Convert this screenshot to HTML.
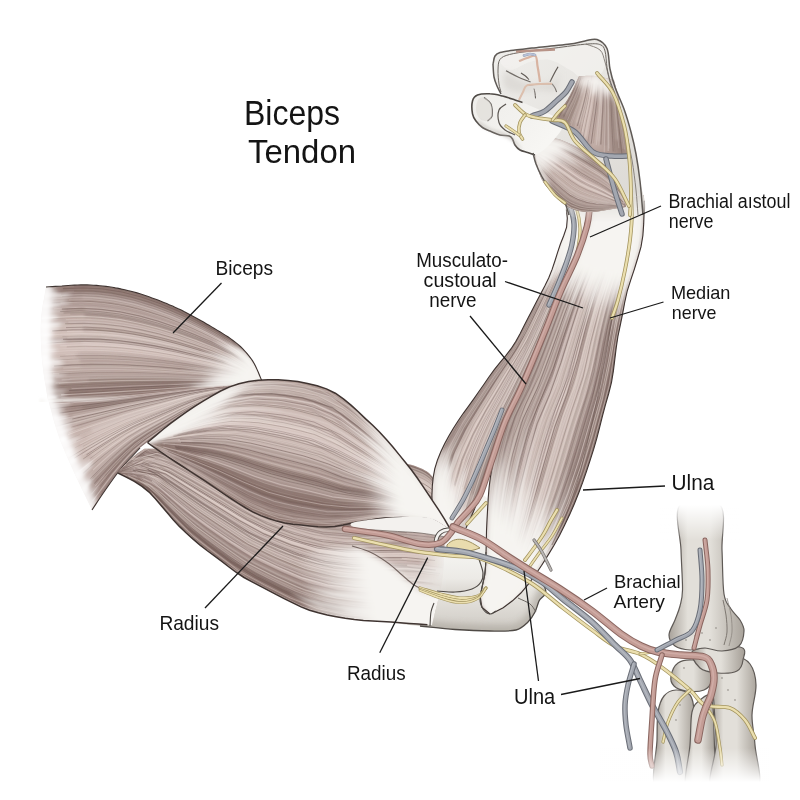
<!DOCTYPE html>
<html><head><meta charset="utf-8"><style>
html,body{margin:0;padding:0;background:#fff;width:800px;height:800px;overflow:hidden}
svg{display:block}
text{font-family:"Liberation Sans",sans-serif;fill:#141414}
</style></head><body>
<svg width="800" height="800" viewBox="0 0 800 800">
<defs><filter id="bl3" x="-20%" y="-20%" width="140%" height="140%"><feGaussianBlur stdDeviation="3"/></filter><filter id="bl06" x="-5%" y="-5%" width="110%" height="110%"><feGaussianBlur stdDeviation="0.6"/></filter><filter id="bl15" x="-10%" y="-10%" width="120%" height="120%"><feGaussianBlur stdDeviation="1.5"/></filter><linearGradient id="g1" gradientUnits="userSpaceOnUse" x1="470.0" y1="545.0" x2="470.0" y2="636.0"><stop offset="0" stop-color="#f2f1ee" stop-opacity="1"/><stop offset="0.5" stop-color="#e8e6e1" stop-opacity="1"/><stop offset="0.85" stop-color="#d4d0ca" stop-opacity="1"/><stop offset="1" stop-color="#c8c4bd" stop-opacity="1"/></linearGradient><clipPath id="c1"><path id="p1" d="M360.0,535.0 C363.3,520.8 384.2,526.7 400.0,525.0 C415.8,523.3 443.3,527.8 455.0,525.0 C466.7,522.2 464.7,512.5 470.0,508.0 C475.3,503.5 478.7,490.2 487.0,498.0 C495.3,505.8 510.3,540.0 520.0,555.0 C529.7,570.0 541.8,580.3 545.0,588.0 C548.2,595.7 540.7,597.0 539.0,601.0 C537.3,605.0 536.8,608.5 535.0,612.0 C533.2,615.5 531.2,619.0 528.0,622.0 C524.8,625.0 522.3,628.5 516.0,630.0 C509.7,631.5 500.2,631.1 490.0,631.0 C479.8,630.9 466.7,630.3 455.0,629.5 C443.3,628.7 430.0,627.2 420.0,626.0 C410.0,624.8 401.7,624.7 395.0,622.0 C388.3,619.3 385.8,624.5 380.0,610.0 C374.2,595.5 356.7,549.2 360.0,535.0 Z"/></clipPath><clipPath id="c2"><path id="p2" d="M398.0,462.0 L399.3,462.3 L400.6,462.6 L402.0,462.8 L403.3,463.1 L404.6,463.4 L406.0,463.6 L407.3,463.9 L408.6,464.2 L409.9,464.5 L411.3,464.8 L412.6,465.2 L413.9,465.6 L415.1,466.0 L416.4,466.5 L417.7,467.0 L418.9,467.5 L420.2,468.0 L421.4,468.5 L422.7,469.1 L423.9,469.7 L425.1,470.4 L426.2,471.1 L427.4,471.8 L428.4,472.6 L429.5,473.5 L430.4,474.4 L431.4,475.5 L432.2,476.5 L433.0,477.6 L433.7,478.8 L434.4,479.9 L435.1,481.1 L435.7,482.3 L436.4,483.5 L437.0,484.7 L437.7,485.9 L438.3,487.1 L439.0,488.3 L439.6,489.4 L440.0,490.0 L440.3,491.5 L440.5,493.0 L440.8,494.6 L441.0,496.1 L441.3,497.6 L441.5,499.1 L441.8,500.6 L442.0,502.2 L442.3,503.7 L442.5,505.2 L442.8,506.7 L443.0,508.2 L443.3,509.7 L443.5,511.3 L443.8,512.8 L444.1,514.3 L444.3,515.8 L444.6,517.3 L444.8,518.9 L445.0,520.0 L444.5,519.7 L443.5,519.1 L442.6,518.5 L441.6,517.9 L440.6,517.3 L439.7,516.7 L438.7,516.1 L437.7,515.5 L436.8,514.9 L435.8,514.3 L434.8,513.7 L433.9,513.1 L432.9,512.5 L431.9,511.9 L430.9,511.3 L430.0,510.7 L429.0,510.1 L428.0,509.5 L427.1,508.9 L426.1,508.3 L425.1,507.7 L424.2,507.1 L423.2,506.6 L422.2,506.0 L421.1,505.5 L420.1,505.1 L419.1,504.6 L418.0,504.2 L416.9,503.8 L415.9,503.4 L414.8,503.0 L413.7,502.7 L412.6,502.4 L411.5,502.0 L410.4,501.7 L409.3,501.4 L408.3,501.0 L407.2,500.7 L406.1,500.4 L405.0,500.0 L404.7,498.6 L404.4,496.6 L404.0,494.7 L403.7,492.8 L403.3,490.9 L403.0,488.9 L402.6,487.0 L402.3,485.1 L401.9,483.2 L401.5,481.2 L401.2,479.3 L400.8,477.4 L400.5,475.5 L400.1,473.5 L399.8,471.6 L399.4,469.7 L399.1,467.8 L398.7,465.8 L398.4,463.9 L398.0,462.0 Z"/></clipPath><linearGradient id="g2" gradientUnits="userSpaceOnUse" x1="531.3" y1="484.2" x2="493.2" y2="519.1"><stop offset="0" stop-color="#f6f4f1" stop-opacity="0"/><stop offset="1" stop-color="#f6f4f1" stop-opacity="1"/></linearGradient><linearGradient id="g3" x1="1" y1="0" x2="0" y2="1"><stop offset="0" stop-color="#f6f4f1" stop-opacity="0"/><stop offset="0.3" stop-color="#f6f4f1"/><stop offset="1" stop-color="#f6f4f1"/></linearGradient><linearGradient id="g4" gradientUnits="userSpaceOnUse" x1="589.0" y1="308.9" x2="596.9" y2="270.1"><stop offset="0" stop-color="#f6f4f1" stop-opacity="0"/><stop offset="1" stop-color="#f6f4f1" stop-opacity="1"/></linearGradient><linearGradient id="g5" x1="0" y1="1" x2="1" y2="0"><stop offset="0" stop-color="#f6f4f1" stop-opacity="0"/><stop offset="0.3" stop-color="#f6f4f1"/><stop offset="1" stop-color="#f6f4f1"/></linearGradient><clipPath id="c3"><path id="p3" d="M490.0,614.0 L481.8,607.1 L480.2,596.4 L482.4,585.6 L484.7,574.9 L485.7,564.0 L486.0,553.0 L486.3,542.0 L486.5,531.1 L487.0,520.1 L487.6,509.1 L488.2,498.2 L489.1,487.2 L490.5,476.3 L492.4,465.5 L494.5,454.7 L497.0,444.0 L499.8,433.4 L503.0,422.9 L506.9,412.6 L511.8,402.8 L517.6,393.5 L522.6,383.7 L527.0,373.7 L531.3,363.6 L535.5,353.4 L539.6,343.2 L543.7,333.1 L547.9,322.9 L551.8,312.6 L555.8,302.4 L559.9,292.2 L564.4,282.2 L569.1,272.3 L573.8,262.3 L578.1,252.3 L582.2,242.0 L585.9,231.7 L589.0,221.2 L591.1,210.4 L592.0,205.0 L594.6,204.5 L597.3,204.0 L599.9,203.5 L602.5,203.0 L605.2,202.5 L607.8,202.0 L610.4,201.5 L613.1,200.9 L615.7,200.4 L618.3,199.9 L621.0,199.4 L623.6,198.9 L626.2,198.4 L628.9,197.9 L631.5,197.4 L634.1,196.9 L636.8,196.4 L639.4,195.9 L642.0,195.4 L644.0,195.0 L644.1,200.8 L644.1,212.4 L643.7,223.9 L642.9,235.5 L641.0,246.9 L637.8,258.0 L634.4,269.1 L630.7,280.1 L627.2,291.1 L624.7,302.4 L622.6,313.8 L620.3,325.1 L617.9,336.5 L616.2,347.9 L614.8,359.4 L613.4,370.9 L611.5,382.3 L608.7,393.5 L605.5,404.6 L602.5,415.8 L599.7,427.1 L596.8,438.3 L593.6,449.4 L590.1,460.4 L586.5,471.4 L582.7,482.4 L578.6,493.2 L574.3,504.0 L569.7,514.6 L564.7,525.0 L559.5,535.4 L553.9,545.5 L547.9,555.4 L541.7,565.2 L535.3,574.8 L528.4,584.1 L520.9,593.0 L512.5,600.8 L503.2,607.8 L493.0,613.0 L492.9,613.0 L492.7,613.1 L492.6,613.1 L492.4,613.2 L492.3,613.2 L492.1,613.3 L492.0,613.3 L491.8,613.4 L491.7,613.4 L491.5,613.5 L491.4,613.5 L491.2,613.6 L491.1,613.6 L490.9,613.7 L490.8,613.7 L490.6,613.8 L490.5,613.8 L490.3,613.9 L490.2,613.9 L490.0,614.0 Z"/></clipPath><linearGradient id="g6" gradientUnits="userSpaceOnUse" x1="457.8" y1="480.8" x2="442.9" y2="484.9"><stop offset="0" stop-color="#f6f4f1" stop-opacity="0"/><stop offset="1" stop-color="#f6f4f1" stop-opacity="1"/></linearGradient><linearGradient id="g7" x1="0" y1="0" x2="0" y2="1"><stop offset="0" stop-color="#f6f4f1" stop-opacity="0"/><stop offset="0.3" stop-color="#f6f4f1"/><stop offset="1" stop-color="#f6f4f1"/></linearGradient><linearGradient id="g8" gradientUnits="userSpaceOnUse" x1="560.4" y1="272.2" x2="548.8" y2="256.7"><stop offset="0" stop-color="#f6f4f1" stop-opacity="0"/><stop offset="1" stop-color="#f6f4f1" stop-opacity="1"/></linearGradient><clipPath id="c4"><path id="p4" d="M433.0,522.0 L432.6,513.1 L432.1,504.2 L431.9,495.2 L432.3,486.3 L433.2,477.4 L434.8,468.6 L437.4,460.1 L440.8,451.8 L444.6,443.7 L448.8,435.9 L453.4,428.2 L458.2,420.7 L463.3,413.3 L468.6,406.1 L473.8,398.9 L478.9,391.5 L484.0,384.2 L489.1,376.8 L494.3,369.6 L499.9,362.6 L505.6,355.8 L511.1,348.7 L515.9,341.2 L520.2,333.4 L524.2,325.4 L528.3,317.4 L532.5,309.5 L536.6,301.6 L540.7,293.7 L544.9,285.8 L548.8,277.8 L552.1,269.4 L554.9,261.0 L557.6,252.4 L560.4,244.0 L563.7,235.7 L566.6,227.2 L567.3,218.3 L566.4,209.5 L566.0,205.0 L567.1,205.0 L568.2,205.0 L569.3,205.0 L570.5,205.0 L571.6,205.0 L572.7,205.0 L573.8,205.0 L574.9,205.0 L576.0,205.0 L577.1,205.0 L578.3,205.0 L579.4,205.0 L580.5,205.0 L581.6,205.0 L582.7,205.0 L583.8,205.0 L584.9,205.0 L586.1,205.0 L587.2,205.0 L588.0,205.0 L587.4,209.3 L586.3,218.0 L584.6,226.6 L582.8,235.2 L580.6,243.7 L578.0,252.1 L574.9,260.3 L571.2,268.2 L567.4,276.1 L563.6,284.0 L560.0,292.0 L556.7,300.1 L553.5,308.3 L550.4,316.5 L547.2,324.6 L543.9,332.8 L540.5,340.9 L537.2,349.0 L533.8,357.1 L530.4,365.2 L527.0,373.2 L523.6,381.3 L520.1,389.3 L516.4,397.3 L512.6,405.2 L508.8,413.1 L505.3,421.1 L502.2,429.3 L499.4,437.6 L496.6,445.9 L493.9,454.3 L491.1,462.6 L488.3,470.9 L485.5,479.2 L482.7,487.5 L479.7,495.7 L476.6,503.9 L473.3,512.0 L469.7,520.1 L466.0,528.0 L464.7,527.8 L463.1,527.5 L461.4,527.2 L459.7,526.9 L458.1,526.6 L456.4,526.3 L454.7,525.9 L453.1,525.6 L451.4,525.3 L449.7,525.0 L448.0,524.7 L446.4,524.4 L444.7,524.1 L443.0,523.8 L441.4,523.5 L439.7,523.2 L438.0,522.9 L436.3,522.6 L434.7,522.3 L433.0,522.0 Z"/></clipPath><linearGradient id="g9" gradientUnits="userSpaceOnUse" x1="212.8" y1="369.4" x2="225.2" y2="386.5"><stop offset="0" stop-color="#f6f4f1" stop-opacity="0"/><stop offset="1" stop-color="#f6f4f1" stop-opacity="1"/></linearGradient><linearGradient id="g10" x1="0" y1="0" x2="1" y2="1"><stop offset="0" stop-color="#f6f4f1" stop-opacity="0"/><stop offset="0.3" stop-color="#f6f4f1"/><stop offset="1" stop-color="#f6f4f1"/></linearGradient><linearGradient id="g11" x1="0" y1="0" x2="1" y2="0"><stop offset="0" stop-color="#f6f4f1" stop-opacity="0"/><stop offset="0.3" stop-color="#f6f4f1"/><stop offset="1" stop-color="#f6f4f1"/></linearGradient><linearGradient id="g12" gradientUnits="userSpaceOnUse" x1="58.5" y1="343.3" x2="46.7" y2="343.3"><stop offset="0" stop-color="#ffffff" stop-opacity="0"/><stop offset="1" stop-color="#ffffff" stop-opacity="1"/></linearGradient><linearGradient id="g13" x1="1" y1="0" x2="0" y2="0"><stop offset="0" stop-color="#ffffff" stop-opacity="0"/><stop offset="0.3" stop-color="#ffffff"/><stop offset="1" stop-color="#ffffff"/></linearGradient><clipPath id="c5"><path id="p5" d="M46.0,287.0 L52.3,286.6 L58.6,286.2 L65.0,285.7 L71.3,285.3 L77.6,285.0 L83.9,284.9 L90.3,285.0 L96.6,285.4 L102.9,286.0 L109.1,286.8 L115.4,287.9 L121.6,289.1 L127.8,290.5 L133.9,292.0 L140.0,293.8 L146.0,295.8 L152.0,297.9 L157.9,300.1 L163.8,302.4 L169.7,304.9 L175.4,307.4 L181.2,310.1 L186.8,313.0 L192.4,316.0 L197.9,319.0 L203.5,322.1 L209.0,325.3 L214.4,328.5 L219.9,331.7 L225.2,335.1 L230.5,338.6 L235.5,342.4 L240.4,346.5 L244.8,351.0 L248.9,355.8 L252.6,360.9 L255.7,366.5 L258.3,372.3 L260.7,378.1 L262.0,381.0 L261.8,381.1 L261.6,381.2 L261.4,381.3 L261.2,381.4 L261.0,381.5 L260.8,381.6 L260.6,381.7 L260.4,381.8 L260.2,381.9 L260.0,382.0 L259.8,382.1 L259.6,382.2 L259.4,382.3 L259.2,382.4 L259.0,382.5 L258.8,382.6 L258.6,382.7 L258.4,382.8 L258.2,382.9 L258.0,383.0 L255.3,383.2 L250.0,383.7 L244.7,384.1 L239.4,384.6 L234.1,385.1 L228.8,385.7 L223.5,386.3 L218.2,386.9 L212.9,387.6 L207.6,388.2 L202.3,388.8 L197.0,389.3 L191.6,389.9 L186.3,390.4 L181.0,391.0 L175.7,391.5 L170.4,392.1 L165.1,392.6 L159.8,393.1 L154.5,393.6 L149.2,394.1 L143.8,394.5 L138.5,395.0 L133.2,395.5 L127.9,395.9 L122.6,396.3 L117.2,396.7 L111.9,397.1 L106.6,397.5 L101.3,397.9 L96.0,398.3 L90.6,398.6 L85.3,398.9 L80.0,399.2 L74.6,399.5 L69.3,399.8 L64.0,400.1 L58.7,400.4 L53.3,400.7 L48.0,401.0 L47.3,396.7 L46.4,390.9 L45.5,385.2 L44.5,379.5 L43.6,373.7 L42.9,368.0 L42.2,362.2 L41.7,356.4 L41.3,350.6 L41.0,344.8 L40.8,338.9 L40.7,333.1 L40.7,327.3 L40.9,321.5 L41.3,315.7 L42.0,309.9 L42.9,304.2 L44.0,298.5 L45.0,292.7 L46.0,287.0 Z"/></clipPath><linearGradient id="g14" gradientUnits="userSpaceOnUse" x1="80.5" y1="448.6" x2="69.1" y2="452.9"><stop offset="0" stop-color="#ffffff" stop-opacity="0"/><stop offset="1" stop-color="#ffffff" stop-opacity="1"/></linearGradient><linearGradient id="g15" x1="1" y1="0" x2="0" y2="1"><stop offset="0" stop-color="#ffffff" stop-opacity="0"/><stop offset="0.3" stop-color="#ffffff"/><stop offset="1" stop-color="#ffffff"/></linearGradient><clipPath id="c6"><path id="p6" d="M48.0,399.0 L52.9,398.8 L57.7,398.7 L62.6,398.5 L67.5,398.3 L72.4,398.2 L77.2,398.0 L82.1,397.8 L87.0,397.6 L91.8,397.4 L96.7,397.2 L101.6,396.9 L106.4,396.6 L111.3,396.3 L116.2,395.9 L121.0,395.5 L125.9,395.1 L130.8,394.7 L135.6,394.3 L140.5,393.9 L145.3,393.4 L150.2,393.0 L155.0,392.5 L159.9,392.1 L164.7,391.6 L169.6,391.1 L174.4,390.6 L179.3,390.1 L184.1,389.6 L189.0,389.1 L193.8,388.6 L198.7,388.1 L203.5,387.7 L208.4,387.3 L213.3,386.9 L218.1,386.6 L223.0,386.2 L227.8,385.9 L232.7,385.5 L237.6,385.2 L240.0,385.0 L240.0,385.2 L240.0,385.4 L240.0,385.6 L240.0,385.8 L240.0,386.0 L240.0,386.2 L240.0,386.4 L240.0,386.6 L240.0,386.8 L240.0,387.0 L240.0,387.2 L240.0,387.4 L240.0,387.6 L240.0,387.8 L240.0,388.0 L240.0,388.2 L240.0,388.4 L240.0,388.6 L240.0,388.8 L240.0,389.0 L237.7,390.0 L233.1,391.8 L228.5,393.7 L223.9,395.5 L219.4,397.3 L214.8,399.2 L210.2,401.1 L205.7,403.2 L201.3,405.3 L196.9,407.7 L192.7,410.2 L188.5,412.9 L184.4,415.7 L180.4,418.5 L176.4,421.4 L172.4,424.3 L168.3,427.2 L164.2,430.0 L160.2,432.8 L156.1,435.6 L152.1,438.5 L148.1,441.5 L144.2,444.5 L140.4,447.6 L136.8,451.0 L133.3,454.5 L129.9,458.1 L126.7,461.9 L123.5,465.7 L120.4,469.5 L117.3,473.4 L114.3,477.3 L111.4,481.3 L108.6,485.4 L105.8,489.5 L102.9,493.5 L100.2,497.6 L97.4,501.7 L94.7,505.9 L92.0,510.0 L90.0,505.9 L87.3,500.5 L84.7,495.0 L82.0,489.6 L79.4,484.1 L76.8,478.6 L74.2,473.1 L71.7,467.6 L69.3,462.1 L66.8,456.5 L64.5,450.9 L62.1,445.3 L59.9,439.7 L57.9,434.0 L56.0,428.2 L54.2,422.4 L52.6,416.6 L51.1,410.7 L49.5,404.9 L48.0,399.0 Z"/></clipPath><linearGradient id="g16" gradientUnits="userSpaceOnUse" x1="45.0" y1="400.0" x2="140.0" y2="396.0"><stop offset="0" stop-color="#f4f2ef" stop-opacity="0.95"/><stop offset="0.5" stop-color="#f4f2ef" stop-opacity="0.6"/><stop offset="1" stop-color="#f4f2ef" stop-opacity="0"/></linearGradient><linearGradient id="g17" gradientUnits="userSpaceOnUse" x1="305.0" y1="612.0" x2="372.0" y2="600.0"><stop offset="0" stop-color="#f6f4f1" stop-opacity="0"/><stop offset="1" stop-color="#f6f4f1" stop-opacity="1"/></linearGradient><clipPath id="c7"><path id="p7" d="M118.0,472.0 L124.1,465.5 L130.3,459.1 L137.1,453.4 L144.5,448.5 L153.3,448.4 L161.9,450.8 L170.2,453.9 L178.5,457.3 L186.6,461.0 L194.6,464.8 L202.6,468.9 L210.5,473.0 L218.3,477.1 L226.2,481.4 L233.9,485.8 L241.6,490.3 L249.3,494.7 L257.3,498.7 L265.4,502.4 L273.7,505.7 L282.0,508.7 L290.5,511.4 L299.1,513.8 L307.8,515.8 L316.5,517.5 L325.4,518.7 L334.2,519.6 L343.1,520.1 L352.0,520.0 L360.9,519.4 L369.8,518.7 L378.7,518.1 L387.6,517.6 L396.5,517.1 L405.4,516.8 L414.3,517.0 L423.1,517.9 L431.9,519.4 L440.6,521.2 L445.0,522.0 L444.8,527.3 L444.7,532.6 L444.7,537.8 L444.6,543.1 L444.6,548.4 L444.5,553.7 L444.3,559.0 L444.0,564.2 L443.6,569.5 L443.0,574.7 L442.3,580.0 L441.4,585.2 L440.3,590.3 L439.2,595.5 L438.0,600.6 L436.7,605.8 L435.4,610.9 L434.1,616.0 L432.9,621.1 L432.0,625.0 L427.4,624.7 L418.3,624.0 L409.2,623.4 L400.0,622.7 L390.9,622.1 L381.7,621.5 L372.6,621.0 L363.4,620.4 L354.3,619.5 L345.2,618.3 L336.2,616.7 L327.2,614.9 L318.3,612.8 L309.5,610.2 L301.0,606.9 L292.8,602.9 L284.6,598.8 L276.4,594.7 L268.3,590.4 L260.2,586.1 L252.1,581.8 L244.0,577.5 L236.3,572.5 L229.0,567.0 L221.8,561.4 L214.4,555.9 L207.0,550.5 L199.8,544.8 L192.8,538.9 L186.0,532.8 L179.4,526.4 L173.2,519.7 L167.3,512.7 L161.3,505.7 L155.4,498.8 L149.1,492.1 L142.0,486.3 L134.3,481.4 L126.2,477.1 L118.0,473.0 L118.0,473.0 L118.0,472.9 L118.0,472.9 L118.0,472.8 L118.0,472.8 L118.0,472.7 L118.0,472.7 L118.0,472.6 L118.0,472.6 L118.0,472.5 L118.0,472.5 L118.0,472.4 L118.0,472.4 L118.0,472.3 L118.0,472.3 L118.0,472.2 L118.0,472.2 L118.0,472.1 L118.0,472.1 L118.0,472.0 Z"/></clipPath><linearGradient id="g18" gradientUnits="userSpaceOnUse" x1="364.2" y1="467.1" x2="397.9" y2="464.6"><stop offset="0" stop-color="#f6f4f1" stop-opacity="0"/><stop offset="1" stop-color="#f6f4f1" stop-opacity="1"/></linearGradient><linearGradient id="g19" gradientUnits="userSpaceOnUse" x1="148.0" y1="442.1" x2="260.5" y2="392.5"><stop offset="0" stop-color="#f7f5f2" stop-opacity="1"/><stop offset="0.75" stop-color="#f7f5f2" stop-opacity="0.95"/><stop offset="1" stop-color="#f7f5f2" stop-opacity="0"/></linearGradient><clipPath id="c8"><path id="p8" d="M148.0,442.0 L155.6,435.7 L163.2,429.3 L170.9,423.1 L178.8,417.3 L186.9,411.6 L195.1,406.1 L203.5,400.9 L212.0,395.8 L220.6,391.0 L229.6,386.9 L238.9,383.8 L248.6,381.6 L258.3,380.3 L268.2,379.8 L278.1,379.8 L287.9,380.4 L297.7,381.6 L307.5,383.4 L317.1,385.7 L326.4,388.9 L335.3,393.2 L343.4,398.8 L351.0,405.1 L358.3,411.8 L365.4,418.6 L372.7,425.3 L379.7,432.3 L386.4,439.5 L392.9,447.0 L399.1,454.6 L405.3,462.3 L411.5,470.0 L417.3,478.0 L422.8,486.2 L428.3,494.4 L433.8,502.6 L439.3,510.8 L444.5,519.2 L449.5,527.8 L452.0,532.0 L452.0,532.0 L452.0,532.0 L452.0,532.0 L452.0,532.0 L452.0,532.0 L452.0,532.0 L452.0,532.0 L452.0,532.0 L452.0,532.0 L452.0,532.0 L452.0,532.0 L452.0,532.0 L452.0,532.0 L452.0,532.0 L452.0,532.0 L452.0,532.0 L452.0,532.0 L452.0,532.0 L452.0,532.0 L452.0,532.0 L448.5,529.7 L441.7,524.8 L434.4,520.6 L426.4,518.4 L418.0,518.1 L409.6,517.8 L401.2,517.6 L392.8,517.7 L384.4,518.1 L376.1,519.1 L367.8,520.4 L359.5,521.7 L351.3,523.3 L343.1,525.1 L334.8,526.6 L326.5,527.1 L318.1,526.8 L309.7,526.0 L301.4,525.1 L293.0,524.3 L284.7,523.1 L276.6,521.1 L268.6,518.5 L260.8,515.6 L253.1,512.1 L245.8,508.0 L238.7,503.6 L231.6,499.0 L224.6,494.4 L217.7,489.7 L210.8,484.9 L203.8,480.2 L196.8,475.6 L189.8,471.1 L182.7,466.5 L175.7,462.0 L168.6,457.4 L161.7,452.7 L154.8,447.9 L148.0,443.0 L148.0,443.0 L148.0,442.9 L148.0,442.9 L148.0,442.8 L148.0,442.8 L148.0,442.7 L148.0,442.7 L148.0,442.6 L148.0,442.6 L148.0,442.5 L148.0,442.5 L148.0,442.4 L148.0,442.4 L148.0,442.3 L148.0,442.3 L148.0,442.2 L148.0,442.2 L148.0,442.1 L148.0,442.1 L148.0,442.0 Z"/></clipPath><linearGradient id="g20" gradientUnits="userSpaceOnUse" x1="450.0" y1="555.0" x2="450.0" y2="594.0"><stop offset="0" stop-color="#f4f3f0" stop-opacity="1"/><stop offset="0.6" stop-color="#eceae6" stop-opacity="1"/><stop offset="1" stop-color="#d9d5cf" stop-opacity="1"/></linearGradient><linearGradient id="g21" gradientUnits="userSpaceOnUse" x1="418.0" y1="0.0" x2="446.0" y2="0.0"><stop offset="0" stop-color="#ffffff" stop-opacity="0"/><stop offset="1" stop-color="#ffffff" stop-opacity="1"/></linearGradient><mask id="bulmask" maskUnits="userSpaceOnUse" x="0" y="0" width="800" height="800"><rect x="400" y="540" width="100" height="70" fill="url(#g21)"/></mask><linearGradient id="g22" gradientUnits="userSpaceOnUse" x1="656.0" y1="790.0" x2="694.0" y2="790.0"><stop offset="0" stop-color="#a9a39b" stop-opacity="1"/><stop offset="0.25" stop-color="#e2dfd9" stop-opacity="1"/><stop offset="0.55" stop-color="#e2dfd9" stop-opacity="1"/><stop offset="1" stop-color="#a9a39b" stop-opacity="1"/></linearGradient><linearGradient id="g23" gradientUnits="userSpaceOnUse" x1="686.0" y1="790.0" x2="714.0" y2="790.0"><stop offset="0" stop-color="#a9a39b" stop-opacity="1"/><stop offset="0.25" stop-color="#e2dfd9" stop-opacity="1"/><stop offset="0.55" stop-color="#e2dfd9" stop-opacity="1"/><stop offset="1" stop-color="#a9a39b" stop-opacity="1"/></linearGradient><linearGradient id="g24" gradientUnits="userSpaceOnUse" x1="712.0" y1="790.0" x2="757.0" y2="790.0"><stop offset="0" stop-color="#a9a39b" stop-opacity="1"/><stop offset="0.25" stop-color="#e2dfd9" stop-opacity="1"/><stop offset="0.55" stop-color="#e2dfd9" stop-opacity="1"/><stop offset="1" stop-color="#a9a39b" stop-opacity="1"/></linearGradient><linearGradient id="g25" gradientUnits="userSpaceOnUse" x1="671.0" y1="676.0" x2="712.0" y2="676.0"><stop offset="0" stop-color="#a9a39b" stop-opacity="1"/><stop offset="0.25" stop-color="#e2dfd9" stop-opacity="1"/><stop offset="0.55" stop-color="#e2dfd9" stop-opacity="1"/><stop offset="1" stop-color="#a9a39b" stop-opacity="1"/></linearGradient><linearGradient id="g26" gradientUnits="userSpaceOnUse" x1="694.0" y1="650.0" x2="743.0" y2="650.0"><stop offset="0" stop-color="#a9a39b" stop-opacity="1"/><stop offset="0.25" stop-color="#e2dfd9" stop-opacity="1"/><stop offset="0.55" stop-color="#e2dfd9" stop-opacity="1"/><stop offset="1" stop-color="#a9a39b" stop-opacity="1"/></linearGradient><linearGradient id="g27" gradientUnits="userSpaceOnUse" x1="669.0" y1="505.0" x2="744.0" y2="505.0"><stop offset="0" stop-color="#a9a39b" stop-opacity="1"/><stop offset="0.25" stop-color="#e2dfd9" stop-opacity="1"/><stop offset="0.55" stop-color="#e2dfd9" stop-opacity="1"/><stop offset="1" stop-color="#a9a39b" stop-opacity="1"/></linearGradient><linearGradient id="g28" gradientUnits="userSpaceOnUse" x1="0.0" y1="505.0" x2="0.0" y2="540.0"><stop offset="0" stop-color="#ffffff" stop-opacity="1"/><stop offset="1" stop-color="#ffffff" stop-opacity="0"/></linearGradient><linearGradient id="g29" gradientUnits="userSpaceOnUse" x1="0.0" y1="748.0" x2="0.0" y2="782.0"><stop offset="0" stop-color="#ffffff" stop-opacity="0"/><stop offset="1" stop-color="#ffffff" stop-opacity="1"/></linearGradient><linearGradient id="g30" gradientUnits="userSpaceOnUse" x1="500.0" y1="50.0" x2="640.0" y2="200.0"><stop offset="0" stop-color="#eeedea" stop-opacity="1"/><stop offset="0.5" stop-color="#e6e4e0" stop-opacity="1"/><stop offset="1" stop-color="#dcd9d4" stop-opacity="1"/></linearGradient><linearGradient id="g31" gradientUnits="userSpaceOnUse" x1="0.0" y1="192.0" x2="0.0" y2="222.0"><stop offset="0" stop-color="#ffffff" stop-opacity="1"/><stop offset="1" stop-color="#ffffff" stop-opacity="0"/></linearGradient><mask id="fistmask" maskUnits="userSpaceOnUse" x="0" y="0" width="800" height="800"><rect x="0" y="0" width="800" height="192" fill="#fff"/><rect x="0" y="192" width="800" height="40" fill="url(#g31)"/></mask><linearGradient id="g32" gradientUnits="userSpaceOnUse" x1="597.1" y1="95.4" x2="601.3" y2="85.4"><stop offset="0" stop-color="#f6f4f1" stop-opacity="0"/><stop offset="1" stop-color="#f6f4f1" stop-opacity="0.95"/></linearGradient><linearGradient id="g33" x1="0" y1="1" x2="0" y2="0"><stop offset="0" stop-color="#f6f4f1" stop-opacity="0"/><stop offset="0.3" stop-color="#f6f4f1"/><stop offset="1" stop-color="#f6f4f1"/></linearGradient><linearGradient id="g34" x1="1" y1="1" x2="0" y2="0"><stop offset="0" stop-color="#f6f4f1" stop-opacity="0"/><stop offset="0.3" stop-color="#f6f4f1"/><stop offset="1" stop-color="#f6f4f1"/></linearGradient><clipPath id="c9"><path id="p9" d="M579.0,76.0 L578.5,77.1 L578.0,78.2 L577.5,79.3 L577.0,80.4 L576.4,81.5 L575.9,82.6 L575.4,83.7 L574.9,84.8 L574.4,85.9 L573.9,87.0 L573.4,88.1 L572.9,89.2 L572.4,90.3 L571.8,91.4 L571.3,92.5 L570.7,93.6 L570.2,94.7 L569.6,95.7 L569.0,96.8 L568.4,97.8 L567.8,98.9 L567.2,99.9 L566.5,101.0 L565.9,102.0 L565.2,103.0 L564.5,104.0 L563.9,105.0 L563.2,106.1 L562.6,107.1 L561.9,108.1 L561.3,109.1 L560.7,110.2 L560.0,111.2 L559.4,112.3 L558.8,113.3 L558.2,114.4 L557.6,115.4 L556.9,116.4 L556.3,117.5 L556.0,118.0 L559.5,120.5 L563.0,123.0 L566.5,125.4 L570.0,128.0 L573.4,130.6 L576.6,133.5 L579.4,136.8 L582.0,140.2 L584.7,143.5 L587.7,146.6 L591.2,149.1 L595.1,150.9 L599.3,152.1 L603.5,152.9 L607.7,153.5 L612.0,154.0 L616.3,154.5 L620.5,155.0 L624.8,155.5 L628.0,156.0 L627.8,155.0 L627.5,153.1 L627.2,151.2 L626.9,149.2 L626.6,147.3 L626.3,145.4 L626.0,143.4 L625.7,141.5 L625.3,139.6 L625.0,137.6 L624.7,135.7 L624.4,133.8 L624.1,131.8 L623.8,129.9 L623.5,128.0 L623.2,126.0 L622.9,124.1 L622.6,122.2 L622.3,120.2 L622.0,118.3 L621.7,116.4 L621.4,114.4 L621.1,112.5 L620.8,110.6 L620.5,108.6 L620.2,106.7 L619.9,104.8 L619.5,102.8 L619.2,100.9 L618.8,99.0 L618.4,97.1 L617.9,95.2 L617.5,93.3 L617.0,91.4 L616.5,89.5 L616.0,87.6 L615.5,85.7 L615.0,83.8 L614.5,81.9 L614.0,80.0 L612.7,79.7 L610.9,79.3 L609.2,78.8 L607.5,78.4 L605.7,77.9 L604.0,77.5 L602.2,77.1 L600.5,76.7 L598.7,76.4 L596.9,76.1 L595.2,75.9 L593.4,75.8 L591.6,75.7 L589.8,75.7 L588.0,75.7 L586.2,75.8 L584.4,75.9 L582.6,75.9 L580.8,76.0 L579.0,76.0 Z"/></clipPath><linearGradient id="g35" gradientUnits="userSpaceOnUse" x1="562.3" y1="164.9" x2="552.4" y2="151.1"><stop offset="0" stop-color="#f6f4f1" stop-opacity="0"/><stop offset="1" stop-color="#f6f4f1" stop-opacity="0.95"/></linearGradient><linearGradient id="g36" x1="1" y1="0" x2="0" y2="0"><stop offset="0" stop-color="#f6f4f1" stop-opacity="0"/><stop offset="0.3" stop-color="#f6f4f1"/><stop offset="1" stop-color="#f6f4f1"/></linearGradient><clipPath id="c10"><path id="p10" d="M533.0,145.0 L535.9,143.7 L538.8,142.3 L541.7,140.8 L544.6,139.5 L547.6,138.5 L550.8,138.0 L554.0,138.2 L557.1,138.7 L560.2,139.6 L563.2,140.7 L566.2,141.9 L569.1,143.2 L572.0,144.6 L574.9,146.0 L577.8,147.4 L580.6,148.9 L583.4,150.5 L586.1,152.1 L588.8,153.9 L591.5,155.6 L594.1,157.4 L596.8,159.2 L599.5,161.0 L602.1,162.8 L604.6,164.8 L607.0,166.9 L609.3,169.2 L611.3,171.6 L613.2,174.2 L614.9,176.9 L616.6,179.7 L618.2,182.5 L619.7,185.3 L621.1,188.1 L622.5,191.1 L623.6,194.1 L624.4,197.2 L625.0,200.3 L625.6,203.4 L626.0,205.0 L626.0,205.1 L626.0,205.2 L626.0,205.3 L626.0,205.4 L626.0,205.5 L626.0,205.6 L626.0,205.7 L626.0,205.8 L626.0,205.9 L626.0,206.0 L626.0,206.1 L626.0,206.2 L626.0,206.3 L626.0,206.4 L626.0,206.5 L626.0,206.6 L626.0,206.7 L626.0,206.8 L626.0,206.9 L626.0,207.0 L624.5,207.2 L621.6,207.7 L618.6,208.1 L615.7,208.6 L612.7,209.1 L609.8,209.6 L606.8,210.1 L603.9,210.6 L600.9,211.0 L598.0,211.4 L595.0,211.7 L592.0,211.9 L589.1,212.0 L586.1,212.0 L583.1,211.7 L580.1,211.3 L577.2,210.7 L574.4,209.8 L571.6,208.7 L568.9,207.5 L566.3,206.0 L563.8,204.3 L561.5,202.4 L559.4,200.3 L557.2,198.2 L555.1,196.1 L553.0,194.0 L551.0,191.8 L549.0,189.6 L547.0,187.3 L545.2,185.0 L543.5,182.5 L542.0,180.0 L540.7,177.3 L539.7,174.5 L538.9,171.6 L538.1,168.7 L537.5,165.8 L536.8,162.9 L536.0,160.0 L535.9,159.4 L535.7,158.7 L535.6,157.9 L535.4,157.2 L535.3,156.4 L535.1,155.6 L535.0,154.9 L534.8,154.1 L534.7,153.4 L534.5,152.6 L534.4,151.8 L534.2,151.1 L534.1,150.3 L533.9,149.6 L533.8,148.8 L533.6,148.0 L533.5,147.3 L533.3,146.5 L533.2,145.8 L533.0,145.0 Z"/></clipPath><linearGradient id="g37" gradientUnits="userSpaceOnUse" x1="480.0" y1="95.0" x2="540.0" y2="150.0"><stop offset="0" stop-color="#efeeeb" stop-opacity="1"/><stop offset="0.6" stop-color="#f3f2ef" stop-opacity="1"/><stop offset="1" stop-color="#f7f6f3" stop-opacity="1"/></linearGradient></defs>
<rect width="800" height="800" fill="#ffffff"/>
<path d="M360.0,535.0 C363.3,520.8 384.2,526.7 400.0,525.0 C415.8,523.3 443.3,527.8 455.0,525.0 C466.7,522.2 464.7,512.5 470.0,508.0 C475.3,503.5 478.7,490.2 487.0,498.0 C495.3,505.8 510.3,540.0 520.0,555.0 C529.7,570.0 541.8,580.3 545.0,588.0 C548.2,595.7 540.7,597.0 539.0,601.0 C537.3,605.0 536.8,608.5 535.0,612.0 C533.2,615.5 531.2,619.0 528.0,622.0 C524.8,625.0 522.3,628.5 516.0,630.0 C509.7,631.5 500.2,631.1 490.0,631.0 C479.8,630.9 466.7,630.3 455.0,629.5 C443.3,628.7 430.0,627.2 420.0,626.0 C410.0,624.8 401.7,624.7 395.0,622.0 C388.3,619.3 385.8,624.5 380.0,610.0 C374.2,595.5 356.7,549.2 360.0,535.0 Z" fill="url(#g1)"/><g clip-path="url(#c1)"><path d="M545.0,588.0 C543.0,592.3 540.7,597.0 539.0,601.0 C537.3,605.0 536.8,608.5 535.0,612.0 C533.2,615.5 531.2,619.0 528.0,622.0 C524.8,625.0 522.3,628.5 516.0,630.0 C509.7,631.5 500.2,631.1 490.0,631.0 C479.8,630.9 466.7,630.3 455.0,629.5 C443.3,628.7 431.7,627.2 420.0,626.0" fill="none" stroke="#b3aea6" stroke-width="12" filter="url(#bl3)" opacity="0.8"/></g><path d="M520.0,555.0 C528.3,566.0 541.8,580.3 545.0,588.0 C548.2,595.7 540.7,597.0 539.0,601.0 C537.3,605.0 536.8,608.5 535.0,612.0 C533.2,615.5 531.2,619.0 528.0,622.0 C524.8,625.0 522.3,628.5 516.0,630.0 C509.7,631.5 500.2,631.1 490.0,631.0 C479.8,630.9 466.7,630.3 455.0,629.5 C443.3,628.7 431.7,627.2 420.0,626.0" fill="none" stroke="#4f4a46" stroke-width="1.3"/><g clip-path="url(#c2)"><use href="#p2" fill="#b8a29c"/><g filter="url(#bl3)"><path d="M398.6,465.2 L402.6,466.0 L406.5,466.8 L410.5,467.7 L414.4,468.9 L418.2,470.3 L421.9,471.9 L425.5,473.8 L428.9,476.1 L431.8,478.9 L434.2,482.2 L436.3,485.6 L438.3,489.1 L440.4,492.5" stroke="#9a847e" stroke-width="11.0" fill="none"/><path d="M399.8,471.5 L403.6,472.4 L407.5,473.2 L411.3,474.2 L415.1,475.3 L418.8,476.7 L422.4,478.3 L425.9,480.2 L429.1,482.4 L432.0,485.0 L434.5,488.0 L436.8,491.2 L439.0,494.4 L441.2,497.5" stroke="#bba8a2" stroke-width="11.0" fill="none"/><path d="M400.9,477.8 L404.6,478.8 L408.4,479.6 L412.1,480.6 L415.8,481.7 L419.3,483.2 L422.8,484.8 L426.2,486.6 L429.4,488.7 L432.3,491.2 L434.9,493.9 L437.3,496.8 L439.7,499.7 L442.1,502.5" stroke="#d1bfb9" stroke-width="11.0" fill="none"/><path d="M402.1,484.2 L405.7,485.1 L409.3,486.0 L412.9,487.0 L416.5,488.2 L419.9,489.6 L423.3,491.2 L426.5,493.0 L429.6,495.1 L432.6,497.4 L435.3,499.8 L437.8,502.4 L440.3,505.0 L442.9,507.5" stroke="#d1bfb9" stroke-width="11.0" fill="none"/><path d="M403.2,490.5 L406.7,491.5 L410.2,492.4 L413.7,493.4 L417.1,494.6 L420.5,496.0 L423.7,497.6 L426.9,499.4 L429.9,501.4 L432.8,503.5 L435.6,505.7 L438.3,508.0 L441.0,510.2 L443.8,512.5" stroke="#bba8a2" stroke-width="11.0" fill="none"/><path d="M404.4,496.8 L407.8,497.9 L411.2,498.8 L414.5,499.9 L417.8,501.0 L421.1,502.4 L424.2,504.1 L427.2,505.9 L430.1,507.8 L433.1,509.7 L436.0,511.6 L438.9,513.6 L441.7,515.5 L444.6,517.5" stroke="#9a847e" stroke-width="11.0" fill="none"/></g><g filter="url(#bl15)"><path d="M403.9,464.3 L407.8,465.1 L411.6,466.0 L415.4,467.2 L419.1,468.7 L422.7,470.2 L426.2,472.1 L429.4,474.5 L432.1,477.4 L434.3,480.6 L436.2,484.1 L438.1,487.5" stroke="#75605a" stroke-width="3.88" stroke-opacity="0.14" fill="none"/><path d="M407.5,468.7 L411.1,469.5 L414.7,470.6 L418.1,471.9 L421.6,473.3 L424.9,475.0 L428.0,477.0 L430.9,479.4 L433.2,482.2 L435.3,485.3 L437.2,488.4 L439.2,491.6" stroke="#eadfda" stroke-width="4.99" stroke-opacity="0.23" fill="none"/><path d="M405.2,476.6 L408.6,477.4 L412.1,478.3 L415.5,479.3 L418.8,480.6 L422.1,482.1 L425.2,483.7 L428.2,485.6 L431.0,487.8 L433.5,490.3 L435.8,493.0 L437.9,495.7" stroke="#eadfda" stroke-width="3.90" stroke-opacity="0.32" fill="none"/><path d="M408.2,480.5 L411.4,481.3 L414.5,482.2 L417.6,483.3 L420.5,484.6 L423.5,486.0 L426.3,487.5 L429.0,489.3 L431.5,491.3 L433.8,493.6 L436.0,495.9 L438.0,498.3" stroke="#eadfda" stroke-width="4.27" stroke-opacity="0.26" fill="none"/><path d="M402.1,482.5 L405.6,483.4 L409.1,484.3 L412.7,485.2 L416.1,486.4 L419.5,487.7 L422.8,489.3 L426.0,491.0 L429.1,493.0 L432.0,495.2 L434.6,497.6 L437.1,500.2" stroke="#eadfda" stroke-width="4.16" stroke-opacity="0.32" fill="none"/><path d="M411.4,491.5 L414.5,492.3 L417.5,493.4 L420.4,494.6 L423.2,496.0 L426.0,497.6 L428.7,499.3 L431.3,501.1 L433.8,503.0 L436.2,505.0 L438.5,507.0 L440.8,509.0" stroke="#75605a" stroke-width="3.33" stroke-opacity="0.34" fill="none"/><path d="M404.9,494.9 L408.7,496.1 L412.6,497.2 L416.4,498.4 L420.1,499.9 L423.7,501.7 L427.1,503.7 L430.5,505.9 L433.8,508.1 L437.0,510.4 L440.1,512.7 L443.3,515.1" stroke="#eadfda" stroke-width="4.90" stroke-opacity="0.22" fill="none"/><path d="M407.3,499.0 L410.6,500.0 L413.9,501.0 L417.2,502.1 L420.4,503.5 L423.5,505.0 L426.4,506.8 L429.4,508.6 L432.3,510.5 L435.2,512.3 L438.1,514.2 L440.9,516.1" stroke="#eadfda" stroke-width="3.05" stroke-opacity="0.26" fill="none"/></g><g filter="url(#bl06)"><path d="M403.9,464.7 L407.8,465.4 L411.6,466.4 L415.3,467.6 L418.9,469.0 L422.5,470.5 L426.0,472.4 L429.2,474.7 L431.9,477.5 L434.1,480.7 L436.1,484.0 L438.0,487.4" stroke="#6a5450" stroke-width="1.17" stroke-opacity="0.55" fill="none"/><path d="M399.8,466.5 L403.9,467.3 L408.0,468.2 L412.1,469.2 L416.0,470.5 L419.9,472.1 L423.7,473.8 L427.3,476.0 L430.6,478.6 L433.3,481.8 L435.6,485.2 L437.7,488.8" stroke="#6a5450" stroke-width="1.21" stroke-opacity="0.40" fill="none"/><path d="M400.5,469.2 L404.6,470.1 L408.6,470.9 L412.6,472.0 L416.5,473.3 L420.4,474.8 L424.1,476.6 L427.6,478.7 L430.8,481.4 L433.5,484.4 L435.9,487.8 L438.1,491.2" stroke="#6a5450" stroke-width="0.66" stroke-opacity="0.22" fill="none"/><path d="M405.7,473.1 L409.7,474.0 L413.6,475.1 L417.4,476.5 L421.2,478.0 L424.8,479.8 L428.3,482.0 L431.4,484.6 L434.0,487.6 L436.4,490.8 L438.6,494.1 L441.0,497.3" stroke="#6a5450" stroke-width="0.77" stroke-opacity="0.25" fill="none"/><path d="M404.6,474.0 L408.2,474.8 L411.8,475.7 L415.4,476.8 L418.9,478.1 L422.3,479.6 L425.6,481.4 L428.7,483.4 L431.5,485.8 L434.0,488.5 L436.2,491.4 L438.3,494.4" stroke="#e8dbd6" stroke-width="0.95" stroke-opacity="0.21" fill="none"/><path d="M402.6,477.0 L406.4,477.9 L410.2,478.8 L414.0,479.8 L417.6,481.1 L421.2,482.7 L424.7,484.4 L428.0,486.5 L431.1,488.8 L433.8,491.6 L436.3,494.5 L438.6,497.4" stroke="#6a5450" stroke-width="0.85" stroke-opacity="0.55" fill="none"/><path d="M401.4,478.1 L405.4,479.1 L409.5,480.1 L413.5,481.1 L417.4,482.5 L421.3,484.2 L425.0,486.1 L428.5,488.3 L431.8,490.8 L434.6,493.8 L437.3,496.8 L439.8,500.0" stroke="#e8dbd6" stroke-width="0.58" stroke-opacity="0.34" fill="none"/><path d="M402.4,481.5 L406.7,482.6 L410.9,483.6 L415.1,484.9 L419.2,486.4 L423.1,488.3 L426.9,490.4 L430.5,492.9 L433.7,495.8 L436.7,498.8 L439.5,501.9 L442.4,505.0" stroke="#6a5450" stroke-width="0.68" stroke-opacity="0.54" fill="none"/><path d="M404.3,485.1 L408.1,486.1 L411.9,487.1 L415.7,488.3 L419.4,489.7 L423.0,491.4 L426.4,493.3 L429.7,495.5 L432.8,497.9 L435.7,500.6 L438.4,503.3 L441.1,506.0" stroke="#6a5450" stroke-width="0.98" stroke-opacity="0.41" fill="none"/><path d="M405.9,487.2 L409.3,488.0 L412.8,489.0 L416.2,490.1 L419.5,491.4 L422.7,492.9 L425.8,494.6 L428.8,496.5 L431.7,498.6 L434.3,500.8 L436.9,503.1 L439.4,505.5" stroke="#6a5450" stroke-width="0.79" stroke-opacity="0.45" fill="none"/><path d="M404.4,488.4 L408.0,489.4 L411.5,490.3 L415.0,491.4 L418.5,492.6 L421.8,494.1 L425.1,495.9 L428.2,497.8 L431.2,499.9 L434.0,502.1 L436.7,504.4 L439.4,506.8" stroke="#6a5450" stroke-width="0.89" stroke-opacity="0.20" fill="none"/><path d="M406.5,491.8 L410.3,492.9 L414.1,494.0 L417.8,495.3 L421.5,496.9 L425.0,498.7 L428.4,500.8 L431.6,503.0 L434.8,505.4 L437.8,507.8 L440.7,510.3 L443.7,512.8" stroke="#6a5450" stroke-width="0.97" stroke-opacity="0.21" fill="none"/><path d="M406.4,494.7 L409.9,495.7 L413.4,496.7 L416.8,497.9 L420.2,499.2 L423.4,500.9 L426.6,502.7 L429.6,504.6 L432.6,506.7 L435.5,508.7 L438.4,510.9 L441.2,513.0" stroke="#e8dbd6" stroke-width="1.04" stroke-opacity="0.46" fill="none"/><path d="M404.4,495.1 L408.1,496.2 L411.7,497.2 L415.4,498.4 L419.0,499.7 L422.4,501.3 L425.7,503.2 L429.0,505.2 L432.2,507.3 L435.3,509.5 L438.3,511.7 L441.4,513.9" stroke="#6a5450" stroke-width="0.63" stroke-opacity="0.36" fill="none"/><path d="M406.5,499.5 L410.1,500.6 L413.7,501.7 L417.3,502.9 L420.7,504.3 L424.1,506.1 L427.3,508.0 L430.5,510.1 L433.7,512.1 L436.9,514.1 L440.0,516.1 L443.2,518.1" stroke="#e8dbd6" stroke-width="0.73" stroke-opacity="0.41" fill="none"/></g></g><g clip-path="url(#c3)"><use href="#p3" fill="#b5a19b"/><g filter="url(#bl3)"><path d="M490.1,614.0 L483.5,585.4 L487.6,552.5 L489.1,519.2 L491.7,486.0 L497.6,453.1 L506.5,420.9 L521.4,391.2 L534.8,360.6 L547.2,329.6 L559.2,298.5 L572.9,268.0 L585.6,237.1 L593.4,204.7" stroke="#88736d" stroke-width="8.7" fill="none"/><path d="M490.3,613.9 L485.7,585.9 L490.7,553.2 L493.1,520.1 L496.5,486.9 L502.7,454.1 L511.7,421.8 L526.3,391.8 L539.3,361.0 L551.3,329.8 L563.0,298.4 L576.5,267.8 L588.9,236.7 L596.3,204.2" stroke="#97837d" stroke-width="8.7" fill="none"/><path d="M490.4,613.9 L487.8,586.3 L493.8,553.9 L497.2,521.0 L501.2,487.9 L507.8,455.0 L516.9,422.6 L531.1,392.4 L543.9,361.4 L555.4,330.0 L566.8,298.4 L580.1,267.6 L592.2,236.3 L599.2,203.6" stroke="#a5918b" stroke-width="8.7" fill="none"/><path d="M490.6,613.8 L490.0,586.7 L496.9,554.6 L501.3,521.8 L506.0,488.8 L512.9,455.9 L522.1,423.5 L536.0,393.0 L548.4,361.8 L559.5,330.1 L570.6,298.4 L583.7,267.4 L595.5,235.9 L602.1,203.1" stroke="#b19e98" stroke-width="8.7" fill="none"/><path d="M490.8,613.8 L492.2,587.1 L500.0,555.2 L505.3,522.7 L510.7,489.7 L518.0,456.8 L527.3,424.3 L540.9,393.6 L552.9,362.2 L563.6,330.3 L574.4,298.4 L587.3,267.2 L598.8,235.5 L605.0,202.5" stroke="#bcaaa4" stroke-width="8.7" fill="none"/><path d="M490.9,613.7 L494.3,587.5 L503.2,555.9 L509.4,523.5 L515.5,490.7 L523.2,457.8 L532.5,425.2 L545.7,394.2 L557.4,362.6 L567.7,330.5 L578.2,298.3 L590.9,267.0 L602.1,235.1 L607.9,201.9" stroke="#c6b4ae" stroke-width="8.7" fill="none"/><path d="M491.1,613.6 L496.5,587.9 L506.3,556.6 L513.4,524.4 L520.3,491.6 L528.3,458.7 L537.7,426.0 L550.6,394.8 L561.9,362.9 L571.7,330.6 L582.0,298.3 L594.5,266.7 L605.4,234.7 L610.8,201.4" stroke="#cebdb7" stroke-width="8.7" fill="none"/><path d="M491.2,613.6 L498.6,588.3 L509.4,557.3 L517.5,525.2 L525.0,492.5 L533.4,459.6 L542.9,426.8 L555.4,395.4 L566.4,363.3 L575.8,330.8 L585.8,298.3 L598.1,266.5 L608.7,234.3 L613.7,200.8" stroke="#d5c4be" stroke-width="8.7" fill="none"/><path d="M491.4,613.5 L500.8,588.7 L512.5,558.0 L521.6,526.1 L529.8,493.5 L538.5,460.5 L548.0,427.7 L560.3,396.0 L571.0,363.7 L579.9,331.0 L589.6,298.3 L601.6,266.3 L612.0,233.9 L616.6,200.3" stroke="#d9c8c2" stroke-width="8.7" fill="none"/><path d="M491.6,613.5 L502.9,589.1 L515.7,558.6 L525.6,526.9 L534.5,494.4 L543.7,461.5 L553.2,428.5 L565.1,396.6 L575.5,364.1 L584.0,331.1 L593.4,298.2 L605.2,266.1 L615.3,233.5 L619.4,199.7" stroke="#d9c8c2" stroke-width="8.7" fill="none"/><path d="M491.8,613.4 L505.1,589.6 L518.8,559.3 L529.7,527.8 L539.3,495.3 L548.8,462.4 L558.4,429.4 L570.0,397.2 L580.0,364.5 L588.1,331.3 L597.2,298.2 L608.8,265.9 L618.6,233.1 L622.3,199.2" stroke="#d5c4be" stroke-width="8.7" fill="none"/><path d="M491.9,613.4 L507.2,590.0 L521.9,560.0 L533.7,528.6 L544.1,496.3 L553.9,463.3 L563.6,430.2 L574.8,397.8 L584.5,364.9 L592.2,331.5 L600.9,298.2 L612.4,265.7 L621.9,232.7 L625.2,198.6" stroke="#cebdb7" stroke-width="8.7" fill="none"/><path d="M492.1,613.3 L509.4,590.4 L525.0,560.7 L537.8,529.5 L548.8,497.2 L559.0,464.2 L568.8,431.1 L579.7,398.4 L589.0,365.2 L596.2,331.6 L604.7,298.2 L616.0,265.5 L625.2,232.3 L628.1,198.1" stroke="#c6b4ae" stroke-width="8.7" fill="none"/><path d="M492.2,613.2 L511.5,590.8 L528.1,561.4 L541.8,530.3 L553.6,498.1 L564.1,465.2 L574.0,431.9 L584.5,399.0 L593.6,365.6 L600.3,331.8 L608.5,298.1 L619.6,265.3 L628.5,231.9 L631.0,197.5" stroke="#bcaaa4" stroke-width="8.7" fill="none"/><path d="M492.4,613.2 L513.7,591.2 L531.3,562.1 L545.9,531.2 L558.3,499.0 L569.3,466.1 L579.2,432.7 L589.4,399.6 L598.1,366.0 L604.4,331.9 L612.3,298.1 L623.2,265.1 L631.8,231.5 L633.9,196.9" stroke="#b19e98" stroke-width="8.7" fill="none"/><path d="M492.6,613.1 L515.9,591.6 L534.4,562.7 L550.0,532.0 L563.1,500.0 L574.4,467.0 L584.4,433.6 L594.2,400.2 L602.6,366.4 L608.5,332.1 L616.1,298.1 L626.8,264.9 L635.1,231.1 L636.8,196.4" stroke="#a5918b" stroke-width="8.7" fill="none"/><path d="M492.8,613.1 L518.0,592.0 L537.5,563.4 L554.0,532.9 L567.8,500.9 L579.5,467.9 L589.6,434.4 L599.1,400.8 L607.1,366.8 L612.6,332.3 L619.9,298.1 L630.4,264.7 L638.4,230.8 L639.7,195.8" stroke="#97837d" stroke-width="8.7" fill="none"/><path d="M492.9,613.0 L520.2,592.4 L540.6,564.1 L558.1,533.7 L572.6,501.8 L584.6,468.9 L594.8,435.3 L603.9,401.4 L611.6,367.2 L616.7,332.4 L623.7,298.0 L634.0,264.5 L641.7,230.4 L642.6,195.3" stroke="#88736d" stroke-width="8.7" fill="none"/></g><g filter="url(#bl15)"><path d="M487.6,556.2 L489.0,524.1 L491.4,491.9 L496.4,460.1 L504.2,428.7 L517.1,399.3 L531.2,370.3 L543.2,340.4 L554.9,310.3 L567.2,280.5 L580.5,251.0 L590.8,220.5" stroke="#eadfda" stroke-width="3.25" stroke-opacity="0.29" fill="none"/><path d="M490.0,554.8 L491.9,526.2 L494.3,497.5 L498.5,468.9 L504.9,440.7 L513.9,413.1 L527.4,387.6 L538.5,360.9 L548.9,333.9 L559.1,306.9 L570.1,280.1 L582.0,253.7" stroke="#eadfda" stroke-width="3.20" stroke-opacity="0.17" fill="none"/><path d="M490.1,570.6 L492.9,537.7 L496.0,504.6 L500.7,471.5 L508.2,438.8 L519.3,407.3 L534.4,377.5 L546.4,346.3 L558.2,314.9 L570.3,283.7 L583.9,253.1 L594.3,221.3" stroke="#eadfda" stroke-width="4.34" stroke-opacity="0.13" fill="none"/><path d="M495.7,543.6 L498.4,519.0 L501.4,494.4 L505.8,469.7 L511.5,445.3 L518.7,421.2 L529.1,398.5 L539.5,375.8 L548.2,352.3 L556.8,328.8 L565.3,305.2 L574.5,281.9" stroke="#eadfda" stroke-width="3.66" stroke-opacity="0.26" fill="none"/><path d="M498.6,536.8 L502.0,510.8 L505.9,484.8 L511.3,458.8 L518.1,433.1 L527.1,408.2 L538.9,384.6 L548.3,359.8 L557.1,334.9 L566.0,309.9 L575.3,285.1 L586.0,260.8" stroke="#eadfda" stroke-width="4.58" stroke-opacity="0.23" fill="none"/><path d="M498.0,558.5 L502.9,525.6 L508.0,492.3 L515.0,459.1 L524.1,426.2 L537.7,395.2 L550.2,363.7 L561.2,331.6 L572.2,299.5 L585.2,268.0 L597.1,236.2 L603.6,203.0" stroke="#75605a" stroke-width="3.99" stroke-opacity="0.23" fill="none"/><path d="M494.8,581.0 L501.9,548.1 L507.5,514.6 L513.5,480.7 L521.7,447.0 L532.1,413.9 L546.6,382.5 L557.8,349.9 L568.9,317.1 L580.5,284.4 L593.9,252.4 L603.4,219.2" stroke="#75605a" stroke-width="2.11" stroke-opacity="0.24" fill="none"/><path d="M496.2,582.7 L503.8,552.8 L509.7,522.2 L515.4,491.2 L522.6,460.2 L531.1,429.4 L543.0,399.9 L554.9,370.4 L564.5,340.1 L574.5,309.8 L585.4,279.9 L597.4,250.3" stroke="#75605a" stroke-width="4.68" stroke-opacity="0.15" fill="none"/><path d="M502.9,568.6 L510.3,535.8 L517.2,502.4 L524.8,468.8 L533.9,435.3 L545.9,402.8 L558.7,370.7 L568.7,337.7 L579.3,304.7 L591.6,272.3 L603.5,239.8 L609.8,205.9" stroke="#eadfda" stroke-width="2.70" stroke-opacity="0.14" fill="none"/><path d="M510.6,543.5 L517.1,514.8 L523.5,485.7 L530.8,456.6 L539.2,427.6 L550.2,399.8 L561.0,371.8 L569.4,343.1 L578.4,314.4 L587.9,285.9 L599.2,258.0 L607.8,229.3" stroke="#75605a" stroke-width="4.08" stroke-opacity="0.15" fill="none"/><path d="M506.4,571.3 L513.7,545.3 L520.4,518.9 L526.7,492.0 L533.7,465.0 L541.2,438.0 L549.9,411.5 L560.8,385.9 L569.0,359.3 L576.6,332.5 L584.7,305.8 L593.9,279.4" stroke="#75605a" stroke-width="4.22" stroke-opacity="0.20" fill="none"/><path d="M516.5,544.6 L523.1,520.2 L529.3,495.5 L535.8,470.5 L542.7,445.6 L550.3,420.8 L559.9,396.9 L568.5,372.6 L575.2,347.8 L582.3,323.0 L589.6,298.2 L598.6,274.0" stroke="#eadfda" stroke-width="4.27" stroke-opacity="0.23" fill="none"/><path d="M491.6,611.9 L505.1,580.9 L517.2,544.9 L527.3,507.7 L537.2,469.8 L548.0,431.9 L561.7,395.1 L573.5,357.7 L584.1,320.0 L596.0,282.5 L609.8,245.6 L616.6,207.0" stroke="#eadfda" stroke-width="2.48" stroke-opacity="0.24" fill="none"/><path d="M509.7,577.5 L520.5,547.8 L530.0,517.3 L538.7,486.1 L547.6,454.6 L556.9,423.2 L568.4,392.7 L577.8,361.5 L585.8,329.9 L594.7,298.5 L605.9,267.7 L615.8,236.6" stroke="#75605a" stroke-width="2.91" stroke-opacity="0.23" fill="none"/><path d="M506.1,588.3 L520.2,556.7 L531.5,523.6 L541.6,489.6 L551.5,455.2 L561.8,420.8 L574.2,387.3 L583.3,352.8 L592.3,318.2 L602.4,283.8 L614.9,250.2 L621.6,215.2" stroke="#75605a" stroke-width="4.16" stroke-opacity="0.21" fill="none"/><path d="M512.4,578.8 L524.0,550.6 L534.2,521.6 L543.2,491.8 L552.1,461.6 L560.9,431.3 L571.1,401.7 L580.9,371.8 L587.8,341.3 L596.0,310.9 L605.2,280.8 L616.0,251.2" stroke="#eadfda" stroke-width="2.01" stroke-opacity="0.17" fill="none"/><path d="M496.9,606.5 L515.5,578.2 L529.5,546.4 L541.5,513.4 L552.2,479.4 L562.5,445.0 L573.0,410.7 L584.4,376.9 L592.0,342.0 L600.8,307.3 L611.8,273.2 L622.6,239.1" stroke="#eadfda" stroke-width="2.63" stroke-opacity="0.16" fill="none"/><path d="M498.5,605.0 L519.1,573.7 L534.4,538.7 L547.3,502.3 L559.0,464.9 L570.1,427.2 L582.7,390.2 L591.8,352.2 L600.9,314.2 L612.1,276.6 L624.1,239.3 L628.1,200.5" stroke="#eadfda" stroke-width="2.50" stroke-opacity="0.23" fill="none"/><path d="M493.1,612.5 L512.9,587.0 L529.4,554.9 L543.1,521.3 L554.8,486.5 L565.7,451.1 L576.2,415.5 L587.9,380.5 L595.4,344.4 L604.1,308.4 L615.1,273.1 L626.0,237.7" stroke="#eadfda" stroke-width="4.11" stroke-opacity="0.13" fill="none"/><path d="M513.2,590.1 L531.3,558.2 L546.3,524.6 L558.9,489.5 L570.2,453.7 L580.7,417.6 L592.2,382.0 L599.3,345.3 L607.8,308.8 L618.7,272.9 L629.3,236.9 L632.3,199.6" stroke="#75605a" stroke-width="2.66" stroke-opacity="0.14" fill="none"/><path d="M501.5,605.4 L522.4,579.3 L538.5,549.4 L552.4,518.2 L564.2,485.8 L574.7,452.8 L584.3,419.4 L594.7,386.5 L601.4,352.6 L608.6,318.8 L617.0,285.2 L628.2,252.4" stroke="#eadfda" stroke-width="2.37" stroke-opacity="0.13" fill="none"/><path d="M509.6,598.9 L528.8,573.4 L544.2,545.3 L557.5,516.1 L568.9,485.8 L579.0,454.9 L587.9,423.6 L597.3,392.6 L604.1,361.0 L609.8,329.1 L616.8,297.4 L626.8,266.5" stroke="#eadfda" stroke-width="4.80" stroke-opacity="0.19" fill="none"/><path d="M509.7,599.6 L529.3,574.4 L545.1,546.6 L558.7,517.6 L570.3,487.5 L580.5,456.7 L589.4,425.6 L598.6,394.6 L605.5,363.1 L610.8,331.2 L617.8,299.6 L627.4,268.7" stroke="#75605a" stroke-width="3.03" stroke-opacity="0.14" fill="none"/><path d="M548.4,548.2 L561.3,522.9 L572.3,496.7 L581.9,469.8 L590.4,442.6 L597.7,415.1 L605.7,387.8 L610.6,359.7 L615.0,331.6 L620.8,303.7 L628.5,276.3 L637.1,249.2" stroke="#eadfda" stroke-width="2.09" stroke-opacity="0.14" fill="none"/><path d="M495.8,611.9 L525.6,585.5 L547.9,551.6 L566.3,515.4 L581.2,477.5 L593.4,438.7 L604.0,399.4 L612.2,359.5 L619.1,319.4 L628.6,279.9 L640.2,240.9 L642.3,200.3" stroke="#75605a" stroke-width="4.70" stroke-opacity="0.17" fill="none"/></g><g filter="url(#bl06)"><path d="M481.1,593.7 L486.5,560.9 L487.6,527.5 L489.6,494.2 L494.4,461.2 L502.4,428.8 L515.9,398.4 L530.4,368.4 L543.0,337.5 L555.1,306.4 L568.3,275.7 L581.7,245.1" stroke="#6a5450" stroke-width="1.25" stroke-opacity="0.20" fill="none"/><path d="M482.7,587.1 L486.9,555.4 L488.1,523.4 L490.2,491.4 L495.1,459.7 L502.9,428.6 L515.7,399.3 L529.9,370.5 L542.0,340.8 L553.7,310.9 L566.0,281.3 L579.3,252.0" stroke="#e8dbd6" stroke-width="0.66" stroke-opacity="0.50" fill="none"/><path d="M481.0,598.2 L487.2,562.9 L488.7,527.0 L491.2,491.1 L497.0,455.6 L506.5,420.8 L522.8,388.8 L536.9,355.6 L550.2,322.1 L563.4,288.6 L578.4,255.8 L590.4,221.8" stroke="#6a5450" stroke-width="1.24" stroke-opacity="0.25" fill="none"/><path d="M485.6,580.9 L489.0,549.3 L490.9,517.5 L493.7,485.6 L499.5,454.1 L507.9,423.1 L521.8,394.4 L534.9,365.1 L546.6,335.3 L558.1,305.4 L570.6,275.9 L583.4,246.5" stroke="#6a5450" stroke-width="1.23" stroke-opacity="0.32" fill="none"/><path d="M482.8,606.2 L487.7,572.8 L490.1,538.5 L492.6,504.0 L497.1,469.6 L504.9,435.7 L517.3,403.4 L532.7,372.3 L545.5,340.1 L557.9,307.6 L571.3,275.6 L585.0,243.7" stroke="#e8dbd6" stroke-width="0.64" stroke-opacity="0.25" fill="none"/><path d="M484.9,587.6 L490.1,555.1 L492.5,522.1 L495.6,489.1 L501.5,456.4 L510.1,424.2 L524.4,394.2 L537.7,363.7 L549.6,332.7 L561.4,301.5 L574.6,271.0 L587.3,240.2" stroke="#e8dbd6" stroke-width="0.84" stroke-opacity="0.25" fill="none"/><path d="M489.4,613.3 L487.3,581.2 L491.7,544.7 L494.7,507.8 L499.7,471.0 L508.2,434.8 L522.1,400.3 L537.7,366.6 L551.0,331.9 L564.0,297.0 L579.1,262.9 L591.9,228.0" stroke="#6a5450" stroke-width="1.01" stroke-opacity="0.23" fill="none"/><path d="M488.9,575.8 L492.2,543.9 L494.9,511.7 L498.8,479.6 L505.5,447.7 L514.9,416.6 L529.5,387.7 L541.8,357.6 L553.3,327.2 L564.6,296.7 L577.7,266.9 L589.6,236.7" stroke="#6a5450" stroke-width="1.19" stroke-opacity="0.35" fill="none"/><path d="M488.4,581.6 L493.2,547.9 L496.4,513.9 L500.7,479.8 L508.0,446.0 L518.4,413.0 L533.9,382.2 L546.4,350.1 L558.4,317.7 L570.7,285.4 L584.7,253.8 L595.4,221.0" stroke="#e8dbd6" stroke-width="0.46" stroke-opacity="0.34" fill="none"/><path d="M487.0,611.2 L489.9,578.3 L494.5,542.7 L498.3,506.9 L503.7,471.0 L512.2,435.5 L525.5,401.7 L540.6,368.6 L553.2,334.5 L565.7,300.3 L580.0,266.8 L592.9,232.7" stroke="#e8dbd6" stroke-width="0.47" stroke-opacity="0.42" fill="none"/><path d="M488.9,612.6 L489.9,579.0 L494.9,541.3 L499.0,503.2 L505.3,465.1 L515.0,427.6 L530.9,392.5 L545.4,356.7 L558.7,320.4 L572.4,284.3 L587.8,248.7 L598.0,211.5" stroke="#6a5450" stroke-width="0.93" stroke-opacity="0.20" fill="none"/><path d="M492.5,570.1 L496.2,536.9 L500.1,503.4 L505.5,469.9 L513.5,436.8 L525.3,405.0 L539.9,374.3 L551.6,342.5 L563.2,310.5 L575.7,278.9 L589.0,247.5 L598.2,214.9" stroke="#6a5450" stroke-width="0.78" stroke-opacity="0.47" fill="none"/><path d="M491.3,579.2 L496.3,546.9 L500.2,514.2 L504.9,481.3 L512.2,448.7 L521.9,416.7 L536.4,386.8 L548.4,355.6 L559.7,324.3 L570.9,292.8 L584.3,262.2 L595.5,230.8" stroke="#e8dbd6" stroke-width="0.56" stroke-opacity="0.22" fill="none"/><path d="M487.5,610.9 L492.9,575.9 L498.4,538.1 L503.4,499.8 L510.6,461.5 L521.0,423.7 L537.2,388.3 L551.0,351.8 L564.1,315.0 L578.1,278.5 L592.8,242.4 L601.4,204.4" stroke="#6a5450" stroke-width="0.58" stroke-opacity="0.51" fill="none"/><path d="M486.9,595.1 L495.7,560.7 L500.3,525.2 L505.3,489.4 L512.8,453.7 L523.1,418.7 L538.6,385.9 L551.3,351.8 L563.5,317.5 L576.2,283.3 L590.5,249.7 L600.2,214.7" stroke="#6a5450" stroke-width="0.95" stroke-opacity="0.42" fill="none"/><path d="M494.2,575.5 L499.5,542.7 L504.2,509.6 L509.8,476.3 L517.7,443.2 L528.3,410.9 L542.9,380.4 L554.3,348.5 L565.5,316.4 L577.1,284.5 L590.5,253.3 L600.3,220.9" stroke="#6a5450" stroke-width="0.80" stroke-opacity="0.23" fill="none"/><path d="M490.3,589.1 L498.2,557.9 L502.9,525.8 L507.8,493.5 L514.5,461.2 L523.2,429.2 L535.9,398.8 L548.6,368.3 L559.3,337.1 L570.1,305.9 L582.2,275.1 L594.6,244.4" stroke="#e8dbd6" stroke-width="0.89" stroke-opacity="0.36" fill="none"/><path d="M489.0,611.9 L494.3,579.4 L501.1,543.2 L506.8,506.5 L513.7,469.5 L523.2,432.8 L537.4,397.9 L551.5,362.9 L563.6,327.2 L576.0,291.5 L590.8,256.7 L601.7,220.6" stroke="#e8dbd6" stroke-width="0.46" stroke-opacity="0.39" fill="none"/><path d="M488.2,597.5 L498.3,565.3 L503.8,531.8 L509.3,498.0 L516.3,464.1 L525.3,430.5 L538.4,398.5 L551.5,366.3 L562.4,333.5 L573.6,300.6 L586.7,268.4 L598.7,235.9" stroke="#6a5450" stroke-width="0.59" stroke-opacity="0.32" fill="none"/><path d="M487.7,601.7 L498.6,568.5 L504.7,533.7 L510.6,498.5 L518.1,463.2 L527.7,428.1 L541.8,394.9 L554.6,361.2 L566.0,326.9 L577.6,292.6 L591.7,259.2 L602.5,224.7" stroke="#e8dbd6" stroke-width="0.60" stroke-opacity="0.25" fill="none"/><path d="M494.9,583.2 L502.2,552.8 L507.7,521.7 L513.2,490.3 L520.3,458.9 L529.0,427.8 L541.4,398.1 L553.3,368.2 L563.2,337.7 L573.5,307.1 L584.9,277.0 L596.9,247.0" stroke="#6a5450" stroke-width="0.95" stroke-opacity="0.53" fill="none"/><path d="M489.4,597.8 L499.9,567.2 L505.9,535.3 L511.6,503.0 L518.3,470.4 L526.7,438.1 L537.8,406.6 L551.3,376.2 L561.6,344.6 L572.2,312.9 L583.4,281.5 L596.2,250.7" stroke="#6a5450" stroke-width="1.25" stroke-opacity="0.37" fill="none"/><path d="M489.8,598.4 L500.6,568.2 L506.8,536.5 L512.7,504.4 L519.5,472.0 L527.8,439.8 L538.6,408.3 L552.0,378.1 L562.2,346.6 L572.6,315.1 L583.6,283.7 L596.3,253.0" stroke="#6a5450" stroke-width="0.66" stroke-opacity="0.53" fill="none"/><path d="M489.5,611.4 L497.1,580.9 L505.2,546.9 L511.8,512.2 L518.8,477.1 L527.7,442.2 L539.3,408.0 L553.6,375.1 L564.5,340.9 L575.7,306.6 L588.6,273.0 L601.2,239.2" stroke="#e8dbd6" stroke-width="0.87" stroke-opacity="0.42" fill="none"/><path d="M496.9,582.6 L505.3,549.7 L512.0,516.0 L518.7,481.9 L527.2,447.8 L537.7,414.3 L551.9,382.3 L562.8,349.1 L573.6,315.8 L585.2,282.6 L598.4,250.1 L607.0,216.3" stroke="#e8dbd6" stroke-width="0.71" stroke-opacity="0.46" fill="none"/><path d="M489.5,604.0 L502.1,570.0 L510.1,533.8 L517.5,497.0 L526.2,459.9 L536.8,423.1 L551.7,388.2 L563.7,352.1 L575.3,315.8 L587.9,279.8 L601.7,244.2 L609.3,207.0" stroke="#e8dbd6" stroke-width="0.77" stroke-opacity="0.22" fill="none"/><path d="M498.4,582.0 L506.8,551.2 L513.5,519.7 L520.0,487.7 L527.9,455.6 L537.1,423.8 L550.0,393.6 L561.0,362.5 L570.7,331.1 L580.7,299.6 L592.8,268.9 L603.9,237.8" stroke="#6a5450" stroke-width="1.28" stroke-opacity="0.51" fill="none"/><path d="M489.8,609.1 L501.2,576.7 L510.0,541.2 L517.8,504.9 L526.2,468.3 L536.2,431.7 L550.1,396.7 L562.8,361.2 L573.8,325.2 L585.5,289.2 L599.7,254.1 L609.2,217.7" stroke="#e8dbd6" stroke-width="0.87" stroke-opacity="0.39" fill="none"/><path d="M501.4,578.0 L509.9,545.6 L517.3,512.5 L524.8,479.0 L533.5,445.4 L544.1,412.4 L557.7,380.7 L567.8,347.7 L578.1,314.7 L589.2,281.9 L602.1,249.7 L610.1,216.2" stroke="#e8dbd6" stroke-width="1.20" stroke-opacity="0.48" fill="none"/><path d="M490.4,606.0 L502.8,575.5 L511.4,542.8 L519.0,509.2 L526.8,475.3 L535.9,441.3 L547.1,408.1 L560.4,375.8 L570.3,342.3 L580.8,308.8 L592.6,275.8 L604.9,243.0" stroke="#e8dbd6" stroke-width="0.52" stroke-opacity="0.38" fill="none"/><path d="M490.6,609.0 L503.5,575.8 L513.4,539.2 L522.0,501.8 L531.3,464.0 L542.1,426.2 L556.7,390.1 L568.6,353.0 L579.9,315.6 L592.5,278.6 L606.2,241.9 L612.9,203.6" stroke="#e8dbd6" stroke-width="1.09" stroke-opacity="0.36" fill="none"/><path d="M502.1,581.6 L511.3,552.4 L518.9,522.5 L526.0,492.0 L533.9,461.4 L542.6,430.8 L553.7,401.2 L564.8,371.6 L573.4,341.3 L582.6,311.0 L592.8,281.0 L604.4,251.5" stroke="#e8dbd6" stroke-width="0.57" stroke-opacity="0.20" fill="none"/><path d="M492.5,602.0 L507.2,568.4 L516.9,532.5 L525.6,495.8 L535.2,458.8 L546.0,421.9 L560.4,386.5 L571.4,349.9 L582.4,313.3 L594.8,277.0 L607.9,241.0 L614.2,203.4" stroke="#6a5450" stroke-width="0.48" stroke-opacity="0.30" fill="none"/><path d="M503.2,581.0 L513.2,549.3 L521.6,516.9 L529.6,483.8 L538.5,450.6 L548.5,417.7 L561.5,386.1 L571.4,353.3 L581.0,320.4 L591.3,287.6 L604.0,255.7 L612.6,222.6" stroke="#e8dbd6" stroke-width="0.44" stroke-opacity="0.35" fill="none"/><path d="M501.2,587.1 L512.0,557.5 L520.5,527.0 L528.2,495.8 L536.5,464.3 L545.4,432.9 L556.6,402.3 L567.8,371.8 L576.3,340.5 L585.6,309.3 L596.1,278.4 L607.7,247.9" stroke="#6a5450" stroke-width="0.62" stroke-opacity="0.24" fill="none"/><path d="M504.3,581.9 L515.0,550.8 L523.8,518.8 L532.1,486.2 L541.0,453.3 L550.8,420.6 L563.4,389.1 L573.2,356.7 L582.4,324.0 L592.1,291.4 L604.5,259.7 L613.6,227.0" stroke="#6a5450" stroke-width="0.90" stroke-opacity="0.29" fill="none"/><path d="M491.5,613.1 L502.9,585.4 L515.0,551.7 L524.8,516.8 L533.9,481.2 L543.8,445.3 L555.2,409.9 L568.5,375.4 L578.1,339.7 L588.5,304.1 L601.2,269.2 L612.6,234.0" stroke="#6a5450" stroke-width="1.22" stroke-opacity="0.36" fill="none"/><path d="M508.3,575.5 L518.0,546.2 L526.6,516.2 L534.6,485.7 L543.0,454.9 L552.1,424.1 L563.6,394.5 L573.3,364.2 L581.4,333.5 L590.3,302.8 L601.0,272.7 L611.7,242.6" stroke="#6a5450" stroke-width="0.77" stroke-opacity="0.38" fill="none"/><path d="M492.5,608.4 L507.3,578.7 L518.6,545.7 L528.3,511.7 L537.6,476.9 L547.4,442.0 L558.7,407.7 L571.3,373.9 L580.3,339.0 L590.3,304.3 L602.5,270.2 L613.7,235.9" stroke="#6a5450" stroke-width="0.89" stroke-opacity="0.34" fill="none"/><path d="M498.0,597.3 L512.5,567.6 L522.7,536.0 L531.8,503.5 L540.8,470.5 L550.3,437.5 L561.3,405.0 L572.9,372.8 L581.3,339.7 L590.7,306.8 L601.9,274.3 L613.2,241.9" stroke="#e8dbd6" stroke-width="1.26" stroke-opacity="0.25" fill="none"/><path d="M500.2,594.5 L514.8,563.0 L525.5,529.9 L535.0,495.8 L544.7,461.2 L554.8,426.7 L567.3,393.2 L577.6,358.9 L586.7,324.3 L596.7,289.8 L609.6,256.2 L617.9,221.5" stroke="#6a5450" stroke-width="1.14" stroke-opacity="0.53" fill="none"/><path d="M491.9,612.8 L506.3,585.2 L519.8,551.5 L530.8,516.5 L540.8,480.7 L551.2,444.5 L562.6,408.7 L575.3,373.5 L584.3,337.3 L594.4,301.1 L607.1,265.8 L617.5,229.9" stroke="#6a5450" stroke-width="0.84" stroke-opacity="0.29" fill="none"/><path d="M511.0,577.0 L523.1,544.7 L533.5,511.5 L543.1,477.5 L553.0,443.2 L563.8,409.3 L575.9,375.9 L584.3,341.5 L593.7,307.3 L605.1,273.5 L616.4,239.8 L621.2,204.8" stroke="#6a5450" stroke-width="0.73" stroke-opacity="0.38" fill="none"/><path d="M512.8,574.8 L524.0,545.2 L533.9,514.7 L542.9,483.5 L552.0,452.0 L561.4,420.5 L572.8,390.0 L581.5,358.6 L589.5,326.9 L598.1,295.3 L609.5,264.6 L618.7,233.2" stroke="#e8dbd6" stroke-width="1.23" stroke-opacity="0.26" fill="none"/><path d="M510.2,581.1 L522.8,549.7 L533.6,517.3 L543.4,484.0 L553.1,450.3 L563.2,416.7 L575.4,384.0 L583.9,350.3 L592.9,316.5 L602.8,283.0 L615.0,250.1 L621.6,216.0" stroke="#e8dbd6" stroke-width="1.25" stroke-opacity="0.53" fill="none"/><path d="M498.9,600.3 L516.3,568.9 L528.9,535.0 L539.8,499.9 L550.3,464.2 L560.8,428.3 L573.3,393.3 L583.3,357.4 L592.4,321.4 L602.7,285.5 L615.6,250.5 L622.5,214.0" stroke="#e8dbd6" stroke-width="0.63" stroke-opacity="0.54" fill="none"/><path d="M495.4,606.8 L513.9,575.7 L527.6,541.0 L539.2,505.0 L550.1,468.1 L561.0,431.1 L573.7,394.8 L584.1,357.9 L593.4,320.6 L604.1,283.6 L617.2,247.4 L623.4,209.6" stroke="#e8dbd6" stroke-width="0.87" stroke-opacity="0.46" fill="none"/><path d="M506.9,590.4 L521.4,561.2 L533.0,530.6 L543.1,499.1 L552.7,466.9 L562.2,434.6 L572.8,402.8 L583.0,370.9 L590.3,338.3 L598.9,305.8 L609.3,273.9 L620.0,242.0" stroke="#e8dbd6" stroke-width="0.65" stroke-opacity="0.54" fill="none"/><path d="M496.8,605.4 L515.4,575.5 L528.9,542.3 L540.6,507.9 L551.3,472.6 L561.8,437.0 L573.4,402.0 L584.3,366.7 L592.5,330.8 L602.0,295.0 L614.6,260.2 L623.3,224.4" stroke="#e8dbd6" stroke-width="0.89" stroke-opacity="0.21" fill="none"/><path d="M516.1,575.7 L529.4,544.1 L540.9,511.4 L551.3,477.8 L561.4,443.9 L571.8,410.1 L583.2,376.8 L590.7,342.4 L599.6,308.2 L610.3,274.6 L621.3,241.0 L625.8,206.2" stroke="#6a5450" stroke-width="0.56" stroke-opacity="0.55" fill="none"/><path d="M508.8,590.0 L525.0,558.0 L538.1,524.4 L549.5,489.7 L560.1,454.4 L570.6,418.9 L582.8,384.2 L590.9,348.4 L599.9,312.6 L610.5,277.3 L622.2,242.3 L626.8,205.9" stroke="#e8dbd6" stroke-width="1.08" stroke-opacity="0.26" fill="none"/><path d="M513.9,582.1 L527.3,553.6 L538.8,524.0 L548.9,493.5 L558.4,462.5 L567.6,431.2 L577.8,400.5 L587.1,369.5 L593.8,337.9 L601.8,306.4 L611.6,275.5 L622.0,244.7" stroke="#e8dbd6" stroke-width="1.26" stroke-opacity="0.38" fill="none"/><path d="M494.5,611.0 L514.5,582.4 L530.4,548.7 L543.8,513.5 L555.5,477.1 L566.5,440.3 L578.1,403.8 L589.0,367.1 L597.0,329.7 L606.6,292.5 L619.5,256.4 L627.1,219.0" stroke="#6a5450" stroke-width="0.65" stroke-opacity="0.24" fill="none"/><path d="M495.1,610.4 L515.6,581.6 L531.6,547.7 L545.0,512.4 L556.8,475.9 L567.9,439.0 L579.5,402.4 L590.2,365.5 L598.2,328.0 L607.8,290.8 L620.8,254.5 L627.9,216.9" stroke="#6a5450" stroke-width="0.47" stroke-opacity="0.26" fill="none"/><path d="M520.6,574.6 L533.5,547.1 L544.9,518.6 L554.9,489.3 L564.2,459.5 L573.0,429.5 L582.6,400.0 L591.2,370.1 L597.2,339.6 L604.7,309.3 L613.4,279.4 L623.7,249.9" stroke="#e8dbd6" stroke-width="0.72" stroke-opacity="0.53" fill="none"/><path d="M513.0,588.0 L529.5,557.1 L543.2,524.7 L555.0,491.1 L565.7,456.8 L575.8,422.2 L587.2,388.3 L595.0,353.3 L603.0,318.4 L612.3,283.7 L624.2,249.8 L629.8,214.5" stroke="#e8dbd6" stroke-width="0.71" stroke-opacity="0.46" fill="none"/><path d="M509.5,593.9 L527.4,563.8 L541.8,531.8 L554.1,498.4 L565.1,464.3 L575.3,429.9 L586.3,395.8 L595.0,361.1 L602.3,326.1 L610.9,291.3 L622.8,257.4 L630.0,222.4" stroke="#6a5450" stroke-width="0.80" stroke-opacity="0.38" fill="none"/><path d="M498.0,608.0 L519.5,580.1 L535.9,547.8 L549.8,514.0 L561.8,479.1 L572.7,443.6 L583.3,408.1 L593.9,372.7 L600.8,336.4 L609.4,300.3 L621.0,265.1 L630.1,229.3" stroke="#6a5450" stroke-width="1.16" stroke-opacity="0.26" fill="none"/><path d="M518.9,582.3 L535.4,551.1 L549.4,518.5 L561.4,484.7 L572.2,450.3 L582.3,415.6 L593.2,381.3 L600.0,346.0 L608.1,310.9 L618.1,276.3 L629.0,242.0 L632.6,206.2" stroke="#e8dbd6" stroke-width="0.58" stroke-opacity="0.21" fill="none"/><path d="M505.6,600.4 L525.3,572.9 L540.5,542.4 L553.6,510.7 L564.9,478.0 L575.2,444.7 L584.9,411.4 L595.1,378.2 L601.4,344.2 L609.1,310.4 L618.7,277.0 L629.4,243.9" stroke="#e8dbd6" stroke-width="0.41" stroke-opacity="0.50" fill="none"/><path d="M524.2,575.7 L539.0,547.1 L551.9,517.4 L563.1,486.7 L573.1,455.4 L582.2,423.9 L592.1,392.7 L599.4,360.8 L605.6,328.6 L613.0,296.7 L623.4,265.5 L631.8,233.9" stroke="#6a5450" stroke-width="1.09" stroke-opacity="0.23" fill="none"/><path d="M507.4,599.3 L528.7,568.7 L545.4,535.0 L559.4,499.8 L571.5,463.6 L582.3,426.9 L593.7,390.5 L601.4,353.2 L609.4,315.9 L619.3,279.0 L630.9,242.6 L634.5,204.7" stroke="#6a5450" stroke-width="0.69" stroke-opacity="0.37" fill="none"/><path d="M503.3,603.9 L525.8,574.9 L543.1,542.0 L557.6,507.5 L570.0,471.8 L581.0,435.6 L591.8,399.5 L600.8,362.9 L607.8,325.8 L616.6,289.1 L628.8,253.3 L634.7,216.1" stroke="#6a5450" stroke-width="1.28" stroke-opacity="0.53" fill="none"/><path d="M521.6,583.1 L539.1,552.7 L554.0,520.8 L566.6,487.7 L577.6,453.7 L587.4,419.4 L597.8,385.4 L604.3,350.5 L611.7,315.6 L620.6,281.2 L631.7,247.3 L636.0,212.1" stroke="#6a5450" stroke-width="0.64" stroke-opacity="0.24" fill="none"/><path d="M518.8,587.7 L537.1,557.5 L552.7,525.7 L565.8,492.4 L577.0,458.3 L587.0,423.8 L597.4,389.5 L604.4,354.4 L611.5,319.2 L620.0,284.4 L631.4,250.3 L636.3,214.9" stroke="#6a5450" stroke-width="0.65" stroke-opacity="0.54" fill="none"/><path d="M510.5,598.2 L531.4,569.3 L548.2,537.8 L562.4,504.7 L574.4,470.5 L585.0,435.8 L595.0,401.0 L603.6,365.9 L609.8,330.3 L617.7,294.9 L629.0,260.5 L636.3,225.1" stroke="#6a5450" stroke-width="1.29" stroke-opacity="0.38" fill="none"/><path d="M516.0,592.7 L536.6,561.6 L553.7,528.3 L567.9,493.3 L579.9,457.4 L590.3,420.9 L601.0,384.7 L607.4,347.5 L615.2,310.4 L625.3,274.0 L635.8,237.6 L638.0,199.9" stroke="#e8dbd6" stroke-width="1.16" stroke-opacity="0.47" fill="none"/><path d="M524.1,582.7 L542.0,552.9 L557.3,521.6 L570.2,489.0 L581.2,455.6 L590.8,421.8 L600.9,388.1 L607.2,353.6 L613.9,319.2 L622.0,285.0 L633.1,251.6 L638.1,217.0" stroke="#6a5450" stroke-width="0.73" stroke-opacity="0.27" fill="none"/><path d="M525.9,581.5 L543.8,552.1 L559.2,521.2 L572.1,488.9 L583.1,455.9 L592.6,422.4 L602.4,389.0 L608.6,354.8 L615.0,320.6 L622.8,286.7 L633.8,253.6 L639.1,219.4" stroke="#6a5450" stroke-width="1.04" stroke-opacity="0.32" fill="none"/><path d="M513.3,597.4 L535.1,568.2 L552.9,536.3 L567.8,502.7 L580.2,468.0 L590.8,432.6 L600.8,397.2 L608.5,361.2 L614.8,324.9 L622.8,288.9 L634.3,253.9 L639.7,217.5" stroke="#e8dbd6" stroke-width="0.99" stroke-opacity="0.51" fill="none"/><path d="M499.3,609.8 L526.6,582.4 L547.5,549.1 L564.8,513.7 L579.0,476.7 L590.8,438.9 L601.3,400.8 L609.7,362.2 L616.4,323.2 L625.3,284.6 L637.3,246.9 L641.0,207.6" stroke="#e8dbd6" stroke-width="0.95" stroke-opacity="0.24" fill="none"/><path d="M506.6,604.1 L531.7,575.7 L551.4,542.9 L567.7,508.3 L581.1,472.3 L592.4,435.5 L602.6,398.5 L610.4,361.0 L616.9,323.1 L625.4,285.7 L637.2,249.1 L641.3,211.0" stroke="#e8dbd6" stroke-width="0.88" stroke-opacity="0.52" fill="none"/><path d="M523.4,588.4 L542.4,560.7 L558.8,531.5 L572.6,500.8 L584.0,469.1 L593.9,436.9 L602.6,404.4 L610.6,371.7 L615.2,338.3 L621.9,305.3 L631.0,272.9 L640.2,240.6" stroke="#6a5450" stroke-width="1.22" stroke-opacity="0.35" fill="none"/><path d="M498.8,610.5 L525.7,586.4 L546.2,556.2 L563.6,524.2 L578.0,490.6 L589.8,456.1 L599.5,420.9 L609.2,385.6 L614.6,349.5 L621.4,313.7 L630.2,278.2 L640.6,243.3" stroke="#e8dbd6" stroke-width="0.83" stroke-opacity="0.51" fill="none"/><path d="M502.1,608.4 L528.3,583.5 L548.6,553.2 L565.8,521.1 L579.9,487.5 L591.6,452.9 L601.1,417.7 L610.7,382.5 L615.7,346.3 L622.6,310.5 L631.7,275.2 L641.7,240.2" stroke="#6a5450" stroke-width="0.48" stroke-opacity="0.20" fill="none"/></g><g filter="url(#bl15)"><g fill="none" stroke-linecap="round"><path d="M490.0,614.0 L484.0,609.7 L480.5,603.2 L480.3,595.7 L481.7,588.3 L483.5,581.0 L484.9,573.6 L485.6,566.1 L485.8,558.6 L486.0,551.0 L486.2,543.5 L486.4,535.9 L486.6,528.4 L487.0,520.9 L487.4,513.3 L487.8,505.8 L488.2,498.3 L488.8,490.7 L489.6,483.2 L490.6,475.8 L491.9,468.3 L493.3,460.9 L494.8,453.5 L496.5,446.2 L496.5,446.2 L499.9,449.5 L503.3,452.8 L506.7,456.1 L510.1,459.4 L513.5,462.7 L516.8,466.0 L520.2,469.4 L523.5,472.7 L526.7,476.0 L529.9,479.4 L533.1,482.7 L536.3,486.1 L539.3,489.4 L542.4,492.7 L545.3,496.0 L548.2,499.4 L551.0,502.7 L553.8,506.0 L556.4,509.2 L559.0,512.5 L561.5,515.8 L563.8,519.0 L566.1,522.2 L566.1,522.2 L563.8,526.9 L561.5,531.5 L559.1,536.1 L556.7,540.6 L554.1,545.1 L551.5,549.6 L548.8,554.0 L546.0,558.4 L543.3,562.7 L540.5,567.1 L537.7,571.4 L534.7,575.6 L531.6,579.8 L528.5,583.9 L525.3,588.0 L521.9,591.9 L518.3,595.6 L514.5,599.1 L510.5,602.4 L506.4,605.5 L502.2,608.5 L497.8,611.2 L493.0,613.0 L493.0,613.0 L492.9,613.0 L492.7,613.1 L492.6,613.1 L492.5,613.2 L492.3,613.2 L492.2,613.3 L492.1,613.3 L492.0,613.3 L491.8,613.4 L491.7,613.4 L491.6,613.5 L491.4,613.5 L491.3,613.6 L491.2,613.6 L491.0,613.7 L490.9,613.7 L490.8,613.7 L490.7,613.8 L490.5,613.8 L490.4,613.9 L490.3,613.9 L490.1,614.0 L490.0,614.0 Z" fill="url(#g2)" filter="url(#bl3)"/><path d="M496.5,448.6 L492.6,467.3 L489.8,486.1 L488.3,505.0 L487.2,524.0 L486.6,543.0 L486.1,561.9 L483.8,580.8 L480.3,599.4 L490.0,614.0" stroke="url(#g3)" stroke-width="3.4" stroke-opacity="0.26"/><path d="M507.4,419.2 L500.9,440.7 L495.9,462.6 L492.2,484.8 L490.2,507.1 L488.8,529.5 L487.8,551.9 L486.2,574.2 L481.3,596.1 L490.1,614.0" stroke="url(#g3)" stroke-width="2.3" stroke-opacity="0.36"/><path d="M497.8,464.8 L494.8,481.8 L492.8,499.0 L491.4,516.2 L490.2,533.4 L489.3,550.5 L488.2,567.7 L484.9,584.5 L481.7,601.2 L490.2,613.9" stroke="url(#g3)" stroke-width="2.0" stroke-opacity="0.47"/><path d="M496.9,478.5 L494.8,494.1 L493.3,509.8 L492.0,525.5 L490.9,541.1 L489.9,556.7 L488.5,572.3 L484.8,587.6 L482.3,602.7 L490.2,613.9" stroke="url(#g3)" stroke-width="2.3" stroke-opacity="0.42"/><path d="M504.9,450.1 L500.8,468.7 L497.6,487.5 L495.4,506.4 L493.7,525.3 L492.2,544.1 L490.7,562.9 L487.5,581.5 L483.0,599.7 L490.3,613.9" stroke="url(#g3)" stroke-width="3.6" stroke-opacity="0.33"/><path d="M510.7,432.1 L505.3,452.6 L500.8,473.3 L497.6,494.2 L495.4,515.1 L493.4,536.1 L491.7,556.9 L488.9,577.6 L483.5,597.7 L490.3,613.9" stroke="url(#g3)" stroke-width="3.7" stroke-opacity="0.48"/><path d="M501.1,480.6 L498.8,496.1 L497.1,511.6 L495.5,527.1 L494.0,542.5 L492.6,557.9 L490.7,573.2 L486.7,588.2 L483.7,603.0 L490.4,613.9" stroke="url(#g3)" stroke-width="2.8" stroke-opacity="0.35"/><path d="M519.7,419.3 L513.0,441.1 L507.5,463.3 L503.1,485.7 L500.0,508.1 L497.4,530.6 L494.9,552.9 L491.8,575.0 L485.4,596.4 L490.5,613.8" stroke="url(#g3)" stroke-width="2.0" stroke-opacity="0.39"/><path d="M515.8,438.0 L510.6,458.1 L506.3,478.3 L502.9,498.6 L500.3,519.0 L497.7,539.2 L495.3,559.3 L491.6,579.3 L485.6,598.5 L490.5,613.8" stroke="url(#g3)" stroke-width="3.5" stroke-opacity="0.42"/><path d="M508.6,469.7 L505.3,486.5 L502.8,503.3 L500.6,520.0 L498.5,536.7 L496.4,553.4 L494.1,569.9 L489.7,586.1 L485.2,601.9 L490.5,613.8" stroke="url(#g3)" stroke-width="3.5" stroke-opacity="0.39"/><path d="M513.0,460.4 L509.1,478.2 L505.9,496.0 L503.3,513.9 L500.8,531.7 L498.4,549.4 L495.8,567.0 L491.4,584.2 L486.1,600.9 L490.6,613.8" stroke="url(#g3)" stroke-width="2.5" stroke-opacity="0.45"/><path d="M510.4,486.2 L507.8,501.3 L505.5,516.3 L503.1,531.2 L500.8,546.1 L498.5,560.9 L495.5,575.5 L490.7,589.7 L486.8,603.6 L490.7,613.8" stroke="url(#g3)" stroke-width="1.5" stroke-opacity="0.72"/><path d="M531.8,413.8 L524.3,436.4 L518.1,459.4 L512.9,482.5 L508.7,505.7 L504.9,528.8 L501.1,551.7 L496.7,574.4 L489.0,596.2 L490.8,613.7" stroke="url(#g3)" stroke-width="2.6" stroke-opacity="0.73"/><path d="M514.6,483.4 L511.6,498.8 L509.0,514.2 L506.3,529.5 L503.6,544.7 L500.9,559.8 L497.6,574.8 L492.5,589.3 L487.8,603.3 L490.8,613.7" stroke="url(#g3)" stroke-width="3.4" stroke-opacity="0.67"/><path d="M522.0,457.8 L517.5,476.1 L513.7,494.3 L510.4,512.6 L507.1,530.7 L503.8,548.7 L500.4,566.6 L495.2,584.1 L488.8,600.8 L490.9,613.7" stroke="url(#g3)" stroke-width="2.2" stroke-opacity="0.42"/><path d="M513.7,499.2 L511.3,512.9 L508.7,526.5 L506.2,540.0 L503.6,553.4 L500.9,566.8 L497.2,579.9 L492.1,592.6 L488.5,604.8 L490.9,613.7" stroke="url(#g3)" stroke-width="3.0" stroke-opacity="0.39"/><path d="M515.6,503.7 L513.0,516.9 L510.4,530.0 L507.7,543.0 L505.0,556.0 L502.1,568.8 L498.1,581.4 L492.9,593.6 L489.2,605.3 L491.0,613.7" stroke="url(#g3)" stroke-width="3.8" stroke-opacity="0.60"/><path d="M536.4,429.1 L530.2,450.5 L524.6,472.1 L519.6,493.7 L515.2,515.2 L510.6,536.5 L505.9,557.6 L500.3,578.4 L491.7,598.1 L491.1,613.6" stroke="url(#g3)" stroke-width="3.7" stroke-opacity="0.54"/><path d="M532.6,442.7 L527.2,462.7 L522.2,482.8 L517.8,502.8 L513.7,522.8 L509.4,542.5 L505.0,562.1 L499.3,581.2 L491.3,599.4 L491.1,613.6" stroke="url(#g3)" stroke-width="1.9" stroke-opacity="0.40"/><path d="M529.7,465.0 L525.3,482.6 L521.2,500.2 L517.4,517.8 L513.4,535.2 L509.3,552.4 L504.9,569.4 L498.7,586.0 L491.5,601.6 L491.2,613.6" stroke="url(#g3)" stroke-width="2.5" stroke-opacity="0.72"/><path d="M527.0,482.9 L523.2,498.6 L519.7,514.2 L516.1,529.7 L512.3,545.0 L508.4,560.2 L504.0,575.2 L497.8,589.7 L491.5,603.4 L491.2,613.6" stroke="url(#g3)" stroke-width="2.1" stroke-opacity="0.68"/><path d="M538.8,444.6 L533.3,464.6 L528.1,484.6 L523.4,504.5 L518.7,524.3 L513.8,543.8 L508.6,563.1 L502.1,582.0 L493.4,599.8 L491.3,613.6" stroke="url(#g3)" stroke-width="2.4" stroke-opacity="0.35"/><path d="M541.3,443.2 L535.7,463.3 L530.4,483.5 L525.4,503.6 L520.5,523.6 L515.3,543.3 L509.9,562.8 L503.2,581.8 L494.1,599.7 L491.4,613.5" stroke="url(#g3)" stroke-width="1.9" stroke-opacity="0.65"/><path d="M543.2,446.2 L537.6,466.1 L532.3,486.0 L527.2,505.8 L522.2,525.5 L516.8,544.8 L511.1,564.0 L504.1,582.6 L494.9,600.0 L491.4,613.5" stroke="url(#g3)" stroke-width="3.6" stroke-opacity="0.25"/><path d="M545.7,442.2 L539.9,462.6 L534.4,483.0 L529.1,503.3 L523.9,523.4 L518.2,543.2 L512.3,562.8 L505.1,581.8 L495.5,599.7 L491.5,613.5" stroke="url(#g3)" stroke-width="1.6" stroke-opacity="0.39"/><path d="M538.2,473.4 L533.6,490.3 L529.2,507.1 L524.7,523.8 L520.0,540.3 L515.0,556.6 L509.6,572.6 L502.5,588.1 L494.4,602.6 L491.5,613.5" stroke="url(#g3)" stroke-width="2.6" stroke-opacity="0.49"/><path d="M527.5,522.6 L524.2,533.8 L520.7,544.9 L517.1,555.8 L513.4,566.8 L509.1,577.5 L504.0,587.9 L498.1,597.7 L493.5,606.9 L491.6,613.5" stroke="url(#g3)" stroke-width="1.6" stroke-opacity="0.31"/><path d="M529.6,517.2 L526.1,529.1 L522.5,540.8 L518.7,552.4 L514.7,563.9 L510.5,575.2 L505.1,586.3 L499.0,596.7 L493.8,606.5 L491.6,613.5" stroke="url(#g3)" stroke-width="3.9" stroke-opacity="0.68"/><path d="M541.7,480.0 L537.1,496.2 L532.6,512.4 L527.8,528.4 L522.7,544.1 L517.4,559.7 L511.6,575.0 L504.1,589.7 L495.7,603.2 L491.7,613.4" stroke="url(#g3)" stroke-width="2.3" stroke-opacity="0.41"/><path d="M547.3,468.9 L542.2,486.5 L537.1,504.0 L532.0,521.3 L526.5,538.4 L520.5,555.1 L514.3,571.7 L506.4,587.6 L497.1,602.3 L491.8,613.4" stroke="url(#g3)" stroke-width="3.0" stroke-opacity="0.43"/><path d="M540.1,498.7 L536.0,512.9 L531.6,526.9 L526.9,540.7 L521.9,554.3 L516.8,567.7 L510.8,580.9 L503.5,593.4 L496.1,604.9 L491.8,613.4" stroke="url(#g3)" stroke-width="1.8" stroke-opacity="0.53"/><path d="M543.6,496.5 L539.1,510.9 L534.5,525.2 L529.6,539.3 L524.3,553.2 L518.8,566.9 L512.6,580.3 L505.0,593.1 L497.0,604.7 L491.9,613.4" stroke="url(#g3)" stroke-width="1.7" stroke-opacity="0.34"/><path d="M550.6,477.3 L545.5,494.1 L540.3,510.7 L534.9,527.1 L529.1,543.2 L522.8,559.0 L516.1,574.6 L507.9,589.5 L498.4,603.1 L491.9,613.4" stroke="url(#g3)" stroke-width="3.5" stroke-opacity="0.44"/><path d="M553.1,477.9 L548.0,494.6 L542.6,511.2 L537.0,527.5 L531.0,543.6 L524.4,559.4 L517.5,574.9 L509.0,589.7 L499.2,603.2 L492.0,613.3" stroke="url(#g3)" stroke-width="2.6" stroke-opacity="0.44"/><path d="M556.3,471.7 L550.9,489.2 L545.4,506.5 L539.6,523.6 L533.2,540.5 L526.4,556.9 L519.1,573.1 L510.3,588.6 L500.0,602.7 L492.1,613.3" stroke="url(#g3)" stroke-width="2.6" stroke-opacity="0.60"/><path d="M544.5,514.1 L540.1,526.6 L535.3,538.8 L530.2,550.9 L525.0,562.8 L519.4,574.5 L513.0,585.9 L505.5,596.5 L498.0,606.2 L492.1,613.3" stroke="url(#g3)" stroke-width="2.8" stroke-opacity="0.60"/><path d="M550.6,499.1 L545.8,513.4 L540.7,527.5 L535.2,541.4 L529.3,555.0 L523.1,568.4 L516.2,581.5 L508.0,593.9 L499.2,605.0 L492.2,613.3" stroke="url(#g3)" stroke-width="2.6" stroke-opacity="0.69"/><path d="M551.5,506.4 L546.6,519.9 L541.4,533.1 L535.8,546.2 L529.8,558.9 L523.7,571.6 L516.6,583.8 L508.5,595.3 L499.7,605.6 L492.3,613.2" stroke="url(#g3)" stroke-width="3.7" stroke-opacity="0.65"/><path d="M554.7,498.9 L549.6,513.3 L544.2,527.5 L538.4,541.4 L532.1,555.1 L525.6,568.5 L518.3,581.6 L509.8,594.0 L500.4,605.0 L492.3,613.2" stroke="url(#g3)" stroke-width="1.8" stroke-opacity="0.66"/><path d="M569.0,463.0 L563.1,481.7 L556.8,500.3 L550.0,518.5 L542.7,536.5 L534.5,553.9 L525.9,571.1 L515.8,587.5 L503.7,602.2 L492.4,613.2" stroke="url(#g3)" stroke-width="3.5" stroke-opacity="0.58"/><path d="M561.0,493.8 L555.5,508.9 L549.8,523.7 L543.5,538.4 L536.6,552.6 L529.4,566.7 L521.6,580.3 L512.5,593.2 L502.1,604.6 L492.4,613.2" stroke="url(#g3)" stroke-width="1.8" stroke-opacity="0.54"/><path d="M547.1,531.2 L542.4,541.6 L537.3,551.9 L532.2,562.1 L526.8,572.1 L520.9,581.9 L514.3,591.2 L506.9,599.8 L499.5,607.5 L492.5,613.2" stroke="url(#g3)" stroke-width="3.4" stroke-opacity="0.27"/><path d="M546.4,536.6 L541.7,546.4 L536.7,556.0 L531.7,565.6 L526.3,575.0 L520.5,584.1 L514.0,592.8 L506.8,600.7 L499.6,607.9 L492.5,613.2" stroke="url(#g3)" stroke-width="3.7" stroke-opacity="0.34"/><path d="M572.6,472.3 L566.6,490.1 L560.1,507.6 L553.1,524.9 L545.3,541.8 L536.8,558.2 L527.8,574.3 L517.4,589.5 L505.1,603.0 L492.6,613.1" stroke="url(#g3)" stroke-width="1.8" stroke-opacity="0.67"/><path d="M574.8,475.4 L568.7,492.8 L562.1,510.0 L554.9,527.0 L546.9,543.5 L538.2,559.6 L528.9,575.3 L518.4,590.3 L505.8,603.3 L492.7,613.1" stroke="url(#g3)" stroke-width="3.9" stroke-opacity="0.54"/><path d="M546.7,547.1 L541.9,555.7 L537.1,564.1 L532.0,572.5 L526.6,580.6 L520.8,588.5 L514.4,596.0 L507.4,602.6 L500.2,608.7 L492.7,613.1" stroke="url(#g3)" stroke-width="3.4" stroke-opacity="0.51"/><path d="M550.5,542.5 L545.5,551.6 L540.3,560.7 L534.9,569.6 L529.2,578.3 L523.1,586.7 L516.3,594.7 L508.8,601.9 L501.0,608.3 L492.8,613.1" stroke="url(#g3)" stroke-width="3.4" stroke-opacity="0.72"/><path d="M560.0,524.5 L554.5,535.9 L548.6,547.1 L542.2,558.1 L535.7,569.0 L528.7,579.6 L521.0,589.7 L512.4,598.9 L502.9,607.0 L492.8,613.1" stroke="url(#g3)" stroke-width="2.9" stroke-opacity="0.66"/><path d="M555.0,538.5 L549.7,548.2 L544.1,557.7 L538.3,567.1 L532.2,576.3 L525.7,585.2 L518.6,593.7 L510.6,601.3 L502.1,608.0 L492.9,613.0" stroke="url(#g3)" stroke-width="2.1" stroke-opacity="0.56"/><path d="M565.6,522.4 L559.7,534.2 L553.4,545.7 L546.6,557.0 L539.5,568.1 L532.0,578.9 L523.9,589.3 L514.7,598.7 L504.4,606.8 L493.0,613.0" stroke="url(#g3)" stroke-width="2.4" stroke-opacity="0.45"/></g><g fill="none" stroke-linecap="round"><path d="M555.8,302.2 L557.5,298.0 L559.2,293.8 L561.0,289.6 L562.9,285.5 L564.8,281.4 L566.7,277.3 L568.6,273.2 L570.6,269.1 L572.5,265.0 L574.4,260.9 L576.2,256.8 L578.0,252.6 L579.7,248.4 L581.3,244.2 L582.9,240.0 L584.5,235.7 L585.9,231.4 L587.3,227.1 L588.6,222.8 L589.6,218.4 L590.5,213.9 L591.2,209.5 L592.0,205.0 L592.0,205.0 L594.3,204.6 L596.5,204.1 L598.8,203.7 L601.0,203.3 L603.3,202.8 L605.6,202.4 L607.8,202.0 L610.1,201.5 L612.3,201.1 L614.6,200.7 L616.9,200.2 L619.1,199.8 L621.4,199.3 L623.7,198.9 L625.9,198.5 L628.2,198.0 L630.4,197.6 L632.7,197.2 L635.0,196.7 L637.2,196.3 L639.5,195.9 L641.7,195.4 L644.0,195.0 L644.0,195.0 L644.0,200.4 L644.1,205.7 L644.1,211.1 L644.0,216.5 L643.8,221.8 L643.5,227.2 L643.2,232.6 L642.6,237.9 L641.7,243.2 L640.6,248.4 L639.1,253.6 L637.6,258.7 L636.0,263.9 L634.4,269.0 L632.7,274.1 L631.0,279.2 L629.3,284.3 L627.7,289.4 L626.4,294.6 L625.2,299.8 L624.2,305.1 L623.2,310.4 L622.2,315.7 L622.2,315.7 L619.3,315.0 L616.3,314.4 L613.4,313.8 L610.4,313.1 L607.5,312.5 L604.5,311.9 L601.6,311.3 L598.7,310.7 L595.8,310.1 L592.8,309.5 L589.9,308.9 L587.1,308.3 L584.2,307.7 L581.3,307.1 L578.4,306.6 L575.6,306.0 L572.7,305.4 L569.9,304.9 L567.1,304.3 L564.3,303.8 L561.4,303.3 L558.6,302.7 L555.8,302.2 Z" fill="url(#g4)" filter="url(#bl3)"/><path d="M552.6,312.2 L557.2,300.3 L562.1,288.5 L567.4,276.9 L572.9,265.4 L578.1,253.7 L582.7,241.8 L587.0,229.8 L590.3,217.5 L592.5,204.9" stroke="url(#g5)" stroke-width="1.7" stroke-opacity="0.50"/><path d="M555.2,313.1 L559.7,301.0 L564.6,289.1 L569.9,277.3 L575.3,265.7 L580.5,253.9 L585.1,241.8 L589.2,229.7 L592.5,217.2 L594.6,204.5" stroke="url(#g5)" stroke-width="3.4" stroke-opacity="0.33"/><path d="M563.5,294.5 L567.7,284.6 L572.1,274.9 L576.6,265.2 L580.9,255.5 L584.8,245.5 L588.4,235.5 L591.5,225.3 L593.9,214.9 L595.5,204.3" stroke="url(#g5)" stroke-width="3.2" stroke-opacity="0.51"/><path d="M562.3,300.9 L566.6,290.2 L571.2,279.8 L576.0,269.4 L580.7,258.9 L585.0,248.3 L588.8,237.5 L592.2,226.6 L594.8,215.4 L596.5,204.1" stroke="url(#g5)" stroke-width="3.7" stroke-opacity="0.32"/><path d="M565.5,295.3 L569.7,285.3 L574.1,275.5 L578.6,265.7 L582.9,255.8 L586.8,245.7 L590.3,235.5 L593.4,225.2 L595.7,214.7 L597.3,204.0" stroke="url(#g5)" stroke-width="3.8" stroke-opacity="0.51"/><path d="M567.0,297.3 L571.2,287.0 L575.7,276.9 L580.2,266.9 L584.6,256.7 L588.6,246.4 L592.1,235.9 L595.2,225.4 L597.5,214.6 L599.1,203.6" stroke="url(#g5)" stroke-width="2.0" stroke-opacity="0.38"/><path d="M565.6,304.9 L569.7,293.7 L574.3,282.6 L579.2,271.7 L584.1,260.8 L588.5,249.7 L592.4,238.4 L595.8,226.9 L598.4,215.3 L600.1,203.5" stroke="url(#g5)" stroke-width="2.3" stroke-opacity="0.37"/><path d="M575.7,285.1 L579.6,276.3 L583.5,267.4 L587.3,258.6 L590.8,249.6 L593.9,240.5 L596.7,231.4 L599.0,222.1 L600.7,212.6 L602.0,203.1" stroke="url(#g5)" stroke-width="2.2" stroke-opacity="0.60"/><path d="M574.6,290.7 L578.6,281.2 L582.8,271.8 L586.9,262.3 L590.7,252.7 L594.2,243.0 L597.2,233.2 L599.7,223.2 L601.6,213.1 L602.9,202.9" stroke="url(#g5)" stroke-width="3.0" stroke-opacity="0.38"/><path d="M559.6,337.3 L564.9,322.4 L570.0,307.4 L575.2,292.5 L581.3,277.9 L587.6,263.4 L593.4,248.7 L598.2,233.7 L601.9,218.3 L604.0,202.7" stroke="url(#g5)" stroke-width="2.7" stroke-opacity="0.44"/><path d="M567.9,318.8 L572.1,305.9 L576.6,293.0 L581.8,280.4 L587.3,267.8 L592.5,255.2 L597.0,242.3 L600.7,229.3 L603.5,216.0 L605.2,202.5" stroke="url(#g5)" stroke-width="2.3" stroke-opacity="0.64"/><path d="M581.9,283.9 L585.7,275.1 L589.4,266.3 L593.1,257.5 L596.4,248.6 L599.3,239.5 L601.8,230.3 L603.9,221.1 L605.4,211.7 L606.5,202.2" stroke="url(#g5)" stroke-width="2.7" stroke-opacity="0.55"/><path d="M580.5,292.9 L584.4,283.0 L588.6,273.2 L592.7,263.4 L596.6,253.5 L600.1,243.4 L602.9,233.2 L605.3,222.9 L607.1,212.5 L608.2,201.9" stroke="url(#g5)" stroke-width="3.6" stroke-opacity="0.53"/><path d="M579.9,299.6 L583.8,288.8 L588.1,278.2 L592.6,267.7 L596.9,257.1 L600.7,246.3 L603.8,235.3 L606.4,224.2 L608.3,213.0 L609.5,201.6" stroke="url(#g5)" stroke-width="3.6" stroke-opacity="0.45"/><path d="M586.7,286.5 L590.5,277.4 L594.3,268.2 L598.0,259.0 L601.5,249.7 L604.4,240.2 L606.8,230.6 L608.8,221.0 L610.2,211.2 L611.2,201.3" stroke="url(#g5)" stroke-width="2.7" stroke-opacity="0.36"/><path d="M582.7,300.3 L586.5,289.4 L590.8,278.7 L595.2,268.0 L599.5,257.2 L603.3,246.3 L606.4,235.2 L608.9,224.0 L610.7,212.7 L611.8,201.2" stroke="url(#g5)" stroke-width="3.2" stroke-opacity="0.73"/><path d="M577.1,328.0 L581.4,313.8 L585.7,299.7 L590.6,285.7 L596.2,272.0 L601.6,258.3 L606.4,244.3 L609.9,230.0 L612.5,215.5 L613.9,200.8" stroke="url(#g5)" stroke-width="2.0" stroke-opacity="0.38"/><path d="M585.6,301.7 L589.3,290.5 L593.6,279.6 L598.0,268.7 L602.3,257.7 L606.2,246.7 L609.2,235.4 L611.6,223.9 L613.3,212.4 L614.3,200.7" stroke="url(#g5)" stroke-width="3.6" stroke-opacity="0.70"/><path d="M590.3,292.9 L594.0,282.8 L598.1,272.8 L602.0,262.9 L605.8,252.8 L609.0,242.6 L611.4,232.2 L613.4,221.7 L614.8,211.1 L615.7,200.4" stroke="url(#g5)" stroke-width="2.3" stroke-opacity="0.46"/><path d="M579.4,338.0 L584.0,322.7 L588.4,307.4 L593.0,292.1 L598.7,277.1 L604.6,262.2 L609.9,247.1 L613.7,231.7 L616.3,216.0 L617.6,200.1" stroke="url(#g5)" stroke-width="1.7" stroke-opacity="0.67"/><path d="M585.0,322.7 L588.9,309.0 L592.8,295.4 L597.7,282.0 L602.9,268.8 L608.0,255.5 L612.2,241.9 L615.2,228.1 L617.3,214.1 L618.4,199.9" stroke="url(#g5)" stroke-width="3.0" stroke-opacity="0.59"/><path d="M585.8,324.2 L589.8,310.4 L593.7,296.5 L598.5,282.9 L603.8,269.5 L608.9,256.0 L613.2,242.3 L616.1,228.3 L618.2,214.1 L619.3,199.7" stroke="url(#g5)" stroke-width="2.6" stroke-opacity="0.49"/><path d="M592.0,310.2 L595.3,297.9 L599.4,285.7 L604.1,273.8 L608.6,261.8 L612.9,249.7 L616.1,237.4 L618.4,224.9 L620.0,212.2 L620.9,199.4" stroke="url(#g5)" stroke-width="3.9" stroke-opacity="0.45"/><path d="M586.7,337.7 L591.0,322.3 L595.2,306.9 L599.6,291.5 L605.2,276.5 L610.8,261.5 L615.9,246.4 L619.3,230.8 L621.5,215.1 L622.6,199.1" stroke="url(#g5)" stroke-width="2.2" stroke-opacity="0.58"/><path d="M600.0,293.3 L603.6,283.0 L607.5,272.9 L611.3,262.7 L614.9,252.4 L617.9,241.9 L620.0,231.3 L621.7,220.6 L622.7,209.8 L623.3,199.0" stroke="url(#g5)" stroke-width="3.8" stroke-opacity="0.30"/><path d="M595.0,323.8 L598.6,309.9 L602.2,295.9 L606.9,282.2 L612.0,268.7 L616.8,255.1 L620.8,241.3 L623.3,227.2 L625.0,212.9 L625.7,198.5" stroke="url(#g5)" stroke-width="3.4" stroke-opacity="0.63"/><path d="M600.1,306.3 L603.3,294.3 L607.3,282.5 L611.7,270.9 L616.0,259.2 L619.8,247.4 L622.5,235.3 L624.3,223.1 L625.6,210.8 L626.2,198.4" stroke="url(#g5)" stroke-width="3.1" stroke-opacity="0.65"/><path d="M602.9,302.0 L606.1,290.5 L610.1,279.3 L614.3,268.1 L618.3,256.8 L621.8,245.4 L624.2,233.7 L625.9,222.0 L626.9,210.1 L627.4,198.2" stroke="url(#g5)" stroke-width="3.9" stroke-opacity="0.59"/><path d="M595.6,340.1 L599.6,324.3 L603.5,308.5 L607.6,292.7 L613.0,277.2 L618.5,261.9 L623.5,246.3 L626.6,230.3 L628.4,214.2 L629.1,197.9" stroke="url(#g5)" stroke-width="2.7" stroke-opacity="0.43"/><path d="M605.8,307.3 L608.9,295.1 L612.7,283.1 L617.1,271.3 L621.3,259.4 L625.0,247.4 L627.6,235.1 L629.2,222.7 L630.2,210.1 L630.6,197.6" stroke="url(#g5)" stroke-width="2.9" stroke-opacity="0.34"/><path d="M606.8,310.4 L609.7,297.8 L613.4,285.4 L617.9,273.2 L622.2,261.0 L626.1,248.6 L628.9,236.0 L630.4,223.2 L631.4,210.3 L631.8,197.3" stroke="url(#g5)" stroke-width="1.9" stroke-opacity="0.69"/><path d="M601.4,340.9 L605.1,324.9 L608.9,308.9 L612.8,292.9 L618.0,277.3 L623.5,261.7 L628.3,246.0 L631.2,229.9 L632.7,213.5 L633.2,197.1" stroke="url(#g5)" stroke-width="3.8" stroke-opacity="0.32"/><path d="M610.8,305.7 L613.7,293.6 L617.5,281.7 L621.7,270.0 L625.7,258.2 L629.3,246.3 L631.6,234.1 L633.0,221.8 L633.8,209.4 L634.0,196.9" stroke="url(#g5)" stroke-width="3.0" stroke-opacity="0.53"/><path d="M609.5,321.8 L612.6,307.9 L615.8,293.9 L620.2,280.3 L624.9,266.8 L629.4,253.2 L632.8,239.3 L634.5,225.1 L635.5,210.9 L635.7,196.6" stroke="url(#g5)" stroke-width="2.3" stroke-opacity="0.34"/><path d="M613.6,306.6 L616.4,294.3 L620.2,282.3 L624.4,270.4 L628.4,258.5 L631.9,246.4 L634.2,234.1 L635.4,221.6 L636.1,209.1 L636.3,196.5" stroke="url(#g5)" stroke-width="3.4" stroke-opacity="0.52"/><path d="M611.7,328.5 L615.1,313.8 L618.1,299.0 L622.2,284.4 L627.2,270.2 L631.8,255.8 L635.6,241.2 L637.4,226.2 L638.3,211.2 L638.5,196.1" stroke="url(#g5)" stroke-width="2.2" stroke-opacity="0.44"/><path d="M610.1,348.1 L613.2,331.0 L617.0,314.1 L620.5,297.1 L625.4,280.5 L630.9,264.1 L636.0,247.5 L638.8,230.4 L639.8,213.1 L639.9,195.8" stroke="url(#g5)" stroke-width="2.8" stroke-opacity="0.37"/><path d="M615.2,329.6 L618.5,314.7 L621.4,299.7 L625.4,285.0 L630.3,270.5 L634.9,256.0 L638.7,241.2 L640.4,226.1 L641.1,210.8 L641.1,195.6" stroke="url(#g5)" stroke-width="2.3" stroke-opacity="0.45"/><path d="M621.7,304.7 L624.4,292.6 L628.1,280.7 L632.1,268.9 L635.8,257.0 L639.1,245.0 L641.0,232.7 L641.8,220.3 L642.2,207.8 L642.1,195.4" stroke="url(#g5)" stroke-width="2.4" stroke-opacity="0.67"/><path d="M616.5,335.2 L619.9,319.6 L622.9,304.0 L626.5,288.5 L631.5,273.4 L636.3,258.2 L640.4,242.8 L642.3,227.0 L642.9,211.1 L642.8,195.2" stroke="url(#g5)" stroke-width="1.7" stroke-opacity="0.31"/></g></g></g><path d="M490.0,614.0 L481.8,607.1 L480.2,596.4 L482.4,585.6 L484.7,574.9 L485.7,564.0 L486.0,553.0 L486.3,542.0 L486.5,531.1 L487.0,520.1 L487.6,509.1 L488.2,498.2 L489.1,487.2 L490.5,476.3 L492.4,465.5 L494.5,454.7 L497.0,444.0 L499.8,433.4 L503.0,422.9 L506.9,412.6 L511.8,402.8 L517.6,393.5 L522.6,383.7 L527.0,373.7 L531.3,363.6 L535.5,353.4 L539.6,343.2 L543.7,333.1 L547.9,322.9 L551.8,312.6 L555.8,302.4 L559.9,292.2 L564.4,282.2 L569.1,272.3 L573.8,262.3 L578.1,252.3 L582.2,242.0 L585.9,231.7 L589.0,221.2 L591.1,210.4" fill="none" stroke="#3f3431" stroke-width="1.1"/><path d="M493.0,613.0 L503.2,607.8 L512.5,600.8 L520.9,593.0 L528.4,584.1 L535.3,574.8 L541.7,565.2 L547.9,555.4 L553.9,545.5 L559.5,535.4 L564.7,525.0 L569.7,514.6 L574.3,504.0 L578.6,493.2 L582.7,482.4 L586.5,471.4 L590.1,460.4 L593.6,449.4 L596.8,438.3 L599.7,427.1 L602.5,415.8 L605.5,404.6 L608.7,393.5 L611.5,382.3 L613.4,370.9 L614.8,359.4 L616.2,347.9 L617.9,336.5 L620.3,325.1 L622.6,313.8 L624.7,302.4 L627.2,291.1 L630.7,280.1 L634.4,269.1 L637.8,258.0 L641.0,246.9 L642.9,235.5 L643.7,223.9 L644.1,212.4 L644.1,200.8" fill="none" stroke="#3f3431" stroke-width="1.1"/><g clip-path="url(#c4)"><use href="#p4" fill="#b5a19b"/><g filter="url(#bl3)"><path d="M434.4,522.2 L433.8,495.2 L437.1,468.4 L447.1,443.3 L460.8,419.9 L476.4,397.7 L491.7,375.3 L508.3,353.9 L522.4,330.9 L534.8,306.7 L547.3,282.7 L556.9,257.3 L565.9,231.8 L566.9,205.0" stroke="#8c7771" stroke-width="4.4" fill="none"/><path d="M437.1,522.8 L437.5,496.0 L441.4,469.3 L451.2,444.1 L464.4,420.6 L479.6,398.2 L494.5,375.7 L510.6,354.0 L524.4,330.8 L536.5,306.6 L548.8,282.5 L558.6,257.3 L567.5,231.7 L568.8,205.0" stroke="#a18e88" stroke-width="4.4" fill="none"/><path d="M439.9,523.2 L441.3,496.7 L445.6,470.2 L455.3,445.0 L468.1,421.3 L482.8,398.7 L497.4,376.0 L512.9,354.1 L526.3,330.8 L538.2,306.5 L550.4,282.4 L560.2,257.2 L569.0,231.7 L570.6,205.0" stroke="#b4a19b" stroke-width="4.4" fill="none"/><path d="M442.6,523.8 L445.0,497.4 L449.8,471.1 L459.4,445.9 L471.7,422.0 L486.0,399.3 L500.2,376.4 L515.2,354.2 L528.3,330.7 L539.9,306.4 L551.9,282.2 L561.9,257.2 L570.6,231.7 L572.4,205.0" stroke="#c4b2ac" stroke-width="4.4" fill="none"/><path d="M445.4,524.2 L448.7,498.2 L454.0,471.9 L463.5,446.8 L475.4,422.7 L489.2,399.8 L503.1,376.8 L517.5,354.3 L530.2,330.7 L541.7,306.3 L553.5,282.1 L563.6,257.2 L572.1,231.6 L574.2,205.0" stroke="#d0bfb9" stroke-width="4.4" fill="none"/><path d="M448.1,524.8 L452.5,498.9 L458.3,472.8 L467.6,447.6 L479.0,423.4 L492.4,400.3 L505.9,377.1 L519.8,354.4 L532.2,330.6 L543.4,306.2 L555.0,281.9 L565.3,257.1 L573.6,231.6 L576.1,205.0" stroke="#d8c7c1" stroke-width="4.4" fill="none"/><path d="M450.9,525.2 L456.2,499.6 L462.5,473.7 L471.7,448.5 L482.7,424.1 L495.7,400.8 L508.8,377.5 L522.1,354.4 L534.1,330.6 L545.1,306.1 L556.6,281.8 L567.0,257.1 L575.2,231.5 L577.9,205.0" stroke="#d8c7c1" stroke-width="4.4" fill="none"/><path d="M453.6,525.8 L459.9,500.3 L466.7,474.6 L475.8,449.4 L486.3,424.9 L498.9,401.3 L511.6,377.8 L524.4,354.5 L536.1,330.5 L546.8,306.0 L558.1,281.6 L568.7,257.0 L576.7,231.5 L579.8,205.0" stroke="#d0bfb9" stroke-width="4.4" fill="none"/><path d="M456.4,526.2 L463.7,501.1 L470.9,475.5 L479.9,450.3 L489.9,425.6 L502.1,401.8 L514.4,378.2 L526.7,354.6 L538.1,330.5 L548.5,305.8 L559.6,281.5 L570.4,257.0 L578.3,231.4 L581.6,205.0" stroke="#c4b2ac" stroke-width="4.4" fill="none"/><path d="M459.1,526.8 L467.4,501.8 L475.2,476.3 L484.0,451.1 L493.6,426.3 L505.3,402.4 L517.3,378.5 L529.0,354.7 L540.0,330.4 L550.3,305.7 L561.2,281.3 L572.1,256.9 L579.8,231.4 L583.4,205.0" stroke="#b4a19b" stroke-width="4.4" fill="none"/><path d="M461.9,527.2 L471.1,502.5 L479.4,477.2 L488.1,452.0 L497.2,427.0 L508.5,402.9 L520.1,378.9 L531.3,354.8 L542.0,330.3 L552.0,305.6 L562.7,281.2 L573.8,256.9 L581.3,231.3 L585.2,205.0" stroke="#a18e88" stroke-width="4.4" fill="none"/><path d="M464.6,527.8 L474.9,503.3 L483.6,478.1 L492.2,452.9 L500.9,427.7 L511.7,403.4 L523.0,379.3 L533.6,354.8 L543.9,330.3 L553.7,305.5 L564.3,281.0 L575.4,256.8 L582.9,231.3 L587.1,205.0" stroke="#8c7771" stroke-width="4.4" fill="none"/></g><g filter="url(#bl15)"><path d="M434.1,475.1 L442.0,450.4 L454.4,427.5 L469.2,406.0 L484.1,384.6 L499.4,363.6 L515.2,342.9 L527.3,319.8 L539.3,296.7 L550.8,273.3 L559.0,248.6 L567.3,223.9" stroke="#75605a" stroke-width="3.12" stroke-opacity="0.32" fill="none"/><path d="M437.8,487.5 L442.5,463.7 L452.1,441.4 L464.2,420.3 L477.9,400.2 L491.4,379.9 L505.6,360.2 L519.4,340.2 L530.3,318.4 L541.3,296.7 L552.2,274.8 L560.2,251.8" stroke="#eadfda" stroke-width="4.41" stroke-opacity="0.18" fill="none"/><path d="M441.1,482.4 L447.7,457.6 L458.7,434.4 L472.0,412.4 L486.2,391.1 L500.3,369.6 L515.4,348.9 L527.6,326.3 L539.0,303.3 L550.7,280.3 L559.8,256.3 L568.2,231.9" stroke="#eadfda" stroke-width="2.51" stroke-opacity="0.27" fill="none"/><path d="M445.7,471.0 L454.0,448.6 L464.8,427.4 L477.4,407.3 L490.4,387.3 L503.4,367.4 L517.1,348.1 L528.3,327.0 L538.8,305.6 L549.5,284.3 L558.7,262.3 L566.2,239.6" stroke="#75605a" stroke-width="4.54" stroke-opacity="0.29" fill="none"/><path d="M442.9,520.8 L445.5,493.4 L451.3,466.1 L462.1,440.2 L475.5,415.7 L490.5,392.1 L505.3,368.4 L520.8,345.3 L533.3,320.2 L545.5,294.9 L557.5,269.6 L566.6,243.0" stroke="#75605a" stroke-width="4.76" stroke-opacity="0.17" fill="none"/><path d="M457.2,457.6 L465.7,438.5 L475.3,420.1 L486.3,402.4 L497.2,384.7 L508.1,367.0 L519.5,349.7 L529.2,331.3 L538.1,312.4 L547.1,293.5 L556.3,274.7 L563.7,255.2" stroke="#eadfda" stroke-width="4.22" stroke-opacity="0.16" fill="none"/><path d="M455.4,479.4 L462.6,456.8 L472.1,435.2 L483.1,414.4 L495.2,394.1 L507.1,373.7 L519.5,353.8 L530.6,332.9 L540.5,311.4 L550.6,290.0 L560.6,268.5 L568.5,246.1" stroke="#eadfda" stroke-width="2.41" stroke-opacity="0.26" fill="none"/><path d="M452.3,516.0 L458.3,486.3 L467.4,456.9 L479.6,428.8 L494.4,401.9 L509.5,375.1 L524.9,348.8 L538.1,321.0 L550.8,292.9 L563.7,264.9 L573.6,235.8 L577.5,205.5" stroke="#eadfda" stroke-width="4.36" stroke-opacity="0.21" fill="none"/><path d="M468.7,459.1 L476.8,439.2 L485.9,419.8 L496.4,401.1 L506.9,382.4 L517.3,363.7 L527.8,345.1 L536.9,325.6 L545.6,305.9 L554.7,286.4 L563.7,266.8 L570.9,246.6" stroke="#eadfda" stroke-width="4.10" stroke-opacity="0.12" fill="none"/><path d="M465.0,479.2 L473.5,454.5 L483.4,430.4 L495.3,407.2 L507.9,384.4 L520.3,361.5 L532.3,338.5 L543.0,314.5 L553.6,290.6 L564.7,266.9 L573.4,242.3 L579.1,216.8" stroke="#eadfda" stroke-width="3.55" stroke-opacity="0.20" fill="none"/><path d="M459.3,519.8 L466.4,495.4 L473.8,470.6 L482.6,446.3 L492.5,422.4 L504.3,399.5 L516.1,376.5 L527.8,353.6 L538.7,330.2 L548.8,306.4 L559.4,282.7 L570.0,259.1" stroke="#eadfda" stroke-width="4.42" stroke-opacity="0.22" fill="none"/><path d="M465.6,505.5 L473.7,478.7 L482.9,452.2 L493.0,426.1 L505.4,401.0 L518.1,375.9 L530.5,350.9 L541.9,325.2 L552.7,299.3 L564.5,273.8 L574.9,247.7 L581.7,220.5" stroke="#eadfda" stroke-width="4.40" stroke-opacity="0.20" fill="none"/><path d="M469.1,500.0 L477.5,473.0 L487.0,446.3 L497.4,420.1 L510.2,394.8 L522.5,369.4 L534.7,343.9 L545.8,317.9 L556.7,291.7 L568.7,266.1 L578.1,239.4 L583.4,211.6" stroke="#eadfda" stroke-width="3.72" stroke-opacity="0.25" fill="none"/><path d="M470.3,508.9 L479.8,481.1 L489.4,453.1 L499.4,425.4 L511.9,398.7 L524.4,372.0 L536.4,345.1 L547.8,317.8 L558.9,290.5 L571.5,263.7 L580.8,235.8 L585.8,206.7" stroke="#eadfda" stroke-width="3.02" stroke-opacity="0.17" fill="none"/><path d="M472.4,511.0 L481.1,487.6 L489.1,463.9 L497.1,440.2 L505.9,416.8 L516.7,394.2 L526.8,371.4 L536.7,348.4 L546.2,325.3 L555.4,302.0 L565.5,279.1 L575.9,256.4" stroke="#75605a" stroke-width="3.99" stroke-opacity="0.29" fill="none"/></g><g filter="url(#bl06)"><path d="M432.6,504.0 L434.2,474.9 L443.5,447.3 L458.0,421.9 L474.9,398.1 L491.5,374.0 L509.7,351.1 L524.3,325.8 L537.7,299.9 L550.7,273.7 L559.9,246.0 L567.5,218.0" stroke="#e8dbd6" stroke-width="1.11" stroke-opacity="0.37" fill="none"/><path d="M433.8,483.0 L439.7,457.6 L451.2,434.0 L465.5,412.0 L480.6,390.5 L495.6,369.0 L511.9,348.5 L524.7,325.5 L536.8,302.2 L548.8,278.9 L557.5,254.1 L566.4,229.4" stroke="#6a5450" stroke-width="0.79" stroke-opacity="0.24" fill="none"/><path d="M435.1,515.3 L435.6,485.5 L442.4,456.5 L455.9,429.7 L472.5,404.8 L489.4,380.1 L507.3,356.1 L523.1,330.8 L536.6,304.0 L550.2,277.3 L560.0,249.0 L568.5,220.4" stroke="#6a5450" stroke-width="0.51" stroke-opacity="0.37" fill="none"/><path d="M435.4,512.1 L436.2,484.7 L442.4,458.0 L454.4,433.3 L469.2,410.2 L484.8,387.5 L500.5,365.0 L516.8,342.9 L529.4,318.5 L542.0,294.0 L553.6,269.1 L562.3,243.0" stroke="#e8dbd6" stroke-width="0.41" stroke-opacity="0.36" fill="none"/><path d="M436.1,492.8 L440.0,467.3 L449.7,443.2 L462.6,420.7 L477.3,399.4 L491.7,377.9 L507.2,357.1 L521.2,335.4 L532.9,312.2 L544.7,289.1 L555.2,265.4 L563.3,240.7" stroke="#6a5450" stroke-width="0.44" stroke-opacity="0.43" fill="none"/><path d="M437.0,503.0 L439.8,474.2 L449.5,446.9 L463.5,421.6 L479.7,397.6 L495.8,373.5 L513.1,350.3 L527.1,324.9 L540.2,299.0 L552.9,273.0 L562.2,245.5 L569.5,217.6" stroke="#e8dbd6" stroke-width="0.52" stroke-opacity="0.42" fill="none"/><path d="M439.3,482.5 L446.6,455.5 L459.1,430.4 L474.2,406.8 L489.8,383.4 L505.9,360.5 L521.4,337.2 L534.0,312.0 L546.7,287.0 L557.5,261.0 L566.7,234.5 L569.1,206.8" stroke="#6a5450" stroke-width="0.57" stroke-opacity="0.22" fill="none"/><path d="M439.4,501.0 L442.7,474.4 L451.5,449.0 L464.0,425.1 L478.7,402.6 L493.4,380.1 L508.9,358.1 L523.2,335.4 L535.1,311.2 L547.3,287.1 L557.8,262.3 L566.5,236.8" stroke="#6a5450" stroke-width="0.97" stroke-opacity="0.22" fill="none"/><path d="M440.2,501.9 L443.4,476.0 L451.7,451.1 L463.5,427.7 L477.6,405.6 L491.9,383.6 L506.6,362.0 L521.2,340.2 L532.8,316.7 L544.5,293.1 L555.7,269.3 L564.1,244.4" stroke="#e8dbd6" stroke-width="0.46" stroke-opacity="0.43" fill="none"/><path d="M441.2,505.9 L444.3,478.7 L452.6,452.5 L464.8,427.9 L479.5,404.6 L494.4,381.5 L509.8,358.8 L524.3,335.5 L536.4,310.7 L548.7,286.0 L559.4,260.6 L568.3,234.5" stroke="#6a5450" stroke-width="0.75" stroke-opacity="0.36" fill="none"/><path d="M440.9,522.2 L443.0,492.2 L449.5,462.4 L462.0,434.5 L477.7,408.3 L494.2,382.6 L511.3,357.4 L526.8,331.1 L540.2,303.6 L553.8,276.1 L564.1,247.2 L571.7,217.8" stroke="#6a5450" stroke-width="0.63" stroke-opacity="0.36" fill="none"/><path d="M442.3,508.8 L445.3,481.2 L453.4,454.4 L465.6,429.3 L480.2,405.5 L495.2,381.9 L510.8,358.7 L525.3,334.9 L537.5,309.6 L550.0,284.5 L560.6,258.6 L569.7,232.1" stroke="#6a5450" stroke-width="1.26" stroke-opacity="0.36" fill="none"/><path d="M443.0,509.8 L446.6,480.0 L456.0,451.2 L469.5,424.1 L485.6,398.5 L501.7,372.8 L518.7,347.9 L532.5,320.8 L545.8,293.5 L558.4,265.9 L568.2,237.2 L572.0,207.5" stroke="#e8dbd6" stroke-width="0.93" stroke-opacity="0.41" fill="none"/><path d="M443.4,516.3 L446.7,486.2 L454.9,456.6 L468.0,428.8 L484.0,402.6 L500.2,376.5 L517.3,351.2 L531.6,323.9 L544.9,296.2 L558.0,268.3 L568.0,239.1 L572.6,209.1" stroke="#e8dbd6" stroke-width="0.85" stroke-opacity="0.28" fill="none"/><path d="M446.4,500.9 L451.3,473.2 L461.2,446.6 L474.0,421.4 L488.9,397.3 L503.6,373.2 L519.2,349.7 L532.1,324.5 L544.3,298.8 L556.7,273.3 L566.2,246.5 L573.5,219.2" stroke="#e8dbd6" stroke-width="0.44" stroke-opacity="0.45" fill="none"/><path d="M446.3,509.3 L450.2,482.3 L458.3,455.8 L469.8,430.8 L483.7,407.0 L498.1,383.5 L512.8,360.2 L526.8,336.5 L538.7,311.5 L550.7,286.6 L561.7,261.2 L570.5,235.0" stroke="#e8dbd6" stroke-width="0.60" stroke-opacity="0.27" fill="none"/><path d="M447.9,499.5 L452.9,473.1 L462.3,447.7 L474.2,423.5 L488.2,400.5 L502.1,377.4 L516.7,354.8 L529.6,331.2 L541.2,306.7 L553.0,282.4 L563.3,257.3 L571.8,231.7" stroke="#6a5450" stroke-width="0.49" stroke-opacity="0.47" fill="none"/><path d="M447.9,509.0 L452.4,481.3 L461.1,454.2 L472.9,428.5 L487.2,404.0 L501.8,379.7 L516.9,355.8 L530.4,331.0 L542.4,305.2 L554.9,279.6 L565.3,253.1 L573.8,226.0" stroke="#e8dbd6" stroke-width="0.58" stroke-opacity="0.33" fill="none"/><path d="M451.0,495.5 L456.5,470.6 L465.6,446.8 L476.7,423.8 L489.6,401.9 L502.6,380.0 L516.0,358.4 L528.5,336.2 L539.3,313.0 L550.2,289.9 L560.9,266.7 L569.2,242.5" stroke="#e8dbd6" stroke-width="1.20" stroke-opacity="0.48" fill="none"/><path d="M454.2,484.9 L462.0,458.6 L473.0,433.4 L486.1,409.4 L500.1,385.8 L514.2,362.3 L527.9,338.7 L539.5,313.7 L551.2,288.8 L562.5,263.7 L571.3,237.7 L575.6,210.8" stroke="#6a5450" stroke-width="1.21" stroke-opacity="0.24" fill="none"/><path d="M454.9,486.4 L462.3,460.5 L472.9,435.7 L485.5,411.9 L499.2,388.7 L512.8,365.5 L526.5,342.4 L538.0,317.9 L549.3,293.4 L560.8,268.9 L569.8,243.4 L576.0,217.2" stroke="#6a5450" stroke-width="1.22" stroke-opacity="0.35" fill="none"/><path d="M450.1,516.2 L454.9,489.3 L462.2,462.6 L472.9,437.0 L485.6,412.6 L499.7,388.7 L513.6,364.8 L527.5,341.0 L539.2,315.8 L550.9,290.6 L562.5,265.4 L571.4,239.1" stroke="#e8dbd6" stroke-width="0.68" stroke-opacity="0.35" fill="none"/><path d="M451.8,514.9 L457.8,485.3 L466.9,456.1 L479.2,428.0 L494.0,401.3 L509.1,374.7 L524.6,348.5 L537.8,320.8 L550.5,292.9 L563.4,265.0 L573.2,235.9 L577.2,205.8" stroke="#6a5450" stroke-width="0.69" stroke-opacity="0.33" fill="none"/><path d="M453.0,514.0 L459.1,484.8 L468.2,455.9 L480.2,428.2 L494.8,401.7 L509.6,375.4 L524.7,349.4 L537.8,322.0 L550.2,294.4 L563.0,266.9 L572.9,238.3 L577.6,208.6" stroke="#6a5450" stroke-width="0.62" stroke-opacity="0.27" fill="none"/><path d="M453.3,516.2 L459.0,489.9 L466.5,463.6 L476.7,438.2 L488.7,413.8 L502.3,390.1 L515.5,366.2 L528.8,342.5 L540.2,317.6 L551.5,292.6 L563.1,267.7 L572.2,241.9" stroke="#e8dbd6" stroke-width="0.67" stroke-opacity="0.27" fill="none"/><path d="M456.7,503.1 L463.2,476.0 L472.6,449.6 L483.9,424.1 L497.4,399.6 L511.0,375.2 L524.8,351.0 L536.9,325.8 L548.3,300.1 L560.3,274.8 L570.4,248.6 L577.7,221.6" stroke="#6a5450" stroke-width="0.67" stroke-opacity="0.49" fill="none"/><path d="M459.8,495.6 L466.4,470.9 L475.4,446.8 L485.7,423.4 L498.0,400.9 L510.3,378.5 L522.7,356.2 L534.2,333.3 L544.6,309.8 L555.3,286.4 L565.9,263.0 L574.1,238.6" stroke="#e8dbd6" stroke-width="0.63" stroke-opacity="0.27" fill="none"/><path d="M462.2,487.0 L469.2,463.5 L478.2,440.7 L488.5,418.5 L500.3,397.1 L512.0,375.6 L523.9,354.3 L534.8,332.4 L544.6,309.9 L554.8,287.6 L565.1,265.2 L573.1,242.0" stroke="#6a5450" stroke-width="0.90" stroke-opacity="0.23" fill="none"/><path d="M454.4,523.6 L461.1,497.0 L468.5,470.1 L478.4,443.9 L489.8,418.5 L503.2,394.0 L516.4,369.4 L529.6,344.9 L541.1,319.4 L552.4,293.8 L564.3,268.4 L573.7,242.0" stroke="#e8dbd6" stroke-width="0.66" stroke-opacity="0.53" fill="none"/><path d="M463.9,489.3 L471.7,463.5 L481.5,438.4 L492.8,414.1 L505.8,390.5 L518.3,366.8 L530.9,343.1 L541.9,318.5 L552.7,293.8 L564.2,269.4 L573.4,244.1 L579.6,217.9" stroke="#6a5450" stroke-width="0.50" stroke-opacity="0.51" fill="none"/><path d="M459.1,512.5 L466.1,485.9 L474.6,459.4 L484.8,433.6 L496.9,408.7 L510.1,384.2 L523.0,359.7 L535.3,334.9 L546.4,309.4 L557.9,284.0 L569.1,258.5 L577.5,232.0" stroke="#6a5450" stroke-width="0.63" stroke-opacity="0.24" fill="none"/><path d="M456.4,525.2 L464.0,498.6 L471.8,471.6 L481.5,445.1 L492.6,419.3 L505.8,394.5 L518.7,369.5 L531.5,344.6 L542.9,318.7 L554.1,292.8 L566.1,267.3 L575.5,240.7" stroke="#e8dbd6" stroke-width="0.55" stroke-opacity="0.31" fill="none"/><path d="M460.3,513.9 L467.8,487.0 L476.5,460.0 L486.7,433.6 L498.9,408.1 L512.1,383.1 L525.0,358.1 L537.2,332.6 L548.4,306.5 L560.1,280.7 L571.3,254.6 L579.3,227.4" stroke="#e8dbd6" stroke-width="0.70" stroke-opacity="0.30" fill="none"/><path d="M466.8,495.9 L474.6,470.1 L483.8,444.8 L494.2,420.0 L506.6,396.1 L518.8,372.1 L530.9,348.2 L541.8,323.5 L552.3,298.7 L563.7,274.2 L573.8,249.2 L580.7,223.1" stroke="#6a5450" stroke-width="0.83" stroke-opacity="0.24" fill="none"/><path d="M468.4,493.3 L476.2,468.0 L485.3,443.1 L495.5,418.7 L507.7,395.2 L519.6,371.5 L531.4,347.9 L542.2,323.6 L552.4,299.1 L563.7,275.0 L573.7,250.4 L580.7,224.8" stroke="#e8dbd6" stroke-width="0.86" stroke-opacity="0.50" fill="none"/><path d="M463.7,512.7 L472.1,485.4 L481.2,458.1 L491.3,431.1 L503.6,405.2 L516.6,379.5 L529.3,353.8 L541.1,327.6 L552.1,301.0 L564.2,274.8 L575.0,248.1 L581.9,220.1" stroke="#e8dbd6" stroke-width="0.89" stroke-opacity="0.36" fill="none"/><path d="M465.9,509.4 L474.2,482.8 L483.2,456.2 L493.0,430.0 L504.9,404.7 L517.5,379.6 L529.6,354.5 L541.1,328.9 L551.8,303.0 L563.4,277.4 L574.4,251.6 L581.7,224.5" stroke="#6a5450" stroke-width="0.57" stroke-opacity="0.54" fill="none"/><path d="M471.7,493.2 L480.1,466.9 L489.4,441.0 L500.0,415.5 L512.5,391.0 L524.4,366.1 L536.1,341.3 L546.8,315.8 L557.5,290.3 L569.3,265.3 L578.3,239.3 L583.5,212.2" stroke="#6a5450" stroke-width="0.63" stroke-opacity="0.22" fill="none"/><path d="M472.9,494.6 L480.6,470.7 L488.9,446.9 L497.8,423.5 L508.8,400.9 L519.8,378.3 L530.4,355.6 L540.6,332.6 L550.1,309.3 L560.0,286.2 L570.7,263.4 L578.9,239.6" stroke="#6a5450" stroke-width="1.28" stroke-opacity="0.21" fill="none"/><path d="M463.5,523.2 L473.1,496.8 L481.8,470.0 L491.1,443.3 L501.5,417.1 L514.1,391.8 L526.0,366.2 L537.6,340.6 L548.5,314.5 L559.3,288.4 L571.3,262.8 L580.2,235.9" stroke="#e8dbd6" stroke-width="1.07" stroke-opacity="0.48" fill="none"/><path d="M473.2,501.4 L481.4,477.2 L489.7,452.9 L498.2,428.8 L508.7,405.4 L519.9,382.3 L530.4,359.0 L540.6,335.5 L550.3,311.8 L560.1,288.1 L571.1,264.9 L579.6,240.8" stroke="#6a5450" stroke-width="0.47" stroke-opacity="0.51" fill="none"/><path d="M464.5,524.2 L474.5,498.2 L483.3,471.6 L492.5,445.1 L502.4,418.9 L514.6,393.7 L526.3,368.3 L537.6,342.7 L548.4,316.7 L558.9,290.8 L570.9,265.4 L580.2,239.0" stroke="#e8dbd6" stroke-width="1.00" stroke-opacity="0.20" fill="none"/><path d="M475.0,500.2 L484.2,473.1 L493.4,445.9 L503.4,419.1 L515.8,393.3 L527.6,367.2 L539.0,341.0 L549.8,314.4 L560.7,287.9 L572.9,262.0 L581.7,234.8 L586.4,206.6" stroke="#6a5450" stroke-width="1.24" stroke-opacity="0.27" fill="none"/><path d="M476.9,499.4 L485.5,474.5 L494.0,449.5 L502.6,424.7 L513.5,400.7 L524.5,376.8 L534.9,352.6 L545.0,328.3 L554.6,303.8 L565.2,279.7 L576.1,255.7 L583.3,230.4" stroke="#6a5450" stroke-width="1.03" stroke-opacity="0.20" fill="none"/><path d="M474.3,507.5 L483.1,483.3 L491.4,458.9 L499.6,434.4 L509.3,410.5 L520.3,387.2 L530.6,363.5 L540.6,339.8 L550.2,315.9 L559.7,291.9 L570.7,268.6 L580.0,244.5" stroke="#e8dbd6" stroke-width="0.93" stroke-opacity="0.24" fill="none"/></g><g filter="url(#bl15)"><g fill="none" stroke-linecap="round"><path d="M433.0,522.0 L432.8,518.3 L432.7,514.6 L432.5,511.0 L432.3,507.3 L432.1,503.6 L432.0,499.9 L431.9,496.2 L432.0,492.6 L432.2,488.9 L432.4,485.2 L432.7,481.5 L433.1,477.9 L433.7,474.3 L434.4,470.6 L435.3,467.1 L436.3,463.5 L437.4,460.0 L438.7,456.6 L440.2,453.2 L441.7,449.8 L443.3,446.5 L444.9,443.2 L446.6,439.9 L446.6,439.9 L447.2,443.4 L447.8,446.9 L448.6,450.4 L449.4,453.9 L450.3,457.5 L451.3,461.1 L452.4,464.8 L453.6,468.4 L454.9,472.1 L456.2,475.8 L457.5,479.5 L458.9,483.1 L460.2,486.8 L461.6,490.4 L462.8,494.0 L464.0,497.6 L465.1,501.2 L466.1,504.7 L466.9,508.2 L467.7,511.6 L468.3,515.1 L468.7,518.4 L469.0,521.7 L469.0,521.7 L468.8,522.0 L468.7,522.3 L468.6,522.6 L468.4,522.8 L468.3,523.1 L468.2,523.4 L468.1,523.6 L467.9,523.9 L467.8,524.2 L467.7,524.5 L467.5,524.7 L467.4,525.0 L467.3,525.3 L467.2,525.5 L467.0,525.8 L466.9,526.1 L466.8,526.4 L466.6,526.6 L466.5,526.9 L466.4,527.2 L466.3,527.5 L466.1,527.7 L466.0,528.0 L466.0,528.0 L464.6,527.7 L463.1,527.5 L461.7,527.2 L460.3,527.0 L458.8,526.7 L457.4,526.4 L456.0,526.2 L454.5,525.9 L453.1,525.7 L451.7,525.4 L450.2,525.1 L448.8,524.9 L447.3,524.6 L445.9,524.3 L444.5,524.1 L443.0,523.8 L441.6,523.6 L440.2,523.3 L438.7,523.0 L437.3,522.8 L435.9,522.5 L434.4,522.3 L433.0,522.0 Z" fill="url(#g6)" filter="url(#bl3)"/><path d="M438.2,460.0 L436.1,466.6 L434.6,473.4 L433.6,480.3 L432.9,487.3 L432.6,494.2 L432.6,501.2 L432.9,508.2 L433.2,515.1 L433.5,522.1" stroke="url(#g7)" stroke-width="3.6" stroke-opacity="0.34"/><path d="M447.0,444.5 L443.2,452.6 L439.9,460.8 L437.4,469.3 L435.7,478.1 L434.7,486.9 L434.2,495.8 L434.2,504.6 L434.5,513.5 L434.7,522.3" stroke="url(#g3)" stroke-width="2.8" stroke-opacity="0.47"/><path d="M454.3,436.1 L449.7,445.0 L445.6,454.1 L442.0,463.4 L439.4,473.1 L437.8,482.9 L436.8,492.9 L436.5,502.8 L436.5,512.7 L436.5,522.6" stroke="url(#g3)" stroke-width="2.6" stroke-opacity="0.30"/><path d="M455.7,438.9 L451.4,447.6 L447.5,456.5 L444.2,465.6 L441.8,475.0 L440.2,484.6 L439.2,494.2 L438.7,503.8 L438.5,513.4 L438.3,523.0" stroke="url(#g3)" stroke-width="1.7" stroke-opacity="0.47"/><path d="M463.6,427.4 L458.2,437.2 L453.3,447.2 L448.8,457.5 L445.2,468.1 L442.7,479.0 L441.1,490.0 L440.2,501.1 L439.7,512.1 L439.3,523.1" stroke="url(#g3)" stroke-width="1.7" stroke-opacity="0.25"/><path d="M450.8,456.6 L448.1,463.7 L445.9,471.0 L444.3,478.4 L443.0,485.9 L442.1,493.4 L441.4,500.9 L441.0,508.4 L440.7,515.9 L440.2,523.3" stroke="url(#g3)" stroke-width="3.7" stroke-opacity="0.66"/><path d="M451.5,459.6 L449.1,466.4 L447.1,473.5 L445.6,480.6 L444.4,487.8 L443.5,494.9 L442.8,502.1 L442.4,509.3 L441.9,516.4 L441.4,523.5" stroke="url(#g3)" stroke-width="3.0" stroke-opacity="0.69"/><path d="M451.9,463.8 L449.8,470.3 L448.2,476.9 L446.8,483.6 L445.8,490.3 L444.9,497.0 L444.2,503.7 L443.7,510.4 L443.1,517.1 L442.5,523.7" stroke="url(#g3)" stroke-width="1.7" stroke-opacity="0.57"/><path d="M463.6,440.2 L459.6,449.0 L455.8,458.0 L452.5,467.1 L450.0,476.5 L448.1,486.0 L446.6,495.5 L445.5,505.0 L444.6,514.5 L443.6,523.9" stroke="url(#g3)" stroke-width="2.8" stroke-opacity="0.54"/><path d="M451.8,478.2 L450.7,483.4 L449.8,488.5 L448.9,493.6 L448.1,498.7 L447.5,503.8 L446.9,508.9 L446.3,514.0 L445.7,519.1 L445.0,524.2" stroke="url(#g3)" stroke-width="2.7" stroke-opacity="0.68"/><path d="M454.3,480.5 L453.2,485.4 L452.3,490.3 L451.4,495.3 L450.6,500.2 L449.8,505.1 L449.1,510.0 L448.4,514.8 L447.7,519.7 L446.9,524.5" stroke="url(#g3)" stroke-width="4.0" stroke-opacity="0.58"/><path d="M454.7,488.1 L453.9,492.2 L453.1,496.3 L452.3,500.4 L451.6,504.5 L451.0,508.5 L450.3,512.6 L449.7,516.7 L448.9,520.7 L448.2,524.8" stroke="url(#g3)" stroke-width="2.2" stroke-opacity="0.70"/><path d="M459.5,473.4 L458.0,479.1 L456.6,484.9 L455.4,490.6 L454.2,496.4 L453.1,502.1 L452.1,507.9 L451.1,513.6 L450.1,519.2 L449.0,524.9" stroke="url(#g3)" stroke-width="3.0" stroke-opacity="0.43"/><path d="M467.6,460.1 L465.0,467.2 L462.7,474.4 L460.8,481.7 L459.0,489.1 L457.3,496.4 L455.8,503.7 L454.3,510.9 L452.8,518.1 L451.2,525.3" stroke="url(#g3)" stroke-width="3.6" stroke-opacity="0.62"/><path d="M456.4,504.2 L455.9,506.6 L455.4,508.9 L454.9,511.3 L454.4,513.7 L453.9,516.0 L453.4,518.4 L452.9,520.7 L452.3,523.1 L451.7,525.4" stroke="url(#g7)" stroke-width="2.6" stroke-opacity="0.41"/><path d="M468.3,466.7 L466.2,473.2 L464.3,479.8 L462.5,486.4 L460.9,493.0 L459.3,499.6 L457.8,506.2 L456.3,512.7 L454.7,519.2 L453.1,525.6" stroke="url(#g3)" stroke-width="2.0" stroke-opacity="0.66"/><path d="M459.8,510.1 L459.4,511.9 L458.9,513.6 L458.4,515.4 L457.9,517.2 L457.4,519.0 L456.9,520.8 L456.4,522.5 L455.9,524.3 L455.4,526.1" stroke="url(#g3)" stroke-width="3.8" stroke-opacity="0.45"/><path d="M461.0,507.6 L460.4,509.7 L459.9,511.8 L459.3,513.9 L458.7,515.9 L458.2,518.0 L457.5,520.0 L456.9,522.0 L456.3,524.1 L455.7,526.1" stroke="url(#g3)" stroke-width="1.6" stroke-opacity="0.50"/><path d="M471.5,478.4 L469.9,483.8 L468.3,489.2 L466.8,494.6 L465.3,499.9 L463.7,505.3 L462.2,510.6 L460.6,515.9 L459.0,521.2 L457.3,526.4" stroke="url(#g3)" stroke-width="3.6" stroke-opacity="0.28"/><path d="M465.8,504.7 L465.0,507.2 L464.2,509.6 L463.5,512.1 L462.7,514.5 L461.9,517.0 L461.1,519.4 L460.3,521.8 L459.4,524.2 L458.6,526.7" stroke="url(#g3)" stroke-width="1.9" stroke-opacity="0.38"/><path d="M471.2,492.5 L470.0,496.3 L468.8,500.2 L467.6,504.1 L466.3,507.9 L465.1,511.7 L463.8,515.5 L462.5,519.3 L461.1,523.1 L459.7,526.9" stroke="url(#g3)" stroke-width="2.4" stroke-opacity="0.31"/><path d="M468.0,507.9 L467.3,510.1 L466.6,512.2 L465.8,514.4 L465.0,516.5 L464.3,518.6 L463.5,520.8 L462.6,522.9 L461.8,525.0 L461.0,527.1" stroke="url(#g3)" stroke-width="2.9" stroke-opacity="0.37"/><path d="M472.6,507.6 L471.8,509.9 L470.9,512.1 L470.0,514.4 L469.1,516.6 L468.1,518.8 L467.2,521.1 L466.2,523.3 L465.2,525.5 L464.2,527.7" stroke="url(#g3)" stroke-width="1.9" stroke-opacity="0.63"/><path d="M471.7,513.2 L471.0,514.9 L470.3,516.5 L469.6,518.2 L468.9,519.8 L468.2,521.4 L467.4,523.0 L466.7,524.6 L465.9,526.2 L465.2,527.9" stroke="url(#g3)" stroke-width="3.0" stroke-opacity="0.56"/></g><g fill="none" stroke-linecap="round"><path d="M546.6,282.5 L548.1,279.3 L549.5,276.1 L550.8,272.8 L552.0,269.5 L553.2,266.1 L554.3,262.8 L555.4,259.4 L556.4,256.1 L557.5,252.7 L558.6,249.3 L559.7,246.0 L560.9,242.7 L562.1,239.4 L563.5,236.1 L564.8,232.8 L565.9,229.5 L566.7,226.1 L567.2,222.6 L567.3,219.1 L567.0,215.5 L566.7,212.0 L566.3,208.5 L566.0,205.0 L566.0,205.0 L567.0,205.0 L567.9,205.0 L568.9,205.0 L569.8,205.0 L570.8,205.0 L571.7,205.0 L572.7,205.0 L573.7,205.0 L574.6,205.0 L575.6,205.0 L576.5,205.0 L577.5,205.0 L578.4,205.0 L579.4,205.0 L580.3,205.0 L581.3,205.0 L582.3,205.0 L583.2,205.0 L584.2,205.0 L585.1,205.0 L586.1,205.0 L587.0,205.0 L588.0,205.0 L588.0,205.0 L587.7,207.5 L587.3,210.1 L587.0,212.6 L586.7,215.2 L586.4,217.7 L585.9,220.2 L585.5,222.7 L584.9,225.2 L584.4,227.7 L583.9,230.2 L583.3,232.7 L582.8,235.2 L582.2,237.7 L581.5,240.2 L580.9,242.7 L580.2,245.2 L579.5,247.6 L578.7,250.0 L577.9,252.5 L577.0,254.9 L576.1,257.3 L575.1,259.6 L574.1,262.0 L574.1,262.0 L572.9,262.8 L571.7,263.7 L570.5,264.6 L569.2,265.4 L568.0,266.3 L566.8,267.2 L565.6,268.1 L564.4,269.0 L563.2,269.9 L562.0,270.7 L560.9,271.6 L559.7,272.5 L558.5,273.4 L557.3,274.3 L556.2,275.2 L555.0,276.2 L553.8,277.1 L552.6,278.0 L551.4,278.9 L550.2,279.8 L549.0,280.7 L547.8,281.6 L546.6,282.5 Z" fill="url(#g8)" filter="url(#bl3)"/><path d="M533.8,307.7 L539.4,296.8 L545.1,286.1 L550.3,275.1 L554.4,263.6 L558.1,252.0 L562.0,240.5 L566.3,229.1 L567.5,217.1 L566.4,205.0" stroke="url(#g5)" stroke-width="3.5" stroke-opacity="0.68"/><path d="M547.8,282.3 L551.4,274.0 L554.5,265.6 L557.3,257.1 L560.1,248.5 L563.0,240.0 L566.3,231.7 L568.3,222.9 L568.1,213.9 L567.3,205.0" stroke="url(#g5)" stroke-width="2.2" stroke-opacity="0.70"/><path d="M540.5,298.0 L545.5,288.3 L550.4,278.5 L554.5,268.3 L558.0,257.9 L561.4,247.5 L565.1,237.2 L568.6,226.8 L569.2,215.9 L568.4,205.0" stroke="url(#g5)" stroke-width="3.5" stroke-opacity="0.74"/><path d="M557.8,260.2 L559.7,254.2 L561.7,248.1 L563.7,242.1 L566.0,236.2 L568.1,230.2 L569.5,224.0 L569.8,217.7 L569.4,211.3 L568.9,205.0" stroke="url(#g5)" stroke-width="2.7" stroke-opacity="0.34"/><path d="M545.6,290.9 L550.3,281.9 L554.3,272.7 L557.8,263.3 L561.0,253.7 L564.1,244.1 L567.6,234.7 L570.3,225.0 L570.7,215.0 L570.2,205.0" stroke="url(#g5)" stroke-width="3.3" stroke-opacity="0.54"/><path d="M550.6,281.7 L554.3,273.5 L557.4,265.2 L560.3,256.8 L563.1,248.3 L566.0,239.8 L569.0,231.5 L571.0,222.8 L571.0,213.9 L570.5,205.0" stroke="url(#g5)" stroke-width="3.6" stroke-opacity="0.49"/><path d="M558.9,264.2 L561.1,257.7 L563.3,251.3 L565.4,244.8 L567.6,238.3 L569.9,231.9 L571.6,225.3 L572.2,218.6 L572.0,211.8 L571.8,205.0" stroke="url(#g5)" stroke-width="2.6" stroke-opacity="0.50"/><path d="M559.3,265.3 L561.6,258.7 L563.9,252.1 L566.0,245.5 L568.2,238.9 L570.5,232.4 L572.3,225.7 L573.0,218.8 L572.9,211.9 L572.7,205.0" stroke="url(#g5)" stroke-width="2.0" stroke-opacity="0.30"/><path d="M555.2,277.5 L558.5,269.7 L561.5,261.9 L564.2,253.9 L566.8,245.9 L569.5,237.9 L572.1,230.0 L573.7,221.7 L573.9,213.4 L573.7,205.0" stroke="url(#g5)" stroke-width="2.3" stroke-opacity="0.70"/><path d="M556.2,277.1 L559.5,269.4 L562.5,261.6 L565.2,253.7 L567.8,245.7 L570.4,237.8 L573.0,229.8 L574.5,221.6 L574.8,213.3 L574.7,205.0" stroke="url(#g5)" stroke-width="4.0" stroke-opacity="0.67"/><path d="M551.4,288.2 L555.7,279.4 L559.6,270.5 L563.2,261.5 L566.4,252.3 L569.4,243.0 L572.4,233.8 L574.8,224.3 L575.5,214.7 L575.5,205.0" stroke="url(#g5)" stroke-width="1.5" stroke-opacity="0.59"/><path d="M553.9,284.6 L557.9,276.2 L561.6,267.6 L564.9,259.0 L567.9,250.2 L570.7,241.3 L573.5,232.5 L575.7,223.5 L576.3,214.2 L576.3,205.0" stroke="url(#g5)" stroke-width="2.7" stroke-opacity="0.53"/><path d="M562.0,267.6 L564.6,260.9 L567.0,254.1 L569.2,247.2 L571.4,240.3 L573.6,233.4 L575.5,226.5 L576.5,219.4 L576.7,212.2 L576.8,205.0" stroke="url(#g5)" stroke-width="2.9" stroke-opacity="0.44"/><path d="M560.0,273.8 L563.1,266.5 L565.9,259.0 L568.6,251.5 L571.0,243.9 L573.4,236.3 L575.6,228.7 L577.0,220.8 L577.4,212.9 L577.5,205.0" stroke="url(#g5)" stroke-width="2.3" stroke-opacity="0.61"/><path d="M557.6,280.5 L561.3,272.5 L564.7,264.4 L567.8,256.2 L570.6,247.8 L573.2,239.5 L575.8,231.1 L577.6,222.5 L578.2,213.7 L578.5,205.0" stroke="url(#g5)" stroke-width="2.0" stroke-opacity="0.45"/><path d="M552.6,292.9 L557.1,283.6 L561.6,274.3 L565.6,264.8 L569.3,255.1 L572.5,245.3 L575.5,235.5 L578.1,225.5 L579.3,215.3 L579.7,205.0" stroke="url(#g5)" stroke-width="1.6" stroke-opacity="0.49"/><path d="M562.3,273.6 L565.5,266.3 L568.4,258.9 L571.1,251.4 L573.5,243.8 L575.8,236.2 L577.9,228.6 L579.3,220.8 L579.9,212.9 L580.3,205.0" stroke="url(#g5)" stroke-width="1.9" stroke-opacity="0.30"/><path d="M571.9,252.3 L573.6,247.1 L575.1,242.0 L576.6,236.8 L578.1,231.6 L579.3,226.4 L580.3,221.1 L580.8,215.7 L581.1,210.4 L581.4,205.0" stroke="url(#g5)" stroke-width="3.7" stroke-opacity="0.51"/><path d="M554.9,292.5 L559.3,283.2 L563.7,273.9 L567.9,264.5 L571.7,255.0 L574.8,245.2 L577.7,235.3 L580.1,225.4 L581.5,215.2 L582.2,205.0" stroke="url(#g5)" stroke-width="2.2" stroke-opacity="0.41"/><path d="M557.7,288.8 L562.0,279.9 L566.2,271.0 L570.1,262.0 L573.7,252.9 L576.6,243.5 L579.2,234.0 L581.4,224.5 L582.8,214.8 L583.5,205.0" stroke="url(#g5)" stroke-width="3.9" stroke-opacity="0.49"/><path d="M561.5,281.6 L565.4,273.5 L569.1,265.4 L572.5,257.1 L575.4,248.7 L578.0,240.1 L580.2,231.5 L582.1,222.7 L583.2,213.9 L584.0,205.0" stroke="url(#g5)" stroke-width="3.9" stroke-opacity="0.34"/><path d="M568.4,268.9 L571.3,262.2 L574.1,255.3 L576.5,248.3 L578.5,241.2 L580.4,234.1 L582.1,226.9 L583.5,219.7 L584.3,212.3 L585.0,205.0" stroke="url(#g5)" stroke-width="2.0" stroke-opacity="0.36"/><path d="M575.6,254.4 L577.4,249.1 L579.0,243.7 L580.5,238.2 L581.8,232.8 L583.1,227.3 L584.2,221.7 L585.0,216.2 L585.6,210.6 L586.2,205.0" stroke="url(#g5)" stroke-width="3.3" stroke-opacity="0.70"/><path d="M574.1,258.5 L576.2,252.8 L578.1,247.0 L579.8,241.1 L581.3,235.2 L582.7,229.2 L584.0,223.2 L585.0,217.2 L585.6,211.1 L586.3,205.0" stroke="url(#g5)" stroke-width="3.4" stroke-opacity="0.36"/><path d="M580.1,244.1 L581.2,239.8 L582.3,235.5 L583.3,231.2 L584.2,226.9 L585.1,222.5 L585.9,218.2 L586.5,213.8 L587.0,209.4 L587.5,205.0" stroke="url(#g5)" stroke-width="2.3" stroke-opacity="0.63"/></g></g></g><path d="M433.0,522.0 L432.6,513.1 L432.1,504.2 L431.9,495.2 L432.3,486.3 L433.2,477.4 L434.8,468.6 L437.4,460.1 L440.8,451.8 L444.6,443.7 L448.8,435.9 L453.4,428.2 L458.2,420.7 L463.3,413.3 L468.6,406.1 L473.8,398.9 L478.9,391.5 L484.0,384.2 L489.1,376.8 L494.3,369.6 L499.9,362.6 L505.6,355.8 L511.1,348.7 L515.9,341.2 L520.2,333.4 L524.2,325.4 L528.3,317.4 L532.5,309.5 L536.6,301.6 L540.7,293.7 L544.9,285.8 L548.8,277.8 L552.1,269.4 L554.9,261.0 L557.6,252.4 L560.4,244.0 L563.7,235.7 L566.6,227.2 L567.3,218.3 L566.4,209.5" fill="none" stroke="#3f3431" stroke-width="1.1"/><path d="M466.0,528.0 L469.7,520.1 L473.3,512.0 L476.6,503.9 L479.7,495.7 L482.7,487.5 L485.5,479.2 L488.3,470.9 L491.1,462.6 L493.9,454.3 L496.6,445.9 L499.4,437.6 L502.2,429.3 L505.3,421.1 L508.8,413.1 L512.6,405.2 L516.4,397.3 L520.1,389.3 L523.6,381.3 L527.0,373.2 L530.4,365.2 L533.8,357.1 L537.2,349.0 L540.5,340.9 L543.9,332.8 L547.2,324.6 L550.4,316.5 L553.5,308.3 L556.7,300.1 L560.0,292.0 L563.6,284.0 L567.4,276.1 L571.2,268.2 L574.9,260.3 L578.0,252.1 L580.6,243.7 L582.8,235.2 L584.6,226.6 L586.3,218.0 L587.4,209.3" fill="none" stroke="#3f3431" stroke-width="1.1"/><path d="M612.0,318.0 C609.7,332.0 607.5,346.3 605.0,360.0 C602.5,373.7 599.8,386.7 597.0,400.0 C594.2,413.3 591.2,426.7 588.0,440.0 C584.8,453.3 581.7,467.5 578.0,480.0 C574.3,492.5 570.3,504.2 566.0,515.0 C561.7,525.8 556.7,535.0 552.0,545.0" fill="none" stroke="#6a5853" stroke-width="0.9" stroke-opacity="0.7"/><g clip-path="url(#c5)"><use href="#p5" fill="#b8a29c"/><g filter="url(#bl3)"><path d="M45.5,290.2 L64.6,288.9 L83.8,288.0 L103.0,289.2 L121.9,292.3 L140.5,297.0 L158.6,303.2 L176.3,310.5 L193.4,319.0 L210.2,328.1 L226.6,337.9 L241.7,349.4 L253.7,364.0 L261.9,381.1" stroke="#8d7670" stroke-width="8.8" fill="none"/><path d="M44.4,296.4 L63.4,295.2 L82.5,294.3 L101.6,295.4 L120.5,298.2 L139.0,302.6 L157.1,308.4 L174.8,315.2 L192.0,323.1 L208.9,331.6 L225.4,340.7 L240.6,351.5 L253.0,365.2 L261.7,381.2" stroke="#9a847e" stroke-width="8.8" fill="none"/><path d="M43.2,302.7 L62.2,301.5 L81.2,300.6 L100.2,301.6 L119.1,304.2 L137.6,308.2 L155.6,313.6 L173.4,319.9 L190.6,327.2 L207.5,335.1 L224.1,343.6 L239.5,353.6 L252.2,366.3 L261.4,381.3" stroke="#a6918b" stroke-width="8.8" fill="none"/><path d="M42.1,309.0 L61.1,307.8 L80.0,307.0 L99.0,307.8 L117.7,310.1 L136.2,313.8 L154.2,318.8 L172.0,324.6 L189.2,331.3 L206.2,338.6 L222.8,346.4 L238.4,355.7 L251.4,367.5 L261.2,381.4" stroke="#b19d97" stroke-width="8.7" fill="none"/><path d="M41.4,315.3 L60.2,314.2 L79.1,313.3 L97.9,314.0 L116.6,316.1 L134.9,319.5 L153.0,324.0 L170.7,329.3 L187.9,335.5 L204.9,342.1 L221.6,349.3 L237.4,357.8 L250.7,368.7 L261.0,381.5" stroke="#bba8a2" stroke-width="8.7" fill="none"/><path d="M40.9,321.7 L59.6,320.5 L78.4,319.7 L97.1,320.3 L115.6,322.1 L133.9,325.2 L151.9,329.2 L169.5,334.0 L186.8,339.6 L203.8,345.7 L220.5,352.1 L236.4,359.9 L249.9,369.8 L260.8,381.6" stroke="#c4b1ab" stroke-width="8.7" fill="none"/><path d="M40.7,328.1 L59.3,326.9 L77.9,326.1 L96.4,326.5 L114.9,328.1 L133.0,330.8 L150.9,334.5 L168.5,338.7 L185.8,343.8 L202.7,349.2 L219.5,355.0 L235.4,362.0 L249.2,371.0 L260.6,381.7" stroke="#cbb9b3" stroke-width="8.6" fill="none"/><path d="M40.7,334.5 L59.1,333.3 L77.6,332.5 L96.0,332.8 L114.2,334.2 L132.3,336.5 L150.1,339.7 L167.6,343.5 L184.8,347.9 L201.7,352.7 L218.5,357.9 L234.4,364.1 L248.5,372.2 L260.3,381.8" stroke="#d1bfb9" stroke-width="8.6" fill="none"/><path d="M40.9,340.8 L59.1,339.7 L77.4,338.9 L95.6,339.1 L113.7,340.2 L131.6,342.2 L149.3,344.9 L166.7,348.2 L183.9,352.1 L200.8,356.3 L217.5,360.8 L233.5,366.2 L247.9,373.3 L260.1,381.9" stroke="#d4c3bd" stroke-width="8.6" fill="none"/><path d="M41.1,347.2 L59.2,346.1 L77.3,345.3 L95.3,345.3 L113.3,346.2 L131.0,347.9 L148.6,350.2 L165.9,352.9 L183.0,356.2 L199.9,359.8 L216.6,363.6 L232.6,368.3 L247.2,374.5 L259.9,382.1" stroke="#d4c3bd" stroke-width="8.6" fill="none"/><path d="M41.5,353.6 L59.4,352.5 L77.3,351.7 L95.1,351.6 L112.9,352.2 L130.5,353.5 L147.9,355.4 L165.2,357.7 L182.2,360.4 L199.0,363.3 L215.6,366.5 L231.8,370.4 L246.5,375.6 L259.7,382.2" stroke="#d1bfb9" stroke-width="8.6" fill="none"/><path d="M42.0,360.0 L59.7,358.9 L77.4,358.0 L95.0,357.8 L112.6,358.2 L130.1,359.2 L147.4,360.6 L164.5,362.4 L181.4,364.5 L198.1,366.9 L214.8,369.4 L230.9,372.5 L245.9,376.8 L259.4,382.3" stroke="#cbb9b3" stroke-width="8.5" fill="none"/><path d="M42.7,366.3 L60.1,365.3 L77.6,364.4 L95.1,364.1 L112.5,364.2 L129.7,364.8 L146.9,365.8 L163.9,367.1 L180.7,368.7 L197.3,370.4 L213.9,372.2 L230.1,374.5 L245.2,378.0 L259.2,382.4" stroke="#c4b1ab" stroke-width="8.5" fill="none"/><path d="M43.5,372.6 L60.7,371.6 L78.0,370.7 L95.2,370.3 L112.4,370.2 L129.5,370.5 L146.5,371.1 L163.3,371.8 L180.0,372.8 L196.6,373.9 L213.1,375.1 L229.2,376.6 L244.6,379.1 L259.0,382.5" stroke="#bba8a2" stroke-width="8.5" fill="none"/><path d="M44.4,378.9 L61.5,378.0 L78.5,377.1 L95.5,376.5 L112.5,376.2 L129.3,376.1 L146.1,376.3 L162.8,376.5 L179.4,376.9 L195.9,377.4 L212.3,377.9 L228.5,378.7 L244.0,380.3 L258.8,382.6" stroke="#b19d97" stroke-width="8.5" fill="none"/><path d="M45.5,385.2 L62.3,384.3 L79.0,383.4 L95.8,382.7 L112.6,382.2 L129.2,381.7 L145.8,381.4 L162.4,381.2 L178.8,381.0 L195.2,380.9 L211.5,380.8 L227.7,380.8 L243.4,381.4 L258.6,382.7" stroke="#a6918b" stroke-width="8.4" fill="none"/><path d="M46.5,391.5 L63.1,390.6 L79.6,389.7 L96.1,388.9 L112.7,388.1 L129.1,387.4 L145.5,386.6 L161.9,385.9 L178.2,385.2 L194.5,384.4 L210.8,383.7 L226.9,382.9 L242.8,382.6 L258.3,382.8" stroke="#9a847e" stroke-width="8.4" fill="none"/><path d="M47.5,397.8 L63.8,396.9 L80.1,396.0 L96.4,395.1 L112.7,394.1 L129.0,393.0 L145.2,391.8 L161.5,390.6 L177.7,389.3 L193.8,387.9 L210.0,386.5 L226.1,385.0 L242.1,383.8 L258.1,382.9" stroke="#8d7670" stroke-width="8.5" fill="none"/></g><g filter="url(#bl15)"><path d="M55.8,286.4 L76.6,285.0 L97.4,285.5 L118.0,288.3 L138.2,293.3 L157.9,300.1 L177.0,308.2 L195.5,317.7 L213.6,328.0 L231.2,339.2 L246.7,353.0 L257.6,370.6" stroke="#75605a" stroke-width="2.60" stroke-opacity="0.16" fill="none"/><path d="M52.6,296.5 L70.0,295.3 L87.4,295.0 L104.8,296.3 L121.9,299.0 L138.8,303.1 L155.3,308.3 L171.5,314.3 L187.2,321.2 L202.6,328.8 L217.9,336.8 L232.5,345.6" stroke="#eadfda" stroke-width="4.70" stroke-opacity="0.31" fill="none"/><path d="M82.7,297.4 L99.8,298.3 L116.8,300.6 L133.5,304.1 L149.8,308.8 L165.9,314.3 L181.6,320.6 L196.9,327.8 L212.0,335.2 L226.8,343.3 L240.4,352.8 L251.7,364.6" stroke="#eadfda" stroke-width="2.14" stroke-opacity="0.28" fill="none"/><path d="M57.4,306.2 L74.7,305.2 L92.0,305.4 L109.3,307.0 L126.3,309.9 L143.0,313.9 L159.4,318.7 L175.5,324.4 L191.2,330.8 L206.7,337.7 L221.9,344.9 L236.3,353.3" stroke="#eadfda" stroke-width="3.33" stroke-opacity="0.14" fill="none"/><path d="M85.3,309.7 L101.4,310.6 L117.4,312.6 L133.1,315.6 L148.6,319.5 L163.9,324.0 L178.8,329.2 L193.5,335.0 L207.9,341.1 L222.2,347.5 L235.7,355.0 L247.5,364.3" stroke="#eadfda" stroke-width="2.71" stroke-opacity="0.27" fill="none"/><path d="M84.6,314.9 L102.6,316.0 L120.4,318.2 L137.9,321.6 L155.1,326.0 L172.0,331.0 L188.6,336.8 L204.8,343.1 L220.9,349.8 L236.0,357.6 L249.1,367.6 L259.3,379.6" stroke="#75605a" stroke-width="3.87" stroke-opacity="0.31" fill="none"/><path d="M44.2,322.9 L65.2,321.6 L86.3,321.2 L107.2,322.5 L127.9,325.3 L148.2,329.5 L168.1,334.7 L187.5,340.8 L206.6,347.5 L225.3,354.9 L242.3,364.2 L255.9,376.4" stroke="#75605a" stroke-width="2.08" stroke-opacity="0.15" fill="none"/><path d="M82.9,329.3 L97.2,329.7 L111.4,330.8 L125.4,332.6 L139.3,334.9 L153.0,337.6 L166.6,340.7 L179.9,344.3 L193.0,348.2 L206.1,352.2 L219.0,356.5 L231.4,361.4" stroke="#75605a" stroke-width="3.67" stroke-opacity="0.32" fill="none"/><path d="M67.4,335.0 L84.8,334.6 L102.2,335.2 L119.4,336.7 L136.5,339.1 L153.3,342.1 L169.8,345.6 L186.1,349.7 L202.2,354.1 L218.1,358.8 L233.3,364.4 L246.9,371.6" stroke="#eadfda" stroke-width="2.27" stroke-opacity="0.18" fill="none"/><path d="M46.6,340.6 L63.4,339.6 L80.3,338.9 L97.2,339.2 L113.9,340.3 L130.4,342.1 L146.8,344.6 L162.9,347.5 L178.8,350.9 L194.5,354.7 L210.1,358.7 L225.3,363.2" stroke="#75605a" stroke-width="4.22" stroke-opacity="0.33" fill="none"/><path d="M82.8,343.3 L96.3,343.5 L109.7,344.2 L123.1,345.3 L136.3,346.8 L149.4,348.7 L162.3,350.8 L175.2,353.3 L187.8,356.0 L200.4,358.8 L212.9,361.8 L225.2,365.1" stroke="#eadfda" stroke-width="2.38" stroke-opacity="0.30" fill="none"/><path d="M78.6,352.9 L94.6,352.8 L110.5,353.3 L126.3,354.3 L142.0,355.8 L157.5,357.6 L172.8,359.7 L187.9,362.2 L203.0,364.8 L217.9,367.6 L232.2,371.0 L245.5,375.5" stroke="#75605a" stroke-width="2.34" stroke-opacity="0.18" fill="none"/><path d="M76.2,356.0 L93.7,355.8 L111.1,356.2 L128.3,357.2 L145.4,358.7 L162.3,360.6 L179.0,362.8 L195.6,365.3 L212.0,367.9 L228.0,371.0 L243.0,375.3 L256.4,380.9" stroke="#75605a" stroke-width="2.09" stroke-opacity="0.34" fill="none"/><path d="M79.7,360.6 L93.7,360.4 L107.6,360.6 L121.5,361.1 L135.3,361.9 L148.9,362.9 L162.5,364.2 L175.9,365.6 L189.2,367.2 L202.5,368.9 L215.7,370.7 L228.5,372.9" stroke="#75605a" stroke-width="3.41" stroke-opacity="0.28" fill="none"/><path d="M80.6,366.6 L97.3,366.3 L113.9,366.4 L130.4,366.9 L146.7,367.7 L163.0,368.8 L179.1,370.0 L195.1,371.5 L211.0,373.0 L226.6,374.8 L241.4,377.5 L255.2,381.3" stroke="#75605a" stroke-width="3.78" stroke-opacity="0.14" fill="none"/><path d="M58.3,377.2 L76.9,376.2 L95.5,375.6 L114.1,375.3 L132.5,375.3 L150.8,375.5 L169.0,376.0 L187.1,376.6 L205.0,377.2 L222.8,378.0 L240.0,379.6 L256.2,382.2" stroke="#eadfda" stroke-width="2.08" stroke-opacity="0.19" fill="none"/><path d="M88.4,380.1 L101.9,379.7 L115.3,379.4 L128.7,379.2 L142.1,379.1 L155.4,379.0 L168.6,379.1 L181.8,379.2 L194.9,379.3 L208.0,379.4 L221.0,379.6 L233.7,380.1" stroke="#75605a" stroke-width="4.47" stroke-opacity="0.29" fill="none"/><path d="M56.6,385.5 L74.8,384.5 L92.9,383.7 L111.1,383.1 L129.2,382.6 L147.1,382.2 L165.1,381.8 L182.9,381.6 L200.6,381.4 L218.3,381.1 L235.6,381.3 L252.4,382.3" stroke="#75605a" stroke-width="2.61" stroke-opacity="0.29" fill="none"/><path d="M71.4,390.1 L86.6,389.3 L101.7,388.6 L116.8,387.9 L131.9,387.2 L146.9,386.5 L161.9,385.9 L176.9,385.2 L191.8,384.5 L206.7,383.8 L221.5,383.1 L236.1,382.6" stroke="#75605a" stroke-width="2.47" stroke-opacity="0.18" fill="none"/><path d="M56.7,398.7 L72.6,397.9 L88.4,397.0 L104.2,396.0 L120.0,394.9 L135.7,393.7 L151.5,392.5 L167.2,391.1 L183.0,389.7 L198.7,388.2 L214.4,386.7 L230.0,385.0" stroke="#75605a" stroke-width="3.17" stroke-opacity="0.34" fill="none"/></g><g filter="url(#bl06)"><path d="M74.1,286.3 L92.8,286.3 L111.4,288.3 L129.7,292.1 L147.6,297.4 L165.1,304.0 L182.1,311.6 L198.7,320.3 L214.9,329.5 L230.7,339.5 L244.9,351.6 L255.6,366.7" stroke="#6a5450" stroke-width="1.01" stroke-opacity="0.26" fill="none"/><path d="M62.9,288.7 L82.7,287.8 L102.5,288.9 L122.1,292.0 L141.3,297.0 L160.0,303.5 L178.2,311.1 L195.9,320.1 L213.2,329.6 L230.0,339.9 L245.1,352.6 L256.2,368.6" stroke="#6a5450" stroke-width="1.22" stroke-opacity="0.48" fill="none"/><path d="M49.4,292.1 L69.7,290.7 L90.0,290.4 L110.3,292.3 L130.2,296.3 L149.7,302.0 L168.7,309.1 L187.1,317.4 L205.0,326.8 L222.6,336.7 L239.1,348.1 L252.5,362.9" stroke="#6a5450" stroke-width="1.24" stroke-opacity="0.19" fill="none"/><path d="M74.1,291.1 L93.1,291.2 L111.9,293.3 L130.5,297.0 L148.7,302.3 L166.4,308.8 L183.7,316.3 L200.5,324.8 L217.0,333.8 L233.0,343.7 L246.9,356.1 L257.1,371.4" stroke="#6a5450" stroke-width="0.93" stroke-opacity="0.33" fill="none"/><path d="M61.3,294.3 L79.7,293.3 L98.1,294.0 L116.3,296.4 L134.2,300.3 L151.8,305.6 L169.0,311.9 L185.7,319.2 L202.0,327.3 L218.0,335.9 L233.5,345.4 L247.0,357.2" stroke="#6a5450" stroke-width="1.11" stroke-opacity="0.30" fill="none"/><path d="M62.1,296.6 L81.0,295.7 L99.9,296.6 L118.6,299.2 L137.0,303.3 L155.0,308.9 L172.5,315.4 L189.6,323.0 L206.4,331.2 L222.8,340.0 L238.2,350.2 L251.1,363.1" stroke="#6a5450" stroke-width="0.47" stroke-opacity="0.54" fill="none"/><path d="M51.5,299.0 L72.1,297.7 L92.7,297.7 L113.1,299.9 L133.2,304.0 L152.8,309.7 L172.0,316.6 L190.6,324.7 L208.8,333.6 L226.6,343.2 L242.8,354.9 L255.2,369.9" stroke="#e8dbd6" stroke-width="0.61" stroke-opacity="0.49" fill="none"/><path d="M69.1,299.9 L88.9,299.6 L108.5,301.3 L127.9,304.7 L146.8,309.7 L165.4,315.9 L183.5,323.1 L201.1,331.2 L218.4,339.8 L234.9,349.6 L249.1,362.1 L259.2,377.4" stroke="#e8dbd6" stroke-width="0.74" stroke-opacity="0.37" fill="none"/><path d="M51.9,302.9 L71.6,301.6 L91.3,301.6 L110.9,303.6 L130.1,307.1 L149.0,312.1 L167.5,318.3 L185.5,325.5 L203.0,333.5 L220.3,342.0 L236.7,351.8 L250.4,364.4" stroke="#6a5450" stroke-width="0.66" stroke-opacity="0.47" fill="none"/><path d="M60.5,303.0 L80.9,302.0 L101.2,303.1 L121.3,305.9 L141.0,310.5 L160.3,316.4 L179.2,323.3 L197.4,331.4 L215.5,339.9 L232.8,349.5 L247.8,361.7 L258.7,377.0" stroke="#e8dbd6" stroke-width="0.83" stroke-opacity="0.38" fill="none"/><path d="M53.6,306.3 L72.5,305.2 L91.4,305.3 L110.2,307.0 L128.7,310.2 L146.9,314.8 L164.8,320.4 L182.2,326.9 L199.1,334.2 L215.9,341.9 L232.1,350.5 L246.3,361.4" stroke="#6a5450" stroke-width="0.54" stroke-opacity="0.19" fill="none"/><path d="M54.2,308.8 L75.2,307.6 L96.2,308.1 L117.0,310.5 L137.4,314.7 L157.4,320.2 L176.9,326.8 L195.9,334.6 L214.6,342.8 L232.6,352.1 L248.1,364.2 L259.6,379.1" stroke="#e8dbd6" stroke-width="1.03" stroke-opacity="0.26" fill="none"/><path d="M61.9,309.1 L81.5,308.3 L101.1,309.3 L120.5,311.9 L139.5,315.9 L158.2,321.1 L176.4,327.3 L194.2,334.4 L211.7,341.9 L228.7,350.2 L244.0,360.6 L255.9,373.8" stroke="#6a5450" stroke-width="1.25" stroke-opacity="0.48" fill="none"/><path d="M60.1,311.6 L79.9,310.7 L99.7,311.6 L119.3,314.0 L138.6,317.9 L157.4,323.0 L175.9,329.0 L193.9,335.9 L211.7,343.3 L228.9,351.5 L244.3,361.9 L256.3,375.0" stroke="#6a5450" stroke-width="0.98" stroke-opacity="0.40" fill="none"/><path d="M63.6,313.0 L83.3,312.4 L103.0,313.5 L122.5,316.1 L141.6,320.1 L160.3,325.3 L178.7,331.3 L196.6,338.2 L214.2,345.4 L231.3,353.6 L246.3,364.2 L257.8,377.3" stroke="#6a5450" stroke-width="1.28" stroke-opacity="0.21" fill="none"/><path d="M70.3,314.1 L89.7,314.0 L109.0,315.6 L128.1,318.5 L146.8,322.8 L165.1,327.9 L183.0,334.0 L200.6,340.7 L217.9,347.9 L234.4,356.2 L248.7,366.9 L259.6,379.9" stroke="#6a5450" stroke-width="0.92" stroke-opacity="0.22" fill="none"/><path d="M41.3,318.4 L61.2,317.2 L81.2,316.4 L101.1,317.4 L120.7,319.7 L140.1,323.5 L159.1,328.3 L177.6,334.0 L195.8,340.6 L213.7,347.6 L231.0,355.4 L246.3,365.6" stroke="#e8dbd6" stroke-width="1.23" stroke-opacity="0.51" fill="none"/><path d="M52.8,318.7 L73.5,317.5 L94.2,317.8 L114.8,319.8 L135.0,323.3 L154.8,328.0 L174.2,333.7 L193.2,340.3 L211.8,347.4 L229.9,355.3 L245.9,365.6 L258.3,378.7" stroke="#6a5450" stroke-width="0.49" stroke-opacity="0.22" fill="none"/><path d="M66.0,319.7 L85.2,319.3 L104.4,320.4 L123.3,322.8 L141.9,326.5 L160.2,331.0 L178.1,336.4 L195.6,342.4 L213.0,348.9 L229.7,356.1 L244.7,365.4 L256.7,377.0" stroke="#e8dbd6" stroke-width="0.80" stroke-opacity="0.39" fill="none"/><path d="M68.4,322.1 L87.1,321.9 L105.7,323.0 L124.1,325.3 L142.2,328.7 L159.9,333.0 L177.4,338.0 L194.5,343.7 L211.4,349.7 L227.8,356.4 L242.8,364.8 L255.0,375.5" stroke="#e8dbd6" stroke-width="1.18" stroke-opacity="0.28" fill="none"/><path d="M65.1,323.7 L84.1,323.2 L103.0,324.2 L121.8,326.3 L140.2,329.6 L158.4,333.8 L176.2,338.7 L193.6,344.3 L210.8,350.3 L227.6,356.9 L242.8,365.4 L255.3,376.1" stroke="#6a5450" stroke-width="1.14" stroke-opacity="0.33" fill="none"/><path d="M43.7,327.3 L63.1,326.1 L82.5,325.4 L101.8,326.3 L121.0,328.3 L139.9,331.5 L158.4,335.7 L176.6,340.5 L194.5,346.1 L212.1,352.0 L229.2,358.7 L244.6,367.3" stroke="#e8dbd6" stroke-width="0.71" stroke-opacity="0.26" fill="none"/><path d="M66.0,327.6 L85.3,327.2 L104.5,328.1 L123.5,330.3 L142.2,333.5 L160.7,337.6 L178.7,342.4 L196.4,347.8 L214.0,353.6 L230.9,360.2 L246.0,368.8 L258.2,379.6" stroke="#6a5450" stroke-width="0.96" stroke-opacity="0.38" fill="none"/><path d="M52.2,330.9 L72.5,329.8 L92.8,329.8 L113.0,331.3 L132.9,334.0 L152.4,337.8 L171.6,342.3 L190.4,347.6 L209.0,353.3 L227.1,359.7 L243.6,368.0 L257.0,378.7" stroke="#6a5450" stroke-width="1.21" stroke-opacity="0.39" fill="none"/><path d="M67.0,331.4 L85.9,331.1 L104.7,331.9 L123.4,333.9 L141.7,336.8 L159.8,340.5 L177.6,344.9 L195.0,349.9 L212.3,355.1 L229.0,361.1 L244.2,368.9 L256.7,378.7" stroke="#e8dbd6" stroke-width="0.96" stroke-opacity="0.49" fill="none"/><path d="M43.9,335.4 L62.8,334.2 L81.7,333.5 L100.5,334.1 L119.2,335.7 L137.7,338.4 L155.8,341.8 L173.7,345.8 L191.3,350.4 L208.6,355.4 L225.6,360.9 L241.2,367.9" stroke="#e8dbd6" stroke-width="0.71" stroke-opacity="0.55" fill="none"/><path d="M62.4,336.6 L81.9,335.9 L101.3,336.4 L120.6,338.1 L139.7,340.8 L158.4,344.2 L176.8,348.3 L194.9,352.9 L212.8,357.9 L230.1,363.6 L245.8,371.2 L258.8,380.8" stroke="#6a5450" stroke-width="0.76" stroke-opacity="0.20" fill="none"/><path d="M67.3,338.2 L86.4,337.8 L105.4,338.6 L124.2,340.3 L142.8,342.9 L161.1,346.2 L179.1,350.2 L196.8,354.6 L214.3,359.3 L231.2,364.8 L246.4,372.2 L259.2,381.3" stroke="#e8dbd6" stroke-width="1.21" stroke-opacity="0.31" fill="none"/><path d="M63.0,339.4 L81.4,338.8 L99.8,339.2 L118.1,340.5 L136.1,342.8 L153.8,345.7 L171.4,349.1 L188.6,353.2 L205.6,357.5 L222.3,362.2 L238.1,368.1 L251.8,375.9" stroke="#6a5450" stroke-width="1.17" stroke-opacity="0.50" fill="none"/><path d="M46.5,343.2 L65.7,342.0 L84.9,341.4 L104.0,342.0 L123.0,343.5 L141.8,346.0 L160.2,349.0 L178.4,352.6 L196.3,356.8 L214.0,361.1 L231.2,366.3 L246.6,373.3" stroke="#6a5450" stroke-width="0.83" stroke-opacity="0.40" fill="none"/><path d="M46.6,344.3 L65.2,343.2 L83.8,342.6 L102.3,343.0 L120.7,344.4 L138.9,346.5 L156.8,349.3 L174.5,352.6 L191.9,356.4 L209.1,360.5 L226.0,365.0 L241.6,371.0" stroke="#e8dbd6" stroke-width="0.50" stroke-opacity="0.54" fill="none"/><path d="M60.2,345.8 L78.9,344.9 L97.7,345.1 L116.3,346.2 L134.7,348.0 L152.9,350.6 L170.8,353.6 L188.4,357.2 L205.9,361.0 L223.1,365.2 L239.2,370.7 L253.3,378.0" stroke="#e8dbd6" stroke-width="0.70" stroke-opacity="0.49" fill="none"/><path d="M66.8,346.9 L85.1,346.3 L103.2,346.7 L121.2,347.9 L139.0,349.8 L156.6,352.3 L174.0,355.3 L191.1,358.7 L208.0,362.2 L224.7,366.3 L240.2,371.6 L253.8,378.5" stroke="#6a5450" stroke-width="0.56" stroke-opacity="0.35" fill="none"/><path d="M45.4,349.8 L65.0,348.6 L84.5,348.0 L104.0,348.4 L123.4,349.6 L142.5,351.7 L161.3,354.3 L179.9,357.5 L198.2,361.1 L216.4,364.9 L233.8,369.7 L249.4,376.3" stroke="#e8dbd6" stroke-width="0.88" stroke-opacity="0.27" fill="none"/><path d="M50.4,351.8 L68.5,350.7 L86.6,350.2 L104.6,350.6 L122.5,351.6 L140.2,353.4 L157.7,355.6 L174.9,358.2 L192.0,361.3 L208.9,364.5 L225.4,368.1 L240.9,373.0" stroke="#e8dbd6" stroke-width="0.77" stroke-opacity="0.50" fill="none"/><path d="M48.7,354.3 L66.6,353.2 L84.5,352.6 L102.4,352.8 L120.2,353.7 L137.8,355.2 L155.2,357.2 L172.3,359.5 L189.3,362.3 L206.1,365.2 L222.7,368.5 L238.4,372.8" stroke="#e8dbd6" stroke-width="0.52" stroke-opacity="0.20" fill="none"/><path d="M65.5,354.9 L83.7,354.3 L101.8,354.4 L119.8,355.2 L137.6,356.6 L155.3,358.5 L172.7,360.8 L189.9,363.4 L207.0,366.3 L223.7,369.4 L239.6,373.7 L253.7,379.5" stroke="#e8dbd6" stroke-width="1.12" stroke-opacity="0.22" fill="none"/><path d="M60.2,356.4 L79.3,355.5 L98.4,355.4 L117.3,356.1 L136.1,357.4 L154.7,359.3 L173.0,361.6 L191.1,364.3 L209.1,367.2 L226.7,370.5 L243.1,375.2 L257.7,381.4" stroke="#6a5450" stroke-width="0.53" stroke-opacity="0.41" fill="none"/><path d="M54.6,360.2 L73.6,359.2 L92.6,358.8 L111.6,359.1 L130.4,360.1 L149.0,361.6 L167.4,363.5 L185.6,365.7 L203.6,368.2 L221.4,370.9 L238.4,374.7 L253.6,380.0" stroke="#6a5450" stroke-width="1.03" stroke-opacity="0.21" fill="none"/><path d="M52.5,361.1 L71.1,360.0 L89.8,359.5 L108.3,359.7 L126.8,360.5 L145.0,361.9 L163.1,363.5 L180.9,365.6 L198.6,367.9 L216.1,370.4 L233.1,373.6 L248.6,378.2" stroke="#e8dbd6" stroke-width="0.99" stroke-opacity="0.28" fill="none"/><path d="M52.1,364.3 L71.4,363.2 L90.7,362.7 L109.9,362.8 L129.0,363.5 L147.8,364.7 L166.6,366.3 L185.0,368.2 L203.4,370.3 L221.5,372.6 L238.8,375.9 L254.5,380.7" stroke="#e8dbd6" stroke-width="0.51" stroke-opacity="0.27" fill="none"/><path d="M54.1,366.1 L72.6,365.0 L91.1,364.5 L109.5,364.6 L127.8,365.1 L146.0,366.1 L164.0,367.4 L181.8,369.0 L199.4,370.8 L217.0,372.8 L233.9,375.4 L249.6,379.3" stroke="#6a5450" stroke-width="1.27" stroke-opacity="0.47" fill="none"/><path d="M51.7,366.9 L70.2,365.8 L88.8,365.2 L107.3,365.2 L125.7,365.6 L143.9,366.6 L162.0,367.8 L179.8,369.3 L197.6,371.0 L215.1,372.9 L232.2,375.3 L248.2,379.0" stroke="#e8dbd6" stroke-width="0.71" stroke-opacity="0.27" fill="none"/><path d="M63.3,368.1 L80.5,367.3 L97.7,367.0 L114.8,367.1 L131.8,367.6 L148.7,368.4 L165.4,369.5 L182.0,370.8 L198.5,372.2 L214.8,373.7 L230.7,375.7 L245.8,378.7" stroke="#e8dbd6" stroke-width="0.82" stroke-opacity="0.41" fill="none"/><path d="M44.0,372.0 L62.3,370.9 L80.6,370.0 L98.9,369.7 L117.1,369.7 L135.1,370.1 L153.1,370.9 L170.9,371.8 L188.5,373.0 L206.0,374.3 L223.3,375.8 L239.9,378.1" stroke="#e8dbd6" stroke-width="0.71" stroke-opacity="0.54" fill="none"/><path d="M53.1,373.5 L72.5,372.4 L91.9,371.8 L111.3,371.6 L130.5,371.8 L149.6,372.3 L168.5,373.1 L187.3,374.2 L205.9,375.3 L224.3,376.6 L242.0,378.9 L258.4,382.4" stroke="#e8dbd6" stroke-width="0.80" stroke-opacity="0.33" fill="none"/><path d="M59.2,373.8 L77.5,372.9 L95.8,372.3 L114.0,372.2 L132.1,372.4 L150.0,372.9 L167.9,373.6 L185.6,374.5 L203.1,375.4 L220.6,376.6 L237.4,378.4 L253.2,381.3" stroke="#6a5450" stroke-width="0.88" stroke-opacity="0.30" fill="none"/><path d="M56.2,377.3 L75.1,376.3 L93.9,375.6 L112.8,375.3 L131.5,375.3 L150.0,375.5 L168.5,375.9 L186.8,376.5 L205.0,377.2 L223.1,378.0 L240.5,379.6 L256.9,382.3" stroke="#e8dbd6" stroke-width="0.45" stroke-opacity="0.35" fill="none"/><path d="M69.5,378.6 L85.8,377.9 L102.0,377.4 L118.1,377.2 L134.2,377.1 L150.2,377.2 L166.1,377.4 L181.9,377.7 L197.7,378.1 L213.3,378.5 L228.7,379.1 L243.6,380.5" stroke="#e8dbd6" stroke-width="0.62" stroke-opacity="0.27" fill="none"/><path d="M61.6,379.9 L80.1,379.0 L98.5,378.4 L116.9,378.0 L135.1,377.9 L153.3,377.9 L171.4,378.1 L189.3,378.4 L207.2,378.7 L224.8,379.2 L241.9,380.4 L258.2,382.6" stroke="#e8dbd6" stroke-width="0.78" stroke-opacity="0.43" fill="none"/><path d="M55.6,383.1 L73.2,382.1 L90.7,381.3 L108.2,380.8 L125.6,380.4 L142.9,380.2 L160.2,380.0 L177.3,380.0 L194.4,380.0 L211.4,380.1 L228.2,380.3 L244.4,381.2" stroke="#e8dbd6" stroke-width="0.81" stroke-opacity="0.42" fill="none"/><path d="M58.8,383.3 L76.2,382.4 L93.7,381.6 L111.1,381.1 L128.5,380.7 L145.7,380.5 L162.9,380.3 L180.0,380.3 L197.0,380.3 L214.0,380.3 L230.7,380.5 L246.8,381.5" stroke="#e8dbd6" stroke-width="0.62" stroke-opacity="0.49" fill="none"/><path d="M50.7,386.3 L69.4,385.2 L88.0,384.3 L106.6,383.6 L125.2,383.0 L143.6,382.6 L162.0,382.2 L180.3,381.9 L198.6,381.6 L216.7,381.3 L234.5,381.3 L251.7,382.3" stroke="#6a5450" stroke-width="0.76" stroke-opacity="0.32" fill="none"/><path d="M51.6,388.1 L69.6,387.0 L87.6,386.2 L105.6,385.4 L123.5,384.7 L141.3,384.2 L159.1,383.6 L176.8,383.1 L194.5,382.7 L212.0,382.2 L229.4,381.8 L246.4,382.2" stroke="#6a5450" stroke-width="0.48" stroke-opacity="0.40" fill="none"/><path d="M71.6,388.8 L86.7,388.1 L101.8,387.4 L116.9,386.7 L131.9,386.1 L146.9,385.5 L161.8,384.9 L176.7,384.4 L191.5,383.8 L206.3,383.2 L221.1,382.7 L235.6,382.3" stroke="#e8dbd6" stroke-width="1.03" stroke-opacity="0.32" fill="none"/><path d="M69.1,390.5 L84.5,389.7 L99.8,388.9 L115.2,388.2 L130.5,387.5 L145.7,386.8 L160.9,386.1 L176.1,385.4 L191.2,384.7 L206.3,384.0 L221.3,383.2 L236.2,382.7" stroke="#6a5450" stroke-width="0.97" stroke-opacity="0.54" fill="none"/><path d="M64.3,393.5 L80.6,392.6 L97.0,391.8 L113.3,390.9 L129.5,390.0 L145.8,389.0 L162.0,388.1 L178.1,387.1 L194.2,386.1 L210.3,385.0 L226.3,383.9 L242.2,383.1" stroke="#6a5450" stroke-width="1.17" stroke-opacity="0.30" fill="none"/><path d="M61.1,394.9 L77.9,394.0 L94.6,393.1 L111.3,392.2 L128.0,391.2 L144.6,390.1 L161.2,389.0 L177.8,387.9 L194.4,386.7 L210.9,385.5 L227.3,384.2 L243.6,383.3" stroke="#e8dbd6" stroke-width="1.17" stroke-opacity="0.50" fill="none"/><path d="M61.2,397.8 L77.6,396.9 L94.0,395.9 L110.4,394.9 L126.8,393.8 L143.1,392.5 L159.4,391.3 L175.8,389.9 L192.0,388.5 L208.3,387.0 L224.5,385.4 L240.7,384.0" stroke="#e8dbd6" stroke-width="1.13" stroke-opacity="0.24" fill="none"/><path d="M63.8,399.9 L80.8,399.0 L97.9,398.0 L115.0,396.7 L132.0,395.4 L149.0,393.9 L166.1,392.4 L183.1,390.7 L200.1,388.9 L217.0,387.0 L234.0,385.1 L251.0,383.6" stroke="#e8dbd6" stroke-width="0.94" stroke-opacity="0.36" fill="none"/></g><g filter="url(#bl15)"><g fill="none" stroke-linecap="round"><path d="M242.1,348.2 L243.3,349.4 L244.5,350.6 L245.6,351.8 L246.7,353.1 L247.8,354.4 L248.8,355.7 L249.8,357.0 L250.9,358.4 L251.8,359.8 L252.8,361.2 L253.6,362.6 L254.5,364.1 L255.2,365.6 L256.0,367.1 L256.7,368.6 L257.4,370.2 L258.0,371.7 L258.7,373.3 L259.3,374.8 L260.0,376.4 L260.6,377.9 L261.3,379.5 L262.0,381.0 L262.0,381.0 L261.8,381.1 L261.7,381.2 L261.5,381.3 L261.3,381.3 L261.1,381.4 L261.0,381.5 L260.8,381.6 L260.6,381.7 L260.4,381.8 L260.3,381.9 L260.1,382.0 L259.9,382.0 L259.7,382.1 L259.6,382.2 L259.4,382.3 L259.2,382.4 L259.0,382.5 L258.9,382.6 L258.7,382.7 L258.5,382.7 L258.3,382.8 L258.2,382.9 L258.0,383.0 L258.0,383.0 L254.8,383.3 L251.5,383.5 L248.3,383.8 L245.0,384.1 L241.8,384.3 L238.5,384.6 L235.3,385.0 L232.1,385.3 L228.8,385.7 L225.6,386.1 L222.4,386.4 L219.1,386.8 L215.9,387.2 L212.7,387.6 L209.5,388.0 L206.2,388.3 L203.0,388.7 L199.7,389.0 L196.5,389.4 L193.3,389.7 L190.0,390.0 L186.8,390.4 L183.6,390.7 L183.6,390.7 L185.9,387.5 L188.2,384.5 L190.6,381.5 L193.0,378.7 L195.4,375.9 L197.8,373.3 L200.3,370.8 L202.8,368.4 L205.3,366.1 L207.9,363.9 L210.5,361.8 L213.1,359.9 L215.8,358.1 L218.4,356.4 L221.1,354.8 L223.7,353.4 L226.4,352.2 L229.1,351.1 L231.8,350.1 L234.5,349.4 L237.1,348.8 L239.6,348.4 L242.1,348.2 Z" fill="url(#g9)" filter="url(#bl3)"/><path d="M235.4,343.8 L239.4,347.1 L243.2,350.6 L246.7,354.4 L250.0,358.4 L252.9,362.6 L255.5,367.1 L257.7,371.7 L259.7,376.4 L261.9,381.0" stroke="url(#g10)" stroke-width="2.8" stroke-opacity="0.58"/><path d="M244.4,352.3 L246.9,355.1 L249.3,358.0 L251.6,361.0 L253.7,364.1 L255.5,367.4 L257.1,370.8 L258.7,374.3 L260.2,377.7 L261.9,381.1" stroke="url(#g10)" stroke-width="3.5" stroke-opacity="0.68"/><path d="M225.1,339.4 L230.5,342.8 L235.7,346.5 L240.6,350.5 L245.2,354.9 L249.4,359.6 L253.1,364.6 L256.2,370.0 L258.9,375.6 L261.7,381.1" stroke="url(#g10)" stroke-width="1.9" stroke-opacity="0.70"/><path d="M228.8,343.8 L233.6,346.9 L238.2,350.3 L242.5,354.0 L246.6,358.0 L250.3,362.2 L253.5,366.7 L256.3,371.5 L258.9,376.4 L261.6,381.2" stroke="url(#g10)" stroke-width="2.8" stroke-opacity="0.60"/><path d="M225.2,343.2 L230.4,346.3 L235.5,349.7 L240.3,353.4 L244.7,357.4 L248.9,361.7 L252.6,366.2 L255.7,371.2 L258.6,376.2 L261.5,381.2" stroke="url(#g10)" stroke-width="3.4" stroke-opacity="0.64"/><path d="M213.2,338.8 L219.9,342.2 L226.5,345.7 L232.9,349.6 L238.9,353.8 L244.5,358.5 L249.6,363.7 L254.0,369.3 L257.7,375.3 L261.4,381.3" stroke="url(#g10)" stroke-width="3.8" stroke-opacity="0.61"/><path d="M223.6,346.4 L228.9,349.3 L234.0,352.4 L238.9,355.7 L243.5,359.4 L247.8,363.3 L251.6,367.5 L255.0,372.1 L258.1,376.7 L261.2,381.4" stroke="url(#g10)" stroke-width="3.9" stroke-opacity="0.47"/><path d="M210.6,341.4 L217.5,344.6 L224.3,347.9 L230.9,351.5 L237.2,355.4 L243.1,359.8 L248.4,364.7 L253.1,370.0 L257.2,375.7 L261.2,381.4" stroke="url(#g10)" stroke-width="2.4" stroke-opacity="0.55"/><path d="M240.1,359.1 L242.9,361.2 L245.6,363.5 L248.2,365.8 L250.7,368.3 L252.9,370.8 L255.0,373.5 L257.0,376.2 L259.0,378.8 L261.0,381.5" stroke="url(#g10)" stroke-width="3.1" stroke-opacity="0.48"/><path d="M225.5,352.6 L230.4,355.0 L235.1,357.6 L239.5,360.5 L243.7,363.5 L247.7,366.8 L251.3,370.3 L254.6,374.0 L257.7,377.8 L260.9,381.6" stroke="url(#g10)" stroke-width="3.0" stroke-opacity="0.50"/><path d="M219.8,351.5 L225.3,353.9 L230.7,356.5 L235.9,359.4 L240.9,362.5 L245.5,365.9 L249.8,369.5 L253.6,373.5 L257.2,377.6 L260.8,381.6" stroke="url(#g10)" stroke-width="3.6" stroke-opacity="0.35"/><path d="M210.0,350.0 L216.7,352.5 L223.3,355.1 L229.7,357.9 L235.8,361.1 L241.6,364.6 L247.0,368.4 L251.9,372.7 L256.3,377.2 L260.7,381.7" stroke="url(#g10)" stroke-width="3.6" stroke-opacity="0.29"/><path d="M214.4,352.9 L220.5,355.1 L226.5,357.6 L232.3,360.2 L237.9,363.1 L243.1,366.3 L248.0,369.9 L252.4,373.7 L256.5,377.7 L260.6,381.7" stroke="url(#g10)" stroke-width="3.3" stroke-opacity="0.35"/><path d="M200.8,349.8 L208.5,352.3 L216.1,354.9 L223.6,357.6 L230.9,360.6 L237.8,364.0 L244.2,367.9 L250.1,372.3 L255.3,377.0 L260.5,381.8" stroke="url(#g10)" stroke-width="2.9" stroke-opacity="0.54"/><path d="M201.3,351.5 L208.9,353.8 L216.4,356.2 L223.8,358.8 L230.9,361.7 L237.8,365.0 L244.1,368.7 L250.0,372.8 L255.2,377.3 L260.4,381.8" stroke="url(#g10)" stroke-width="2.0" stroke-opacity="0.73"/><path d="M214.0,357.9 L220.0,359.8 L225.8,361.8 L231.5,363.9 L237.0,366.4 L242.2,369.1 L247.2,372.0 L251.7,375.2 L255.9,378.5 L260.2,381.9" stroke="url(#g10)" stroke-width="2.2" stroke-opacity="0.58"/><path d="M215.8,360.7 L221.4,362.4 L227.0,364.1 L232.4,366.1 L237.6,368.2 L242.6,370.6 L247.3,373.2 L251.7,376.1 L255.9,379.0 L260.1,382.0" stroke="url(#g10)" stroke-width="1.5" stroke-opacity="0.47"/><path d="M190.0,355.6 L198.6,357.6 L207.2,359.7 L215.8,361.8 L224.2,364.2 L232.3,366.9 L240.0,370.1 L247.2,373.7 L253.7,377.8 L260.0,382.0" stroke="url(#g10)" stroke-width="3.5" stroke-opacity="0.41"/><path d="M211.4,362.1 L217.5,363.6 L223.6,365.2 L229.4,367.0 L235.1,368.9 L240.6,371.2 L245.8,373.6 L250.7,376.3 L255.3,379.2 L259.9,382.0" stroke="url(#g10)" stroke-width="3.0" stroke-opacity="0.50"/><path d="M204.6,363.4 L211.4,364.7 L218.2,366.2 L224.8,367.8 L231.3,369.5 L237.6,371.6 L243.5,373.9 L249.2,376.5 L254.5,379.3 L259.7,382.1" stroke="url(#g10)" stroke-width="2.4" stroke-opacity="0.28"/><path d="M197.3,363.3 L204.9,364.7 L212.5,366.1 L220.0,367.6 L227.4,369.3 L234.5,371.3 L241.3,373.6 L247.7,376.3 L253.7,379.2 L259.7,382.2" stroke="url(#g10)" stroke-width="2.8" stroke-opacity="0.42"/><path d="M183.8,361.9 L192.9,363.4 L202.0,365.0 L211.1,366.6 L220.0,368.3 L228.8,370.3 L237.2,372.7 L245.1,375.5 L252.5,378.8 L259.6,382.2" stroke="url(#g10)" stroke-width="1.9" stroke-opacity="0.30"/><path d="M202.0,368.3 L208.9,369.3 L215.8,370.3 L222.6,371.4 L229.3,372.7 L235.8,374.2 L242.0,375.9 L248.0,377.9 L253.7,380.1 L259.4,382.3" stroke="url(#g10)" stroke-width="2.1" stroke-opacity="0.61"/><path d="M180.4,367.2 L189.7,368.2 L199.1,369.3 L208.4,370.5 L217.6,371.7 L226.6,373.1 L235.4,374.9 L243.7,377.1 L251.6,379.6 L259.3,382.4" stroke="url(#g10)" stroke-width="3.4" stroke-opacity="0.36"/><path d="M181.4,370.2 L190.5,371.0 L199.6,371.9 L208.7,372.8 L217.8,373.7 L226.6,374.8 L235.3,376.2 L243.6,378.0 L251.4,380.2 L259.1,382.4" stroke="url(#g10)" stroke-width="2.2" stroke-opacity="0.37"/><path d="M206.3,373.9 L212.5,374.5 L218.7,375.0 L224.9,375.7 L230.9,376.4 L236.8,377.4 L242.6,378.4 L248.2,379.7 L253.6,381.1 L259.0,382.5" stroke="url(#g10)" stroke-width="2.9" stroke-opacity="0.32"/><path d="M200.8,374.5 L207.7,375.0 L214.5,375.5 L221.3,376.0 L227.9,376.7 L234.5,377.5 L240.8,378.5 L247.0,379.8 L253.0,381.1 L259.0,382.5" stroke="url(#g10)" stroke-width="1.6" stroke-opacity="0.71"/><path d="M207.4,377.2 L213.4,377.5 L219.4,377.8 L225.3,378.1 L231.2,378.6 L236.9,379.1 L242.6,379.9 L248.0,380.7 L253.4,381.7 L258.8,382.6" stroke="url(#g11)" stroke-width="3.2" stroke-opacity="0.56"/><path d="M180.0,378.6 L189.1,378.7 L198.1,378.9 L207.1,379.0 L216.1,379.2 L225.0,379.4 L233.7,379.9 L242.2,380.6 L250.5,381.6 L258.7,382.7" stroke="url(#g11)" stroke-width="2.3" stroke-opacity="0.31"/><path d="M200.2,379.2 L206.9,379.3 L213.7,379.4 L220.4,379.5 L227.0,379.7 L233.6,380.1 L240.0,380.5 L246.3,381.2 L252.5,381.9 L258.7,382.7" stroke="url(#g11)" stroke-width="1.7" stroke-opacity="0.62"/><path d="M201.3,381.3 L207.8,381.2 L214.4,381.1 L220.9,381.1 L227.4,381.1 L233.7,381.2 L240.1,381.4 L246.3,381.8 L252.4,382.3 L258.5,382.7" stroke="url(#g11)" stroke-width="3.4" stroke-opacity="0.59"/><path d="M167.1,385.1 L177.4,384.7 L187.7,384.3 L198.0,383.9 L208.3,383.4 L218.5,383.0 L228.7,382.6 L238.7,382.4 L248.6,382.6 L258.4,382.8" stroke="url(#g11)" stroke-width="2.2" stroke-opacity="0.43"/><path d="M190.2,385.3 L197.9,384.9 L205.6,384.5 L213.2,384.0 L220.9,383.6 L228.5,383.2 L236.0,382.9 L243.5,382.8 L250.9,382.8 L258.3,382.9" stroke="url(#g11)" stroke-width="3.7" stroke-opacity="0.62"/><path d="M188.8,388.2 L196.6,387.5 L204.3,386.9 L212.1,386.2 L219.8,385.5 L227.5,384.8 L235.2,384.2 L242.9,383.7 L250.5,383.3 L258.1,382.9" stroke="url(#g11)" stroke-width="2.4" stroke-opacity="0.50"/><path d="M192.1,389.4 L199.4,388.6 L206.7,387.9 L214.1,387.1 L221.4,386.3 L228.7,385.5 L236.0,384.7 L243.4,384.1 L250.7,383.5 L258.0,383.0" stroke="url(#g5)" stroke-width="2.4" stroke-opacity="0.43"/></g><g fill="none" stroke-linecap="round"><path d="M46.0,287.0 L46.5,287.0 L47.1,286.9 L47.6,286.9 L48.2,286.9 L48.7,286.9 L49.3,286.8 L49.8,286.8 L50.3,286.8 L50.9,286.7 L51.4,286.7 L52.0,286.7 L52.5,286.6 L53.1,286.6 L53.6,286.6 L54.1,286.5 L54.7,286.5 L55.2,286.4 L55.8,286.4 L56.3,286.4 L56.9,286.3 L57.4,286.3 L57.9,286.2 L58.5,286.2 L58.5,286.2 L57.6,291.1 L56.7,296.1 L55.7,301.0 L54.8,305.9 L54.1,310.9 L53.5,315.9 L53.1,320.8 L52.9,325.8 L52.7,330.8 L52.7,335.8 L52.7,340.8 L52.8,345.8 L53.0,350.8 L53.3,355.8 L53.6,360.8 L54.0,365.8 L54.6,370.7 L55.2,375.7 L55.8,380.6 L56.5,385.6 L57.2,390.5 L57.9,395.5 L58.5,400.4 L58.5,400.4 L58.1,400.4 L57.6,400.5 L57.2,400.5 L56.7,400.5 L56.2,400.5 L55.8,400.6 L55.3,400.6 L54.9,400.6 L54.4,400.6 L53.9,400.7 L53.5,400.7 L53.0,400.7 L52.6,400.7 L52.1,400.8 L51.7,400.8 L51.2,400.8 L50.7,400.8 L50.3,400.9 L49.8,400.9 L49.4,400.9 L48.9,400.9 L48.5,401.0 L48.0,401.0 L48.0,401.0 L47.2,396.1 L46.4,391.1 L45.6,386.2 L44.8,381.3 L44.0,376.3 L43.3,371.4 L42.7,366.4 L42.1,361.5 L41.7,356.5 L41.4,351.5 L41.1,346.5 L40.9,341.5 L40.7,336.5 L40.7,331.6 L40.8,326.6 L40.9,321.6 L41.2,316.6 L41.8,311.6 L42.5,306.7 L43.4,301.8 L44.3,296.8 L45.2,291.9 L46.0,287.0 Z" fill="url(#g12)" filter="url(#bl3)"/><path d="M53.0,288.9 L52.1,289.0 L51.3,289.0 L50.5,289.1 L49.7,289.1 L48.9,289.2 L48.1,289.2 L47.3,289.2 L46.4,289.3 L45.6,289.3" stroke="url(#g13)" stroke-width="3.7" stroke-opacity="0.25"/><path d="M59.9,292.3 L58.3,292.4 L56.6,292.5 L54.9,292.6 L53.3,292.7 L51.6,292.8 L49.9,293.0 L48.3,293.1 L46.6,293.1 L45.0,293.2" stroke="url(#g13)" stroke-width="2.0" stroke-opacity="0.54"/><path d="M73.5,294.5 L70.3,294.6 L67.0,294.8 L63.8,295.1 L60.6,295.3 L57.3,295.5 L54.1,295.8 L50.9,296.0 L47.6,296.2 L44.4,296.3" stroke="url(#g13)" stroke-width="3.7" stroke-opacity="0.54"/><path d="M70.1,299.9 L67.1,300.1 L64.2,300.2 L61.2,300.5 L58.2,300.7 L55.3,300.9 L52.3,301.1 L49.3,301.3 L46.4,301.4 L43.4,301.6" stroke="url(#g13)" stroke-width="1.9" stroke-opacity="0.66"/><path d="M72.6,303.4 L69.3,303.5 L66.0,303.7 L62.6,303.9 L59.3,304.2 L56.0,304.4 L52.7,304.6 L49.4,304.9 L46.1,305.1 L42.7,305.2" stroke="url(#g13)" stroke-width="3.4" stroke-opacity="0.45"/><path d="M62.3,305.4 L60.1,305.5 L57.9,305.7 L55.7,305.8 L53.5,306.0 L51.3,306.1 L49.1,306.3 L46.9,306.4 L44.7,306.5 L42.5,306.6" stroke="url(#g13)" stroke-width="2.0" stroke-opacity="0.63"/><path d="M66.6,310.3 L63.8,310.4 L61.1,310.6 L58.3,310.8 L55.6,311.0 L52.8,311.2 L50.0,311.3 L47.3,311.5 L44.5,311.7 L41.8,311.8" stroke="url(#g13)" stroke-width="2.4" stroke-opacity="0.40"/><path d="M61.1,315.6 L58.9,315.8 L56.7,315.9 L54.5,316.1 L52.3,316.2 L50.1,316.4 L47.9,316.5 L45.7,316.6 L43.4,316.8 L41.2,316.9" stroke="url(#g13)" stroke-width="2.4" stroke-opacity="0.53"/><path d="M60.4,317.7 L58.2,317.8 L56.1,318.0 L53.9,318.1 L51.8,318.3 L49.7,318.4 L47.5,318.6 L45.4,318.7 L43.2,318.8 L41.1,318.9" stroke="url(#g13)" stroke-width="2.8" stroke-opacity="0.39"/><path d="M67.0,323.2 L64.1,323.4 L61.2,323.6 L58.3,323.7 L55.4,323.9 L52.5,324.1 L49.5,324.3 L46.6,324.5 L43.7,324.7 L40.8,324.8" stroke="url(#g13)" stroke-width="3.4" stroke-opacity="0.39"/><path d="M62.5,324.3 L60.1,324.4 L57.7,324.6 L55.3,324.8 L52.9,324.9 L50.4,325.1 L48.0,325.2 L45.6,325.4 L43.2,325.5 L40.8,325.6" stroke="url(#g13)" stroke-width="3.6" stroke-opacity="0.58"/><path d="M62.0,328.2 L59.7,328.4 L57.3,328.5 L54.9,328.7 L52.6,328.8 L50.2,329.0 L47.8,329.1 L45.4,329.3 L43.1,329.4 L40.7,329.5" stroke="url(#g13)" stroke-width="2.8" stroke-opacity="0.44"/><path d="M54.1,334.0 L52.6,334.1 L51.1,334.2 L49.6,334.3 L48.1,334.4 L46.7,334.5 L45.2,334.6 L43.7,334.7 L42.2,334.7 L40.7,334.8" stroke="url(#g13)" stroke-width="3.1" stroke-opacity="0.63"/><path d="M68.2,340.8 L65.2,340.9 L62.2,341.1 L59.1,341.3 L56.1,341.5 L53.0,341.7 L50.0,341.9 L47.0,342.1 L43.9,342.2 L40.9,342.4" stroke="url(#g13)" stroke-width="3.1" stroke-opacity="0.54"/><path d="M59.3,349.8 L57.3,349.9 L55.3,350.1 L53.3,350.2 L51.3,350.3 L49.3,350.4 L47.3,350.6 L45.3,350.7 L43.3,350.8 L41.3,350.9" stroke="url(#g13)" stroke-width="3.0" stroke-opacity="0.41"/><path d="M49.4,357.1 L48.6,357.1 L47.7,357.2 L46.9,357.2 L46.0,357.3 L45.2,357.3 L44.3,357.4 L43.5,357.4 L42.6,357.5 L41.8,357.5" stroke="url(#g13)" stroke-width="3.8" stroke-opacity="0.65"/><path d="M63.3,359.9 L61.0,360.0 L58.6,360.2 L56.3,360.3 L53.9,360.4 L51.5,360.6 L49.2,360.7 L46.8,360.9 L44.5,361.0 L42.1,361.1" stroke="url(#g13)" stroke-width="2.5" stroke-opacity="0.51"/><path d="M66.3,362.3 L63.7,362.5 L61.0,362.7 L58.3,362.8 L55.7,363.0 L53.0,363.1 L50.4,363.3 L47.7,363.5 L45.0,363.6 L42.4,363.8" stroke="url(#g13)" stroke-width="3.4" stroke-opacity="0.63"/><path d="M65.5,365.9 L63.0,366.1 L60.5,366.2 L57.9,366.4 L55.4,366.5 L52.9,366.7 L50.4,366.8 L47.8,367.0 L45.3,367.1 L42.8,367.3" stroke="url(#g13)" stroke-width="1.5" stroke-opacity="0.53"/><path d="M68.2,374.7 L65.5,374.9 L62.8,375.0 L60.1,375.2 L57.4,375.4 L54.7,375.5 L52.1,375.7 L49.4,375.8 L46.7,376.0 L44.0,376.1" stroke="url(#g13)" stroke-width="3.1" stroke-opacity="0.41"/><path d="M54.7,380.8 L53.6,380.9 L52.5,381.0 L51.4,381.0 L50.3,381.1 L49.2,381.1 L48.1,381.2 L47.0,381.3 L45.9,381.3 L44.8,381.4" stroke="url(#g13)" stroke-width="3.7" stroke-opacity="0.45"/><path d="M71.0,380.9 L68.2,381.1 L65.3,381.2 L62.4,381.4 L59.5,381.6 L56.6,381.7 L53.7,381.9 L50.8,382.1 L47.9,382.2 L45.0,382.4" stroke="url(#g13)" stroke-width="1.7" stroke-opacity="0.38"/><path d="M69.1,390.4 L66.6,390.6 L64.1,390.7 L61.6,390.9 L59.1,391.0 L56.6,391.1 L54.1,391.3 L51.6,391.4 L49.1,391.6 L46.5,391.7" stroke="url(#g13)" stroke-width="3.0" stroke-opacity="0.42"/><path d="M68.8,395.1 L66.4,395.2 L64.0,395.4 L61.6,395.5 L59.2,395.6 L56.8,395.8 L54.5,395.9 L52.1,396.0 L49.7,396.2 L47.3,396.3" stroke="url(#g13)" stroke-width="2.9" stroke-opacity="0.56"/><path d="M58.4,397.8 L57.2,397.9 L56.0,398.0 L54.8,398.0 L53.6,398.1 L52.4,398.2 L51.2,398.2 L50.0,398.3 L48.8,398.4 L47.6,398.4" stroke="url(#g13)" stroke-width="4.0" stroke-opacity="0.74"/></g></g></g><g clip-path="url(#c6)"><use href="#p6" fill="#b8a29c"/><g filter="url(#bl3)"><path d="M48.9,402.2 L63.5,401.4 L78.2,400.5 L92.8,399.6 L107.5,398.4 L122.2,397.1 L136.9,395.6 L151.6,394.0 L166.3,392.4 L181.0,390.6 L195.7,388.9 L210.4,387.5 L225.2,386.3 L240.0,385.1" stroke="#8d7670" stroke-width="4.3" fill="none"/><path d="M50.5,408.7 L64.9,407.1 L79.2,405.6 L93.6,404.0 L108.1,402.2 L122.6,400.3 L137.1,398.3 L151.8,396.3 L166.4,394.2 L181.0,392.1 L195.7,390.0 L210.4,388.3 L225.2,386.8 L240.0,385.3" stroke="#9a847e" stroke-width="4.3" fill="none"/><path d="M52.2,415.1 L66.3,412.9 L80.3,410.7 L94.5,408.4 L108.7,406.0 L123.0,403.5 L137.4,401.0 L152.0,398.6 L166.5,396.1 L181.0,393.5 L195.7,391.1 L210.4,389.1 L225.2,387.3 L240.0,385.6" stroke="#a6918b" stroke-width="4.3" fill="none"/><path d="M54.0,421.5 L67.7,418.6 L81.5,415.7 L95.3,412.8 L109.3,409.8 L123.4,406.7 L137.7,403.7 L152.2,400.9 L166.7,398.0 L181.1,395.0 L195.7,392.2 L210.4,389.8 L225.2,387.8 L240.0,385.8" stroke="#b19d97" stroke-width="4.3" fill="none"/><path d="M55.9,427.9 L69.3,424.3 L82.8,420.7 L96.3,417.2 L110.0,413.5 L123.9,409.9 L138.1,406.4 L152.5,403.2 L166.9,399.9 L181.2,396.4 L195.7,393.2 L210.4,390.6 L225.2,388.3 L240.0,386.0" stroke="#bba8a2" stroke-width="4.3" fill="none"/><path d="M57.9,434.2 L71.0,429.9 L84.2,425.7 L97.4,421.5 L110.9,417.2 L124.5,413.0 L138.6,409.1 L152.8,405.4 L167.1,401.7 L181.4,397.9 L195.8,394.3 L210.4,391.4 L225.2,388.8 L240.0,386.2" stroke="#c4b1ab" stroke-width="4.2" fill="none"/><path d="M60.2,440.5 L72.9,435.5 L85.8,430.6 L98.7,425.7 L111.9,420.9 L125.3,416.1 L139.2,411.7 L153.3,407.6 L167.5,403.5 L181.6,399.3 L195.9,395.3 L210.5,392.1 L225.2,389.3 L240.0,386.4" stroke="#cbb9b3" stroke-width="4.2" fill="none"/><path d="M62.7,446.6 L75.0,441.0 L87.5,435.5 L100.1,429.9 L113.0,424.5 L126.2,419.2 L139.9,414.3 L153.9,409.8 L167.9,405.3 L181.9,400.6 L196.0,396.4 L210.6,392.8 L225.3,389.7 L240.0,386.7" stroke="#d1bfb9" stroke-width="4.2" fill="none"/><path d="M65.2,452.8 L77.2,446.5 L89.3,440.3 L101.6,434.1 L114.2,428.1 L127.1,422.2 L140.6,416.9 L154.5,412.0 L168.3,407.1 L182.2,402.0 L196.2,397.4 L210.7,393.6 L225.4,390.2 L240.0,386.9" stroke="#d4c3bd" stroke-width="4.2" fill="none"/><path d="M67.9,458.9 L79.5,451.9 L91.2,445.1 L103.2,438.3 L115.4,431.6 L128.1,425.2 L141.4,419.5 L155.1,414.1 L168.8,408.8 L182.5,403.4 L196.4,398.4 L210.8,394.3 L225.4,390.7 L240.0,387.1" stroke="#d4c3bd" stroke-width="4.2" fill="none"/><path d="M70.5,465.0 L81.8,457.3 L93.2,449.8 L104.7,442.4 L116.7,435.2 L129.1,428.2 L142.2,422.0 L155.8,416.3 L169.3,410.6 L182.8,404.7 L196.7,399.4 L211.0,395.0 L225.5,391.2 L240.0,387.3" stroke="#d1bfb9" stroke-width="4.2" fill="none"/><path d="M73.3,471.0 L84.1,462.7 L95.1,454.6 L106.4,446.5 L118.0,438.7 L130.1,431.2 L143.1,424.5 L156.4,418.4 L169.8,412.3 L183.2,406.1 L196.9,400.4 L211.1,395.7 L225.5,391.6 L240.0,387.6" stroke="#cbb9b3" stroke-width="4.2" fill="none"/><path d="M76.0,477.1 L86.5,468.1 L97.1,459.3 L108.0,450.6 L119.3,442.2 L131.2,434.2 L143.9,427.1 L157.1,420.5 L170.4,414.0 L183.6,407.4 L197.1,401.4 L211.2,396.4 L225.6,392.1 L240.0,387.8" stroke="#c4b1ab" stroke-width="4.2" fill="none"/><path d="M78.9,483.1 L88.9,473.5 L99.2,464.0 L109.7,454.7 L120.7,445.7 L132.3,437.1 L144.8,429.6 L157.8,422.6 L170.9,415.8 L183.9,408.8 L197.4,402.4 L211.4,397.1 L225.7,392.6 L240.0,388.0" stroke="#bba8a2" stroke-width="4.1" fill="none"/><path d="M81.8,489.1 L91.4,478.8 L101.3,468.7 L111.5,458.8 L122.1,449.2 L133.4,440.1 L145.7,432.1 L158.6,424.7 L171.5,417.5 L184.4,410.1 L197.6,403.4 L211.6,397.8 L225.8,393.0 L240.0,388.2" stroke="#b19d97" stroke-width="4.1" fill="none"/><path d="M84.7,495.1 L93.9,484.2 L103.5,473.4 L113.2,462.8 L123.6,452.6 L134.5,443.0 L146.7,434.6 L159.4,426.8 L172.1,419.2 L184.8,411.4 L197.9,404.3 L211.7,398.5 L225.9,393.5 L240.0,388.4" stroke="#a6918b" stroke-width="4.1" fill="none"/><path d="M87.6,501.0 L96.5,489.5 L105.6,478.1 L115.0,466.9 L125.0,456.1 L135.7,445.9 L147.6,437.0 L160.1,428.9 L172.7,420.9 L185.2,412.7 L198.2,405.3 L211.9,399.3 L225.9,394.0 L240.0,388.7" stroke="#9a847e" stroke-width="4.1" fill="none"/><path d="M90.5,507.0 L99.0,494.8 L107.7,482.7 L116.8,470.9 L126.4,459.6 L136.9,448.9 L148.6,439.5 L160.9,431.0 L173.3,422.6 L185.6,414.0 L198.4,406.3 L212.1,400.0 L226.0,394.4 L240.0,388.9" stroke="#8d7670" stroke-width="4.1" fill="none"/></g><g filter="url(#bl15)"><path d="M66.7,403.3 L81.8,402.2 L96.9,400.9 L112.1,399.4 L127.2,397.7 L142.4,395.9 L157.7,394.1 L172.9,392.2 L188.1,390.2 L203.4,388.5 L218.7,387.0 L234.0,385.7" stroke="#eadfda" stroke-width="3.70" stroke-opacity="0.21" fill="none"/><path d="M82.4,407.3 L94.3,405.8 L106.2,404.1 L118.2,402.3 L130.2,400.5 L142.3,398.7 L154.5,396.9 L166.6,395.0 L178.7,393.0 L190.9,391.2 L203.1,389.5 L215.4,388.1" stroke="#75605a" stroke-width="2.91" stroke-opacity="0.32" fill="none"/><path d="M72.9,417.7 L87.4,414.6 L102.0,411.5 L116.8,408.2 L131.7,405.0 L146.9,402.0 L162.1,399.0 L177.3,395.8 L192.5,392.8 L208.0,390.2 L223.5,388.0 L239.1,385.9" stroke="#eadfda" stroke-width="4.27" stroke-opacity="0.32" fill="none"/><path d="M73.6,423.0 L86.2,419.7 L98.9,416.3 L111.7,412.9 L124.7,409.6 L138.0,406.4 L151.4,403.4 L164.8,400.3 L178.2,397.1 L191.7,394.0 L205.4,391.4 L219.2,389.2" stroke="#eadfda" stroke-width="3.80" stroke-opacity="0.35" fill="none"/><path d="M78.0,425.1 L89.2,421.8 L100.4,418.5 L111.8,415.2 L123.3,411.8 L135.1,408.7 L147.0,405.8 L159.0,402.9 L171.0,399.8 L182.9,396.8 L195.0,394.0 L207.3,391.6" stroke="#75605a" stroke-width="3.05" stroke-opacity="0.18" fill="none"/><path d="M91.7,430.3 L101.4,426.5 L111.2,422.6 L121.2,418.8 L131.5,415.3 L142.1,411.9 L152.7,408.7 L163.4,405.5 L174.0,402.2 L184.6,398.9 L195.4,395.9 L206.4,393.3" stroke="#eadfda" stroke-width="4.23" stroke-opacity="0.31" fill="none"/><path d="M87.3,436.4 L98.8,431.3 L110.4,426.2 L122.3,421.2 L134.6,416.6 L147.3,412.3 L160.1,408.2 L172.8,403.9 L185.6,399.7 L198.6,395.9 L211.8,392.7 L225.3,389.8" stroke="#eadfda" stroke-width="2.00" stroke-opacity="0.29" fill="none"/><path d="M68.6,456.9 L82.2,449.0 L95.9,441.3 L110.0,433.6 L124.5,426.2 L139.8,419.5 L155.7,413.4 L171.6,407.3 L187.5,401.2 L203.9,396.0 L220.7,391.7 L237.7,387.7" stroke="#eadfda" stroke-width="2.62" stroke-opacity="0.29" fill="none"/><path d="M86.3,450.0 L96.9,443.6 L107.9,437.2 L119.0,431.0 L130.7,425.1 L142.9,419.8 L155.3,414.8 L167.8,409.9 L180.2,404.8 L192.9,400.0 L205.9,395.9 L219.1,392.4" stroke="#eadfda" stroke-width="4.56" stroke-opacity="0.22" fill="none"/><path d="M92.0,456.3 L102.4,448.9 L113.1,441.6 L124.1,434.4 L135.7,427.9 L148.0,422.0 L160.5,416.4 L172.9,410.7 L185.3,405.0 L198.1,399.8 L211.4,395.6 L224.8,391.8" stroke="#eadfda" stroke-width="4.86" stroke-opacity="0.29" fill="none"/><path d="M89.9,466.4 L99.7,458.2 L109.7,450.2 L120.1,442.4 L130.9,434.9 L142.5,428.3 L154.6,422.2 L166.8,416.2 L178.8,410.0 L191.1,404.1 L203.8,399.0 L216.9,394.8" stroke="#eadfda" stroke-width="2.22" stroke-opacity="0.25" fill="none"/><path d="M83.6,485.2 L92.7,475.8 L101.9,466.6 L111.5,457.5 L121.4,448.7 L131.8,440.4 L143.2,432.9 L155.1,426.1 L167.1,419.5 L179.0,412.7 L191.1,406.2 L203.8,400.6" stroke="#eadfda" stroke-width="5.00" stroke-opacity="0.30" fill="none"/><path d="M87.7,484.7 L96.6,475.2 L105.7,465.7 L115.2,456.6 L125.0,447.7 L135.6,439.4 L147.0,432.0 L158.8,425.2 L170.7,418.4 L182.5,411.5 L194.6,405.0 L207.2,399.6" stroke="#75605a" stroke-width="4.42" stroke-opacity="0.26" fill="none"/><path d="M105.4,476.5 L113.0,467.6 L121.0,459.0 L129.3,450.7 L138.2,442.9 L148.0,436.0 L158.0,429.6 L168.2,423.3 L178.2,416.8 L188.4,410.4 L198.9,404.7 L209.9,399.8" stroke="#75605a" stroke-width="2.87" stroke-opacity="0.31" fill="none"/><path d="M104.3,491.1 L113.4,478.2 L123.1,465.9 L133.4,454.1 L145.0,443.6 L157.7,434.4 L170.6,425.5 L183.3,416.3 L196.5,407.9 L210.6,400.9 L225.1,395.0 L239.7,389.1" stroke="#eadfda" stroke-width="3.95" stroke-opacity="0.22" fill="none"/></g><g filter="url(#bl06)"><path d="M63.3,400.6 L77.9,399.9 L92.5,399.0 L107.1,398.0 L121.6,396.7 L136.2,395.3 L150.8,393.8 L165.4,392.2 L180.0,390.5 L194.6,388.9 L209.2,387.5 L223.9,386.3" stroke="#e8dbd6" stroke-width="0.87" stroke-opacity="0.45" fill="none"/><path d="M69.8,402.5 L84.6,401.4 L99.5,400.2 L114.3,398.8 L129.2,397.1 L144.1,395.5 L159.1,393.8 L174.0,391.9 L188.9,390.0 L203.9,388.4 L218.9,387.0 L233.9,385.7" stroke="#6a5450" stroke-width="1.28" stroke-opacity="0.22" fill="none"/><path d="M53.5,404.0 L68.8,402.9 L84.2,401.8 L99.5,400.5 L114.9,398.9 L130.3,397.2 L145.7,395.4 L161.2,393.6 L176.6,391.7 L192.1,389.7 L207.6,388.0 L223.1,386.6" stroke="#e8dbd6" stroke-width="1.04" stroke-opacity="0.49" fill="none"/><path d="M51.5,408.7 L66.9,407.0 L82.4,405.4 L98.0,403.6 L113.5,401.6 L129.2,399.4 L144.9,397.3 L160.7,395.1 L176.5,392.8 L192.3,390.5 L208.2,388.6 L224.1,386.9" stroke="#6a5450" stroke-width="1.03" stroke-opacity="0.50" fill="none"/><path d="M64.9,409.6 L78.7,407.9 L92.6,406.1 L106.5,404.1 L120.5,402.0 L134.6,399.9 L148.8,397.8 L163.0,395.6 L177.1,393.3 L191.3,391.1 L205.6,389.2 L220.0,387.6" stroke="#6a5450" stroke-width="0.50" stroke-opacity="0.29" fill="none"/><path d="M59.4,413.1 L74.4,410.9 L89.5,408.6 L104.7,406.2 L119.9,403.6 L135.4,401.0 L150.9,398.5 L166.4,395.9 L182.0,393.2 L197.6,390.7 L213.3,388.6 L229.1,386.8" stroke="#6a5450" stroke-width="1.02" stroke-opacity="0.48" fill="none"/><path d="M63.5,413.8 L78.9,411.4 L94.4,408.8 L110.0,406.1 L125.7,403.3 L141.6,400.6 L157.6,397.9 L173.6,395.0 L189.6,392.2 L205.7,389.7 L221.9,387.7 L238.2,385.8" stroke="#e8dbd6" stroke-width="0.54" stroke-opacity="0.38" fill="none"/><path d="M54.7,418.1 L69.7,415.3 L84.8,412.5 L99.9,409.7 L115.2,406.7 L130.6,403.7 L146.3,400.8 L162.0,398.0 L177.7,394.9 L193.4,392.0 L209.3,389.6 L225.3,387.5" stroke="#e8dbd6" stroke-width="0.75" stroke-opacity="0.20" fill="none"/><path d="M56.9,420.1 L71.0,417.2 L85.3,414.4 L99.6,411.4 L114.0,408.3 L128.6,405.3 L143.4,402.3 L158.3,399.5 L173.1,396.5 L188.0,393.5 L203.1,390.8 L218.3,388.7" stroke="#e8dbd6" stroke-width="1.15" stroke-opacity="0.35" fill="none"/><path d="M72.3,419.0 L86.4,415.9 L100.5,412.7 L114.8,409.4 L129.3,406.2 L144.0,403.1 L158.8,400.1 L173.6,396.9 L188.4,393.8 L203.4,391.1 L218.5,388.8 L233.7,386.7" stroke="#6a5450" stroke-width="0.98" stroke-opacity="0.55" fill="none"/><path d="M56.5,426.2 L71.5,422.4 L86.5,418.6 L101.7,414.8 L117.1,410.8 L132.7,407.1 L148.7,403.5 L164.7,400.0 L180.6,396.2 L196.7,392.8 L213.0,390.0 L229.5,387.5" stroke="#6a5450" stroke-width="1.17" stroke-opacity="0.32" fill="none"/><path d="M61.4,426.1 L75.4,422.4 L89.4,418.7 L103.5,415.0 L117.8,411.3 L132.4,407.6 L147.3,404.2 L162.2,400.9 L177.0,397.3 L192.0,394.0 L207.2,391.1 L222.5,388.7" stroke="#e8dbd6" stroke-width="1.20" stroke-opacity="0.29" fill="none"/><path d="M71.3,427.2 L85.3,423.1 L99.4,418.9 L113.6,414.7 L128.2,410.6 L143.1,406.8 L158.1,403.2 L173.1,399.4 L188.1,395.6 L203.4,392.3 L218.9,389.6 L234.4,387.1" stroke="#6a5450" stroke-width="0.97" stroke-opacity="0.29" fill="none"/><path d="M70.6,429.5 L83.2,425.5 L95.9,421.5 L108.8,417.5 L121.8,413.5 L135.2,409.8 L148.8,406.2 L162.5,402.7 L176.1,399.1 L189.8,395.6 L203.8,392.5 L217.9,390.0" stroke="#e8dbd6" stroke-width="0.56" stroke-opacity="0.37" fill="none"/><path d="M68.5,432.9 L81.3,428.5 L94.2,424.1 L107.3,419.8 L120.6,415.4 L134.2,411.3 L148.1,407.5 L162.2,403.7 L176.1,399.8 L190.1,396.0 L204.5,392.8 L218.9,390.0" stroke="#e8dbd6" stroke-width="0.86" stroke-opacity="0.36" fill="none"/><path d="M68.3,434.5 L82.0,429.6 L95.7,424.8 L109.7,420.0 L123.9,415.2 L138.6,410.7 L153.5,406.6 L168.5,402.4 L183.4,398.1 L198.6,394.3 L214.0,391.1 L229.6,388.3" stroke="#e8dbd6" stroke-width="1.10" stroke-opacity="0.55" fill="none"/><path d="M65.2,440.5 L79.1,434.9 L93.1,429.3 L107.4,423.8 L121.9,418.3 L137.0,413.2 L152.5,408.6 L168.0,403.9 L183.4,399.1 L199.2,394.8 L215.3,391.3 L231.5,388.2" stroke="#6a5450" stroke-width="0.47" stroke-opacity="0.22" fill="none"/><path d="M79.9,434.8 L92.3,429.8 L105.0,424.9 L117.8,419.9 L131.0,415.3 L144.6,411.0 L158.3,406.9 L172.0,402.7 L185.8,398.5 L199.8,394.7 L214.0,391.6 L228.4,388.8" stroke="#e8dbd6" stroke-width="0.49" stroke-opacity="0.51" fill="none"/><path d="M76.1,441.1 L88.0,435.8 L100.0,430.4 L112.3,425.2 L124.8,420.0 L137.8,415.3 L151.2,410.9 L164.5,406.6 L177.9,402.1 L191.3,397.8 L205.1,394.2 L219.1,391.1" stroke="#6a5450" stroke-width="0.68" stroke-opacity="0.26" fill="none"/><path d="M66.1,446.6 L79.7,440.3 L93.5,434.0 L107.6,427.7 L121.9,421.6 L136.9,416.0 L152.4,410.8 L167.9,405.7 L183.3,400.5 L199.1,395.8 L215.3,392.0 L231.6,388.5" stroke="#e8dbd6" stroke-width="0.44" stroke-opacity="0.51" fill="none"/><path d="M80.2,443.9 L92.6,437.7 L105.2,431.6 L118.1,425.6 L131.4,419.9 L145.4,414.8 L159.5,409.9 L173.6,404.8 L187.7,399.9 L202.2,395.5 L217.0,392.0 L232.0,388.7" stroke="#e8dbd6" stroke-width="0.89" stroke-opacity="0.47" fill="none"/><path d="M74.9,447.8 L87.3,441.4 L99.9,435.0 L112.8,428.8 L126.1,422.7 L140.0,417.2 L154.3,412.1 L168.6,407.0 L182.9,401.8 L197.4,397.1 L212.3,393.2 L227.5,389.8" stroke="#6a5450" stroke-width="0.71" stroke-opacity="0.19" fill="none"/><path d="M82.8,446.5 L95.1,439.8 L107.8,433.2 L120.7,426.7 L134.3,420.7 L148.4,415.3 L162.6,410.1 L176.8,404.7 L191.1,399.5 L205.9,395.1 L220.9,391.5 L236.0,388.0" stroke="#6a5450" stroke-width="0.52" stroke-opacity="0.29" fill="none"/><path d="M69.6,457.5 L82.4,449.8 L95.5,442.3 L108.8,435.0 L122.5,427.7 L137.0,421.1 L152.0,415.2 L167.2,409.4 L182.2,403.4 L197.7,398.0 L213.6,393.5 L229.7,389.6" stroke="#6a5450" stroke-width="0.75" stroke-opacity="0.46" fill="none"/><path d="M74.0,458.4 L85.9,450.9 L98.0,443.6 L110.4,436.4 L123.1,429.3 L136.5,422.8 L150.5,417.0 L164.6,411.4 L178.7,405.6 L192.9,400.1 L207.7,395.5 L222.7,391.6" stroke="#6a5450" stroke-width="0.94" stroke-opacity="0.40" fill="none"/><path d="M82.9,454.7 L94.2,447.6 L105.6,440.5 L117.4,433.5 L129.7,426.9 L142.7,421.0 L155.9,415.5 L169.3,410.1 L182.5,404.4 L196.1,399.3 L210.1,395.0 L224.3,391.3" stroke="#e8dbd6" stroke-width="0.99" stroke-opacity="0.45" fill="none"/><path d="M86.5,454.8 L98.0,447.2 L109.8,439.7 L122.0,432.4 L134.8,425.6 L148.3,419.6 L162.0,413.8 L175.7,407.9 L189.4,402.2 L203.6,397.2 L218.2,393.1 L232.9,389.3" stroke="#6a5450" stroke-width="0.91" stroke-opacity="0.41" fill="none"/><path d="M83.1,459.0 L95.2,450.7 L107.5,442.6 L120.2,434.6 L133.6,427.2 L147.8,420.6 L162.3,414.4 L176.7,408.0 L191.3,401.8 L206.4,396.6 L221.8,392.3 L237.4,388.1" stroke="#6a5450" stroke-width="0.81" stroke-opacity="0.44" fill="none"/><path d="M90.1,458.6 L101.3,450.3 L112.9,442.3 L124.8,434.5 L137.5,427.4 L150.9,421.0 L164.4,414.9 L177.9,408.6 L191.5,402.5 L205.7,397.4 L220.2,393.1 L234.8,389.1" stroke="#6a5450" stroke-width="0.82" stroke-opacity="0.37" fill="none"/><path d="M88.1,460.6 L99.4,452.1 L111.1,443.9 L123.2,435.8 L136.0,428.4 L149.5,421.9 L163.3,415.6 L177.0,409.1 L190.8,402.9 L205.2,397.6 L220.0,393.2 L234.9,389.1" stroke="#e8dbd6" stroke-width="0.67" stroke-opacity="0.28" fill="none"/><path d="M79.7,470.8 L91.1,461.6 L102.7,452.6 L114.7,443.7 L127.2,435.2 L140.7,427.6 L154.7,420.7 L168.9,414.0 L183.0,407.1 L197.6,400.8 L212.7,395.7 L228.0,391.2" stroke="#e8dbd6" stroke-width="1.08" stroke-opacity="0.53" fill="none"/><path d="M82.9,473.4 L93.7,464.0 L104.6,454.8 L116.1,445.9 L128.0,437.2 L140.8,429.5 L154.3,422.6 L168.0,415.8 L181.5,408.8 L195.4,402.4 L209.9,397.1 L224.7,392.5" stroke="#6a5450" stroke-width="1.05" stroke-opacity="0.34" fill="none"/><path d="M89.3,468.5 L99.6,459.6 L110.2,450.9 L121.3,442.4 L132.9,434.5 L145.4,427.4 L158.3,420.9 L171.3,414.3 L184.1,407.7 L197.4,401.7 L211.2,396.7 L225.3,392.4" stroke="#e8dbd6" stroke-width="1.00" stroke-opacity="0.22" fill="none"/><path d="M93.1,469.8 L102.5,461.1 L112.3,452.6 L122.4,444.4 L133.1,436.6 L144.6,429.7 L156.6,423.3 L168.6,417.1 L180.5,410.6 L192.6,404.5 L205.3,399.3 L218.3,394.9" stroke="#e8dbd6" stroke-width="1.02" stroke-opacity="0.47" fill="none"/><path d="M88.8,474.8 L99.7,464.6 L110.9,454.5 L122.7,444.8 L135.2,435.8 L148.7,427.9 L162.7,420.5 L176.6,413.0 L190.6,405.6 L205.3,399.4 L220.5,394.3 L235.8,389.4" stroke="#e8dbd6" stroke-width="0.43" stroke-opacity="0.29" fill="none"/><path d="M90.2,478.8 L100.0,469.0 L110.0,459.2 L120.5,449.8 L131.5,440.8 L143.6,432.9 L156.2,425.6 L169.0,418.6 L181.7,411.3 L194.7,404.5 L208.3,398.9 L222.3,394.1" stroke="#6a5450" stroke-width="0.54" stroke-opacity="0.50" fill="none"/><path d="M92.2,480.1 L102.4,469.4 L112.9,458.9 L124.0,448.7 L135.9,439.3 L148.8,431.0 L162.2,423.3 L175.6,415.6 L189.0,407.9 L203.1,401.3 L217.8,395.9 L232.6,390.8" stroke="#e8dbd6" stroke-width="0.80" stroke-opacity="0.33" fill="none"/><path d="M92.9,480.4 L102.6,470.1 L112.6,460.0 L123.1,450.2 L134.3,440.9 L146.5,432.8 L159.3,425.4 L172.1,418.0 L184.8,410.5 L198.0,403.6 L211.8,398.1 L225.9,393.2" stroke="#e8dbd6" stroke-width="0.56" stroke-opacity="0.37" fill="none"/><path d="M94.3,483.7 L103.7,473.0 L113.5,462.4 L123.8,452.3 L134.8,442.7 L146.9,434.4 L159.6,426.7 L172.3,419.0 L184.9,411.3 L198.0,404.3 L211.8,398.5 L225.9,393.5" stroke="#6a5450" stroke-width="1.08" stroke-opacity="0.35" fill="none"/><path d="M95.3,485.9 L105.0,474.4 L115.1,463.2 L125.7,452.4 L137.3,442.4 L150.0,433.7 L163.1,425.6 L176.3,417.4 L189.4,409.3 L203.3,402.3 L217.8,396.6 L232.5,391.3" stroke="#e8dbd6" stroke-width="0.74" stroke-opacity="0.45" fill="none"/><path d="M91.3,494.4 L100.9,482.4 L110.8,470.5 L121.3,459.0 L132.4,448.0 L144.8,438.4 L158.0,429.7 L171.4,421.3 L184.7,412.7 L198.5,404.9 L213.2,398.6 L228.1,393.1" stroke="#e8dbd6" stroke-width="0.94" stroke-opacity="0.35" fill="none"/><path d="M100.1,486.6 L109.7,474.5 L119.8,462.8 L130.5,451.5 L142.4,441.4 L155.3,432.5 L168.5,424.1 L181.6,415.4 L195.1,407.2 L209.3,400.5 L224.1,394.7 L238.9,389.2" stroke="#6a5450" stroke-width="0.55" stroke-opacity="0.54" fill="none"/><path d="M92.6,501.0 L102.3,487.8 L112.2,474.7 L122.8,462.1 L134.1,450.2 L146.9,439.7 L160.7,430.4 L174.5,421.1 L188.2,411.9 L202.8,403.8 L218.1,397.3 L233.6,391.3" stroke="#e8dbd6" stroke-width="1.22" stroke-opacity="0.46" fill="none"/><path d="M101.5,492.1 L110.3,479.8 L119.7,467.9 L129.6,456.4 L140.6,445.9 L152.8,436.8 L165.4,428.2 L177.9,419.5 L190.5,411.0 L203.9,403.6 L218.0,397.6 L232.2,392.1" stroke="#6a5450" stroke-width="0.72" stroke-opacity="0.31" fill="none"/><path d="M100.5,495.1 L109.5,482.4 L118.8,470.1 L128.9,458.2 L139.9,447.2 L152.2,437.7 L165.0,428.9 L177.8,419.9 L190.7,411.1 L204.3,403.6 L218.6,397.5 L233.1,391.8" stroke="#6a5450" stroke-width="0.91" stroke-opacity="0.48" fill="none"/></g><g filter="url(#bl15)"><g fill="none" stroke-linecap="round"><path d="M48.0,399.0 L48.6,399.0 L49.2,399.0 L49.8,398.9 L50.3,398.9 L50.9,398.9 L51.5,398.9 L52.1,398.8 L52.7,398.8 L53.3,398.8 L53.9,398.8 L54.4,398.8 L55.0,398.7 L55.6,398.7 L56.2,398.7 L56.8,398.7 L57.4,398.7 L58.0,398.6 L58.5,398.6 L59.1,398.6 L59.7,398.6 L60.3,398.6 L60.9,398.6 L61.5,398.5 L61.5,398.5 L62.6,403.1 L63.7,407.6 L64.8,412.2 L65.9,416.7 L67.1,421.2 L68.4,425.7 L69.8,430.2 L71.3,434.6 L72.9,439.0 L74.6,443.3 L76.4,447.6 L78.2,451.9 L80.0,456.2 L81.8,460.5 L83.7,464.8 L85.6,469.1 L87.5,473.3 L89.5,477.5 L91.5,481.7 L93.5,486.0 L95.5,490.2 L97.5,494.4 L99.5,498.6 L99.5,498.6 L99.2,499.1 L98.9,499.6 L98.5,500.1 L98.2,500.6 L97.9,501.1 L97.6,501.6 L97.2,502.0 L96.9,502.5 L96.6,503.0 L96.2,503.5 L95.9,504.0 L95.6,504.5 L95.3,505.0 L94.9,505.5 L94.6,506.0 L94.3,506.5 L94.0,507.0 L93.6,507.5 L93.3,508.0 L93.0,508.5 L92.7,509.0 L92.3,509.5 L92.0,510.0 L92.0,510.0 L89.7,505.3 L87.4,500.6 L85.1,496.0 L82.8,491.3 L80.6,486.6 L78.3,481.9 L76.1,477.2 L73.9,472.5 L71.8,467.7 L69.7,463.0 L67.6,458.2 L65.5,453.4 L63.5,448.6 L61.5,443.8 L59.6,439.0 L57.9,434.1 L56.3,429.1 L54.7,424.1 L53.3,419.1 L52.0,414.1 L50.6,409.1 L49.3,404.0 L48.0,399.0 Z" fill="url(#g14)" filter="url(#bl3)"/><path d="M53.6,401.9 L53.0,402.0 L52.5,402.0 L52.0,402.0 L51.5,402.1 L50.9,402.1 L50.4,402.1 L49.9,402.2 L49.4,402.2 L48.9,402.2" stroke="url(#g13)" stroke-width="3.7" stroke-opacity="0.46"/><path d="M72.5,403.8 L70.0,404.0 L67.5,404.2 L64.9,404.4 L62.4,404.6 L59.9,404.8 L57.3,405.0 L54.8,405.2 L52.3,405.4 L49.8,405.7" stroke="url(#g13)" stroke-width="3.0" stroke-opacity="0.47"/><path d="M65.6,407.9 L64.0,408.1 L62.3,408.3 L60.7,408.5 L59.0,408.7 L57.4,408.9 L55.7,409.0 L54.1,409.2 L52.4,409.4 L50.8,409.6" stroke="url(#g13)" stroke-width="1.6" stroke-opacity="0.38"/><path d="M57.7,415.8 L57.2,415.9 L56.6,416.0 L56.0,416.1 L55.5,416.2 L54.9,416.3 L54.3,416.4 L53.8,416.5 L53.2,416.6 L52.7,416.7" stroke="url(#g13)" stroke-width="1.7" stroke-opacity="0.67"/><path d="M69.4,416.1 L67.7,416.5 L65.9,416.8 L64.1,417.2 L62.3,417.5 L60.5,417.9 L58.7,418.2 L56.9,418.6 L55.1,418.9 L53.3,419.3" stroke="url(#g13)" stroke-width="3.0" stroke-opacity="0.61"/><path d="M76.9,418.5 L74.4,419.1 L71.9,419.6 L69.4,420.2 L66.9,420.8 L64.5,421.3 L62.0,421.9 L59.5,422.5 L57.1,423.0 L54.6,423.6" stroke="url(#g13)" stroke-width="1.5" stroke-opacity="0.67"/><path d="M74.1,423.3 L72.0,423.8 L70.0,424.3 L68.0,424.9 L66.0,425.4 L64.0,426.0 L62.0,426.5 L60.0,427.1 L58.0,427.6 L56.0,428.1" stroke="url(#g15)" stroke-width="2.3" stroke-opacity="0.62"/><path d="M74.7,427.6 L72.8,428.2 L70.9,428.8 L68.9,429.4 L67.0,430.0 L65.1,430.6 L63.2,431.2 L61.3,431.8 L59.4,432.4 L57.5,433.0" stroke="url(#g15)" stroke-width="2.3" stroke-opacity="0.67"/><path d="M66.5,436.8 L65.7,437.1 L65.0,437.4 L64.2,437.6 L63.5,437.9 L62.7,438.2 L62.0,438.5 L61.3,438.8 L60.5,439.0 L59.8,439.3" stroke="url(#g15)" stroke-width="3.4" stroke-opacity="0.72"/><path d="M66.9,438.8 L66.2,439.1 L65.5,439.4 L64.8,439.7 L64.1,440.0 L63.4,440.3 L62.7,440.5 L62.0,440.8 L61.3,441.1 L60.6,441.4" stroke="url(#g15)" stroke-width="3.8" stroke-opacity="0.73"/><path d="M82.6,436.4 L80.3,437.4 L78.1,438.4 L75.8,439.3 L73.5,440.3 L71.2,441.3 L69.0,442.3 L66.7,443.3 L64.4,444.4 L62.1,445.4" stroke="url(#g15)" stroke-width="3.8" stroke-opacity="0.38"/><path d="M73.7,448.2 L72.8,448.7 L71.8,449.2 L70.9,449.7 L69.9,450.2 L69.0,450.7 L68.0,451.2 L67.1,451.7 L66.1,452.2 L65.2,452.7" stroke="url(#g15)" stroke-width="3.5" stroke-opacity="0.50"/><path d="M70.9,453.2 L70.4,453.5 L69.9,453.8 L69.4,454.1 L68.9,454.3 L68.5,454.6 L68.0,454.9 L67.5,455.2 L67.0,455.4 L66.5,455.7" stroke="url(#g15)" stroke-width="3.1" stroke-opacity="0.60"/><path d="M76.8,458.1 L76.0,458.6 L75.2,459.1 L74.4,459.7 L73.6,460.2 L72.8,460.7 L72.0,461.2 L71.2,461.8 L70.4,462.3 L69.6,462.8" stroke="url(#g15)" stroke-width="4.0" stroke-opacity="0.62"/><path d="M90.5,457.6 L88.6,459.1 L86.6,460.5 L84.7,461.9 L82.7,463.4 L80.8,464.9 L78.9,466.3 L77.0,467.8 L75.0,469.2 L73.1,470.7" stroke="url(#g15)" stroke-width="1.8" stroke-opacity="0.44"/><path d="M94.3,459.7 L92.1,461.4 L90.0,463.1 L87.9,464.9 L85.7,466.6 L83.6,468.3 L81.5,470.1 L79.4,471.8 L77.3,473.6 L75.2,475.3" stroke="url(#g15)" stroke-width="4.0" stroke-opacity="0.66"/><path d="M93.6,463.9 L91.7,465.5 L89.8,467.2 L87.9,468.8 L86.1,470.4 L84.2,472.0 L82.3,473.7 L80.5,475.3 L78.6,477.0 L76.7,478.6" stroke="url(#g15)" stroke-width="3.8" stroke-opacity="0.46"/><path d="M85.0,473.1 L84.1,473.9 L83.3,474.7 L82.5,475.4 L81.6,476.2 L80.8,477.0 L79.9,477.7 L79.1,478.5 L78.2,479.2 L77.4,480.0" stroke="url(#g15)" stroke-width="1.5" stroke-opacity="0.39"/><path d="M87.2,480.1 L86.4,480.8 L85.7,481.5 L85.0,482.3 L84.2,483.0 L83.5,483.8 L82.8,484.5 L82.1,485.2 L81.3,486.0 L80.6,486.7" stroke="url(#g15)" stroke-width="2.1" stroke-opacity="0.30"/><path d="M93.1,478.3 L91.9,479.6 L90.7,480.9 L89.5,482.2 L88.3,483.5 L87.1,484.8 L85.9,486.1 L84.6,487.4 L83.4,488.7 L82.2,490.0" stroke="url(#g15)" stroke-width="3.0" stroke-opacity="0.72"/><path d="M89.6,486.4 L89.0,487.1 L88.3,487.9 L87.6,488.6 L87.0,489.4 L86.3,490.1 L85.7,490.9 L85.0,491.6 L84.4,492.4 L83.7,493.1" stroke="url(#g15)" stroke-width="1.7" stroke-opacity="0.72"/><path d="M99.7,483.7 L98.3,485.5 L96.8,487.3 L95.4,489.1 L94.0,490.8 L92.6,492.6 L91.2,494.4 L89.8,496.2 L88.4,498.0 L87.0,499.8" stroke="url(#g15)" stroke-width="3.5" stroke-opacity="0.25"/><path d="M96.4,495.9 L95.6,496.9 L94.9,498.0 L94.1,499.0 L93.4,500.1 L92.7,501.1 L91.9,502.2 L91.2,503.2 L90.4,504.2 L89.7,505.3" stroke="url(#g15)" stroke-width="3.1" stroke-opacity="0.45"/><path d="M97.5,500.0 L96.8,501.0 L96.1,502.0 L95.5,502.9 L94.8,503.9 L94.1,504.9 L93.5,505.9 L92.8,506.9 L92.1,507.9 L91.5,508.9" stroke="url(#g15)" stroke-width="2.2" stroke-opacity="0.37"/></g></g></g><path d="M40.0,401.0 C50.0,400.7 60.0,400.3 70.0,400.0 C80.0,399.7 88.3,399.7 100.0,399.0 C111.7,398.3 126.7,397.0 140.0,396.0" stroke="url(#g16)" stroke-width="4" fill="none" filter="url(#bl15)"/><path d="M47.0,280.0 C45.0,293.3 41.8,306.7 41.0,320.0 C40.2,333.3 40.8,346.5 42.0,360.0 C43.2,373.5 45.8,390.2 48.0,401.0 C50.2,411.8 52.7,417.7 55.0,425.0 C57.3,432.3 58.5,436.3 62.0,445.0 C65.5,453.7 71.0,465.8 76.0,477.0 C81.0,488.2 86.7,500.3 92.0,512.0" stroke="#ffffff" stroke-width="9" fill="none" filter="url(#bl3)" opacity="0.95"/><path d="M46.0,287.0 L49.2,286.8 L52.3,286.6 L55.5,286.4 L58.6,286.2 L61.8,286.0 L65.0,285.7 L68.1,285.5 L71.3,285.3 L74.4,285.1 L77.6,285.0 L80.8,284.9 L83.9,284.9 L87.1,284.9 L90.3,285.0 L93.4,285.2 L96.6,285.4 L99.7,285.7 L102.9,286.0 L106.0,286.4 L109.1,286.8 L112.3,287.3 L115.4,287.9 L118.5,288.4 L121.6,289.1 L124.7,289.7 L127.8,290.5 L130.9,291.2 L133.9,292.0 L137.0,292.9 L140.0,293.8 L143.0,294.8 L146.0,295.8 L149.0,296.8 L152.0,297.9 L155.0,299.0 L157.9,300.1 L160.9,301.2 L163.8,302.4 L166.7,303.6 L169.7,304.9 L172.6,306.1 L175.4,307.4 L178.3,308.8 L181.2,310.1 L184.0,311.6 L186.8,313.0 L189.6,314.5 L192.4,316.0 L195.2,317.5 L197.9,319.0 L200.7,320.6 L203.5,322.1 L206.2,323.7 L209.0,325.3 L211.7,326.9 L214.4,328.5 L217.1,330.1 L219.9,331.7 L222.5,333.4 L225.2,335.1 L227.9,336.8 L230.5,338.6 L233.0,340.5 L235.5,342.4 L238.0,344.4 L240.4,346.5 L242.6,348.7 L244.8,351.0 L246.9,353.4 L248.9,355.8 L250.8,358.3 L252.6,360.9 L254.3,363.7 L255.7,366.5 L257.0,369.4 L258.3,372.3 L259.5,375.2 L260.7,378.1 L262.0,381.0" fill="none" stroke="#3f3431" stroke-width="1.1"/><path d="M92.0,510.0 C96.0,504.0 99.3,498.7 104.0,492.0 C108.7,485.3 114.0,477.3 120.0,470.0 C126.0,462.7 133.3,455.3 140.0,448.0" fill="none" stroke="#3f3431" stroke-width="1.1"/><g clip-path="url(#c7)"><use href="#p7" fill="#b8a29c"/><g filter="url(#bl3)"><path d="M118.0,472.0 L137.5,454.1 L162.6,452.6 L187.4,463.2 L211.4,475.6 L235.1,488.8 L258.9,501.8 L284.1,511.8 L310.2,518.8 L337.0,522.5 L364.1,521.9 L391.1,520.3 L418.2,520.3 L444.9,524.9" stroke="#a48e88" stroke-width="7.7" fill="none"/><path d="M118.0,472.1 L137.8,455.9 L162.6,455.6 L187.1,466.9 L211.0,479.7 L234.7,493.0 L258.4,506.2 L283.6,516.4 L309.7,523.7 L336.6,527.7 L363.7,527.5 L390.8,526.2 L418.0,526.2 L444.8,530.7" stroke="#af9b95" stroke-width="7.7" fill="none"/><path d="M118.0,472.1 L138.2,457.8 L162.7,458.7 L186.8,470.6 L210.6,483.7 L234.3,497.3 L258.0,510.6 L283.2,520.9 L309.3,528.6 L336.1,533.0 L363.3,533.1 L390.5,532.0 L417.8,532.1 L444.7,536.5" stroke="#b9a6a0" stroke-width="7.7" fill="none"/><path d="M118.0,472.2 L138.5,459.6 L162.7,461.8 L186.6,474.3 L210.2,487.7 L233.8,501.5 L257.6,515.0 L282.8,525.5 L308.9,533.6 L335.7,538.2 L363.0,538.7 L390.3,537.8 L417.6,538.1 L444.6,542.3" stroke="#c2afa9" stroke-width="7.7" fill="none"/><path d="M118.0,472.2 L138.8,461.5 L162.8,464.9 L186.3,477.9 L209.8,491.7 L233.4,505.7 L257.1,519.5 L282.4,530.1 L308.4,538.5 L335.3,543.5 L362.6,544.3 L390.0,543.6 L417.4,544.0 L444.6,548.1" stroke="#c9b7b1" stroke-width="7.7" fill="none"/><path d="M118.0,472.3 L139.1,463.4 L162.8,468.0 L186.1,481.6 L209.4,495.8 L233.0,510.0 L256.7,523.9 L281.9,534.7 L307.9,543.4 L334.8,548.7 L362.2,549.9 L389.7,549.5 L417.2,550.0 L444.5,553.9" stroke="#d0beb8" stroke-width="7.7" fill="none"/><path d="M118.0,472.4 L139.4,465.2 L162.9,471.0 L185.8,485.3 L209.0,499.8 L232.5,514.2 L256.2,528.3 L281.4,539.3 L307.4,548.3 L334.3,554.0 L361.7,555.5 L389.3,555.3 L416.9,555.9 L444.2,559.7" stroke="#d4c3bd" stroke-width="7.7" fill="none"/><path d="M118.0,472.4 L139.7,467.1 L162.9,474.1 L185.5,488.9 L208.5,503.8 L232.0,518.4 L255.6,532.7 L280.9,543.9 L306.8,553.2 L333.7,559.2 L361.2,561.1 L388.8,561.1 L416.5,561.8 L443.9,565.4" stroke="#d5c4be" stroke-width="7.7" fill="none"/><path d="M118.0,472.5 L140.0,468.9 L162.9,477.2 L185.1,492.6 L208.0,507.8 L231.4,522.7 L255.0,537.1 L280.2,548.5 L306.1,558.1 L333.0,564.5 L360.5,566.6 L388.2,566.9 L415.9,567.7 L443.4,571.2" stroke="#d1c0ba" stroke-width="7.7" fill="none"/><path d="M118.0,472.5 L140.3,470.8 L162.9,480.3 L184.7,496.3 L207.4,511.9 L230.7,526.9 L254.3,541.5 L279.5,553.1 L305.3,563.0 L332.1,569.7 L359.6,572.2 L387.4,572.7 L415.1,573.6 L442.7,577.0" stroke="#ccbab4" stroke-width="7.7" fill="none"/><path d="M118.0,472.6 L140.6,472.7 L162.8,483.3 L184.3,499.9 L206.8,515.9 L230.0,531.1 L253.4,545.9 L278.6,557.6 L304.3,567.9 L331.1,574.9 L358.6,577.7 L386.4,578.5 L414.2,579.5 L441.8,582.7" stroke="#c5b3ad" stroke-width="7.7" fill="none"/><path d="M118.0,472.6 L140.8,474.5 L162.7,486.4 L183.8,503.5 L206.0,519.9 L229.1,535.3 L252.5,550.3 L277.7,562.2 L303.3,572.8 L329.9,580.1 L357.5,583.2 L385.3,584.2 L413.1,585.4 L440.7,588.4" stroke="#bdaaa4" stroke-width="7.7" fill="none"/><path d="M118.0,472.7 L141.1,476.4 L162.6,489.5 L183.2,507.2 L205.3,523.9 L228.3,539.5 L251.6,554.6 L276.6,566.7 L302.1,577.6 L328.7,585.3 L356.2,588.7 L384.0,589.9 L411.8,591.2 L439.5,594.0" stroke="#b39f99" stroke-width="7.7" fill="none"/><path d="M118.0,472.8 L141.3,478.2 L162.4,492.5 L182.7,510.8 L204.5,527.8 L227.4,543.7 L250.5,559.0 L275.5,571.2 L300.9,582.4 L327.4,590.4 L354.9,594.2 L382.7,595.6 L410.5,597.0 L438.2,599.7" stroke="#a8938d" stroke-width="7.7" fill="none"/><path d="M118.0,472.8 L141.5,480.0 L162.3,495.6 L182.1,514.5 L203.7,531.8 L226.4,547.8 L249.5,563.3 L274.4,575.7 L299.6,587.3 L326.1,595.5 L353.5,599.7 L381.3,601.3 L409.1,602.8 L436.8,605.3" stroke="#9c8680" stroke-width="7.7" fill="none"/><path d="M118.0,472.9 L141.7,481.9 L162.1,498.6 L181.6,518.1 L202.9,535.8 L225.5,552.0 L248.4,567.6 L273.2,580.2 L298.4,592.1 L324.7,600.7 L352.1,605.1 L379.8,607.0 L407.6,608.5 L435.4,610.9" stroke="#907872" stroke-width="7.7" fill="none"/><path d="M118.0,472.9 L142.0,483.7 L162.0,501.7 L181.0,521.7 L202.1,539.8 L224.5,556.2 L247.4,572.0 L272.1,584.7 L297.1,596.9 L323.3,605.8 L350.7,610.6 L378.5,612.6 L406.2,614.3 L434.0,616.5" stroke="#866e68" stroke-width="7.7" fill="none"/><path d="M118.0,473.0 L142.2,485.6 L161.9,504.7 L180.4,525.3 L201.3,543.7 L223.6,560.3 L246.4,576.3 L271.0,589.3 L295.9,601.7 L322.0,611.0 L349.4,616.1 L377.1,618.3 L404.9,620.1 L432.6,622.2" stroke="#866e68" stroke-width="7.7" fill="none"/></g><g filter="url(#bl15)"><path d="M156.7,449.9 L179.7,458.8 L202.0,469.6 L223.9,481.2 L245.4,493.6 L267.6,504.4 L291.0,512.7 L315.1,518.5 L339.7,521.3 L364.4,520.5 L389.2,519.0 L413.9,518.4" stroke="#75605a" stroke-width="4.09" stroke-opacity="0.31" fill="none"/><path d="M138.3,454.8 L162.8,454.5 L187.0,465.4 L210.5,477.8 L233.8,490.7 L257.0,503.8 L281.6,513.9 L307.2,521.2 L333.5,525.4 L360.1,525.6 L386.7,524.1 L413.3,523.6" stroke="#75605a" stroke-width="4.83" stroke-opacity="0.25" fill="none"/><path d="M121.7,469.1 L141.2,454.8 L165.4,458.2 L188.8,469.5 L211.7,481.9 L234.4,494.9 L257.2,507.7 L281.4,517.7 L306.5,525.2 L332.2,529.7 L358.3,530.3 L384.4,529.0" stroke="#75605a" stroke-width="3.24" stroke-opacity="0.16" fill="none"/><path d="M158.8,457.8 L181.9,468.8 L204.5,481.1 L227.0,493.9 L249.3,507.2 L272.8,518.1 L297.3,526.5 L322.5,532.4 L348.2,534.7 L374.1,533.8 L400.0,532.9 L425.9,534.5" stroke="#eadfda" stroke-width="3.53" stroke-opacity="0.24" fill="none"/><path d="M121.3,469.9 L143.7,456.7 L170.5,464.4 L196.2,478.2 L221.7,492.6 L247.0,507.8 L273.6,520.3 L301.5,529.8 L330.2,535.7 L359.6,536.8 L389.0,535.7 L418.4,536.0" stroke="#75605a" stroke-width="3.15" stroke-opacity="0.13" fill="none"/><path d="M128.3,466.0 L149.5,458.8 L172.7,468.8 L195.2,481.5 L217.8,494.6 L240.2,508.1 L263.2,520.4 L287.5,530.1 L312.5,537.5 L338.3,541.7 L364.3,542.0 L390.5,541.3" stroke="#eadfda" stroke-width="4.94" stroke-opacity="0.19" fill="none"/><path d="M119.0,471.7 L141.3,461.3 L166.9,468.1 L191.7,482.4 L216.7,497.2 L241.5,512.3 L267.4,525.7 L294.6,536.0 L322.6,543.4 L351.5,546.2 L380.6,545.8 L409.7,545.5" stroke="#75605a" stroke-width="4.34" stroke-opacity="0.27" fill="none"/><path d="M120.9,471.1 L141.2,463.6 L163.7,469.7 L185.7,482.9 L207.8,496.5 L230.2,510.0 L252.5,523.6 L276.3,534.4 L300.9,543.3 L326.1,549.6 L352.1,552.1 L378.2,551.9" stroke="#eadfda" stroke-width="2.70" stroke-opacity="0.16" fill="none"/><path d="M155.9,468.0 L177.8,481.0 L199.8,495.0 L222.1,508.7 L244.3,522.7 L267.7,534.6 L292.1,544.4 L317.1,552.1 L343.0,556.1 L369.2,556.7 L395.5,556.5 L421.7,557.7" stroke="#eadfda" stroke-width="2.03" stroke-opacity="0.26" fill="none"/><path d="M124.7,470.6 L149.1,467.6 L174.3,481.8 L199.2,498.3 L224.9,514.3 L250.5,530.5 L278.0,543.2 L306.4,553.6 L335.9,560.1 L366.1,561.7 L396.4,561.7 L426.7,563.6" stroke="#75605a" stroke-width="4.13" stroke-opacity="0.15" fill="none"/><path d="M159.8,475.5 L178.5,488.4 L197.6,501.4 L217.1,514.0 L236.8,526.7 L256.9,538.5 L278.2,548.1 L300.0,556.5 L322.2,563.1 L345.3,566.4 L368.6,567.3 L392.0,567.5" stroke="#eadfda" stroke-width="4.90" stroke-opacity="0.22" fill="none"/><path d="M175.0,487.7 L191.8,499.6 L209.0,511.2 L226.6,522.3 L244.0,533.8 L262.5,543.6 L281.5,552.0 L301.0,559.5 L320.8,565.5 L341.4,568.8 L362.1,570.1 L383.0,570.4" stroke="#eadfda" stroke-width="2.39" stroke-opacity="0.17" fill="none"/><path d="M169.5,484.9 L188.0,498.5 L207.2,511.7 L226.9,524.3 L246.5,537.1 L267.4,547.7 L288.9,556.9 L310.8,564.8 L333.6,569.9 L356.9,572.0 L380.3,572.6 L403.7,572.9" stroke="#eadfda" stroke-width="3.11" stroke-opacity="0.24" fill="none"/><path d="M160.3,481.6 L179.8,496.6 L200.1,511.4 L221.2,525.3 L242.2,539.5 L264.6,551.4 L287.8,561.6 L311.4,570.4 L336.1,575.8 L361.2,577.9 L386.6,578.6 L411.9,579.4" stroke="#75605a" stroke-width="4.54" stroke-opacity="0.32" fill="none"/><path d="M128.3,473.1 L151.7,478.5 L173.8,495.6 L196.4,513.2 L220.2,529.5 L244.2,545.7 L270.0,558.9 L296.5,570.3 L323.9,579.1 L352.5,583.1 L381.4,584.4 L410.4,585.4" stroke="#75605a" stroke-width="3.07" stroke-opacity="0.25" fill="none"/><path d="M165.7,490.1 L184.7,505.9 L204.8,520.8 L225.8,534.9 L246.7,549.0 L269.3,560.3 L292.3,570.6 L315.9,579.2 L340.7,583.9 L365.8,586.0 L391.0,586.6 L416.3,588.0" stroke="#eadfda" stroke-width="4.45" stroke-opacity="0.14" fill="none"/><path d="M143.4,477.1 L164.2,491.0 L184.4,508.3 L206.0,524.5 L228.5,539.7 L251.2,554.5 L275.6,566.4 L300.5,577.1 L326.3,584.9 L353.2,588.6 L380.3,590.0 L407.4,591.0" stroke="#eadfda" stroke-width="3.18" stroke-opacity="0.30" fill="none"/><path d="M170.3,501.4 L186.1,515.7 L203.0,529.0 L220.7,541.3 L238.2,553.9 L256.9,564.6 L276.3,574.1 L295.9,583.0 L316.1,590.5 L337.2,594.8 L358.6,597.3 L380.1,598.4" stroke="#eadfda" stroke-width="3.10" stroke-opacity="0.22" fill="none"/><path d="M162.9,494.9 L181.5,512.3 L201.6,528.5 L222.8,543.4 L244.0,558.2 L267.0,570.2 L290.4,581.2 L314.4,590.6 L339.8,595.8 L365.5,598.4 L391.4,599.4 L417.3,601.2" stroke="#75605a" stroke-width="4.03" stroke-opacity="0.18" fill="none"/><path d="M145.4,483.2 L166.1,501.4 L186.5,520.9 L209.0,538.6 L232.2,555.3 L256.6,570.1 L282.3,582.8 L308.5,594.3 L336.2,600.9 L364.6,604.2 L393.3,605.5 L421.8,607.6" stroke="#eadfda" stroke-width="3.26" stroke-opacity="0.17" fill="none"/><path d="M163.0,500.6 L178.7,516.8 L195.8,531.8 L214.0,545.5 L232.4,558.9 L251.7,571.1 L272.0,581.4 L292.6,591.3 L313.7,599.8 L335.9,604.8 L358.5,607.8 L381.3,609.0" stroke="#eadfda" stroke-width="2.07" stroke-opacity="0.30" fill="none"/><path d="M124.4,475.6 L147.2,487.6 L166.1,506.6 L185.0,526.0 L206.0,543.4 L228.0,559.5 L250.7,574.5 L275.0,586.9 L299.5,598.8 L325.4,607.0 L352.3,611.6 L379.5,613.5" stroke="#75605a" stroke-width="2.77" stroke-opacity="0.25" fill="none"/><path d="M149.8,492.6 L167.8,512.9 L186.3,532.7 L207.1,550.2 L228.9,566.5 L251.7,581.2 L275.7,593.9 L300.1,606.0 L325.9,614.1 L352.7,618.8 L379.8,620.9 L406.9,622.7" stroke="#eadfda" stroke-width="2.08" stroke-opacity="0.33" fill="none"/></g><g filter="url(#bl06)"><path d="M123.3,466.6 L145.4,448.9 L172.9,455.7 L199.0,467.9 L224.5,481.4 L249.5,495.7 L275.8,507.5 L303.4,515.8 L331.8,520.5 L360.6,520.6 L389.3,518.7 L418.1,518.5" stroke="#e8dbd6" stroke-width="1.07" stroke-opacity="0.33" fill="none"/><path d="M134.0,456.6 L160.7,451.7 L187.9,463.3 L214.3,476.9 L240.1,491.4 L266.5,504.8 L294.5,514.7 L323.4,520.7 L353.0,522.3 L382.6,520.4 L412.2,519.5 L441.5,523.9" stroke="#6a5450" stroke-width="0.99" stroke-opacity="0.21" fill="none"/><path d="M125.9,464.2 L148.5,449.4 L175.2,457.8 L200.5,470.0 L225.4,483.3 L249.9,497.3 L275.6,508.9 L302.5,517.2 L330.3,522.0 L358.4,522.4 L386.6,520.7 L414.8,520.1" stroke="#6a5450" stroke-width="0.80" stroke-opacity="0.50" fill="none"/><path d="M126.1,464.4 L149.8,450.6 L177.1,460.1 L203.3,473.2 L229.0,487.2 L254.4,501.7 L281.4,513.0 L309.6,520.9 L338.6,525.0 L367.8,524.2 L397.1,522.7 L426.3,524.1" stroke="#6a5450" stroke-width="0.83" stroke-opacity="0.37" fill="none"/><path d="M122.4,468.1 L145.1,451.5 L173.1,459.2 L199.6,472.3 L225.8,486.5 L251.5,501.4 L278.8,513.3 L307.2,521.7 L336.6,526.2 L366.3,525.7 L396.0,524.3 L425.6,525.5" stroke="#6a5450" stroke-width="0.91" stroke-opacity="0.44" fill="none"/><path d="M132.3,459.5 L157.3,453.3 L183.2,464.4 L208.4,477.6 L233.3,491.5 L258.1,505.4 L284.6,516.0 L312.0,523.5 L340.2,527.2 L368.7,526.4 L397.2,525.0 L425.6,526.3" stroke="#e8dbd6" stroke-width="1.11" stroke-opacity="0.54" fill="none"/><path d="M130.4,461.5 L155.3,453.7 L181.8,465.0 L207.5,478.5 L232.9,492.8 L258.3,507.0 L285.3,517.8 L313.3,525.4 L342.2,529.1 L371.2,528.1 L400.3,526.9 L429.3,529.0" stroke="#e8dbd6" stroke-width="0.73" stroke-opacity="0.29" fill="none"/><path d="M129.1,463.0 L154.4,454.4 L181.4,466.1 L207.7,480.1 L233.8,494.9 L259.9,509.4 L287.8,520.3 L316.6,527.9 L346.3,531.1 L376.2,529.9 L406.1,528.9 L435.8,532.3" stroke="#6a5450" stroke-width="0.40" stroke-opacity="0.32" fill="none"/><path d="M144.3,454.2 L170.0,461.1 L194.7,473.6 L219.0,487.0 L243.0,501.2 L267.9,513.6 L294.0,523.1 L321.1,529.5 L348.7,531.9 L376.5,530.8 L404.4,529.8 L432.0,532.5" stroke="#e8dbd6" stroke-width="1.27" stroke-opacity="0.20" fill="none"/><path d="M133.8,460.2 L156.9,456.2 L180.5,467.0 L203.7,479.5 L226.7,492.4 L249.4,505.9 L273.4,516.9 L298.3,525.4 L324.0,531.1 L350.3,533.1 L376.7,532.0 L403.1,531.2" stroke="#e8dbd6" stroke-width="0.62" stroke-opacity="0.29" fill="none"/><path d="M122.5,468.8 L144.0,455.4 L169.9,462.5 L194.6,475.4 L219.2,489.2 L243.4,503.5 L268.6,516.1 L295.1,525.7 L322.4,532.1 L350.5,534.4 L378.6,533.4 L406.8,532.6" stroke="#6a5450" stroke-width="1.06" stroke-opacity="0.29" fill="none"/><path d="M148.2,455.9 L173.4,465.4 L197.7,478.5 L221.9,492.2 L245.8,506.5 L270.8,518.6 L297.0,527.9 L324.1,534.1 L351.7,536.2 L379.5,535.2 L407.4,534.6 L435.0,537.7" stroke="#6a5450" stroke-width="0.66" stroke-opacity="0.45" fill="none"/><path d="M132.5,462.5 L155.5,458.3 L179.3,469.7 L202.6,482.6 L225.9,496.0 L249.0,509.8 L273.4,521.1 L298.7,529.9 L324.8,536.0 L351.6,538.0 L378.4,537.2 L405.3,536.5" stroke="#e8dbd6" stroke-width="0.79" stroke-opacity="0.52" fill="none"/><path d="M119.7,471.1 L143.7,457.5 L172.1,466.4 L199.4,481.5 L226.7,497.2 L253.8,513.2 L282.8,525.5 L312.9,534.5 L344.1,538.8 L375.5,538.2 L407.0,537.5 L438.3,541.2" stroke="#6a5450" stroke-width="0.71" stroke-opacity="0.21" fill="none"/><path d="M128.2,465.7 L150.8,458.3 L175.2,469.2 L199.0,482.6 L222.9,496.3 L246.4,510.6 L271.3,522.5 L297.2,531.9 L323.9,538.3 L351.3,540.6 L378.8,539.9 L406.3,539.4" stroke="#e8dbd6" stroke-width="0.57" stroke-opacity="0.34" fill="none"/><path d="M148.2,458.6 L171.9,468.3 L194.9,481.2 L217.9,494.5 L240.7,508.3 L264.3,520.8 L289.1,530.5 L314.6,537.8 L340.9,541.7 L367.5,541.7 L394.2,541.0 L420.8,541.8" stroke="#e8dbd6" stroke-width="0.87" stroke-opacity="0.29" fill="none"/><path d="M118.2,472.1 L142.9,459.4 L171.5,468.5 L199.3,484.3 L227.1,500.5 L254.8,517.0 L284.6,529.6 L315.4,538.7 L347.3,542.7 L379.5,542.2 L411.8,541.9 L443.8,546.3" stroke="#6a5450" stroke-width="1.09" stroke-opacity="0.28" fill="none"/><path d="M119.3,471.5 L141.5,460.5 L167.1,467.2 L191.9,481.3 L216.9,496.0 L241.7,511.0 L267.5,524.3 L294.6,534.6 L322.6,541.8 L351.4,544.6 L380.4,544.0 L409.4,543.7" stroke="#6a5450" stroke-width="1.05" stroke-opacity="0.35" fill="none"/><path d="M145.0,460.2 L169.8,469.3 L193.7,483.2 L217.7,497.3 L241.6,511.9 L266.5,524.8 L292.6,534.9 L319.5,542.3 L347.2,545.6 L375.1,545.3 L403.2,544.8 L431.1,547.3" stroke="#e8dbd6" stroke-width="0.50" stroke-opacity="0.52" fill="none"/><path d="M120.1,471.2 L143.2,461.1 L169.5,469.9 L195.0,484.8 L220.8,500.1 L246.3,515.8 L273.4,528.8 L301.6,538.8 L330.7,545.3 L360.6,546.9 L390.6,546.3 L420.6,547.1" stroke="#e8dbd6" stroke-width="0.78" stroke-opacity="0.47" fill="none"/><path d="M131.6,465.6 L154.4,463.1 L177.7,475.5 L200.8,489.3 L224.2,503.2 L247.3,517.5 L271.8,529.3 L297.3,538.7 L323.5,545.5 L350.4,548.2 L377.6,547.9 L404.8,547.6" stroke="#6a5450" stroke-width="1.18" stroke-opacity="0.21" fill="none"/><path d="M136.4,464.5 L161.8,467.9 L186.9,482.7 L212.1,498.0 L237.5,513.5 L263.6,527.8 L291.2,538.9 L319.6,547.1 L349.0,550.6 L378.7,550.5 L408.5,550.3 L438.1,553.8" stroke="#6a5450" stroke-width="0.51" stroke-opacity="0.54" fill="none"/><path d="M120.6,471.2 L144.2,462.5 L170.5,472.8 L196.1,488.4 L222.0,504.0 L247.8,520.0 L275.3,532.9 L303.9,543.0 L333.4,549.4 L363.6,550.8 L394.0,550.3 L424.3,551.8" stroke="#6a5450" stroke-width="0.93" stroke-opacity="0.48" fill="none"/><path d="M142.1,463.4 L166.7,471.5 L190.6,486.1 L214.7,500.8 L238.9,515.8 L263.9,529.3 L290.3,540.0 L317.4,548.1 L345.5,552.0 L373.9,552.2 L402.4,551.9 L430.7,554.3" stroke="#6a5450" stroke-width="0.96" stroke-opacity="0.44" fill="none"/><path d="M149.2,464.1 L173.0,476.1 L196.3,490.7 L220.0,505.1 L243.6,519.9 L268.4,532.5 L294.3,542.7 L321.0,550.3 L348.6,553.6 L376.3,553.7 L404.2,553.5 L432.0,556.1" stroke="#e8dbd6" stroke-width="0.78" stroke-opacity="0.47" fill="none"/><path d="M133.6,466.7 L157.4,468.1 L181.0,482.3 L204.8,497.3 L229.0,512.1 L253.2,526.9 L279.1,538.5 L305.8,547.9 L333.4,553.9 L361.7,555.5 L390.1,555.3 L418.5,556.1" stroke="#e8dbd6" stroke-width="0.51" stroke-opacity="0.34" fill="none"/><path d="M140.8,465.7 L165.5,473.7 L189.6,489.1 L214.1,504.5 L238.8,520.0 L264.4,533.9 L291.3,544.9 L319.1,553.3 L347.8,557.2 L376.9,557.5 L406.1,557.5 L435.1,560.5" stroke="#6a5450" stroke-width="1.15" stroke-opacity="0.44" fill="none"/><path d="M119.4,471.9 L141.8,465.8 L166.1,474.5 L189.6,489.6 L213.7,504.8 L237.9,520.0 L263.0,533.8 L289.4,544.7 L316.5,553.3 L344.7,557.7 L373.2,558.2 L401.8,558.1" stroke="#6a5450" stroke-width="0.65" stroke-opacity="0.46" fill="none"/><path d="M139.3,466.9 L163.5,474.0 L187.0,489.4 L211.1,504.8 L235.5,520.1 L260.5,534.3 L286.9,545.6 L314.1,554.6 L342.4,559.4 L371.1,560.3 L399.9,560.2 L428.6,562.4" stroke="#6a5450" stroke-width="0.74" stroke-opacity="0.33" fill="none"/><path d="M143.0,466.8 L165.3,475.7 L186.8,490.0 L208.9,504.2 L231.3,518.2 L253.7,532.0 L277.8,542.9 L302.5,552.0 L328.0,558.6 L354.2,561.1 L380.5,561.4 L407.0,561.5" stroke="#e8dbd6" stroke-width="0.47" stroke-opacity="0.28" fill="none"/><path d="M130.0,469.4 L155.7,471.1 L181.1,487.6 L207.0,504.7 L233.4,521.3 L260.5,537.0 L289.2,549.2 L318.8,558.7 L349.7,562.9 L380.9,563.5 L412.2,563.9 L443.3,567.7" stroke="#6a5450" stroke-width="0.79" stroke-opacity="0.22" fill="none"/><path d="M135.3,468.8 L158.0,473.1 L180.1,487.8 L202.6,502.9 L225.8,517.5 L248.8,532.2 L273.6,544.1 L299.0,554.0 L325.3,561.4 L352.4,564.5 L379.8,565.0 L407.2,565.2" stroke="#6a5450" stroke-width="1.14" stroke-opacity="0.51" fill="none"/><path d="M145.8,468.6 L168.7,480.5 L191.0,495.9 L214.0,510.9 L237.2,525.8 L261.2,539.3 L286.6,550.3 L312.6,559.3 L339.6,564.4 L367.1,565.8 L394.7,565.9 L422.3,567.4" stroke="#6a5450" stroke-width="0.60" stroke-opacity="0.42" fill="none"/><path d="M147.7,469.4 L171.3,482.9 L194.5,498.9 L218.4,514.4 L242.5,530.0 L267.9,543.2 L294.4,554.1 L321.6,562.5 L349.9,566.2 L378.5,566.9 L407.2,567.2 L435.8,570.2" stroke="#6a5450" stroke-width="1.16" stroke-opacity="0.49" fill="none"/><path d="M132.6,470.2 L157.9,475.3 L182.4,492.5 L207.7,509.7 L233.6,526.3 L260.2,541.8 L288.4,554.1 L317.5,563.9 L347.8,568.6 L378.6,569.5 L409.4,570.1 L440.1,573.5" stroke="#6a5450" stroke-width="0.67" stroke-opacity="0.50" fill="none"/><path d="M133.2,470.4 L156.9,475.1 L179.8,491.2 L203.4,507.5 L227.7,523.0 L252.1,538.5 L278.3,550.7 L305.2,561.0 L333.2,567.8 L361.9,570.1 L390.8,570.4 L419.8,571.7" stroke="#6a5450" stroke-width="1.10" stroke-opacity="0.40" fill="none"/><path d="M136.4,470.4 L161.2,478.5 L185.2,495.8 L210.1,512.7 L235.5,529.2 L261.8,544.2 L289.6,556.3 L318.2,565.9 L348.1,570.4 L378.3,571.5 L408.7,572.0 L438.8,575.3" stroke="#6a5450" stroke-width="0.56" stroke-opacity="0.32" fill="none"/><path d="M129.9,471.3 L152.6,474.2 L174.7,489.5 L197.1,505.6 L220.4,520.9 L243.6,536.3 L268.5,549.0 L294.2,559.9 L320.6,568.4 L348.2,572.5 L376.0,573.5 L404.0,574.0" stroke="#6a5450" stroke-width="0.70" stroke-opacity="0.35" fill="none"/><path d="M135.9,471.5 L158.8,478.8 L180.9,495.3 L203.8,511.5 L227.5,526.9 L251.2,542.1 L276.9,554.2 L303.1,564.6 L330.3,571.9 L358.3,574.7 L386.6,575.4 L414.9,576.4" stroke="#e8dbd6" stroke-width="0.91" stroke-opacity="0.40" fill="none"/><path d="M130.3,471.9 L153.3,476.2 L175.4,492.2 L197.9,508.7 L221.4,524.3 L244.9,539.9 L270.2,552.7 L296.2,563.6 L323.0,572.1 L351.0,575.9 L379.2,577.0 L407.5,577.6" stroke="#e8dbd6" stroke-width="0.66" stroke-opacity="0.28" fill="none"/><path d="M121.4,472.5 L146.7,473.8 L171.4,490.1 L196.1,508.6 L222.1,525.9 L248.2,543.2 L276.4,556.8 L305.4,568.4 L335.7,575.8 L366.8,578.2 L398.2,578.8 L429.4,581.3" stroke="#e8dbd6" stroke-width="1.04" stroke-opacity="0.43" fill="none"/><path d="M131.8,472.2 L154.8,477.9 L176.8,494.5 L199.5,511.2 L223.1,526.9 L246.8,542.6 L272.3,555.2 L298.5,566.1 L325.6,574.3 L353.8,577.9 L382.2,578.8 L410.7,579.7" stroke="#e8dbd6" stroke-width="0.51" stroke-opacity="0.49" fill="none"/><path d="M120.8,472.6 L146.6,474.4 L171.5,491.1 L196.5,510.0 L222.8,527.7 L249.3,545.1 L278.0,558.9 L307.4,570.6 L338.3,577.6 L369.9,579.9 L401.7,580.5 L433.4,583.4" stroke="#6a5450" stroke-width="0.71" stroke-opacity="0.35" fill="none"/><path d="M149.4,476.5 L172.0,492.9 L194.7,510.5 L218.8,526.9 L242.9,543.2 L268.8,556.6 L295.6,568.2 L323.2,577.1 L352.0,581.2 L381.1,582.4 L410.3,583.4 L439.3,586.5" stroke="#e8dbd6" stroke-width="0.76" stroke-opacity="0.42" fill="none"/><path d="M133.5,473.2 L156.7,481.4 L178.6,498.9 L201.5,516.0 L225.5,532.1 L249.6,548.0 L275.7,560.5 L302.3,571.6 L330.0,579.3 L358.6,582.5 L387.5,583.4 L416.4,584.8" stroke="#e8dbd6" stroke-width="0.70" stroke-opacity="0.21" fill="none"/><path d="M118.4,472.7 L144.8,476.1 L169.6,493.1 L194.4,512.8 L220.8,531.1 L247.5,549.0 L276.4,563.2 L306.0,575.4 L337.2,582.9 L369.2,585.5 L401.4,586.4 L433.5,589.3" stroke="#6a5450" stroke-width="0.61" stroke-opacity="0.40" fill="none"/><path d="M153.0,480.3 L173.2,496.5 L193.8,512.9 L215.6,528.1 L237.6,543.2 L260.8,556.4 L285.1,567.6 L309.8,577.4 L335.8,583.3 L362.3,585.9 L389.0,586.7 L415.7,588.1" stroke="#e8dbd6" stroke-width="0.56" stroke-opacity="0.36" fill="none"/><path d="M143.6,476.7 L164.6,490.5 L185.0,507.7 L206.8,523.9 L229.3,539.2 L252.2,553.9 L276.8,565.7 L301.8,576.4 L327.9,583.9 L354.8,587.4 L382.0,588.6 L409.3,589.7" stroke="#6a5450" stroke-width="1.24" stroke-opacity="0.34" fill="none"/><path d="M151.9,481.0 L171.3,496.9 L191.0,513.2 L212.0,528.4 L233.4,543.1 L255.6,556.6 L279.1,567.8 L302.9,577.9 L327.8,585.0 L353.5,588.4 L379.4,589.7 L405.4,590.6" stroke="#e8dbd6" stroke-width="1.12" stroke-opacity="0.47" fill="none"/><path d="M132.5,474.7 L155.1,483.9 L176.0,501.8 L197.9,519.3 L221.1,535.4 L244.4,551.4 L269.6,564.3 L295.4,575.8 L322.1,584.8 L350.0,589.2 L378.2,590.8 L406.6,591.8" stroke="#e8dbd6" stroke-width="0.72" stroke-opacity="0.38" fill="none"/><path d="M127.5,474.1 L150.2,481.0 L171.0,498.1 L192.2,515.8 L214.8,532.1 L237.7,548.0 L262.1,561.7 L287.4,573.5 L313.3,583.6 L340.6,589.2 L368.4,591.6 L396.3,592.5" stroke="#e8dbd6" stroke-width="1.13" stroke-opacity="0.19" fill="none"/><path d="M136.7,476.3 L159.8,489.2 L181.4,508.5 L204.7,526.6 L229.0,543.4 L254.0,559.2 L280.6,572.1 L307.8,583.5 L336.5,590.3 L365.9,593.2 L395.5,594.3 L425.1,596.5" stroke="#6a5450" stroke-width="1.26" stroke-opacity="0.30" fill="none"/><path d="M150.8,482.7 L170.0,499.1 L189.4,515.9 L210.3,531.5 L231.7,546.4 L253.8,560.2 L277.3,571.6 L301.2,582.1 L326.0,589.6 L351.8,593.4 L377.8,594.9 L403.9,596.0" stroke="#6a5450" stroke-width="0.45" stroke-opacity="0.20" fill="none"/><path d="M142.9,479.4 L164.1,495.1 L184.8,513.8 L207.1,531.1 L230.3,547.3 L254.2,562.4 L279.7,574.8 L305.6,586.0 L332.9,593.1 L361.0,596.4 L389.3,597.6 L417.6,599.4" stroke="#e8dbd6" stroke-width="0.65" stroke-opacity="0.33" fill="none"/><path d="M140.4,478.7 L162.2,493.9 L183.0,513.1 L205.5,530.8 L229.1,547.4 L253.4,562.9 L279.3,575.5 L305.6,587.0 L333.4,594.2 L362.0,597.5 L390.8,598.7 L419.6,600.7" stroke="#e8dbd6" stroke-width="0.60" stroke-opacity="0.43" fill="none"/><path d="M124.8,474.6 L148.8,483.7 L169.8,502.4 L191.2,521.6 L214.5,538.9 L238.2,555.8 L263.7,569.9 L289.9,582.4 L316.9,592.8 L345.5,598.1 L374.5,600.4 L403.6,601.7" stroke="#6a5450" stroke-width="0.61" stroke-opacity="0.24" fill="none"/><path d="M123.5,474.3 L149.7,484.9 L172.5,505.8 L196.2,526.6 L222.0,545.2 L248.2,563.2 L276.6,577.4 L305.6,590.4 L336.4,598.1 L367.9,601.4 L399.8,602.8 L431.5,605.5" stroke="#e8dbd6" stroke-width="1.13" stroke-opacity="0.33" fill="none"/><path d="M128.4,475.7 L152.4,487.0 L173.5,507.0 L195.7,526.4 L219.7,543.8 L244.0,561.0 L270.4,574.6 L297.3,587.1 L325.4,596.3 L354.8,600.7 L384.4,602.3 L414.1,604.1" stroke="#e8dbd6" stroke-width="0.53" stroke-opacity="0.50" fill="none"/><path d="M128.2,476.0 L152.9,488.5 L174.3,509.4 L197.1,529.4 L221.8,547.3 L246.8,564.8 L274.0,578.6 L301.7,591.4 L331.0,599.7 L361.2,603.7 L391.7,605.1 L422.2,607.4" stroke="#e8dbd6" stroke-width="0.42" stroke-opacity="0.41" fill="none"/><path d="M142.4,481.8 L162.2,497.8 L181.1,516.6 L201.7,533.7 L223.7,549.4 L245.7,564.8 L269.7,577.2 L294.0,588.7 L319.2,598.0 L345.7,602.9 L372.5,605.2 L399.5,606.5" stroke="#e8dbd6" stroke-width="0.66" stroke-opacity="0.32" fill="none"/><path d="M119.8,473.5 L146.0,484.4 L168.2,504.9 L190.6,526.1 L215.3,545.0 L240.6,563.2 L268.0,577.9 L296.1,591.3 L325.5,601.1 L356.2,605.9 L387.3,607.6 L418.5,609.7" stroke="#e8dbd6" stroke-width="0.50" stroke-opacity="0.49" fill="none"/><path d="M136.3,479.8 L159.5,497.1 L180.7,518.8 L204.1,538.4 L228.9,556.4 L254.8,572.7 L282.2,586.5 L310.2,598.8 L340.0,605.5 L370.5,608.6 L401.1,610.2 L431.7,612.7" stroke="#6a5450" stroke-width="0.74" stroke-opacity="0.51" fill="none"/><path d="M127.1,476.3 L150.7,489.3 L170.7,509.6 L191.6,529.4 L214.5,547.0 L237.8,564.2 L263.2,578.2 L289.1,591.0 L315.9,601.8 L344.2,607.5 L373.0,610.2 L402.0,611.7" stroke="#6a5450" stroke-width="0.72" stroke-opacity="0.48" fill="none"/><path d="M123.4,475.1 L150.0,489.1 L172.1,511.8 L195.5,533.5 L221.3,552.7 L247.6,571.0 L276.2,585.7 L305.3,599.3 L336.3,607.2 L368.2,610.9 L400.3,612.6 L432.4,615.2" stroke="#6a5450" stroke-width="0.65" stroke-opacity="0.25" fill="none"/><path d="M146.5,486.7 L166.5,506.4 L186.6,526.7 L208.9,544.7 L232.0,561.7 L256.5,576.6 L282.1,589.6 L308.3,601.4 L336.1,608.2 L364.6,611.7 L393.3,613.2 L421.9,615.4" stroke="#6a5450" stroke-width="1.20" stroke-opacity="0.48" fill="none"/><path d="M152.0,492.0 L170.0,511.3 L188.9,530.0 L209.7,546.7 L231.1,562.6 L253.7,576.7 L277.5,588.9 L301.5,600.4 L327.0,608.1 L353.3,612.4 L380.0,614.3 L406.6,616.0" stroke="#6a5450" stroke-width="1.22" stroke-opacity="0.31" fill="none"/><path d="M150.6,491.4 L169.6,511.9 L189.4,531.8 L211.4,549.3 L234.0,566.2 L258.3,580.5 L283.4,593.3 L309.0,604.9 L336.4,611.6 L364.3,615.1 L392.5,616.7 L420.6,618.8" stroke="#e8dbd6" stroke-width="0.43" stroke-opacity="0.39" fill="none"/><path d="M152.1,493.5 L171.5,515.0 L192.2,535.3 L215.2,553.2 L238.5,570.6 L264.0,584.6 L289.9,597.8 L316.9,608.6 L345.4,614.4 L374.3,617.1 L403.4,618.9 L432.4,621.1" stroke="#e8dbd6" stroke-width="1.04" stroke-opacity="0.41" fill="none"/><path d="M142.5,486.2 L161.5,504.9 L179.3,525.0 L199.2,543.0 L220.7,559.1 L242.4,575.0 L266.1,587.7 L290.0,599.9 L314.8,610.2 L341.1,615.9 L367.8,619.0 L394.6,620.6" stroke="#6a5450" stroke-width="1.18" stroke-opacity="0.41" fill="none"/><path d="M138.3,483.6 L160.1,503.7 L179.8,526.2 L202.2,546.0 L226.1,564.0 L251.0,580.5 L277.5,594.4 L304.5,607.5 L333.3,615.3 L362.9,619.5 L392.8,621.3 L422.7,623.4" stroke="#e8dbd6" stroke-width="0.87" stroke-opacity="0.35" fill="none"/></g><g filter="url(#bl15)"><g fill="none" stroke-linecap="round"><path d="M355.9,565.1 L365.6,565.4 L375.4,565.4 L385.2,565.5 L394.9,565.5 L404.7,565.6 L414.5,566.2 L424.2,567.2 L433.9,568.5 L443.6,569.8" stroke="url(#g11)" stroke-width="2.9" stroke-opacity="0.48"/><path d="M333.8,565.5 L345.9,566.8 L358.0,567.5 L370.2,567.8 L382.4,567.9 L394.6,567.9 L406.9,568.2 L419.1,569.1 L431.2,570.6 L443.3,572.2" stroke="url(#g10)" stroke-width="1.9" stroke-opacity="0.27"/><path d="M380.6,569.2 L387.5,569.2 L394.5,569.2 L401.5,569.3 L408.5,569.6 L415.5,570.1 L422.4,570.8 L429.3,571.7 L436.3,572.6 L443.2,573.5" stroke="url(#g11)" stroke-width="3.0" stroke-opacity="0.57"/><path d="M376.4,572.0 L383.8,572.1 L391.2,572.1 L398.6,572.2 L406.0,572.5 L413.4,572.9 L420.8,573.6 L428.1,574.5 L435.5,575.5 L442.8,576.4" stroke="url(#g11)" stroke-width="2.2" stroke-opacity="0.36"/><path d="M337.1,571.0 L348.8,572.1 L360.5,572.8 L372.2,573.1 L384.0,573.2 L395.8,573.3 L407.5,573.7 L419.3,574.6 L431.0,576.0 L442.7,577.5" stroke="url(#g10)" stroke-width="3.0" stroke-opacity="0.29"/><path d="M367.5,574.6 L375.9,574.7 L384.2,574.9 L392.5,574.9 L400.9,575.1 L409.2,575.5 L417.6,576.1 L425.9,577.1 L434.1,578.1 L442.4,579.1" stroke="url(#g11)" stroke-width="2.1" stroke-opacity="0.32"/><path d="M331.2,574.0 L343.4,575.6 L355.7,576.6 L368.0,577.1 L380.3,577.4 L392.7,577.5 L405.1,577.9 L417.4,578.8 L429.7,580.2 L442.0,581.7" stroke="url(#g10)" stroke-width="3.8" stroke-opacity="0.56"/><path d="M351.1,578.4 L361.1,579.0 L371.2,579.3 L381.3,579.6 L391.4,579.7 L401.4,580.0 L411.5,580.5 L421.6,581.5 L431.6,582.6 L441.6,583.8" stroke="url(#g11)" stroke-width="2.7" stroke-opacity="0.38"/><path d="M378.1,579.8 L385.2,579.9 L392.3,580.0 L399.3,580.2 L406.4,580.5 L413.5,581.0 L420.5,581.7 L427.5,582.5 L434.5,583.3 L441.6,584.2" stroke="url(#g11)" stroke-width="2.0" stroke-opacity="0.29"/><path d="M347.9,581.8 L358.2,582.6 L368.5,583.1 L378.9,583.4 L389.3,583.6 L399.6,583.8 L410.0,584.4 L420.3,585.3 L430.6,586.5 L440.9,587.7" stroke="url(#g11)" stroke-width="3.0" stroke-opacity="0.71"/><path d="M328.7,580.6 L341.0,582.5 L353.4,583.7 L365.8,584.5 L378.3,584.9 L390.8,585.1 L403.3,585.6 L415.7,586.4 L428.2,587.8 L440.6,589.2" stroke="url(#g10)" stroke-width="2.2" stroke-opacity="0.58"/><path d="M324.9,581.6 L337.6,583.8 L350.3,585.2 L363.1,586.1 L376.0,586.6 L388.9,586.9 L401.7,587.3 L414.6,588.2 L427.4,589.5 L440.2,590.9" stroke="url(#g10)" stroke-width="2.1" stroke-opacity="0.50"/><path d="M361.6,586.7 L370.3,587.1 L379.0,587.4 L387.8,587.6 L396.5,587.8 L405.2,588.3 L414.0,588.9 L422.7,589.7 L431.4,590.7 L440.1,591.7" stroke="url(#g11)" stroke-width="3.1" stroke-opacity="0.33"/><path d="M345.2,588.1 L355.6,589.1 L366.1,589.8 L376.6,590.2 L387.1,590.4 L397.6,590.8 L408.1,591.4 L418.5,592.3 L429.0,593.4 L439.4,594.5" stroke="url(#g10)" stroke-width="1.7" stroke-opacity="0.46"/><path d="M334.3,588.8 L345.8,590.4 L357.4,591.5 L369.0,592.2 L380.7,592.6 L392.3,592.9 L404.0,593.5 L415.7,594.4 L427.3,595.5 L438.9,596.8" stroke="url(#g10)" stroke-width="3.3" stroke-opacity="0.37"/><path d="M345.9,592.6 L356.1,593.6 L366.4,594.3 L376.6,594.7 L387.0,595.0 L397.3,595.4 L407.6,596.1 L417.8,596.9 L428.1,598.0 L438.4,599.0" stroke="url(#g10)" stroke-width="2.9" stroke-opacity="0.26"/><path d="M303.2,583.4 L317.6,588.2 L332.4,591.3 L347.4,593.4 L362.4,594.8 L377.6,595.4 L392.8,595.9 L408.0,596.8 L423.1,598.1 L438.2,599.7" stroke="url(#g10)" stroke-width="2.6" stroke-opacity="0.34"/><path d="M320.5,590.5 L333.3,593.1 L346.3,594.9 L359.3,596.2 L372.4,596.9 L385.5,597.4 L398.6,597.9 L411.7,598.8 L424.7,600.0 L437.8,601.3" stroke="url(#g10)" stroke-width="1.9" stroke-opacity="0.39"/><path d="M307.7,588.9 L321.6,593.0 L335.8,595.8 L350.2,597.7 L364.7,598.9 L379.2,599.5 L393.7,600.1 L408.2,601.0 L422.7,602.2 L437.2,603.6" stroke="url(#g10)" stroke-width="2.9" stroke-opacity="0.72"/><path d="M357.7,600.7 L366.5,601.3 L375.3,601.7 L384.1,602.0 L392.8,602.4 L401.6,602.9 L410.4,603.5 L419.1,604.3 L427.9,605.1 L436.6,605.9" stroke="url(#g11)" stroke-width="1.8" stroke-opacity="0.58"/><path d="M355.6,601.4 L364.5,602.1 L373.5,602.6 L382.5,602.9 L391.5,603.3 L400.5,603.8 L409.5,604.4 L418.5,605.2 L427.4,606.0 L436.4,606.9" stroke="url(#g11)" stroke-width="2.7" stroke-opacity="0.61"/><path d="M302.1,592.6 L316.3,597.5 L330.9,600.8 L345.8,603.1 L360.7,604.7 L375.7,605.6 L390.7,606.2 L405.7,607.1 L420.7,608.4 L435.7,609.7" stroke="url(#g10)" stroke-width="1.8" stroke-opacity="0.66"/><path d="M318.9,600.0 L331.6,602.8 L344.4,604.9 L357.3,606.4 L370.3,607.3 L383.3,607.8 L396.3,608.5 L409.3,609.4 L422.2,610.5 L435.2,611.6" stroke="url(#g10)" stroke-width="1.6" stroke-opacity="0.26"/><path d="M333.8,605.0 L344.9,606.8 L356.1,608.1 L367.3,609.0 L378.6,609.5 L389.8,610.0 L401.1,610.7 L412.3,611.6 L423.5,612.5 L434.7,613.5" stroke="url(#g10)" stroke-width="2.4" stroke-opacity="0.59"/><path d="M289.8,592.3 L304.7,599.1 L320.3,603.9 L336.4,607.2 L352.5,609.6 L368.9,610.9 L385.2,611.7 L401.6,612.7 L417.9,614.0 L434.3,615.3" stroke="url(#g10)" stroke-width="3.4" stroke-opacity="0.74"/><path d="M342.3,610.2 L352.4,611.6 L362.6,612.5 L372.7,613.2 L382.9,613.6 L393.1,614.2 L403.3,614.9 L413.5,615.7 L423.6,616.5 L433.8,617.3" stroke="url(#g10)" stroke-width="2.6" stroke-opacity="0.55"/><path d="M336.0,609.6 L346.8,611.3 L357.6,612.6 L368.4,613.4 L379.3,613.9 L390.2,614.5 L401.1,615.2 L412.0,616.0 L422.8,616.9 L433.7,617.8" stroke="url(#g10)" stroke-width="3.1" stroke-opacity="0.45"/><path d="M296.3,599.4 L310.6,605.3 L325.6,609.2 L340.8,612.1 L356.1,614.2 L371.5,615.3 L387.0,616.1 L402.4,617.2 L417.8,618.3 L433.3,619.5" stroke="url(#g10)" stroke-width="2.5" stroke-opacity="0.71"/><path d="M336.6,614.0 L347.2,615.7 L357.8,617.0 L368.5,617.8 L379.2,618.4 L389.9,619.0 L400.6,619.8 L411.3,620.6 L422.0,621.4 L432.6,622.1" stroke="url(#g10)" stroke-width="2.0" stroke-opacity="0.38"/><path d="M299.2,604.7 L313.2,610.0 L327.8,613.6 L342.5,616.4 L357.4,618.4 L372.4,619.5 L387.4,620.3 L402.4,621.4 L417.3,622.5 L432.3,623.6" stroke="url(#g10)" stroke-width="3.5" stroke-opacity="0.43"/></g></g><path d="M300.0,560.0 C310.3,544.5 340.3,548.2 352.0,547.0 C363.7,545.8 364.0,550.2 370.0,553.0 C376.0,555.8 382.7,560.2 388.0,564.0 C393.3,567.8 397.7,572.3 402.0,576.0 C406.3,579.7 409.3,583.3 414.0,586.0 C418.7,588.7 423.2,591.0 430.0,592.0 C436.8,593.0 450.8,584.0 455.0,592.0 C459.2,600.0 482.5,632.0 455.0,640.0 C427.5,648.0 315.8,653.3 290.0,640.0 C264.2,626.7 289.7,575.5 300.0,560.0 Z" fill="url(#g17)" filter="url(#bl3)"/></g><path d="M118.0,473.0 L126.2,477.1 L134.3,481.4 L142.0,486.3 L149.1,492.1 L155.4,498.8 L161.3,505.7 L167.3,512.7 L173.2,519.7 L179.4,526.4 L186.0,532.8 L192.8,538.9 L199.8,544.8 L207.0,550.5 L214.4,555.9 L221.8,561.4 L229.0,567.0 L236.3,572.5 L244.0,577.5 L252.1,581.8 L260.2,586.1 L268.3,590.4 L276.4,594.7 L284.6,598.8 L292.8,602.9 L301.0,606.9 L309.5,610.2 L318.3,612.8 L327.2,614.9 L336.2,616.7 L345.2,618.3 L354.3,619.5 L363.4,620.4 L372.6,621.0 L381.7,621.5 L390.9,622.1 L400.0,622.7 L409.2,623.4 L418.3,624.0 L427.4,624.7" fill="none" stroke="#3f3431" stroke-width="1.5"/><g clip-path="url(#c8)"><use href="#p8" fill="#b8a29c"/><g filter="url(#bl3)"><path d="M148.0,442.0 L171.1,423.9 L195.6,407.6 L221.3,393.2 L249.6,384.6 L279.3,383.6 L308.8,387.7 L336.6,398.2 L359.6,417.0 L381.3,437.2 L400.9,459.3 L419.2,482.5 L436.2,506.7 L452.0,532.0" stroke="#ae9993" stroke-width="13.2" fill="none"/><path d="M148.0,442.1 L171.0,425.8 L195.3,411.2 L220.8,398.4 L248.6,391.2 L277.9,391.0 L307.1,395.4 L334.7,405.5 L357.8,423.3 L379.7,442.1 L399.6,462.7 L418.4,484.5 L435.8,507.5 L452.0,532.0" stroke="#b8a59f" stroke-width="13.2" fill="none"/><path d="M148.0,442.1 L170.8,427.7 L195.0,414.9 L220.2,403.7 L247.6,397.8 L276.5,398.4 L305.3,403.0 L332.8,412.8 L356.1,429.6 L378.2,447.0 L398.4,466.1 L417.6,486.5 L435.5,508.2 L452.0,532.0" stroke="#c1aea8" stroke-width="13.2" fill="none"/><path d="M148.0,442.2 L170.7,429.7 L194.7,418.5 L219.7,409.0 L246.7,404.4 L275.0,405.8 L303.6,410.7 L330.9,420.0 L354.4,435.9 L376.6,451.8 L397.2,469.5 L416.7,488.5 L435.2,508.9 L452.0,532.0" stroke="#c9b7b1" stroke-width="13.2" fill="none"/><path d="M148.0,442.2 L170.6,431.6 L194.4,422.2 L219.1,414.3 L245.7,410.9 L273.6,413.1 L301.9,418.3 L329.1,427.3 L352.6,442.2 L375.1,456.7 L395.9,472.9 L415.9,490.5 L434.8,509.6 L452.0,532.0" stroke="#cfbdb7" stroke-width="13.2" fill="none"/><path d="M148.0,442.3 L170.5,433.5 L194.1,425.8 L218.5,419.5 L244.8,417.5 L272.2,420.5 L300.1,426.0 L327.2,434.6 L350.9,448.5 L373.5,461.6 L394.7,476.3 L415.1,492.5 L434.5,510.3 L452.0,532.0" stroke="#d3c2bc" stroke-width="13.2" fill="none"/><path d="M148.0,442.4 L170.3,435.4 L193.8,429.5 L218.0,424.8 L243.8,424.1 L270.8,427.9 L298.4,433.6 L325.3,441.8 L349.1,454.7 L372.0,466.5 L393.5,479.6 L414.3,494.6 L434.1,511.0 L452.0,532.0" stroke="#d5c4be" stroke-width="13.2" fill="none"/><path d="M148.0,442.4 L170.2,437.4 L193.5,433.1 L217.4,430.1 L242.8,430.7 L269.4,435.3 L296.7,441.3 L323.4,449.1 L347.4,461.0 L370.4,471.4 L392.2,483.0 L413.4,496.6 L433.8,511.7 L452.0,532.0" stroke="#d2c1bb" stroke-width="13.2" fill="none"/><path d="M148.0,442.5 L170.1,439.3 L193.2,436.8 L216.9,435.4 L241.9,437.2 L268.0,442.7 L294.9,448.9 L321.5,456.4 L345.6,467.3 L368.9,476.3 L391.0,486.4 L412.6,498.6 L433.4,512.4 L452.0,532.0" stroke="#cdbbb5" stroke-width="13.2" fill="none"/><path d="M148.0,442.5 L170.0,441.2 L192.9,440.4 L216.3,440.6 L240.9,443.8 L266.6,450.0 L293.2,456.6 L319.6,463.6 L343.9,473.6 L367.3,481.2 L389.8,489.8 L411.8,500.6 L433.1,513.1 L452.0,532.0" stroke="#c6b4ae" stroke-width="13.2" fill="none"/><path d="M148.0,442.6 L169.8,443.1 L192.6,444.1 L215.8,445.9 L239.9,450.4 L265.2,457.4 L291.5,464.2 L317.8,470.9 L342.1,479.9 L365.8,486.1 L388.5,493.2 L411.0,502.6 L432.7,513.8 L452.0,532.0" stroke="#beaba5" stroke-width="13.2" fill="none"/><path d="M148.0,442.6 L169.7,445.1 L192.3,447.7 L215.2,451.2 L239.0,457.0 L263.8,464.8 L289.7,471.9 L315.9,478.2 L340.4,486.2 L364.2,490.9 L387.3,496.6 L410.1,504.6 L432.4,514.5 L452.0,532.0" stroke="#b4a09a" stroke-width="13.2" fill="none"/><path d="M148.0,442.7 L169.6,447.0 L192.0,451.4 L214.6,456.5 L238.0,463.6 L262.4,472.2 L288.0,479.5 L314.0,485.4 L338.7,492.4 L362.7,495.8 L386.1,500.0 L409.3,506.6 L432.1,515.2 L452.0,532.0" stroke="#a9958f" stroke-width="13.2" fill="none"/><path d="M148.0,442.8 L169.5,448.9 L191.7,455.0 L214.1,461.7 L237.0,470.1 L260.9,479.6 L286.3,487.2 L312.1,492.7 L336.9,498.7 L361.1,500.7 L384.9,503.4 L408.5,508.6 L431.7,516.0 L452.0,532.0" stroke="#9e8882" stroke-width="13.2" fill="none"/><path d="M148.0,442.8 L169.3,450.9 L191.4,458.7 L213.5,467.0 L236.1,476.7 L259.5,486.9 L284.5,494.8 L310.2,500.0 L335.2,505.0 L359.6,505.6 L383.6,506.8 L407.6,510.7 L431.4,516.7 L452.0,532.0" stroke="#917a74" stroke-width="13.2" fill="none"/><path d="M148.0,442.9 L169.2,452.8 L191.1,462.3 L213.0,472.3 L235.1,483.3 L258.1,494.3 L282.8,502.5 L308.3,507.2 L333.4,511.3 L358.0,510.5 L382.4,510.2 L406.8,512.7 L431.0,517.4 L452.0,532.0" stroke="#866e68" stroke-width="13.2" fill="none"/><path d="M148.0,442.9 L169.1,454.7 L190.8,466.0 L212.4,477.6 L234.2,489.9 L256.7,501.7 L281.1,510.1 L306.5,514.5 L331.7,517.6 L356.5,515.4 L381.2,513.6 L406.0,514.7 L430.7,518.1 L452.0,532.0" stroke="#866e68" stroke-width="13.2" fill="none"/><path d="M148.0,443.0 L169.0,456.6 L190.5,469.6 L211.9,482.8 L233.2,496.5 L255.3,509.1 L279.3,517.7 L304.6,521.8 L329.9,523.9 L354.9,520.3 L379.9,517.0 L405.2,516.7 L430.3,518.8 L452.0,532.0" stroke="#866e68" stroke-width="13.2" fill="none"/></g><g filter="url(#bl15)"><path d="M148.6,441.5 L172.1,423.2 L197.0,406.8 L223.2,392.4 L252.1,384.4 L282.3,383.9 L312.2,388.7 L339.8,400.5 L362.8,420.1 L384.5,440.7 L404.2,463.3 L422.4,487.1" stroke="#75605a" stroke-width="4.33" stroke-opacity="0.20" fill="none"/><path d="M178.9,420.2 L200.6,407.6 L223.1,396.4 L247.6,389.9 L273.3,389.1 L299.1,392.0 L324.2,398.6 L346.2,411.8 L365.8,428.4 L384.5,445.4 L401.7,463.9 L418.0,483.3" stroke="#eadfda" stroke-width="4.47" stroke-opacity="0.32" fill="none"/><path d="M178.1,422.3 L200.2,410.4 L223.1,400.0 L248.0,394.4 L274.0,394.3 L300.1,397.7 L325.5,404.9 L347.6,418.7 L367.6,434.8 L386.7,451.6 L404.3,469.8 L420.9,489.1" stroke="#75605a" stroke-width="4.91" stroke-opacity="0.34" fill="none"/><path d="M189.7,418.2 L214.5,407.1 L241.1,400.0 L269.5,399.6 L298.2,403.4 L326.1,411.4 L350.2,426.8 L372.4,443.7 L393.0,461.9 L412.5,481.4 L430.6,502.5 L447.6,525.4" stroke="#75605a" stroke-width="3.86" stroke-opacity="0.13" fill="none"/><path d="M199.7,415.1 L219.7,407.1 L241.2,402.5 L263.8,402.1 L286.7,404.5 L309.5,409.2 L331.2,417.2 L350.0,429.9 L368.0,443.0 L385.0,456.6 L401.1,471.4 L416.4,487.1" stroke="#75605a" stroke-width="3.21" stroke-opacity="0.18" fill="none"/><path d="M203.3,418.3 L223.8,412.0 L245.8,409.6 L268.7,411.0 L291.9,414.5 L314.8,420.0 L336.1,429.5 L355.0,442.2 L373.4,454.3 L390.6,467.5 L407.3,481.6 L422.9,497.0" stroke="#eadfda" stroke-width="2.62" stroke-opacity="0.14" fill="none"/><path d="M199.0,423.9 L217.7,419.0 L237.5,416.7 L258.3,417.7 L279.5,420.7 L300.8,425.1 L321.7,431.2 L340.5,441.0 L358.1,451.8 L375.2,461.9 L391.3,473.2 L407.2,485.3" stroke="#eadfda" stroke-width="2.95" stroke-opacity="0.14" fill="none"/><path d="M168.0,434.7 L191.7,427.1 L216.2,420.9 L242.4,418.6 L270.0,421.5 L298.1,426.9 L325.5,435.2 L349.5,448.9 L372.4,462.0 L393.9,476.4 L414.5,492.6 L434.2,510.2" stroke="#eadfda" stroke-width="4.18" stroke-opacity="0.32" fill="none"/><path d="M196.8,429.0 L219.1,425.0 L242.8,424.4 L267.6,427.8 L292.9,432.8 L318.0,439.4 L340.7,450.4 L362.0,461.7 L382.4,472.9 L401.9,485.5 L420.6,499.8 L438.7,515.7" stroke="#eadfda" stroke-width="4.39" stroke-opacity="0.14" fill="none"/><path d="M207.5,429.3 L228.1,427.4 L249.9,428.8 L272.4,432.8 L295.3,437.7 L318.0,443.8 L338.6,453.4 L358.1,463.4 L377.0,472.6 L395.0,483.0 L412.5,494.8 L429.4,507.7" stroke="#eadfda" stroke-width="4.32" stroke-opacity="0.33" fill="none"/><path d="M195.6,435.1 L218.5,433.3 L242.7,434.8 L267.9,439.7 L294.0,445.6 L319.7,452.6 L343.0,463.3 L365.4,472.7 L386.7,482.7 L407.6,494.3 L427.5,507.7 L446.0,525.0" stroke="#75605a" stroke-width="3.24" stroke-opacity="0.21" fill="none"/><path d="M151.9,442.0 L175.8,438.8 L200.8,436.7 L226.5,436.3 L253.9,440.4 L282.4,446.9 L311.4,454.0 L338.1,464.7 L363.3,474.8 L387.3,485.1 L410.6,497.6 L433.1,512.3" stroke="#eadfda" stroke-width="3.98" stroke-opacity="0.35" fill="none"/><path d="M191.9,440.8 L212.1,441.1 L233.0,443.2 L254.9,447.9 L277.5,453.6 L300.7,459.3 L323.2,465.9 L344.1,474.5 L364.5,480.9 L384.0,488.0 L403.3,496.4 L422.0,506.6" stroke="#75605a" stroke-width="4.33" stroke-opacity="0.23" fill="none"/><path d="M157.0,443.1 L178.7,444.3 L201.2,446.0 L224.1,449.1 L248.2,454.9 L273.2,462.1 L299.2,468.7 L324.5,475.8 L348.2,483.8 L371.3,489.2 L393.7,496.2 L415.7,505.6" stroke="#75605a" stroke-width="2.59" stroke-opacity="0.17" fill="none"/><path d="M184.4,447.3 L205.2,450.4 L226.4,454.9 L248.5,461.4 L271.4,468.6 L295.3,474.8 L319.0,480.7 L341.3,487.8 L363.1,491.8 L384.3,496.6 L405.3,503.2 L425.8,511.5" stroke="#75605a" stroke-width="4.55" stroke-opacity="0.27" fill="none"/><path d="M202.2,450.9 L219.6,454.4 L237.6,459.4 L256.1,465.6 L275.4,471.4 L295.2,476.5 L315.0,481.1 L333.7,487.1 L352.1,491.2 L370.0,494.2 L387.6,498.2 L405.1,503.7" stroke="#75605a" stroke-width="4.13" stroke-opacity="0.28" fill="none"/><path d="M204.1,455.2 L221.9,460.1 L240.3,466.3 L259.2,473.3 L279.0,479.3 L299.4,484.3 L319.4,489.1 L338.6,494.3 L357.5,496.7 L376.0,499.2 L394.3,502.8 L412.5,508.3" stroke="#eadfda" stroke-width="4.43" stroke-opacity="0.22" fill="none"/><path d="M198.3,456.3 L219.0,462.6 L240.3,470.4 L262.5,478.9 L285.9,485.9 L309.7,491.0 L332.6,496.8 L355.0,499.6 L376.9,501.7 L398.6,505.6 L420.1,511.8 L440.5,521.8" stroke="#eadfda" stroke-width="2.28" stroke-opacity="0.24" fill="none"/><path d="M194.4,459.8 L211.3,466.2 L228.3,473.4 L245.8,481.2 L264.1,488.7 L283.2,494.5 L302.8,498.6 L322.0,502.6 L340.9,505.6 L359.5,505.6 L377.8,506.4 L396.2,508.4" stroke="#75605a" stroke-width="4.01" stroke-opacity="0.21" fill="none"/><path d="M160.5,449.0 L183.3,459.2 L206.4,469.7 L229.5,481.2 L253.4,493.1 L279.1,502.3 L305.9,507.6 L332.4,511.9 L358.3,511.0 L384.0,510.6 L409.8,513.4 L435.1,519.3" stroke="#75605a" stroke-width="3.10" stroke-opacity="0.25" fill="none"/><path d="M161.4,449.6 L185.7,460.7 L210.1,472.2 L234.8,484.8 L260.5,497.2 L288.3,505.8 L316.7,510.6 L344.7,512.7 L372.1,511.1 L399.5,512.2 L426.8,516.4 L450.9,531.2" stroke="#eadfda" stroke-width="2.72" stroke-opacity="0.31" fill="none"/><path d="M158.4,449.0 L179.1,460.3 L200.1,471.5 L220.9,483.3 L242.1,495.3 L264.5,505.9 L288.4,512.9 L313.0,516.5 L337.3,518.3 L361.3,515.5 L385.2,513.9 L409.3,515.3" stroke="#eadfda" stroke-width="4.52" stroke-opacity="0.24" fill="none"/><path d="M186.7,466.7 L203.5,476.7 L220.1,487.1 L236.9,497.5 L254.2,507.2 L272.9,514.5 L292.3,519.0 L312.1,521.4 L331.9,522.8 L351.4,520.1 L370.8,517.4 L390.4,515.9" stroke="#eadfda" stroke-width="3.67" stroke-opacity="0.25" fill="none"/></g><g filter="url(#bl06)"><path d="M184.2,414.1 L210.3,397.9 L238.4,385.4 L268.9,381.5 L299.6,383.9 L329.3,392.2 L354.3,410.1 L376.9,431.1 L397.5,453.9 L416.7,478.0 L434.1,503.4 L450.5,529.5" stroke="#e8dbd6" stroke-width="1.13" stroke-opacity="0.34" fill="none"/><path d="M168.4,425.7 L195.2,407.4 L223.6,391.5 L255.1,383.2 L287.9,383.4 L320.1,389.8 L348.3,406.0 L372.6,427.9 L395.0,451.7 L415.6,477.0 L434.2,503.7 L451.7,531.5" stroke="#e8dbd6" stroke-width="1.21" stroke-opacity="0.33" fill="none"/><path d="M168.1,426.4 L192.3,410.1 L217.7,395.6 L245.4,386.2 L274.8,384.4 L304.3,387.8 L332.4,396.9 L355.9,414.7 L377.7,434.5 L397.6,456.0 L416.2,478.7 L433.2,502.7" stroke="#6a5450" stroke-width="0.48" stroke-opacity="0.42" fill="none"/><path d="M167.6,427.0 L191.5,411.0 L216.7,396.8 L244.0,387.3 L273.1,385.4 L302.4,388.6 L330.5,397.1 L354.1,414.3 L375.8,433.6 L395.7,454.7 L414.4,476.8 L431.5,500.4" stroke="#e8dbd6" stroke-width="0.73" stroke-opacity="0.50" fill="none"/><path d="M181.3,418.6 L205.6,404.6 L231.2,393.1 L259.2,388.5 L288.0,389.7 L316.3,395.3 L342.1,408.0 L364.0,426.3 L384.9,445.3 L404.0,466.1 L421.7,488.1 L438.6,511.0" stroke="#e8dbd6" stroke-width="1.02" stroke-opacity="0.37" fill="none"/><path d="M152.6,438.7 L176.5,421.8 L201.8,406.9 L228.5,394.3 L257.9,389.0 L288.2,390.3 L318.0,396.5 L344.6,410.6 L367.6,429.9 L389.2,450.2 L409.1,472.2 L427.3,495.7" stroke="#6a5450" stroke-width="0.43" stroke-opacity="0.46" fill="none"/><path d="M149.7,440.9 L173.5,424.6 L198.8,410.2 L225.4,397.9 L254.5,392.3 L284.8,393.4 L314.8,399.2 L342.0,412.4 L365.3,431.2 L387.3,450.8 L407.6,472.3 L426.2,495.3" stroke="#e8dbd6" stroke-width="0.86" stroke-opacity="0.45" fill="none"/><path d="M160.4,433.6 L185.5,418.0 L212.1,404.4 L240.7,395.0 L271.5,393.7 L302.5,397.8 L332.2,407.6 L357.0,425.9 L380.3,445.3 L401.6,466.7 L421.4,489.6 L440.0,513.7" stroke="#6a5450" stroke-width="1.26" stroke-opacity="0.51" fill="none"/><path d="M176.9,423.8 L201.4,411.1 L227.1,400.4 L255.2,396.1 L284.2,397.8 L313.0,403.4 L339.5,415.4 L362.1,432.9 L383.8,450.8 L403.7,470.5 L422.3,491.7 L440.0,513.9" stroke="#e8dbd6" stroke-width="1.22" stroke-opacity="0.52" fill="none"/><path d="M176.2,424.4 L201.2,411.5 L227.4,400.8 L256.0,396.7 L285.6,398.6 L315.0,404.6 L341.6,417.5 L364.6,435.4 L386.5,453.8 L406.7,474.0 L425.5,495.7 L443.3,518.8" stroke="#e8dbd6" stroke-width="0.83" stroke-opacity="0.51" fill="none"/><path d="M177.2,424.6 L200.3,413.1 L224.4,403.4 L250.6,398.9 L277.9,400.1 L305.1,404.7 L331.2,413.6 L353.5,429.2 L374.6,445.3 L394.0,462.8 L412.6,481.5 L429.8,501.5" stroke="#6a5450" stroke-width="0.67" stroke-opacity="0.52" fill="none"/><path d="M165.9,431.3 L192.1,417.5 L219.6,405.7 L249.7,399.9 L281.2,401.5 L312.7,407.7 L341.3,421.2 L366.2,439.8 L389.5,459.2 L411.2,480.4 L431.3,503.5 L449.9,528.9" stroke="#e8dbd6" stroke-width="1.20" stroke-opacity="0.48" fill="none"/><path d="M167.8,430.9 L192.4,419.0 L218.0,408.7 L245.7,403.4 L274.9,404.5 L304.4,409.6 L332.4,419.5 L356.3,436.1 L379.1,452.8 L400.0,471.3 L419.8,491.5 L438.6,512.9" stroke="#e8dbd6" stroke-width="0.84" stroke-opacity="0.52" fill="none"/><path d="M178.6,425.6 L203.4,414.7 L229.4,406.1 L257.6,403.9 L286.7,406.8 L315.6,413.2 L341.7,426.1 L364.8,442.7 L386.7,459.7 L407.1,478.3 L426.2,498.7 L444.3,520.8" stroke="#6a5450" stroke-width="0.57" stroke-opacity="0.54" fill="none"/><path d="M150.8,440.7 L175.7,427.4 L202.1,416.0 L229.9,407.1 L260.1,405.4 L291.2,409.1 L321.8,417.0 L348.5,432.6 L372.9,449.9 L395.6,468.6 L416.9,489.1 L437.0,511.3" stroke="#6a5450" stroke-width="1.04" stroke-opacity="0.34" fill="none"/><path d="M155.2,438.5 L180.7,426.2 L207.6,415.7 L236.2,408.6 L267.0,408.9 L298.4,413.9 L328.8,423.4 L354.8,440.3 L379.4,457.2 L402.1,476.1 L423.4,497.1 L443.5,520.1" stroke="#e8dbd6" stroke-width="0.60" stroke-opacity="0.21" fill="none"/><path d="M167.1,432.7 L191.2,422.2 L216.3,413.4 L243.3,408.8 L271.8,410.4 L300.7,415.4 L328.6,424.3 L352.7,439.7 L375.5,455.0 L396.6,472.0 L416.8,490.5 L435.9,510.4" stroke="#e8dbd6" stroke-width="0.95" stroke-opacity="0.31" fill="none"/><path d="M148.5,442.0 L172.7,430.8 L198.3,421.1 L225.0,413.4 L254.0,411.7 L284.1,415.3 L314.1,422.1 L341.3,435.2 L365.8,451.1 L388.8,467.4 L410.6,485.6 L430.9,505.6" stroke="#6a5450" stroke-width="0.92" stroke-opacity="0.42" fill="none"/><path d="M153.1,440.0 L179.3,428.9 L207.0,419.5 L236.4,413.7 L268.0,415.3 L300.2,421.0 L331.2,431.5 L357.9,448.3 L383.2,464.7 L406.9,483.4 L429.1,504.2 L449.5,528.6" stroke="#6a5450" stroke-width="1.05" stroke-opacity="0.38" fill="none"/><path d="M163.1,435.7 L187.7,426.2 L213.5,418.3 L240.9,414.3 L270.0,416.5 L299.6,421.9 L328.3,431.1 L353.1,446.3 L376.8,460.9 L398.9,477.3 L419.8,495.7 L439.8,515.8" stroke="#6a5450" stroke-width="0.46" stroke-opacity="0.43" fill="none"/><path d="M177.9,430.1 L202.5,422.1 L228.1,416.2 L255.8,415.9 L284.3,420.0 L313.0,426.6 L339.1,438.5 L362.7,453.1 L385.1,467.6 L406.3,483.9 L426.3,502.0 L445.1,522.8" stroke="#6a5450" stroke-width="0.69" stroke-opacity="0.42" fill="none"/><path d="M181.9,429.6 L205.5,422.8 L230.0,418.1 L256.4,418.6 L283.6,422.7 L310.8,428.9 L336.1,439.6 L358.8,453.3 L380.5,466.3 L401.1,481.0 L420.6,497.6 L439.3,515.7" stroke="#6a5450" stroke-width="0.85" stroke-opacity="0.28" fill="none"/><path d="M159.9,438.0 L185.5,429.6 L212.4,422.8 L240.9,420.0 L271.1,423.4 L302.1,429.6 L331.5,440.0 L357.5,455.1 L382.2,469.4 L405.6,485.8 L427.6,504.4 L448.0,526.8" stroke="#e8dbd6" stroke-width="1.05" stroke-opacity="0.52" fill="none"/><path d="M181.8,431.1 L206.2,425.0 L231.5,421.2 L258.7,422.7 L286.7,427.5 L314.7,434.4 L340.1,446.2 L363.5,459.4 L385.8,472.6 L407.0,487.5 L427.1,504.3 L446.0,524.3" stroke="#6a5450" stroke-width="1.09" stroke-opacity="0.27" fill="none"/><path d="M162.7,437.4 L187.3,430.0 L212.9,424.1 L240.0,421.9 L268.8,425.2 L298.2,431.1 L326.8,440.0 L351.9,454.1 L376.0,467.1 L398.6,481.8 L420.1,498.7 L440.7,517.7" stroke="#e8dbd6" stroke-width="1.05" stroke-opacity="0.27" fill="none"/><path d="M159.5,438.8 L185.0,431.5 L211.7,425.8 L239.9,423.8 L269.9,427.7 L300.6,434.1 L330.0,444.0 L356.1,458.4 L381.0,471.7 L404.6,487.1 L426.9,504.8 L447.6,526.5" stroke="#e8dbd6" stroke-width="0.94" stroke-opacity="0.29" fill="none"/><path d="M173.5,435.0 L198.6,429.3 L224.6,425.3 L252.6,426.5 L281.6,431.6 L310.9,438.6 L337.9,450.1 L362.6,463.0 L386.1,476.0 L408.7,490.8 L430.1,507.7 L449.6,529.1" stroke="#6a5450" stroke-width="0.95" stroke-opacity="0.27" fill="none"/><path d="M177.6,434.5 L202.7,429.4 L228.6,426.5 L256.5,428.7 L285.4,434.2 L314.3,441.4 L340.7,453.4 L365.2,465.7 L388.4,478.4 L410.8,493.1 L432.1,509.7 L451.4,531.3" stroke="#6a5450" stroke-width="0.88" stroke-opacity="0.44" fill="none"/><path d="M173.4,436.2 L197.9,431.5 L223.1,428.4 L250.1,429.9 L278.1,435.1 L306.7,441.7 L333.5,451.9 L357.9,464.2 L381.3,475.7 L403.7,489.0 L425.0,504.6 L445.0,523.5" stroke="#6a5450" stroke-width="1.27" stroke-opacity="0.41" fill="none"/><path d="M156.4,440.5 L181.0,435.2 L206.8,431.2 L233.7,429.9 L262.3,433.9 L291.9,440.1 L321.3,448.2 L347.5,461.1 L372.5,472.4 L396.2,485.3 L419.0,500.6 L440.7,518.6" stroke="#6a5450" stroke-width="1.12" stroke-opacity="0.33" fill="none"/><path d="M160.2,440.0 L184.3,435.7 L209.5,432.6 L235.7,432.4 L263.5,436.9 L292.3,443.2 L320.8,451.0 L346.4,463.2 L370.9,473.7 L394.2,485.6 L416.7,499.8 L438.2,516.2" stroke="#e8dbd6" stroke-width="1.25" stroke-opacity="0.33" fill="none"/><path d="M169.5,438.5 L194.1,435.0 L219.4,432.9 L246.4,434.9 L274.6,440.6 L303.4,447.4 L330.9,456.9 L356.0,468.6 L380.0,479.0 L403.2,491.3 L425.3,506.1 L445.9,524.9" stroke="#e8dbd6" stroke-width="0.80" stroke-opacity="0.49" fill="none"/><path d="M157.7,440.9 L182.5,437.3 L208.4,434.8 L235.4,435.3 L264.1,440.4 L293.7,447.2 L323.0,455.5 L349.4,467.7 L374.7,477.8 L398.8,489.8 L422.0,504.4 L443.9,522.7" stroke="#6a5450" stroke-width="0.64" stroke-opacity="0.38" fill="none"/><path d="M149.4,442.3 L174.4,439.0 L200.7,436.7 L227.9,436.4 L256.9,441.0 L287.0,447.9 L317.3,455.8 L344.8,467.8 L371.1,477.8 L396.1,489.4 L420.2,503.7 L443.0,521.7" stroke="#6a5450" stroke-width="0.59" stroke-opacity="0.46" fill="none"/><path d="M164.7,440.4 L188.8,438.0 L213.6,436.8 L239.6,438.6 L266.9,444.4 L295.2,451.1 L323.0,459.0 L348.3,470.2 L372.6,479.2 L395.9,489.8 L418.4,502.9 L440.1,518.7" stroke="#6a5450" stroke-width="0.40" stroke-opacity="0.24" fill="none"/><path d="M179.9,439.7 L202.7,438.6 L226.1,439.1 L250.8,443.2 L276.6,449.3 L302.9,455.7 L328.2,463.9 L351.6,473.7 L374.2,481.6 L396.0,491.1 L417.1,502.8 L437.6,516.5" stroke="#6a5450" stroke-width="0.88" stroke-opacity="0.55" fill="none"/><path d="M178.1,440.3 L201.8,439.4 L226.1,440.2 L251.9,444.7 L278.7,451.2 L306.1,457.9 L332.1,467.0 L356.4,476.4 L379.7,484.7 L402.4,494.9 L424.3,507.3 L444.7,524.0" stroke="#e8dbd6" stroke-width="0.87" stroke-opacity="0.34" fill="none"/><path d="M180.4,441.5 L202.3,441.5 L224.6,442.9 L248.2,447.3 L272.7,453.6 L297.9,459.9 L322.6,466.9 L345.4,476.0 L367.6,482.7 L388.9,490.5 L409.9,500.3 L430.3,511.5" stroke="#e8dbd6" stroke-width="0.61" stroke-opacity="0.35" fill="none"/><path d="M155.5,442.3 L180.4,441.7 L206.4,442.0 L233.2,444.7 L261.6,451.5 L291.3,458.9 L320.8,466.8 L347.9,477.4 L374.0,485.3 L399.1,495.1 L423.5,507.8 L446.1,525.7" stroke="#e8dbd6" stroke-width="0.67" stroke-opacity="0.23" fill="none"/><path d="M180.9,442.4 L202.3,443.0 L224.1,444.8 L247.1,449.5 L270.9,455.9 L295.5,462.0 L319.9,468.5 L342.4,477.3 L364.3,483.5 L385.4,490.5 L406.2,499.2 L426.3,509.7" stroke="#6a5450" stroke-width="1.26" stroke-opacity="0.53" fill="none"/><path d="M149.6,442.6 L174.4,442.8 L200.3,443.7 L226.8,446.4 L254.8,453.1 L284.2,460.8 L314.1,468.2 L341.7,478.4 L368.3,485.8 L393.9,494.5 L418.8,506.1 L442.4,521.9" stroke="#6a5450" stroke-width="1.30" stroke-opacity="0.20" fill="none"/><path d="M175.1,443.8 L198.7,445.4 L222.7,448.2 L248.0,454.1 L274.4,461.6 L301.6,468.4 L328.0,476.3 L352.8,484.2 L376.8,490.3 L400.2,498.4 L423.0,508.9 L444.4,524.2" stroke="#6a5450" stroke-width="1.18" stroke-opacity="0.23" fill="none"/><path d="M164.0,443.7 L186.6,445.3 L209.7,447.6 L233.4,452.0 L258.4,459.1 L284.5,466.2 L311.0,472.6 L335.9,481.0 L359.9,487.2 L383.1,493.3 L405.9,501.5 L428.2,511.7" stroke="#e8dbd6" stroke-width="1.00" stroke-opacity="0.20" fill="none"/><path d="M162.6,443.7 L186.6,445.6 L211.2,448.3 L236.6,453.4 L263.3,461.3 L291.3,468.7 L319.3,475.8 L345.3,484.6 L370.6,490.2 L395.1,497.5 L419.1,507.7 L441.8,521.8" stroke="#e8dbd6" stroke-width="0.59" stroke-opacity="0.55" fill="none"/><path d="M164.8,444.4 L188.6,447.0 L212.9,450.4 L238.0,456.2 L264.3,464.4 L292.0,471.8 L319.5,478.7 L345.3,486.9 L370.4,491.9 L394.8,498.6 L418.7,508.1 L441.4,521.6" stroke="#6a5450" stroke-width="0.55" stroke-opacity="0.53" fill="none"/><path d="M177.9,446.3 L200.5,449.4 L223.5,453.7 L247.6,460.5 L272.7,468.3 L298.8,475.0 L324.3,481.8 L348.5,488.8 L372.0,493.3 L395.0,499.3 L417.6,508.0 L439.3,519.7" stroke="#6a5450" stroke-width="0.61" stroke-opacity="0.48" fill="none"/><path d="M174.7,446.5 L196.8,449.9 L219.1,454.2 L242.4,460.7 L266.6,468.7 L292.0,475.5 L317.4,481.6 L341.3,489.0 L364.6,493.0 L387.3,498.0 L409.7,505.4 L431.7,514.5" stroke="#6a5450" stroke-width="1.29" stroke-opacity="0.48" fill="none"/><path d="M175.7,447.2 L199.5,451.4 L223.5,456.7 L248.7,464.6 L275.1,473.1 L302.6,479.9 L329.1,487.2 L354.6,492.8 L379.3,497.1 L403.6,503.7 L427.5,512.7 L448.9,529.1" stroke="#6a5450" stroke-width="1.23" stroke-opacity="0.24" fill="none"/><path d="M175.5,447.7 L198.4,452.1 L221.6,457.5 L245.8,465.2 L271.0,473.7 L297.4,480.6 L323.4,487.1 L348.2,493.3 L372.4,496.7 L396.1,502.0 L419.3,510.0 L441.5,522.1" stroke="#6a5450" stroke-width="1.14" stroke-opacity="0.53" fill="none"/><path d="M176.5,448.9 L197.5,453.5 L218.6,458.9 L240.5,466.1 L263.2,474.3 L287.1,481.2 L311.4,486.5 L334.5,493.0 L357.1,496.4 L379.1,499.5 L400.9,504.5 L422.4,511.6" stroke="#6a5450" stroke-width="0.73" stroke-opacity="0.52" fill="none"/><path d="M178.5,449.9 L201.0,455.3 L223.6,461.8 L247.2,470.3 L271.9,478.8 L297.7,485.5 L323.2,491.6 L347.7,496.8 L371.5,499.4 L395.0,503.6 L418.2,510.6 L440.4,521.5" stroke="#e8dbd6" stroke-width="0.43" stroke-opacity="0.23" fill="none"/><path d="M163.2,447.0 L185.6,452.8 L208.3,459.1 L231.4,467.0 L255.4,476.4 L280.9,484.5 L307.1,490.4 L332.4,496.8 L357.1,499.7 L381.1,502.3 L405.0,507.3 L428.6,514.5" stroke="#e8dbd6" stroke-width="1.05" stroke-opacity="0.38" fill="none"/><path d="M158.5,445.8 L181.4,451.9 L204.9,458.4 L228.6,466.3 L253.3,476.0 L279.4,484.6 L306.5,490.7 L332.7,497.2 L358.1,500.0 L383.0,502.8 L407.7,508.2 L432.0,516.0" stroke="#e8dbd6" stroke-width="1.25" stroke-opacity="0.21" fill="none"/><path d="M177.3,451.8 L198.6,458.2 L219.9,465.4 L242.0,474.1 L264.9,483.1 L289.2,490.1 L313.8,495.2 L337.4,500.6 L360.6,502.1 L383.3,504.2 L406.0,508.6 L428.4,514.8" stroke="#e8dbd6" stroke-width="0.50" stroke-opacity="0.45" fill="none"/><path d="M151.3,443.9 L176.1,451.9 L201.6,460.1 L227.4,469.6 L254.3,480.9 L283.0,490.3 L312.5,496.6 L341.1,502.4 L368.9,503.7 L396.3,506.9 L423.5,513.6 L448.1,528.7" stroke="#6a5450" stroke-width="0.42" stroke-opacity="0.30" fill="none"/><path d="M156.3,445.9 L178.5,453.8 L201.3,461.7 L224.1,470.8 L247.7,481.1 L272.6,490.5 L298.8,497.0 L324.7,502.4 L350.0,505.0 L374.7,505.7 L399.3,508.6 L423.7,514.2" stroke="#e8dbd6" stroke-width="0.58" stroke-opacity="0.21" fill="none"/><path d="M166.8,450.1 L188.6,458.0 L210.6,466.3 L232.8,475.9 L255.9,486.2 L280.5,494.4 L306.0,499.8 L330.9,505.0 L355.2,506.1 L379.1,506.8 L403.0,509.9 L426.7,515.2" stroke="#6a5450" stroke-width="1.05" stroke-opacity="0.23" fill="none"/><path d="M149.1,443.3 L171.8,452.3 L195.3,461.2 L218.8,470.8 L242.9,481.8 L268.3,492.2 L295.3,499.4 L322.3,504.6 L348.6,507.2 L374.3,507.3 L400.0,509.8 L425.5,515.1" stroke="#e8dbd6" stroke-width="0.82" stroke-opacity="0.51" fill="none"/><path d="M168.0,451.6 L190.8,461.0 L213.7,470.8 L236.9,481.8 L261.2,492.9 L287.2,500.9 L313.8,505.8 L339.7,509.6 L365.2,508.8 L390.4,509.6 L415.7,513.6 L439.9,522.2" stroke="#6a5450" stroke-width="1.16" stroke-opacity="0.27" fill="none"/><path d="M179.7,456.7 L199.6,465.2 L219.5,474.3 L239.9,484.2 L261.1,493.8 L283.6,501.0 L306.9,505.3 L329.6,509.5 L352.1,509.8 L374.1,509.3 L396.2,510.6 L418.2,514.3" stroke="#6a5450" stroke-width="0.84" stroke-opacity="0.25" fill="none"/><path d="M154.7,446.2 L177.6,456.9 L201.0,467.4 L224.3,478.9 L248.3,491.1 L273.9,501.2 L301.0,507.2 L327.9,511.8 L354.3,511.5 L380.4,510.7 L406.5,513.0 L432.4,518.1" stroke="#e8dbd6" stroke-width="1.16" stroke-opacity="0.32" fill="none"/><path d="M176.2,456.5 L197.2,466.2 L218.0,476.5 L239.3,487.5 L261.5,497.9 L285.2,505.4 L309.7,509.6 L333.8,513.1 L357.4,511.9 L380.8,511.1 L404.4,512.9 L427.7,516.6" stroke="#6a5450" stroke-width="0.51" stroke-opacity="0.24" fill="none"/><path d="M164.3,451.6 L185.6,462.0 L207.1,472.6 L228.5,484.2 L250.6,495.8 L274.2,505.0 L299.1,510.5 L324.0,514.4 L348.5,514.4 L372.7,512.6 L397.0,512.9 L421.2,515.9" stroke="#e8dbd6" stroke-width="0.44" stroke-opacity="0.36" fill="none"/><path d="M174.5,456.9 L195.2,467.3 L215.9,478.2 L236.8,489.6 L258.5,500.6 L281.9,508.4 L306.2,512.7 L330.2,516.0 L353.8,514.5 L377.3,512.9 L400.9,513.6 L424.4,516.5" stroke="#6a5450" stroke-width="0.50" stroke-opacity="0.39" fill="none"/><path d="M180.5,460.6 L202.7,472.2 L224.7,484.7 L247.3,497.2 L271.5,507.3 L297.2,513.3 L323.0,517.0 L348.6,516.4 L373.8,514.0 L399.1,514.1 L424.4,516.8 L447.2,528.4" stroke="#6a5450" stroke-width="1.05" stroke-opacity="0.26" fill="none"/><path d="M152.0,445.3 L176.5,459.5 L201.6,473.3 L226.4,488.0 L252.0,502.4 L279.8,512.7 L309.1,517.6 L338.3,519.6 L367.0,516.0 L395.8,514.8 L424.6,517.2 L450.3,530.8" stroke="#e8dbd6" stroke-width="0.47" stroke-opacity="0.35" fill="none"/><path d="M178.5,461.4 L200.4,474.0 L222.1,487.2 L244.1,500.4 L267.6,511.2 L292.8,517.7 L318.5,520.9 L344.0,520.4 L369.2,516.9 L394.6,515.4 L420.0,517.1 L443.6,525.9" stroke="#e8dbd6" stroke-width="1.02" stroke-opacity="0.31" fill="none"/><path d="M160.0,450.7 L181.6,463.7 L203.4,476.6 L224.9,490.1 L247.0,503.3 L270.7,513.6 L295.9,519.3 L321.5,522.3 L346.9,520.8 L372.1,517.1 L397.5,515.9 L422.9,517.5" stroke="#e8dbd6" stroke-width="1.09" stroke-opacity="0.24" fill="none"/><path d="M157.4,449.3 L181.0,464.1 L204.8,478.7 L228.3,493.9 L252.6,508.3 L279.1,518.2 L307.1,522.5 L335.2,524.0 L362.8,519.4 L390.6,516.6 L418.7,517.5 L444.6,526.7" stroke="#e8dbd6" stroke-width="0.76" stroke-opacity="0.48" fill="none"/><path d="M180.7,464.9 L202.0,478.6 L223.0,492.8 L244.4,506.5 L267.3,517.3 L291.9,523.5 L317.1,526.1 L342.4,524.8 L367.3,520.1 L392.5,517.5 L417.8,518.0 L441.7,524.8" stroke="#e8dbd6" stroke-width="0.62" stroke-opacity="0.37" fill="none"/></g><g filter="url(#bl15)"><g fill="none" stroke-linecap="round"><path d="M360.4,413.8 L365.1,418.3 L369.9,422.7 L374.7,427.2 L379.3,431.8 L383.7,436.6 L388.1,441.4 L392.4,446.4 L396.5,451.4 L400.6,456.5 L404.7,461.6 L408.9,466.6 L412.8,471.8 L416.6,477.1 L420.3,482.5 L424.0,487.9 L427.6,493.3 L431.3,498.8 L434.9,504.2 L438.5,509.6 L442.0,515.2 L445.4,520.8 L448.7,526.4 L452.0,532.0 L452.0,532.0 L452.0,532.0 L452.0,532.0 L452.0,532.0 L452.0,532.0 L452.0,532.0 L452.0,532.0 L452.0,532.0 L452.0,532.0 L452.0,532.0 L452.0,532.0 L452.0,532.0 L452.0,532.0 L452.0,532.0 L452.0,532.0 L452.0,532.0 L452.0,532.0 L452.0,532.0 L452.0,532.0 L452.0,532.0 L452.0,532.0 L452.0,532.0 L452.0,532.0 L452.0,532.0 L452.0,532.0 L448.8,529.9 L445.7,527.7 L442.6,525.5 L439.4,523.3 L436.1,521.5 L432.6,519.9 L429.0,518.9 L425.2,518.4 L421.4,518.2 L417.6,518.1 L413.7,518.0 L409.9,517.8 L406.1,517.7 L402.3,517.7 L398.5,517.6 L394.7,517.7 L390.8,517.8 L387.0,517.9 L383.2,518.2 L379.4,518.7 L375.6,519.1 L371.9,519.7 L368.1,520.3 L368.1,520.3 L367.5,517.3 L366.9,514.2 L366.4,510.9 L365.9,507.5 L365.4,503.9 L365.0,500.1 L364.5,496.2 L364.1,492.2 L363.8,488.0 L363.4,483.7 L363.1,479.2 L362.8,474.6 L362.5,469.8 L362.2,464.9 L362.0,459.8 L361.7,454.5 L361.5,449.2 L361.2,443.6 L361.0,438.0 L360.8,432.1 L360.6,426.2 L360.5,420.1 L360.4,413.8 Z" fill="url(#g18)" filter="url(#bl3)"/><path d="M332.2,392.8 L349.0,404.6 L364.1,418.6 L379.1,432.7 L392.9,447.9 L406.0,463.8 L418.4,480.2 L430.0,497.2 L441.4,514.3 L452.0,532.0" stroke="url(#g10)" stroke-width="4.0" stroke-opacity="0.42"/><path d="M347.4,407.0 L361.1,419.1 L374.6,431.2 L387.4,444.1 L399.2,457.8 L411.0,471.7 L421.7,486.4 L432.2,501.2 L442.4,516.3 L452.0,532.0" stroke="url(#g10)" stroke-width="2.9" stroke-opacity="0.64"/><path d="M360.7,423.3 L372.8,433.6 L384.2,444.4 L395.0,455.9 L405.5,467.6 L415.6,479.8 L425.0,492.4 L434.4,505.1 L443.5,518.4 L452.0,532.0" stroke="url(#g10)" stroke-width="3.8" stroke-opacity="0.43"/><path d="M346.9,413.3 L360.5,424.8 L374.0,436.1 L386.8,448.3 L398.7,461.1 L410.5,474.2 L421.4,488.1 L432.0,502.2 L442.4,516.8 L452.0,532.0" stroke="url(#g10)" stroke-width="3.9" stroke-opacity="0.31"/><path d="M369.4,434.2 L380.1,443.6 L390.2,453.5 L399.9,463.8 L409.5,474.2 L418.5,485.2 L427.2,496.5 L435.9,507.8 L444.2,519.7 L452.0,532.0" stroke="url(#g10)" stroke-width="2.1" stroke-opacity="0.28"/><path d="M353.7,424.9 L366.4,435.0 L378.8,445.3 L390.5,456.3 L401.7,467.8 L412.7,479.6 L423.0,492.1 L433.1,504.7 L442.9,518.0 L452.0,532.0" stroke="url(#g10)" stroke-width="2.6" stroke-opacity="0.37"/><path d="M344.4,420.8 L358.2,431.5 L371.9,442.0 L384.8,453.1 L397.1,464.9 L409.2,477.1 L420.4,490.1 L431.5,503.2 L442.1,517.2 L452.0,532.0" stroke="url(#g10)" stroke-width="1.9" stroke-opacity="0.50"/><path d="M339.2,420.0 L353.7,430.8 L368.0,441.4 L381.7,452.3 L394.5,464.1 L407.1,476.3 L419.0,489.3 L430.5,502.7 L441.7,516.8 L452.0,532.0" stroke="url(#g10)" stroke-width="3.8" stroke-opacity="0.69"/><path d="M357.3,436.9 L369.5,445.6 L381.2,454.6 L392.3,464.3 L403.2,474.3 L413.7,484.8 L423.7,495.8 L433.7,507.0 L443.1,519.1 L452.0,532.0" stroke="url(#g10)" stroke-width="1.7" stroke-opacity="0.26"/><path d="M379.0,455.5 L387.9,462.8 L396.6,470.4 L405.3,478.1 L413.7,486.2 L421.7,494.7 L429.7,503.2 L437.6,512.1 L444.9,521.9 L452.0,532.0" stroke="url(#g10)" stroke-width="1.7" stroke-opacity="0.48"/><path d="M329.2,425.8 L345.1,435.7 L360.3,445.9 L375.2,455.7 L389.3,466.5 L402.9,477.9 L416.0,490.1 L428.6,502.8 L440.8,516.6 L452.0,532.0" stroke="url(#g10)" stroke-width="3.0" stroke-opacity="0.38"/><path d="M373.1,456.6 L382.8,463.5 L392.2,470.8 L401.5,478.2 L410.7,486.1 L419.3,494.4 L428.0,502.9 L436.5,511.7 L444.4,521.6 L452.0,532.0" stroke="url(#g10)" stroke-width="3.7" stroke-opacity="0.64"/><path d="M364.5,452.0 L375.5,459.0 L386.0,466.6 L396.2,474.5 L406.4,482.7 L416.0,491.6 L425.5,500.7 L434.9,510.0 L443.7,520.7 L452.0,532.0" stroke="url(#g10)" stroke-width="2.9" stroke-opacity="0.40"/><path d="M354.8,449.2 L367.1,456.4 L378.9,463.8 L390.2,471.9 L401.4,480.3 L412.3,489.4 L422.7,499.0 L433.1,508.7 L442.9,519.9 L452.0,532.0" stroke="url(#g10)" stroke-width="2.6" stroke-opacity="0.45"/><path d="M341.9,446.6 L355.6,454.6 L369.2,461.9 L382.2,469.8 L394.7,478.3 L407.1,487.3 L418.9,497.2 L430.6,507.2 L441.8,518.9 L452.0,532.0" stroke="url(#g10)" stroke-width="3.6" stroke-opacity="0.32"/><path d="M353.5,455.5 L365.8,461.9 L377.7,468.6 L389.1,475.8 L400.5,483.4 L411.5,491.7 L422.2,500.6 L432.8,509.5 L442.7,520.3 L452.0,532.0" stroke="url(#g10)" stroke-width="2.5" stroke-opacity="0.49"/><path d="M341.4,450.0 L355.2,457.6 L368.7,464.5 L381.7,471.9 L394.3,480.0 L406.8,488.6 L418.7,498.1 L430.5,507.7 L441.7,519.1 L452.0,532.0" stroke="url(#g10)" stroke-width="2.5" stroke-opacity="0.35"/><path d="M367.1,467.7 L377.4,473.0 L387.4,478.7 L397.4,484.6 L407.2,491.1 L416.7,498.1 L426.0,505.2 L435.3,512.8 L443.9,522.1 L452.0,532.0" stroke="url(#g10)" stroke-width="3.1" stroke-opacity="0.60"/><path d="M329.9,450.2 L345.1,458.2 L360.0,465.2 L374.4,472.1 L388.3,479.8 L402.1,488.0 L415.3,497.3 L428.3,507.0 L440.7,518.4 L452.0,532.0" stroke="url(#g10)" stroke-width="1.7" stroke-opacity="0.69"/><path d="M382.0,478.8 L390.3,483.2 L398.7,487.8 L406.9,492.9 L414.8,498.3 L422.7,503.9 L430.6,509.5 L438.2,516.1 L445.2,524.0 L452.0,532.0" stroke="url(#g10)" stroke-width="2.3" stroke-opacity="0.44"/><path d="M375.7,478.0 L384.8,482.3 L393.8,486.9 L402.8,491.8 L411.5,497.3 L420.1,503.0 L428.6,508.7 L437.0,515.3 L444.6,523.5 L452.0,532.0" stroke="url(#g10)" stroke-width="2.6" stroke-opacity="0.49"/><path d="M342.9,466.4 L356.3,471.8 L369.4,476.7 L382.0,482.3 L394.5,488.3 L406.9,495.1 L418.8,502.7 L430.6,510.4 L441.8,520.4 L452.0,532.0" stroke="url(#g10)" stroke-width="3.8" stroke-opacity="0.70"/><path d="M337.6,467.1 L351.5,472.9 L365.2,477.5 L378.6,482.8 L391.6,488.6 L404.6,495.1 L417.1,502.5 L429.5,510.1 L441.3,520.1 L452.0,532.0" stroke="url(#g10)" stroke-width="3.7" stroke-opacity="0.48"/><path d="M353.1,476.8 L365.1,480.4 L376.7,484.6 L388.1,489.1 L399.6,494.2 L410.7,500.0 L421.7,506.2 L432.6,512.8 L442.6,521.8 L452.0,532.0" stroke="url(#g10)" stroke-width="1.7" stroke-opacity="0.62"/><path d="M381.1,486.9 L389.5,490.3 L397.9,493.9 L406.2,497.9 L414.3,502.3 L422.3,506.8 L430.4,511.4 L438.1,517.4 L445.1,524.6 L452.0,532.0" stroke="url(#g10)" stroke-width="1.9" stroke-opacity="0.42"/><path d="M342.3,476.5 L355.6,480.6 L368.6,484.3 L381.3,488.6 L393.8,493.3 L406.3,499.0 L418.4,505.3 L430.4,511.9 L441.7,521.1 L452.0,532.0" stroke="url(#g10)" stroke-width="3.1" stroke-opacity="0.30"/><path d="M333.6,476.3 L347.8,481.3 L361.9,484.8 L375.6,488.7 L389.1,493.2 L402.6,498.5 L415.6,504.8 L428.6,511.3 L440.9,520.6 L452.0,532.0" stroke="url(#g10)" stroke-width="1.5" stroke-opacity="0.51"/><path d="M372.0,489.8 L381.4,492.5 L390.8,495.4 L400.2,498.8 L409.4,502.8 L418.4,507.0 L427.5,511.3 L436.3,516.7 L444.3,524.2 L452.0,532.0" stroke="url(#g10)" stroke-width="3.2" stroke-opacity="0.50"/><path d="M384.1,496.0 L392.1,498.2 L400.2,500.9 L408.0,503.9 L415.8,507.2 L423.6,510.4 L431.4,514.0 L438.7,519.2 L445.4,525.5 L452.0,532.0" stroke="url(#g10)" stroke-width="2.3" stroke-opacity="0.64"/><path d="M341.1,488.9 L354.4,491.3 L367.3,493.5 L380.1,496.2 L392.8,499.5 L405.4,503.7 L417.8,508.6 L430.1,513.7 L441.5,521.9 L452.0,532.0" stroke="url(#g10)" stroke-width="3.5" stroke-opacity="0.27"/><path d="M381.1,498.1 L389.4,499.9 L397.8,502.2 L406.1,504.9 L414.2,507.9 L422.3,510.9 L430.4,514.2 L438.1,519.2 L445.1,525.5 L452.0,532.0" stroke="url(#g10)" stroke-width="3.1" stroke-opacity="0.60"/><path d="M354.1,495.7 L365.6,497.1 L376.9,498.9 L388.2,501.0 L399.6,503.9 L410.7,507.5 L421.8,511.3 L432.7,515.8 L442.7,523.3 L452.0,532.0" stroke="url(#g10)" stroke-width="1.8" stroke-opacity="0.44"/><path d="M376.5,499.9 L385.3,501.4 L394.2,503.2 L403.0,505.6 L411.7,508.4 L420.3,511.2 L429.0,514.2 L437.2,518.9 L444.7,525.3 L452.0,532.0" stroke="url(#g10)" stroke-width="3.7" stroke-opacity="0.73"/><path d="M381.2,502.3 L389.6,503.6 L397.9,505.4 L406.1,507.6 L414.3,510.0 L422.4,512.5 L430.5,515.3 L438.2,519.9 L445.2,525.9 L452.0,532.0" stroke="url(#g10)" stroke-width="3.8" stroke-opacity="0.26"/><path d="M336.6,500.8 L350.2,501.9 L363.5,502.5 L376.7,503.6 L389.9,505.3 L403.1,508.0 L416.1,511.4 L429.1,515.2 L441.1,522.5 L452.0,532.0" stroke="url(#g10)" stroke-width="1.7" stroke-opacity="0.47"/><path d="M341.7,504.3 L354.5,504.5 L367.2,504.9 L379.9,505.7 L392.6,507.1 L405.2,509.6 L417.7,512.6 L430.1,516.0 L441.6,523.1 L452.0,532.0" stroke="url(#g10)" stroke-width="2.3" stroke-opacity="0.49"/><path d="M338.6,506.1 L351.8,506.3 L364.8,506.3 L377.8,506.8 L390.8,507.9 L403.8,510.1 L416.7,512.9 L429.5,516.1 L441.3,523.0 L452.0,532.0" stroke="url(#g10)" stroke-width="1.9" stroke-opacity="0.26"/><path d="M387.9,508.6 L395.4,509.5 L403.0,510.7 L410.4,512.1 L417.9,513.7 L425.4,515.2 L432.7,517.7 L439.5,521.8 L445.8,526.9 L452.0,532.0" stroke="url(#g10)" stroke-width="2.0" stroke-opacity="0.63"/><path d="M381.1,510.0 L389.4,510.4 L397.7,511.2 L405.9,512.4 L414.2,513.9 L422.4,515.2 L430.6,517.2 L438.2,521.2 L445.2,526.5 L452.0,532.0" stroke="url(#g10)" stroke-width="3.5" stroke-opacity="0.28"/><path d="M379.8,511.0 L388.2,511.2 L396.7,511.8 L405.1,512.9 L413.5,514.2 L421.9,515.5 L430.2,517.3 L438.0,521.2 L445.0,526.5 L452.0,532.0" stroke="url(#g10)" stroke-width="3.1" stroke-opacity="0.68"/><path d="M380.3,511.9 L388.7,512.0 L397.1,512.6 L405.4,513.6 L413.8,514.7 L422.1,515.9 L430.4,517.6 L438.1,521.4 L445.1,526.6 L452.0,532.0" stroke="url(#g10)" stroke-width="2.5" stroke-opacity="0.64"/><path d="M352.9,516.5 L364.3,515.3 L375.6,514.3 L387.0,513.9 L398.5,514.3 L409.9,515.4 L421.3,516.5 L432.5,518.9 L442.6,524.9 L452.0,532.0" stroke="url(#g10)" stroke-width="2.8" stroke-opacity="0.26"/><path d="M383.4,515.7 L391.5,515.5 L399.5,515.7 L407.5,516.2 L415.5,516.8 L423.5,517.4 L431.4,518.9 L438.7,522.5 L445.4,527.2 L452.0,532.0" stroke="url(#g10)" stroke-width="3.1" stroke-opacity="0.57"/><path d="M358.3,519.7 L369.0,518.2 L379.8,517.0 L390.6,516.4 L401.5,516.5 L412.3,517.1 L423.1,517.7 L433.7,520.0 L443.1,525.6 L452.0,532.0" stroke="url(#g10)" stroke-width="2.1" stroke-opacity="0.57"/><path d="M383.9,518.2 L391.9,517.7 L399.9,517.6 L407.9,517.8 L415.8,518.0 L423.8,518.3 L431.6,519.6 L438.8,523.0 L445.4,527.5 L452.0,532.0" stroke="url(#g10)" stroke-width="3.5" stroke-opacity="0.33"/></g><path d="M148.0,442.0 L150.6,439.8 L153.2,437.7 L155.8,435.5 L158.4,433.3 L161.1,431.1 L163.7,428.9 L166.3,426.8 L169.0,424.6 L171.6,422.5 L174.3,420.5 L177.1,418.5 L179.9,416.5 L182.6,414.5 L185.4,412.6 L188.2,410.7 L191.1,408.8 L193.9,406.9 L196.8,405.1 L199.6,403.3 L202.5,401.5 L205.5,399.7 L208.4,398.0 L211.3,396.2 L214.2,394.5 L217.2,392.9 L220.2,391.2 L223.2,389.7 L226.3,388.3 L229.4,387.0 L232.6,385.8 L235.9,384.7 L239.1,383.7 L242.4,382.9 L245.7,382.2 L249.1,381.5 L252.4,381.0 L255.8,380.5 L259.2,380.2 L262.6,380.0 L262.6,380.0 L255.4,383.7 L248.3,387.5 L241.1,391.6 L234.0,396.0 L226.9,400.4 L219.9,405.2 L212.9,410.1 L205.7,414.9 L198.4,419.5 L190.7,423.9 L182.6,428.2 L173.8,432.4 L163.9,436.7 L157.3,439.4 L156.9,439.9 L156.5,440.4 L156.1,440.8 L155.7,441.2 L155.3,441.6 L154.9,442.0 L154.5,442.3 L154.2,442.6 L153.8,442.8 L153.4,443.1 L153.0,443.3 L152.7,443.4 L152.3,443.6 L151.9,443.7 L151.6,443.8 L151.2,443.8 L150.8,443.8 L150.5,443.8 L150.1,443.8 L149.8,443.7 L149.4,443.7 L149.0,443.5 L148.7,443.4 L148.3,443.2 L148.0,443.0 L148.0,443.0 L148.0,443.0 L148.0,443.0 L148.0,443.0 L148.0,443.0 L148.0,443.0 L148.0,443.0 L148.0,443.0 L148.0,443.0 L148.0,443.0 L148.0,443.0 L148.0,443.0 L148.0,443.0 L148.0,443.0 L148.0,443.0 L148.0,443.0 L148.0,443.0 L148.0,443.0 L148.0,443.0 L148.0,443.0 L148.0,443.0 L148.0,443.0 L148.0,443.0 L148.0,443.0 L148.0,443.0 L148.0,443.0 L148.0,443.0 L148.0,443.0 L148.0,443.0 L148.0,443.0 L148.0,443.0 L148.0,443.0 L148.0,443.0 L148.0,443.0 L148.0,443.0 L148.0,443.0 L148.0,443.0 L148.0,443.0 L148.0,443.0 L148.0,443.0 L148.0,443.0 L148.0,443.0 L148.0,442.9 L148.0,442.9 L148.0,442.9 L148.0,442.9 L148.0,442.8 L148.0,442.8 L148.0,442.8 L148.0,442.8 L148.0,442.7 L148.0,442.7 L148.0,442.7 L148.0,442.7 L148.0,442.6 L148.0,442.6 L148.0,442.6 L148.0,442.6 L148.0,442.5 L148.0,442.5 L148.0,442.5 L148.0,442.5 L148.0,442.4 L148.0,442.4 L148.0,442.4 L148.0,442.4 L148.0,442.3 L148.0,442.3 L148.0,442.3 L148.0,442.3 L148.0,442.2 L148.0,442.2 L148.0,442.2 L148.0,442.2 L148.0,442.1 L148.0,442.1 L148.0,442.1 L148.0,442.1 L148.0,442.0 L148.0,442.0 Z" fill="url(#g19)" filter="url(#bl3)"/><g fill="none" stroke-linecap="round"><path d="M295.8,382.1 L277.4,380.5 L259.0,380.9 L240.9,383.9 L223.6,390.0 L207.5,398.9 L191.8,408.6 L176.7,419.0 L162.2,430.3 L148.0,442.0" stroke="url(#g3)" stroke-width="2.9" stroke-opacity="0.67"/><path d="M311.6,388.4 L291.7,384.8 L271.6,383.4 L251.5,384.4 L231.9,388.9 L213.7,397.1 L196.4,407.1 L179.6,417.9 L163.6,429.7 L148.0,442.0" stroke="url(#g3)" stroke-width="2.6" stroke-opacity="0.32"/><path d="M335.1,399.1 L313.7,390.6 L291.1,386.3 L268.2,384.9 L245.4,386.7 L223.6,393.2 L203.6,403.7 L184.3,415.4 L165.8,428.2 L148.0,442.0" stroke="url(#g3)" stroke-width="3.8" stroke-opacity="0.55"/><path d="M279.0,388.5 L262.6,388.1 L246.2,389.4 L230.4,393.0 L215.5,399.2 L201.3,406.7 L187.3,414.7 L173.8,423.3 L160.8,432.6 L148.0,442.1" stroke="url(#g3)" stroke-width="1.6" stroke-opacity="0.25"/><path d="M276.2,389.1 L260.1,388.8 L244.1,390.4 L228.6,394.2 L214.2,400.4 L200.2,407.7 L186.6,415.5 L173.3,423.8 L160.5,432.8 L148.0,442.1" stroke="url(#g3)" stroke-width="4.0" stroke-opacity="0.51"/><path d="M264.0,391.5 L249.3,392.1 L235.0,394.5 L221.3,398.9 L208.3,405.0 L195.6,411.5 L183.2,418.5 L171.1,426.0 L159.5,434.0 L148.0,442.1" stroke="url(#g3)" stroke-width="1.5" stroke-opacity="0.24"/><path d="M277.3,394.2 L261.1,393.5 L245.1,394.4 L229.5,397.6 L214.8,403.2 L200.8,409.9 L187.0,417.2 L173.6,425.0 L160.7,433.4 L148.0,442.1" stroke="url(#g3)" stroke-width="1.9" stroke-opacity="0.35"/><path d="M257.7,396.7 L243.9,397.5 L230.4,400.0 L217.6,404.2 L205.4,409.6 L193.4,415.3 L181.6,421.5 L170.1,428.0 L159.0,435.0 L148.0,442.1" stroke="url(#g3)" stroke-width="1.8" stroke-opacity="0.60"/><path d="M289.2,400.7 L271.6,398.8 L254.2,398.2 L237.1,399.8 L220.8,404.0 L205.4,410.4 L190.4,417.5 L175.8,425.1 L161.7,433.5 L148.0,442.1" stroke="url(#g3)" stroke-width="2.2" stroke-opacity="0.57"/><path d="M262.2,399.9 L247.9,400.0 L233.8,401.8 L220.4,405.4 L207.7,410.4 L195.1,416.0 L182.9,421.9 L170.9,428.3 L159.4,435.2 L148.0,442.2" stroke="url(#g3)" stroke-width="3.7" stroke-opacity="0.38"/><path d="M252.4,403.2 L239.3,404.0 L226.7,406.2 L214.6,410.0 L203.0,414.5 L191.5,419.4 L180.2,424.6 L169.2,430.2 L158.5,436.2 L148.0,442.2" stroke="url(#g3)" stroke-width="1.8" stroke-opacity="0.44"/><path d="M238.1,405.8 L227.0,407.6 L216.3,410.6 L206.1,414.4 L195.9,418.4 L185.9,422.7 L176.1,427.2 L166.6,432.0 L157.3,437.1 L148.0,442.2" stroke="url(#g3)" stroke-width="2.8" stroke-opacity="0.44"/><path d="M282.5,409.7 L265.9,407.7 L249.3,406.9 L233.2,408.1 L217.8,411.5 L203.1,416.7 L188.8,422.3 L174.7,428.5 L161.2,435.2 L148.0,442.2" stroke="url(#g3)" stroke-width="3.7" stroke-opacity="0.43"/><path d="M279.9,411.6 L263.5,409.7 L247.3,408.9 L231.5,410.1 L216.5,413.4 L202.2,418.2 L188.1,423.5 L174.3,429.3 L161.0,435.7 L148.0,442.2" stroke="url(#g3)" stroke-width="3.4" stroke-opacity="0.48"/><path d="M247.0,411.6 L234.7,412.2 L222.9,413.9 L211.6,416.9 L200.5,420.5 L189.5,424.3 L178.8,428.4 L168.3,432.8 L158.1,437.5 L148.0,442.3" stroke="url(#g3)" stroke-width="3.3" stroke-opacity="0.51"/><path d="M240.1,414.2 L228.8,415.1 L217.9,417.1 L207.5,419.9 L197.1,423.0 L186.9,426.4 L176.8,430.1 L167.0,434.0 L157.5,438.1 L148.0,442.3" stroke="url(#g3)" stroke-width="1.7" stroke-opacity="0.65"/><path d="M269.9,418.1 L254.8,416.3 L240.0,415.7 L225.5,416.8 L211.9,419.7 L198.5,423.5 L185.4,427.6 L172.6,432.2 L160.2,437.2 L148.0,442.3" stroke="url(#g3)" stroke-width="3.4" stroke-opacity="0.60"/><path d="M271.2,420.1 L256.0,418.1 L241.0,417.3 L226.4,418.1 L212.5,420.7 L199.1,424.3 L185.8,428.2 L172.8,432.6 L160.3,437.4 L148.0,442.3" stroke="url(#g3)" stroke-width="3.0" stroke-opacity="0.43"/><path d="M220.2,420.4 L211.7,422.1 L203.4,424.1 L195.2,426.3 L187.0,428.6 L178.9,431.1 L171.0,433.8 L163.2,436.6 L155.6,439.5 L148.0,442.3" stroke="url(#g3)" stroke-width="2.1" stroke-opacity="0.39"/><path d="M248.7,421.7 L236.3,421.2 L224.3,421.8 L212.8,423.6 L201.5,426.1 L190.4,428.9 L179.4,431.9 L168.7,435.2 L158.3,438.8 L148.0,442.3" stroke="url(#g3)" stroke-width="3.9" stroke-opacity="0.51"/></g></g></g><use href="#p8" fill="none" stroke="#3f3431" stroke-width="1.5" stroke-linejoin="round"/><path d="M352.0,523.0 C356.3,521.2 375.7,519.0 386.0,518.0 C396.3,517.0 406.2,516.8 414.0,517.0 C421.8,517.2 426.7,516.5 433.0,519.0 C439.3,521.5 449.8,529.0 452.0,532.0 C454.2,535.0 451.3,536.8 446.0,537.0 C440.7,537.2 429.3,534.0 420.0,533.0 C410.7,532.0 400.0,531.7 390.0,531.0 C380.0,530.3 366.3,530.3 360.0,529.0 C353.7,527.7 347.7,524.8 352.0,523.0 Z" fill="#f3f1ee" filter="url(#bl06)"/><path d="M360.0,529.0 C370.0,529.7 380.0,530.3 390.0,531.0 C400.0,531.7 410.7,532.0 420.0,533.0 C429.3,534.0 437.3,535.7 446.0,537.0" fill="none" stroke="#5a4e4a" stroke-width="0.9" opacity="0.7"/><path d="M415.0,557.0 C420.8,551.3 439.3,554.7 450.0,555.0 C460.7,555.3 473.5,556.0 479.0,559.0 C484.5,562.0 482.7,569.2 483.0,573.0 C483.3,576.8 482.8,579.3 481.0,582.0 C479.2,584.7 476.3,587.3 472.0,589.0 C467.7,590.7 460.8,591.7 455.0,592.0 C449.2,592.3 443.7,591.5 437.0,591.0 C430.3,590.5 418.7,594.7 415.0,589.0 C411.3,583.3 409.2,562.7 415.0,557.0 Z" fill="url(#g20)" mask="url(#bulmask)"/><path d="M479.0,559.0 C480.3,563.7 482.7,569.2 483.0,573.0 C483.3,576.8 482.8,579.3 481.0,582.0 C479.2,584.7 476.3,587.3 472.0,589.0 C467.7,590.7 460.8,591.7 455.0,592.0 C449.2,592.3 443.0,591.3 437.0,591.0" fill="none" stroke="#4f4a46" stroke-width="1.2"/><path d="M434.0,603.0 C433.0,606.0 431.7,608.2 431.0,612.0 C430.3,615.8 430.3,621.3 430.0,626.0" fill="none" stroke="#4f4a46" stroke-width="1.1"/><path d="M486.0,552.0 C485.7,559.0 486.0,565.3 485.0,573.0 C484.0,580.7 480.3,592.0 480.0,598.0 C479.7,604.0 481.3,606.3 483.0,609.0 C484.7,611.7 487.8,613.7 490.0,614.0 C492.2,614.3 494.0,612.0 496.0,611.0" fill="none" stroke="#4f4a46" stroke-width="1.1"/><path d="M518.0,598.0 C522.0,600.0 527.0,601.7 530.0,604.0 C533.0,606.3 534.0,609.3 536.0,612.0" fill="none" stroke="#6a6560" stroke-width="1"/><path d="M352.0,546.0 C358.0,548.0 364.0,549.2 370.0,552.0 C376.0,554.8 382.7,559.2 388.0,563.0 C393.3,566.8 397.7,571.3 402.0,575.0 C406.3,578.7 410.2,582.5 414.0,585.0 C417.8,587.5 421.3,588.3 425.0,590.0" fill="none" stroke="#5a4a45" stroke-width="1.1" stroke-opacity="0.8"/><path d="M436,541 C437,533 443,529 450,530" fill="none" stroke="#4f4a46" stroke-width="4.5" stroke-linecap="round"/><path d="M436,541 C437,533 443,529 450,530" fill="none" stroke="#f4f3f0" stroke-width="2.6" stroke-linecap="round"/><path d="M656.0,790.0 C649.8,781.7 656.7,753.0 657.0,740.0 C657.3,727.0 656.8,719.3 658.0,712.0 C659.2,704.7 661.0,699.7 664.0,696.0 C667.0,692.3 671.7,690.2 676.0,690.0 C680.3,689.8 687.0,691.3 690.0,695.0 C693.0,698.7 693.7,703.7 694.0,712.0 C694.3,720.3 692.0,732.0 692.0,745.0 C692.0,758.0 700.0,782.5 694.0,790.0 C688.0,797.5 662.2,798.3 656.0,790.0 Z" fill="url(#g22)" stroke="#5f5a56" stroke-width="1.2" stroke-opacity="1"/><path d="M686.0,790.0 C682.3,782.5 689.0,758.0 690.0,745.0 C691.0,732.0 690.3,719.5 692.0,712.0 C693.7,704.5 696.8,702.5 700.0,700.0 C703.2,697.5 708.7,692.0 711.0,697.0 C713.3,702.0 713.8,714.5 714.0,730.0 C714.2,745.5 716.7,780.0 712.0,790.0 C707.3,800.0 689.7,797.5 686.0,790.0 Z" fill="url(#g23)" stroke="#5f5a56" stroke-width="1.2" stroke-opacity="1"/><path d="M712.0,790.0 C705.2,782.5 715.7,759.2 716.0,745.0 C716.3,730.8 714.5,715.5 714.0,705.0 C713.5,694.5 712.0,688.8 713.0,682.0 C714.0,675.2 716.3,668.2 720.0,664.0 C723.7,659.8 730.0,657.0 735.0,657.0 C740.0,657.0 746.5,659.3 750.0,664.0 C753.5,668.7 755.7,676.5 756.0,685.0 C756.3,693.5 752.2,705.0 752.0,715.0 C751.8,725.0 754.2,732.5 755.0,745.0 C755.8,757.5 764.2,782.5 757.0,790.0 C749.8,797.5 718.8,797.5 712.0,790.0 Z" fill="url(#g24)" stroke="#5f5a56" stroke-width="1.2" stroke-opacity="1"/><path d="M671.0,676.0 C671.7,672.2 674.2,665.7 678.0,663.0 C681.8,660.3 688.7,659.5 694.0,660.0 C699.3,660.5 707.0,662.7 710.0,666.0 C713.0,669.3 713.0,676.0 712.0,680.0 C711.0,684.0 708.3,688.2 704.0,690.0 C699.7,691.8 691.0,691.7 686.0,691.0 C681.0,690.3 676.5,688.5 674.0,686.0 C671.5,683.5 670.3,679.8 671.0,676.0 Z" fill="url(#g25)" stroke="#5f5a56" stroke-width="1.2" stroke-opacity="1"/><path d="M694.0,650.0 C700.7,646.5 731.8,645.3 740.0,647.0 C748.2,648.7 743.5,656.0 743.0,660.0 C742.5,664.0 741.2,668.8 737.0,671.0 C732.8,673.2 724.2,673.5 718.0,673.0 C711.8,672.5 704.0,671.8 700.0,668.0 C696.0,664.2 687.3,653.5 694.0,650.0 Z" fill="url(#g26)" stroke="#5f5a56" stroke-width="1.2" stroke-opacity="1"/><path d="M680.0,505.0 C673.5,512.5 680.6,535.8 681.0,550.0 C681.4,564.2 682.7,580.7 682.5,590.0 C682.3,599.3 681.2,601.0 680.0,606.0 C678.8,611.0 676.8,615.2 675.0,620.0 C673.2,624.8 669.0,630.7 669.0,635.0 C669.0,639.3 671.5,643.5 675.0,646.0 C678.5,648.5 685.0,649.7 690.0,650.0 C695.0,650.3 699.7,647.8 705.0,648.0 C710.3,648.2 716.3,651.3 722.0,651.0 C727.7,650.7 735.3,649.3 739.0,646.0 C742.7,642.7 743.8,635.3 744.0,631.0 C744.2,626.7 742.2,623.7 740.0,620.0 C737.8,616.3 733.7,613.3 731.0,609.0 C728.3,604.7 725.5,603.8 724.0,594.0 C722.5,584.2 722.7,564.8 722.0,550.0 C721.3,535.2 727.0,512.5 720.0,505.0 C713.0,497.5 686.5,497.5 680.0,505.0 Z" fill="url(#g27)" stroke="#5f5a56" stroke-width="1.2" stroke-opacity="1"/><path d="M723.0,600.0 C724.0,605.0 725.3,609.7 726.0,615.0 C726.7,620.3 727.3,627.0 727.0,632.0 C726.7,637.0 725.0,640.7 724.0,645.0" fill="none" stroke="#7d7771" stroke-width="1"/><path d="M727.0,598.0 C728.3,603.7 730.2,609.3 731.0,615.0 C731.8,620.7 732.3,626.8 732.0,632.0 C731.7,637.2 730.0,641.3 729.0,646.0" fill="none" stroke="#8d8780" stroke-width="0.8"/><circle cx="690" cy="630" r="0.9" fill="#8f8a84" opacity="0.7"/><circle cx="695" cy="636" r="0.9" fill="#8f8a84" opacity="0.7"/><circle cx="702" cy="633" r="0.9" fill="#8f8a84" opacity="0.7"/><circle cx="710" cy="640" r="0.9" fill="#8f8a84" opacity="0.7"/><circle cx="716" cy="628" r="0.9" fill="#8f8a84" opacity="0.7"/><circle cx="700" cy="622" r="0.9" fill="#8f8a84" opacity="0.7"/><circle cx="686" cy="640" r="0.9" fill="#8f8a84" opacity="0.7"/><circle cx="722" cy="678" r="0.9" fill="#8f8a84" opacity="0.7"/><circle cx="728" cy="690" r="0.9" fill="#8f8a84" opacity="0.7"/><circle cx="735" cy="700" r="0.9" fill="#8f8a84" opacity="0.7"/><circle cx="680" cy="705" r="0.9" fill="#8f8a84" opacity="0.7"/><circle cx="676" cy="720" r="0.9" fill="#8f8a84" opacity="0.7"/><circle cx="684" cy="668" r="0.9" fill="#8f8a84" opacity="0.7"/><rect x="660" y="495" width="80" height="46" fill="url(#g28)"/><path d="M452.0,518.0 C455.7,512.0 459.8,505.7 463.0,500.0 C466.2,494.3 468.3,489.7 471.0,484.0 C473.7,478.3 476.3,472.2 479.0,466.0 C481.7,459.8 484.3,453.3 487.0,447.0 C489.7,440.7 492.5,434.2 495.0,428.0 C497.5,421.8 499.7,416.0 502.0,410.0" fill="none" stroke="#6a6e77" stroke-width="4.800000000000001" stroke-linecap="round" stroke-linejoin="round" stroke-opacity="1"/><path d="M452.0,518.0 C455.7,512.0 459.8,505.7 463.0,500.0 C466.2,494.3 468.3,489.7 471.0,484.0 C473.7,478.3 476.3,472.2 479.0,466.0 C481.7,459.8 484.3,453.3 487.0,447.0 C489.7,440.7 492.5,434.2 495.0,428.0 C497.5,421.8 499.7,416.0 502.0,410.0" fill="none" stroke="#a3a7b0" stroke-width="3.2" stroke-linecap="round" stroke-linejoin="round" stroke-opacity="1"/><path d="M452.0,518.0 C455.7,512.0 459.8,505.7 463.0,500.0 C466.2,494.3 468.3,489.7 471.0,484.0 C473.7,478.3 476.3,472.2 479.0,466.0 C481.7,459.8 484.3,453.3 487.0,447.0 C489.7,440.7 492.5,434.2 495.0,428.0 C497.5,421.8 499.7,416.0 502.0,410.0" fill="none" stroke="#c6c9d0" stroke-width="1.0" stroke-linecap="round" stroke-opacity="0.5" transform="translate(-0.6,-0.8)"/><path d="M562.0,190.0 C564.7,195.3 568.0,200.3 570.0,206.0 C572.0,211.7 573.7,217.7 574.0,224.0 C574.3,230.3 573.3,237.3 572.0,244.0 C570.7,250.7 568.5,256.8 566.0,264.0 C563.5,271.2 559.8,280.2 557.0,287.0 C554.2,293.8 551.7,299.0 549.0,305.0" fill="none" stroke="#6a6e77" stroke-width="5.4" stroke-linecap="round" stroke-linejoin="round" stroke-opacity="1"/><path d="M562.0,190.0 C564.7,195.3 568.0,200.3 570.0,206.0 C572.0,211.7 573.7,217.7 574.0,224.0 C574.3,230.3 573.3,237.3 572.0,244.0 C570.7,250.7 568.5,256.8 566.0,264.0 C563.5,271.2 559.8,280.2 557.0,287.0 C554.2,293.8 551.7,299.0 549.0,305.0" fill="none" stroke="#a3a7b0" stroke-width="3.6" stroke-linecap="round" stroke-linejoin="round" stroke-opacity="1"/><path d="M562.0,190.0 C564.7,195.3 568.0,200.3 570.0,206.0 C572.0,211.7 573.7,217.7 574.0,224.0 C574.3,230.3 573.3,237.3 572.0,244.0 C570.7,250.7 568.5,256.8 566.0,264.0 C563.5,271.2 559.8,280.2 557.0,287.0 C554.2,293.8 551.7,299.0 549.0,305.0" fill="none" stroke="#c6c9d0" stroke-width="1.1" stroke-linecap="round" stroke-opacity="0.5" transform="translate(-0.6,-0.8)"/><path d="M569.0,194.0 C571.7,199.3 575.2,204.3 577.0,210.0 C578.8,215.7 579.8,221.7 580.0,228.0 C580.2,234.3 579.2,241.3 578.0,248.0 C576.8,254.7 574.7,261.3 573.0,268.0" fill="none" stroke="#a3945f" stroke-width="3.2" stroke-linecap="round" stroke-linejoin="round" stroke-opacity="1"/><path d="M569.0,194.0 C571.7,199.3 575.2,204.3 577.0,210.0 C578.8,215.7 579.8,221.7 580.0,228.0 C580.2,234.3 579.2,241.3 578.0,248.0 C576.8,254.7 574.7,261.3 573.0,268.0" fill="none" stroke="#ebdfaf" stroke-width="1.8" stroke-linecap="round" stroke-linejoin="round" stroke-opacity="1"/><path d="M525.0,560.0 C528.0,556.0 531.0,552.2 534.0,548.0 C537.0,543.8 540.3,539.3 543.0,535.0 C545.7,530.7 547.7,526.2 550.0,522.0 C552.3,517.8 554.7,514.0 557.0,510.0" fill="none" stroke="#a3945f" stroke-width="3.8000000000000003" stroke-linecap="round" stroke-linejoin="round" stroke-opacity="1"/><path d="M525.0,560.0 C528.0,556.0 531.0,552.2 534.0,548.0 C537.0,543.8 540.3,539.3 543.0,535.0 C545.7,530.7 547.7,526.2 550.0,522.0 C552.3,517.8 554.7,514.0 557.0,510.0" fill="none" stroke="#ebdfaf" stroke-width="2.2" stroke-linecap="round" stroke-linejoin="round" stroke-opacity="1"/><path d="M530.0,566.0 C533.3,561.3 536.3,557.0 540.0,552.0 C543.7,547.0 548.3,541.7 552.0,536.0 C555.7,530.3 558.7,524.0 562.0,518.0" fill="none" stroke="#a3945f" stroke-width="3.0" stroke-linecap="round" stroke-linejoin="round" stroke-opacity="1"/><path d="M530.0,566.0 C533.3,561.3 536.3,557.0 540.0,552.0 C543.7,547.0 548.3,541.7 552.0,536.0 C555.7,530.3 558.7,524.0 562.0,518.0" fill="none" stroke="#ebdfaf" stroke-width="1.6" stroke-linecap="round" stroke-linejoin="round" stroke-opacity="1"/><path d="M534.0,540.0 C536.7,544.0 539.2,547.0 542.0,552.0 C544.8,557.0 548.0,564.0 551.0,570.0" fill="none" stroke="#77726f" stroke-width="3.2" stroke-linecap="round" stroke-linejoin="round" stroke-opacity="1"/><path d="M534.0,540.0 C536.7,544.0 539.2,547.0 542.0,552.0 C544.8,557.0 548.0,564.0 551.0,570.0" fill="none" stroke="#b9b6b4" stroke-width="1.8" stroke-linecap="round" stroke-linejoin="round" stroke-opacity="1"/><path d="M467.0,524.0 C470.0,520.7 472.8,517.5 476.0,514.0 C479.2,510.5 482.7,506.7 486.0,503.0" fill="none" stroke="#a3945f" stroke-width="3.6" stroke-linecap="round" stroke-linejoin="round" stroke-opacity="1"/><path d="M467.0,524.0 C470.0,520.7 472.8,517.5 476.0,514.0 C479.2,510.5 482.7,506.7 486.0,503.0" fill="none" stroke="#ebdfaf" stroke-width="2" stroke-linecap="round" stroke-linejoin="round" stroke-opacity="1"/><path d="M447,545 C455,536 466,538 480,548 C470,552 458,553 447,549 Z" fill="#e9dcae" stroke="#9c8d5c" stroke-width="1"/><path d="M420.0,588.0 C426.7,590.0 433.3,592.3 440.0,594.0 C446.7,595.7 453.7,597.7 460.0,598.0 C466.3,598.3 473.7,597.7 478.0,596.0 C482.3,594.3 483.3,590.7 486.0,588.0" fill="none" stroke="#a3945f" stroke-width="3.2" stroke-linecap="round" stroke-linejoin="round" stroke-opacity="1"/><path d="M420.0,588.0 C426.7,590.0 433.3,592.3 440.0,594.0 C446.7,595.7 453.7,597.7 460.0,598.0 C466.3,598.3 473.7,597.7 478.0,596.0 C482.3,594.3 483.3,590.7 486.0,588.0" fill="none" stroke="#ebdfaf" stroke-width="2.0" stroke-linecap="round" stroke-linejoin="round" stroke-opacity="1"/><path d="M420.0,589.2 C426.7,591.5 433.3,594.1 440.0,596.0 C446.7,597.9 453.7,600.2 460.0,600.4 C466.3,600.6 473.7,599.3 478.0,597.2 C482.3,595.1 483.3,591.1 486.0,588.0" fill="none" stroke="#a3945f" stroke-width="2.8" stroke-linecap="round" stroke-linejoin="round" stroke-opacity="1"/><path d="M420.0,589.2 C426.7,591.5 433.3,594.1 440.0,596.0 C446.7,597.9 453.7,600.2 460.0,600.4 C466.3,600.6 473.7,599.3 478.0,597.2 C482.3,595.1 483.3,591.1 486.0,588.0" fill="none" stroke="#ebdfaf" stroke-width="1.6" stroke-linecap="round" stroke-linejoin="round" stroke-opacity="1"/><path d="M420.0,590.4 C426.7,592.9 433.3,595.9 440.0,598.0 C446.7,600.1 453.7,602.7 460.0,602.8 C466.3,602.9 473.7,600.9 478.0,598.4 C482.3,595.9 483.3,591.5 486.0,588.0" fill="none" stroke="#a3945f" stroke-width="2.5999999999999996" stroke-linecap="round" stroke-linejoin="round" stroke-opacity="1"/><path d="M420.0,590.4 C426.7,592.9 433.3,595.9 440.0,598.0 C446.7,600.1 453.7,602.7 460.0,602.8 C466.3,602.9 473.7,600.9 478.0,598.4 C482.3,595.9 483.3,591.5 486.0,588.0" fill="none" stroke="#ebdfaf" stroke-width="1.4" stroke-linecap="round" stroke-linejoin="round" stroke-opacity="1"/><path d="M354.0,538.0 C366.0,540.7 379.0,543.7 390.0,546.0 C401.0,548.3 409.2,550.3 420.0,552.0 C430.8,553.7 445.2,555.0 455.0,556.0 C464.8,557.0 470.3,555.7 479.0,558.0 C487.7,560.3 497.8,565.5 507.0,570.0 C516.2,574.5 524.7,578.7 534.0,585.0 C543.3,591.3 553.3,600.5 563.0,608.0 C572.7,615.5 583.3,623.7 592.0,630.0 C600.7,636.3 607.0,642.0 615.0,646.0 C623.0,650.0 632.5,650.7 640.0,654.0 C647.5,657.3 651.7,660.0 660.0,666.0 C668.3,672.0 682.5,683.5 690.0,690.0 C697.5,696.5 698.3,702.0 705.0,705.0 C711.7,708.0 723.3,705.5 730.0,708.0 C736.7,710.5 740.8,715.0 745.0,720.0 C749.2,725.0 751.7,732.0 755.0,738.0" fill="none" stroke="#a3945f" stroke-width="4.0" stroke-linecap="round" stroke-linejoin="round" stroke-opacity="1"/><path d="M354.0,538.0 C366.0,540.7 379.0,543.7 390.0,546.0 C401.0,548.3 409.2,550.3 420.0,552.0 C430.8,553.7 445.2,555.0 455.0,556.0 C464.8,557.0 470.3,555.7 479.0,558.0 C487.7,560.3 497.8,565.5 507.0,570.0 C516.2,574.5 524.7,578.7 534.0,585.0 C543.3,591.3 553.3,600.5 563.0,608.0 C572.7,615.5 583.3,623.7 592.0,630.0 C600.7,636.3 607.0,642.0 615.0,646.0 C623.0,650.0 632.5,650.7 640.0,654.0 C647.5,657.3 651.7,660.0 660.0,666.0 C668.3,672.0 682.5,683.5 690.0,690.0 C697.5,696.5 698.3,702.0 705.0,705.0 C711.7,708.0 723.3,705.5 730.0,708.0 C736.7,710.5 740.8,715.0 745.0,720.0 C749.2,725.0 751.7,732.0 755.0,738.0" fill="none" stroke="#ebdfaf" stroke-width="2.4" stroke-linecap="round" stroke-linejoin="round" stroke-opacity="1"/><path d="M705.0,705.0 C708.3,710.7 712.5,714.8 715.0,722.0 C717.5,729.2 718.8,740.8 720.0,748.0 C721.2,755.2 721.3,759.3 722.0,765.0" fill="none" stroke="#a3945f" stroke-width="3.2" stroke-linecap="round" stroke-linejoin="round" stroke-opacity="1"/><path d="M705.0,705.0 C708.3,710.7 712.5,714.8 715.0,722.0 C717.5,729.2 718.8,740.8 720.0,748.0 C721.2,755.2 721.3,759.3 722.0,765.0" fill="none" stroke="#ebdfaf" stroke-width="1.8" stroke-linecap="round" stroke-linejoin="round" stroke-opacity="1"/><path d="M690.0,690.0 C686.0,694.0 681.7,696.7 678.0,702.0 C674.3,707.3 670.5,715.3 668.0,722.0 C665.5,728.7 664.7,735.3 663.0,742.0" fill="none" stroke="#a3945f" stroke-width="3.2" stroke-linecap="round" stroke-linejoin="round" stroke-opacity="1"/><path d="M690.0,690.0 C686.0,694.0 681.7,696.7 678.0,702.0 C674.3,707.3 670.5,715.3 668.0,722.0 C665.5,728.7 664.7,735.3 663.0,742.0" fill="none" stroke="#ebdfaf" stroke-width="1.8" stroke-linecap="round" stroke-linejoin="round" stroke-opacity="1"/><path d="M640.0,654.0 C644.0,653.3 648.3,652.7 652.0,652.0 C655.7,651.3 658.7,649.3 662.0,650.0 C665.3,650.7 668.7,654.0 672.0,656.0" fill="none" stroke="#a3945f" stroke-width="3.0" stroke-linecap="round" stroke-linejoin="round" stroke-opacity="1"/><path d="M640.0,654.0 C644.0,653.3 648.3,652.7 652.0,652.0 C655.7,651.3 658.7,649.3 662.0,650.0 C665.3,650.7 668.7,654.0 672.0,656.0" fill="none" stroke="#ebdfaf" stroke-width="1.6" stroke-linecap="round" stroke-linejoin="round" stroke-opacity="1"/><path d="M437.0,549.0 C446.0,550.0 455.2,550.3 464.0,552.0 C472.8,553.7 481.3,556.3 490.0,559.0 C498.7,561.7 507.3,564.2 516.0,568.0 C524.7,571.8 534.2,576.8 542.0,582.0 C549.8,587.2 554.7,592.3 563.0,599.0 C571.3,605.7 583.3,614.3 592.0,622.0 C600.7,629.7 608.7,638.7 615.0,645.0 C621.3,651.3 625.8,654.2 630.0,660.0 C634.2,665.8 636.3,672.5 640.0,680.0 C643.7,687.5 647.7,696.7 652.0,705.0 C656.3,713.3 662.0,722.2 666.0,730.0 C670.0,737.8 673.7,745.0 676.0,752.0 C678.3,759.0 678.7,765.3 680.0,772.0" fill="none" stroke="#6a6e77" stroke-width="6.2" stroke-linecap="round" stroke-linejoin="round" stroke-opacity="1"/><path d="M437.0,549.0 C446.0,550.0 455.2,550.3 464.0,552.0 C472.8,553.7 481.3,556.3 490.0,559.0 C498.7,561.7 507.3,564.2 516.0,568.0 C524.7,571.8 534.2,576.8 542.0,582.0 C549.8,587.2 554.7,592.3 563.0,599.0 C571.3,605.7 583.3,614.3 592.0,622.0 C600.7,629.7 608.7,638.7 615.0,645.0 C621.3,651.3 625.8,654.2 630.0,660.0 C634.2,665.8 636.3,672.5 640.0,680.0 C643.7,687.5 647.7,696.7 652.0,705.0 C656.3,713.3 662.0,722.2 666.0,730.0 C670.0,737.8 673.7,745.0 676.0,752.0 C678.3,759.0 678.7,765.3 680.0,772.0" fill="none" stroke="#a3a7b0" stroke-width="4.2" stroke-linecap="round" stroke-linejoin="round" stroke-opacity="1"/><path d="M437.0,549.0 C446.0,550.0 455.2,550.3 464.0,552.0 C472.8,553.7 481.3,556.3 490.0,559.0 C498.7,561.7 507.3,564.2 516.0,568.0 C524.7,571.8 534.2,576.8 542.0,582.0 C549.8,587.2 554.7,592.3 563.0,599.0 C571.3,605.7 583.3,614.3 592.0,622.0 C600.7,629.7 608.7,638.7 615.0,645.0 C621.3,651.3 625.8,654.2 630.0,660.0 C634.2,665.8 636.3,672.5 640.0,680.0 C643.7,687.5 647.7,696.7 652.0,705.0 C656.3,713.3 662.0,722.2 666.0,730.0 C670.0,737.8 673.7,745.0 676.0,752.0 C678.3,759.0 678.7,765.3 680.0,772.0" fill="none" stroke="#c6c9d0" stroke-width="1.3" stroke-linecap="round" stroke-opacity="0.5" transform="translate(-0.6,-0.8)"/><path d="M634.0,664.0 C632.0,671.0 629.5,678.2 628.0,685.0 C626.5,691.8 625.3,698.3 625.0,705.0 C624.7,711.7 625.2,717.8 626.0,725.0 C626.8,732.2 628.7,740.3 630.0,748.0" fill="none" stroke="#6a6e77" stroke-width="5.5" stroke-linecap="round" stroke-linejoin="round" stroke-opacity="1"/><path d="M634.0,664.0 C632.0,671.0 629.5,678.2 628.0,685.0 C626.5,691.8 625.3,698.3 625.0,705.0 C624.7,711.7 625.2,717.8 626.0,725.0 C626.8,732.2 628.7,740.3 630.0,748.0" fill="none" stroke="#a3a7b0" stroke-width="3.5" stroke-linecap="round" stroke-linejoin="round" stroke-opacity="1"/><path d="M634.0,664.0 C632.0,671.0 629.5,678.2 628.0,685.0 C626.5,691.8 625.3,698.3 625.0,705.0 C624.7,711.7 625.2,717.8 626.0,725.0 C626.8,732.2 628.7,740.3 630.0,748.0" fill="none" stroke="#c6c9d0" stroke-width="1.1" stroke-linecap="round" stroke-opacity="0.5" transform="translate(-0.6,-0.8)"/><path d="M345.0,529.0 C358.7,531.0 373.5,532.5 386.0,535.0 C398.5,537.5 411.0,542.7 420.0,544.0 C429.0,545.3 435.0,544.7 440.0,543.0 C445.0,541.3 447.0,537.5 450.0,534.0 C453.0,530.5 454.8,526.0 458.0,522.0 C461.2,518.0 465.3,514.5 469.0,510.0 C472.7,505.5 476.2,503.3 480.0,495.0 C483.8,486.7 487.8,472.2 492.0,460.0 C496.2,447.8 500.0,434.3 505.0,422.0 C510.0,409.7 515.3,401.2 522.0,386.0 C528.7,370.8 538.7,346.5 545.0,331.0 C551.3,315.5 554.7,305.5 560.0,293.0 C565.3,280.5 572.5,267.2 577.0,256.0 C581.5,244.8 584.8,234.5 587.0,226.0 C589.2,217.5 589.0,212.0 590.0,205.0" fill="none" stroke="#8a6660" stroke-width="6.5" stroke-linecap="round" stroke-linejoin="round" stroke-opacity="1"/><path d="M345.0,529.0 C358.7,531.0 373.5,532.5 386.0,535.0 C398.5,537.5 411.0,542.7 420.0,544.0 C429.0,545.3 435.0,544.7 440.0,543.0 C445.0,541.3 447.0,537.5 450.0,534.0 C453.0,530.5 454.8,526.0 458.0,522.0 C461.2,518.0 465.3,514.5 469.0,510.0 C472.7,505.5 476.2,503.3 480.0,495.0 C483.8,486.7 487.8,472.2 492.0,460.0 C496.2,447.8 500.0,434.3 505.0,422.0 C510.0,409.7 515.3,401.2 522.0,386.0 C528.7,370.8 538.7,346.5 545.0,331.0 C551.3,315.5 554.7,305.5 560.0,293.0 C565.3,280.5 572.5,267.2 577.0,256.0 C581.5,244.8 584.8,234.5 587.0,226.0 C589.2,217.5 589.0,212.0 590.0,205.0" fill="none" stroke="#c49d96" stroke-width="4.5" stroke-linecap="round" stroke-linejoin="round" stroke-opacity="1"/><path d="M345.0,529.0 C358.7,531.0 373.5,532.5 386.0,535.0 C398.5,537.5 411.0,542.7 420.0,544.0 C429.0,545.3 435.0,544.7 440.0,543.0 C445.0,541.3 447.0,537.5 450.0,534.0 C453.0,530.5 454.8,526.0 458.0,522.0 C461.2,518.0 465.3,514.5 469.0,510.0 C472.7,505.5 476.2,503.3 480.0,495.0 C483.8,486.7 487.8,472.2 492.0,460.0 C496.2,447.8 500.0,434.3 505.0,422.0 C510.0,409.7 515.3,401.2 522.0,386.0 C528.7,370.8 538.7,346.5 545.0,331.0 C551.3,315.5 554.7,305.5 560.0,293.0 C565.3,280.5 572.5,267.2 577.0,256.0 C581.5,244.8 584.8,234.5 587.0,226.0 C589.2,217.5 589.0,212.0 590.0,205.0" fill="none" stroke="#dcbcb5" stroke-width="1.3" stroke-linecap="round" stroke-opacity="0.5" transform="translate(-0.6,-0.8)"/><path d="M453.0,527.0 C462.3,531.0 472.0,534.2 481.0,539.0 C490.0,543.8 499.0,550.8 507.0,556.0 C515.0,561.2 520.2,564.5 529.0,570.0 C537.8,575.5 549.5,582.2 560.0,589.0 C570.5,595.8 581.8,603.5 592.0,611.0 C602.2,618.5 612.8,628.2 621.0,634.0 C629.2,639.8 634.8,643.0 641.0,646.0 C647.2,649.0 651.3,650.5 658.0,652.0 C664.7,653.5 673.3,654.2 681.0,655.0 C688.7,655.8 699.0,655.5 704.0,657.0 C709.0,658.5 709.3,660.5 711.0,664.0 C712.7,667.5 714.0,672.8 714.0,678.0 C714.0,683.2 712.3,690.2 711.0,695.0 C709.7,699.8 707.5,703.0 706.0,707.0 C704.5,711.0 703.3,713.5 702.0,719.0 C700.7,724.5 699.3,733.0 698.0,740.0" fill="none" stroke="#8a6660" stroke-width="7.5" stroke-linecap="round" stroke-linejoin="round" stroke-opacity="1"/><path d="M453.0,527.0 C462.3,531.0 472.0,534.2 481.0,539.0 C490.0,543.8 499.0,550.8 507.0,556.0 C515.0,561.2 520.2,564.5 529.0,570.0 C537.8,575.5 549.5,582.2 560.0,589.0 C570.5,595.8 581.8,603.5 592.0,611.0 C602.2,618.5 612.8,628.2 621.0,634.0 C629.2,639.8 634.8,643.0 641.0,646.0 C647.2,649.0 651.3,650.5 658.0,652.0 C664.7,653.5 673.3,654.2 681.0,655.0 C688.7,655.8 699.0,655.5 704.0,657.0 C709.0,658.5 709.3,660.5 711.0,664.0 C712.7,667.5 714.0,672.8 714.0,678.0 C714.0,683.2 712.3,690.2 711.0,695.0 C709.7,699.8 707.5,703.0 706.0,707.0 C704.5,711.0 703.3,713.5 702.0,719.0 C700.7,724.5 699.3,733.0 698.0,740.0" fill="none" stroke="#c49d96" stroke-width="5.5" stroke-linecap="round" stroke-linejoin="round" stroke-opacity="1"/><path d="M453.0,527.0 C462.3,531.0 472.0,534.2 481.0,539.0 C490.0,543.8 499.0,550.8 507.0,556.0 C515.0,561.2 520.2,564.5 529.0,570.0 C537.8,575.5 549.5,582.2 560.0,589.0 C570.5,595.8 581.8,603.5 592.0,611.0 C602.2,618.5 612.8,628.2 621.0,634.0 C629.2,639.8 634.8,643.0 641.0,646.0 C647.2,649.0 651.3,650.5 658.0,652.0 C664.7,653.5 673.3,654.2 681.0,655.0 C688.7,655.8 699.0,655.5 704.0,657.0 C709.0,658.5 709.3,660.5 711.0,664.0 C712.7,667.5 714.0,672.8 714.0,678.0 C714.0,683.2 712.3,690.2 711.0,695.0 C709.7,699.8 707.5,703.0 706.0,707.0 C704.5,711.0 703.3,713.5 702.0,719.0 C700.7,724.5 699.3,733.0 698.0,740.0" fill="none" stroke="#dcbcb5" stroke-width="1.6" stroke-linecap="round" stroke-opacity="0.5" transform="translate(-0.6,-0.8)"/><path d="M694.0,648.0 C696.0,640.3 697.8,633.0 700.0,625.0 C702.2,617.0 705.7,609.2 707.0,600.0 C708.3,590.8 708.3,580.0 708.0,570.0 C707.7,560.0 706.0,550.0 705.0,540.0" fill="none" stroke="#8a6660" stroke-width="5.0" stroke-linecap="round" stroke-linejoin="round" stroke-opacity="1"/><path d="M694.0,648.0 C696.0,640.3 697.8,633.0 700.0,625.0 C702.2,617.0 705.7,609.2 707.0,600.0 C708.3,590.8 708.3,580.0 708.0,570.0 C707.7,560.0 706.0,550.0 705.0,540.0" fill="none" stroke="#c49d96" stroke-width="3" stroke-linecap="round" stroke-linejoin="round" stroke-opacity="1"/><path d="M694.0,648.0 C696.0,640.3 697.8,633.0 700.0,625.0 C702.2,617.0 705.7,609.2 707.0,600.0 C708.3,590.8 708.3,580.0 708.0,570.0 C707.7,560.0 706.0,550.0 705.0,540.0" fill="none" stroke="#dcbcb5" stroke-width="0.9" stroke-linecap="round" stroke-opacity="0.5" transform="translate(-0.6,-0.8)"/><path d="M657.0,650.0 C663.3,646.7 670.2,643.2 676.0,640.0 C681.8,636.8 688.0,636.0 692.0,631.0 C696.0,626.0 698.3,618.5 700.0,610.0 C701.7,601.5 702.0,590.0 702.0,580.0 C702.0,570.0 700.7,560.0 700.0,550.0" fill="none" stroke="#6a6e77" stroke-width="5.0" stroke-linecap="round" stroke-linejoin="round" stroke-opacity="1"/><path d="M657.0,650.0 C663.3,646.7 670.2,643.2 676.0,640.0 C681.8,636.8 688.0,636.0 692.0,631.0 C696.0,626.0 698.3,618.5 700.0,610.0 C701.7,601.5 702.0,590.0 702.0,580.0 C702.0,570.0 700.7,560.0 700.0,550.0" fill="none" stroke="#a3a7b0" stroke-width="3" stroke-linecap="round" stroke-linejoin="round" stroke-opacity="1"/><path d="M657.0,650.0 C663.3,646.7 670.2,643.2 676.0,640.0 C681.8,636.8 688.0,636.0 692.0,631.0 C696.0,626.0 698.3,618.5 700.0,610.0 C701.7,601.5 702.0,590.0 702.0,580.0 C702.0,570.0 700.7,560.0 700.0,550.0" fill="none" stroke="#c6c9d0" stroke-width="0.9" stroke-linecap="round" stroke-opacity="0.5" transform="translate(-0.6,-0.8)"/><path d="M662.0,655.0 C659.7,663.3 656.7,669.3 655.0,680.0 C653.3,690.7 652.8,706.7 652.0,719.0 C651.2,731.3 650.0,746.2 650.0,754.0 C650.0,761.8 651.3,762.0 652.0,766.0" fill="none" stroke="#8a6660" stroke-width="5.5" stroke-linecap="round" stroke-linejoin="round" stroke-opacity="1"/><path d="M662.0,655.0 C659.7,663.3 656.7,669.3 655.0,680.0 C653.3,690.7 652.8,706.7 652.0,719.0 C651.2,731.3 650.0,746.2 650.0,754.0 C650.0,761.8 651.3,762.0 652.0,766.0" fill="none" stroke="#c49d96" stroke-width="3.5" stroke-linecap="round" stroke-linejoin="round" stroke-opacity="1"/><path d="M662.0,655.0 C659.7,663.3 656.7,669.3 655.0,680.0 C653.3,690.7 652.8,706.7 652.0,719.0 C651.2,731.3 650.0,746.2 650.0,754.0 C650.0,761.8 651.3,762.0 652.0,766.0" fill="none" stroke="#dcbcb5" stroke-width="1.1" stroke-linecap="round" stroke-opacity="0.5" transform="translate(-0.6,-0.8)"/><path d="M630.0,180.0 C630.7,190.0 632.0,200.0 632.0,210.0 C632.0,220.0 631.2,230.0 630.0,240.0 C628.8,250.0 627.0,260.0 625.0,270.0 C623.0,280.0 620.2,292.0 618.0,300.0 C615.8,308.0 614.0,312.0 612.0,318.0" fill="none" stroke="#a3945f" stroke-width="3.8000000000000003" stroke-linecap="round" stroke-linejoin="round" stroke-opacity="1"/><path d="M630.0,180.0 C630.7,190.0 632.0,200.0 632.0,210.0 C632.0,220.0 631.2,230.0 630.0,240.0 C628.8,250.0 627.0,260.0 625.0,270.0 C623.0,280.0 620.2,292.0 618.0,300.0 C615.8,308.0 614.0,312.0 612.0,318.0" fill="none" stroke="#ebdfaf" stroke-width="2.2" stroke-linecap="round" stroke-linejoin="round" stroke-opacity="1"/><rect x="600" y="748" width="170" height="52" fill="url(#g29)"/><path d="M493.0,64.0 C493.2,60.5 493.8,57.9 495.0,56.0 C496.2,54.1 496.7,53.5 500.0,52.5 C503.3,51.5 509.7,50.8 515.0,50.0 C520.3,49.2 526.0,48.7 532.0,48.0 C538.0,47.3 544.7,46.7 551.0,46.0 C557.3,45.3 564.3,44.8 570.0,44.0 C575.7,43.2 580.5,41.8 585.0,41.0 C589.5,40.2 593.3,38.2 597.0,39.5 C600.7,40.8 604.8,43.6 607.0,48.5 C609.2,53.4 608.7,62.6 610.0,69.0 C611.3,75.4 612.7,80.3 615.0,87.0 C617.3,93.7 621.3,101.5 624.0,109.0 C626.7,116.5 629.0,124.5 631.0,132.0 C633.0,139.5 634.5,145.8 636.0,154.0 C637.5,162.2 638.8,170.8 640.0,181.0 C641.2,191.2 649.7,208.2 643.0,215.0 C636.3,221.8 612.3,222.0 600.0,222.0 C587.7,222.0 574.8,218.2 569.0,215.0 C563.2,211.8 566.5,205.8 565.0,203.0 C563.5,200.2 562.5,200.3 560.0,198.0 C557.5,195.7 553.0,192.5 550.0,189.0 C547.0,185.5 544.3,181.2 542.0,177.0 C539.7,172.8 537.5,168.0 536.0,164.0 C534.5,160.0 534.8,157.0 533.0,153.0 C531.2,149.0 528.8,147.2 525.0,140.0 C521.2,132.8 514.0,117.7 510.0,110.0 C506.0,102.3 503.2,98.0 501.0,94.0 C498.8,90.0 498.2,88.8 497.0,86.0 C495.8,83.2 494.7,80.7 494.0,77.0 C493.3,73.3 492.8,67.5 493.0,64.0 Z" fill="url(#g30)" mask="url(#fistmask)"/><path d="M500.0,60.0 C500.8,57.3 506.7,55.7 515.0,54.0 C523.3,52.3 539.2,51.3 550.0,50.0 C560.8,48.7 571.7,46.7 580.0,46.0 C588.3,45.3 595.7,43.7 600.0,46.0 C604.3,48.3 606.0,55.2 606.0,60.0 C606.0,64.8 603.5,71.7 600.0,75.0 C596.5,78.3 590.0,80.8 585.0,80.0 C580.0,79.2 575.8,73.3 570.0,70.0 C564.2,66.7 556.7,61.3 550.0,60.0 C543.3,58.7 536.7,60.3 530.0,62.0 C523.3,63.7 515.0,70.3 510.0,70.0 C505.0,69.7 499.2,62.7 500.0,60.0 Z" fill="#f3f2ef" opacity="0.7"/><g clip-path="url(#c9)"><use href="#p9" fill="#ab938d"/><g filter="url(#bl3)"><path d="M581.2,76.0 L579.8,79.5 L578.5,83.1 L577.1,86.7 L575.7,90.3 L574.2,93.8 L572.7,97.3 L571.0,100.8 L569.2,104.1 L567.3,107.5 L565.5,110.9 L563.8,114.3 L562.0,117.7 L560.3,121.1" stroke="#98837c" stroke-width="12.2" fill="none"/><path d="M585.6,75.8 L584.6,79.8 L583.6,83.9 L582.6,87.9 L581.5,92.0 L580.3,96.0 L579.0,100.0 L577.6,103.9 L576.2,107.8 L574.7,111.6 L573.2,115.5 L571.8,119.4 L570.4,123.3 L569.0,127.2" stroke="#ac9891" stroke-width="12.1" fill="none"/><path d="M590.1,75.7 L589.4,80.2 L588.7,84.8 L587.9,89.3 L587.1,93.9 L586.2,98.4 L585.1,103.0 L584.0,107.4 L582.9,111.9 L581.6,116.3 L580.5,120.7 L579.3,125.1 L578.2,129.6 L577.1,134.1" stroke="#bca8a1" stroke-width="11.8" fill="none"/><path d="M594.5,75.9 L594.0,81.0 L593.5,86.1 L592.9,91.3 L592.2,96.5 L591.4,101.6 L590.6,106.8 L589.6,111.9 L588.6,117.0 L587.6,122.0 L586.6,127.1 L585.6,132.2 L584.7,137.3 L583.7,142.4" stroke="#c7b3ac" stroke-width="11.8" fill="none"/><path d="M598.9,76.4 L598.7,82.0 L598.5,87.6 L598.2,93.3 L597.8,98.9 L597.2,104.6 L596.6,110.2 L595.9,115.8 L595.1,121.4 L594.4,127.0 L593.7,132.5 L593.0,138.1 L592.3,143.7 L591.6,149.3" stroke="#c7b3ac" stroke-width="12.5" fill="none"/><path d="M603.2,77.3 L603.5,83.1 L603.7,88.9 L603.9,94.6 L603.9,100.5 L603.8,106.3 L603.5,112.1 L603.3,117.9 L603.0,123.7 L602.7,129.4 L602.4,135.2 L602.2,141.0 L601.9,146.8 L601.7,152.6" stroke="#bca8a1" stroke-width="12.7" fill="none"/><path d="M607.5,78.4 L608.3,84.2 L609.1,89.9 L609.7,95.7 L610.2,101.6 L610.5,107.4 L610.7,113.3 L610.9,119.1 L611.1,124.9 L611.3,130.8 L611.5,136.6 L611.7,142.4 L612.0,148.2 L612.2,154.1" stroke="#ac9891" stroke-width="12.7" fill="none"/><path d="M611.8,79.5 L613.1,85.2 L614.4,91.0 L615.5,96.8 L616.5,102.6 L617.2,108.4 L617.9,114.3 L618.5,120.2 L619.2,126.0 L619.9,131.8 L620.6,137.7 L621.3,143.5 L622.0,149.4 L622.7,155.2" stroke="#98837c" stroke-width="12.7" fill="none"/></g><g filter="url(#bl15)"><path d="M579.9,79.5 L578.7,82.7 L577.5,85.9 L576.2,89.2 L574.9,92.4 L573.6,95.6 L572.1,98.7 L570.5,101.8 L568.9,104.8 L567.3,107.9 L565.6,110.9 L564.1,114.0" stroke="#eadfda" stroke-width="3.62" stroke-opacity="0.35" fill="none"/><path d="M581.7,85.5 L580.6,89.2 L579.4,92.9 L578.2,96.6 L576.9,100.2 L575.5,103.8 L574.0,107.3 L572.5,110.8 L571.1,114.3 L569.6,117.9 L568.2,121.5 L566.8,125.0" stroke="#75605a" stroke-width="3.17" stroke-opacity="0.35" fill="none"/><path d="M588.0,78.6 L587.3,82.7 L586.5,86.8 L585.7,90.9 L584.8,95.0 L583.8,99.1 L582.8,103.2 L581.6,107.2 L580.4,111.1 L579.2,115.1 L578.0,119.1 L576.9,123.1" stroke="#eadfda" stroke-width="3.58" stroke-opacity="0.29" fill="none"/><path d="M590.1,76.4 L589.4,80.8 L588.8,85.2 L588.0,89.7 L587.2,94.1 L586.3,98.5 L585.4,102.9 L584.3,107.3 L583.2,111.6 L582.0,115.9 L580.9,120.2 L579.8,124.5" stroke="#eadfda" stroke-width="4.28" stroke-opacity="0.23" fill="none"/><path d="M592.6,87.1 L592.1,91.6 L591.5,96.2 L590.8,100.7 L590.0,105.2 L589.1,109.7 L588.2,114.1 L587.3,118.6 L586.3,123.0 L585.4,127.4 L584.6,131.9 L583.7,136.3" stroke="#eadfda" stroke-width="4.69" stroke-opacity="0.35" fill="none"/><path d="M597.1,90.3 L596.7,95.4 L596.2,100.6 L595.6,105.7 L594.9,110.8 L594.1,115.9 L593.4,121.0 L592.6,126.1 L591.9,131.2 L591.2,136.2 L590.4,141.3 L589.7,146.4" stroke="#75605a" stroke-width="3.75" stroke-opacity="0.18" fill="none"/><path d="M601.6,81.7 L601.7,87.1 L601.7,92.6 L601.6,98.0 L601.4,103.5 L601.0,109.0 L600.6,114.5 L600.2,119.9 L599.7,125.3 L599.3,130.7 L598.9,136.2 L598.5,141.6" stroke="#eadfda" stroke-width="3.28" stroke-opacity="0.27" fill="none"/><path d="M605.0,79.0 L605.4,85.0 L605.9,91.0 L606.2,97.1 L606.3,103.2 L606.3,109.3 L606.2,115.4 L606.1,121.5 L606.0,127.6 L605.9,133.6 L605.8,139.7 L605.7,145.8" stroke="#75605a" stroke-width="2.72" stroke-opacity="0.18" fill="none"/><path d="M610.7,81.5 L611.7,86.8 L612.7,92.1 L613.5,97.4 L614.2,102.7 L614.7,108.1 L615.2,113.5 L615.6,118.8 L616.1,124.2 L616.6,129.5 L617.0,134.9 L617.5,140.2" stroke="#eadfda" stroke-width="2.63" stroke-opacity="0.29" fill="none"/><path d="M615.4,86.9 L616.9,92.7 L618.2,98.5 L619.3,104.4 L620.2,110.3 L621.0,116.2 L621.9,122.2 L622.8,128.1 L623.7,134.0 L624.6,139.9 L625.5,145.8 L626.4,151.7" stroke="#eadfda" stroke-width="2.02" stroke-opacity="0.28" fill="none"/></g><g filter="url(#bl06)"><path d="M579.1,77.7 L577.6,81.4 L576.0,85.0 L574.4,88.7 L572.7,92.4 L571.0,96.0 L569.1,99.5 L567.1,103.0 L565.0,106.4 L563.0,109.8 L561.0,113.3 L559.0,116.8" stroke="#6a5450" stroke-width="1.03" stroke-opacity="0.44" fill="none"/><path d="M580.7,77.3 L579.4,80.9 L578.0,84.6 L576.6,88.2 L575.1,91.8 L573.6,95.4 L572.0,98.9 L570.3,102.3 L568.4,105.7 L566.6,109.1 L564.8,112.5 L563.0,116.0" stroke="#6a5450" stroke-width="0.69" stroke-opacity="0.44" fill="none"/><path d="M580.9,78.3 L579.5,81.9 L578.2,85.6 L576.8,89.2 L575.4,92.9 L573.9,96.5 L572.3,100.0 L570.5,103.5 L568.7,106.9 L566.9,110.4 L565.2,113.8 L563.5,117.3" stroke="#6a5450" stroke-width="0.94" stroke-opacity="0.48" fill="none"/><path d="M582.8,78.2 L581.5,82.5 L580.2,86.7 L578.8,91.0 L577.4,95.2 L575.8,99.4 L574.0,103.5 L572.2,107.6 L570.4,111.6 L568.6,115.7 L566.9,119.8 L565.1,123.9" stroke="#6a5450" stroke-width="0.45" stroke-opacity="0.35" fill="none"/><path d="M582.9,79.1 L581.7,82.9 L580.6,86.8 L579.3,90.6 L578.1,94.4 L576.7,98.2 L575.2,101.9 L573.7,105.6 L572.0,109.2 L570.4,112.8 L568.9,116.5 L567.4,120.2" stroke="#e8dbd6" stroke-width="0.85" stroke-opacity="0.34" fill="none"/><path d="M584.3,81.5 L583.3,85.3 L582.3,89.2 L581.2,93.1 L580.1,97.0 L578.8,100.8 L577.5,104.6 L576.1,108.3 L574.7,112.0 L573.3,115.7 L571.9,119.4 L570.6,123.2" stroke="#e8dbd6" stroke-width="0.72" stroke-opacity="0.36" fill="none"/><path d="M585.0,81.3 L584.0,85.4 L583.0,89.6 L581.9,93.7 L580.7,97.8 L579.4,101.9 L578.0,105.9 L576.6,109.9 L575.1,113.9 L573.7,117.9 L572.3,121.9 L571.0,125.9" stroke="#e8dbd6" stroke-width="0.59" stroke-opacity="0.38" fill="none"/><path d="M588.1,76.5 L587.2,81.2 L586.3,85.9 L585.3,90.7 L584.2,95.4 L583.1,100.1 L581.8,104.8 L580.4,109.4 L578.9,113.9 L577.5,118.5 L576.2,123.1 L574.8,127.7" stroke="#e8dbd6" stroke-width="0.46" stroke-opacity="0.33" fill="none"/><path d="M588.5,80.0 L587.7,84.2 L587.0,88.4 L586.2,92.7 L585.3,96.9 L584.3,101.1 L583.2,105.3 L582.1,109.4 L580.9,113.5 L579.7,117.6 L578.6,121.7 L577.4,125.8" stroke="#6a5450" stroke-width="1.24" stroke-opacity="0.45" fill="none"/><path d="M589.5,82.1 L588.8,86.4 L588.1,90.7 L587.3,95.0 L586.5,99.3 L585.5,103.5 L584.5,107.8 L583.4,111.9 L582.3,116.1 L581.2,120.2 L580.2,124.4 L579.2,128.6" stroke="#6a5450" stroke-width="0.69" stroke-opacity="0.29" fill="none"/><path d="M591.8,75.9 L591.1,81.3 L590.4,86.6 L589.6,92.0 L588.7,97.4 L587.7,102.8 L586.5,108.1 L585.3,113.4 L584.0,118.6 L582.8,123.9 L581.6,129.1 L580.4,134.4" stroke="#6a5450" stroke-width="0.66" stroke-opacity="0.37" fill="none"/><path d="M591.8,80.6 L591.2,85.3 L590.6,90.1 L589.9,94.8 L589.1,99.6 L588.2,104.3 L587.2,109.0 L586.1,113.6 L585.0,118.2 L584.0,122.9 L583.0,127.5 L582.0,132.2" stroke="#e8dbd6" stroke-width="0.77" stroke-opacity="0.50" fill="none"/><path d="M592.8,83.5 L592.3,88.5 L591.6,93.6 L590.8,98.7 L590.0,103.8 L589.0,108.8 L588.0,113.8 L586.9,118.7 L585.9,123.7 L584.9,128.7 L583.9,133.7 L582.9,138.7" stroke="#6a5450" stroke-width="0.56" stroke-opacity="0.50" fill="none"/><path d="M594.3,82.6 L593.8,87.6 L593.3,92.6 L592.6,97.7 L591.8,102.8 L591.0,107.8 L590.1,112.8 L589.1,117.7 L588.1,122.7 L587.2,127.6 L586.3,132.6 L585.3,137.6" stroke="#e8dbd6" stroke-width="1.17" stroke-opacity="0.22" fill="none"/><path d="M596.1,82.7 L595.7,88.3 L595.2,93.9 L594.6,99.5 L593.8,105.2 L593.0,110.8 L592.0,116.3 L591.1,121.8 L590.2,127.4 L589.3,132.9 L588.4,138.5 L587.5,144.0" stroke="#6a5450" stroke-width="0.71" stroke-opacity="0.36" fill="none"/><path d="M597.6,80.2 L597.3,85.9 L596.9,91.6 L596.4,97.3 L595.8,103.1 L595.1,108.8 L594.3,114.6 L593.4,120.2 L592.5,125.9 L591.7,131.6 L590.9,137.2 L590.1,142.9" stroke="#e8dbd6" stroke-width="0.45" stroke-opacity="0.36" fill="none"/><path d="M598.0,84.4 L597.7,89.8 L597.4,95.3 L596.9,100.7 L596.2,106.1 L595.6,111.5 L594.8,116.9 L594.1,122.3 L593.3,127.6 L592.6,133.0 L591.9,138.4 L591.2,143.7" stroke="#6a5450" stroke-width="0.92" stroke-opacity="0.53" fill="none"/><path d="M599.4,76.8 L599.2,82.8 L599.1,88.8 L598.8,94.9 L598.3,101.0 L597.7,107.1 L597.1,113.2 L596.3,119.2 L595.6,125.2 L594.9,131.2 L594.2,137.2 L593.5,143.3" stroke="#6a5450" stroke-width="0.58" stroke-opacity="0.27" fill="none"/><path d="M600.7,84.8 L600.7,90.3 L600.5,95.8 L600.3,101.3 L599.9,106.8 L599.4,112.3 L598.9,117.8 L598.3,123.3 L597.8,128.7 L597.3,134.2 L596.8,139.6 L596.3,145.1" stroke="#e8dbd6" stroke-width="0.92" stroke-opacity="0.32" fill="none"/><path d="M601.8,78.7 L601.9,84.7 L602.0,90.8 L602.0,96.9 L601.7,103.0 L601.4,109.1 L601.0,115.2 L600.5,121.3 L600.0,127.4 L599.6,133.4 L599.1,139.5 L598.7,145.6" stroke="#e8dbd6" stroke-width="0.87" stroke-opacity="0.22" fill="none"/><path d="M602.9,84.0 L603.1,89.5 L603.2,95.0 L603.1,100.5 L602.9,106.1 L602.7,111.6 L602.3,117.1 L602.0,122.6 L601.7,128.1 L601.4,133.5 L601.1,139.0 L600.8,144.5" stroke="#6a5450" stroke-width="1.27" stroke-opacity="0.45" fill="none"/><path d="M604.6,83.0 L605.1,89.4 L605.4,95.7 L605.4,102.1 L605.4,108.5 L605.2,114.9 L605.0,121.2 L604.9,127.6 L604.7,133.9 L604.5,140.2 L604.4,146.6 L604.2,152.9" stroke="#e8dbd6" stroke-width="1.07" stroke-opacity="0.33" fill="none"/><path d="M606.1,80.3 L606.8,86.7 L607.4,93.1 L607.8,99.5 L607.9,106.0 L608.0,112.4 L608.0,118.9 L608.0,125.3 L608.1,131.7 L608.1,138.2 L608.2,144.6 L608.2,151.0" stroke="#e8dbd6" stroke-width="1.24" stroke-opacity="0.39" fill="none"/><path d="M606.3,78.7 L607.0,85.0 L607.6,91.2 L608.1,97.6 L608.4,103.9 L608.5,110.3 L608.6,116.7 L608.6,123.0 L608.7,129.4 L608.8,135.7 L608.9,142.1 L609.0,148.4" stroke="#e8dbd6" stroke-width="1.18" stroke-opacity="0.25" fill="none"/><path d="M609.1,86.3 L609.9,92.2 L610.5,98.1 L611.0,104.0 L611.3,110.0 L611.5,115.9 L611.8,121.9 L612.0,127.8 L612.3,133.7 L612.6,139.7 L612.9,145.6 L613.2,151.6" stroke="#6a5450" stroke-width="1.02" stroke-opacity="0.36" fill="none"/><path d="M610.0,86.7 L610.9,92.5 L611.6,98.5 L612.1,104.4 L612.5,110.4 L612.8,116.4 L613.2,122.3 L613.5,128.3 L613.9,134.2 L614.2,140.1 L614.6,146.1 L615.0,152.0" stroke="#6a5450" stroke-width="0.41" stroke-opacity="0.40" fill="none"/><path d="M611.2,82.7 L612.3,88.6 L613.4,94.5 L614.3,100.4 L615.0,106.4 L615.5,112.4 L616.0,118.3 L616.6,124.3 L617.1,130.3 L617.7,136.2 L618.3,142.2 L618.9,148.2" stroke="#e8dbd6" stroke-width="0.74" stroke-opacity="0.33" fill="none"/><path d="M612.2,82.4 L613.6,88.8 L614.9,95.3 L616.0,101.9 L616.8,108.5 L617.5,115.1 L618.2,121.7 L619.0,128.3 L619.7,134.9 L620.5,141.5 L621.2,148.1 L622.0,154.7" stroke="#6a5450" stroke-width="0.92" stroke-opacity="0.41" fill="none"/><path d="M612.8,82.3 L614.2,88.2 L615.5,94.2 L616.6,100.2 L617.5,106.3 L618.3,112.4 L619.0,118.5 L619.8,124.5 L620.5,130.6 L621.3,136.7 L622.1,142.7 L622.9,148.8" stroke="#e8dbd6" stroke-width="0.64" stroke-opacity="0.26" fill="none"/><path d="M613.3,81.6 L614.8,87.7 L616.3,93.8 L617.5,99.9 L618.5,106.1 L619.4,112.3 L620.2,118.5 L621.0,124.7 L621.9,130.8 L622.7,137.0 L623.6,143.2 L624.5,149.4" stroke="#e8dbd6" stroke-width="0.81" stroke-opacity="0.28" fill="none"/></g><g filter="url(#bl15)"><g fill="none" stroke-linecap="round"><path d="M579.0,76.0 L578.8,76.4 L578.6,76.9 L578.4,77.3 L578.2,77.7 L578.0,78.2 L577.8,78.6 L577.6,79.0 L577.4,79.5 L577.2,79.9 L577.0,80.3 L576.8,80.8 L576.6,81.2 L576.4,81.7 L576.2,82.1 L576.0,82.5 L575.8,83.0 L575.6,83.4 L575.4,83.8 L575.2,84.3 L575.0,84.7 L574.8,85.1 L574.6,85.6 L574.4,86.0 L574.4,86.0 L576.2,86.7 L578.0,87.3 L579.9,88.0 L581.7,88.6 L583.6,89.4 L585.4,90.1 L587.3,91.0 L589.0,91.9 L590.7,93.0 L592.4,94.1 L594.2,95.2 L596.1,96.4 L598.0,97.4 L600.1,98.3 L602.2,99.1 L604.3,99.9 L606.5,100.6 L608.7,101.4 L610.9,102.0 L613.1,102.7 L615.4,103.4 L617.6,104.1 L619.9,104.8 L619.9,104.8 L619.7,103.7 L619.5,102.6 L619.3,101.5 L619.1,100.5 L618.9,99.4 L618.6,98.3 L618.4,97.2 L618.2,96.1 L617.9,95.0 L617.7,94.0 L617.4,92.9 L617.1,91.8 L616.8,90.7 L616.6,89.7 L616.3,88.6 L616.0,87.5 L615.7,86.4 L615.4,85.4 L615.1,84.3 L614.8,83.2 L614.5,82.2 L614.3,81.1 L614.0,80.0 L614.0,80.0 L612.5,79.7 L611.0,79.3 L609.5,78.9 L608.0,78.5 L606.5,78.1 L605.0,77.8 L603.5,77.4 L602.0,77.1 L600.5,76.7 L599.0,76.4 L597.5,76.2 L595.9,76.0 L594.4,75.8 L592.9,75.8 L591.3,75.7 L589.8,75.7 L588.2,75.7 L586.7,75.8 L585.2,75.8 L583.6,75.9 L582.1,75.9 L580.5,76.0 L579.0,76.0 Z" fill="url(#g32)" filter="url(#bl3)"/><path d="M572.8,90.4 L573.5,88.8 L574.3,87.2 L575.0,85.6 L575.7,84.0 L576.4,82.4 L577.1,80.8 L577.9,79.2 L578.6,77.6 L579.3,76.0" stroke="url(#g5)" stroke-width="2.6" stroke-opacity="0.26"/><path d="M578.8,88.0 L579.2,86.6 L579.7,85.3 L580.1,83.9 L580.6,82.6 L581.0,81.3 L581.5,79.9 L581.9,78.6 L582.4,77.3 L582.8,75.9" stroke="url(#g5)" stroke-width="2.0" stroke-opacity="0.38"/><path d="M580.3,96.5 L581.0,94.2 L581.6,91.9 L582.3,89.6 L582.9,87.3 L583.5,85.0 L584.0,82.7 L584.6,80.4 L585.2,78.1 L585.8,75.8" stroke="url(#g5)" stroke-width="3.0" stroke-opacity="0.36"/><path d="M583.8,88.4 L584.1,87.0 L584.5,85.6 L584.8,84.2 L585.1,82.8 L585.4,81.4 L585.7,80.0 L586.0,78.6 L586.4,77.2 L586.7,75.8" stroke="url(#g33)" stroke-width="2.1" stroke-opacity="0.44"/><path d="M588.1,89.5 L588.4,88.0 L588.6,86.5 L588.9,84.9 L589.1,83.4 L589.3,81.8 L589.6,80.3 L589.8,78.8 L590.0,77.2 L590.3,75.7" stroke="url(#g33)" stroke-width="1.9" stroke-opacity="0.68"/><path d="M591.3,99.0 L591.7,96.4 L592.0,93.9 L592.4,91.3 L592.7,88.7 L593.0,86.1 L593.2,83.5 L593.5,81.0 L593.8,78.4 L594.1,75.8" stroke="url(#g33)" stroke-width="3.8" stroke-opacity="0.51"/><path d="M594.3,96.0 L594.5,93.8 L594.8,91.6 L595.0,89.3 L595.2,87.1 L595.3,84.9 L595.5,82.7 L595.7,80.4 L595.9,78.2 L596.1,76.0" stroke="url(#g33)" stroke-width="3.2" stroke-opacity="0.64"/><path d="M596.7,104.0 L597.0,100.9 L597.3,97.8 L597.5,94.8 L597.7,91.7 L597.9,88.6 L598.1,85.5 L598.2,82.5 L598.3,79.4 L598.5,76.4" stroke="url(#g33)" stroke-width="3.0" stroke-opacity="0.40"/><path d="M600.5,107.7 L600.7,104.2 L600.9,100.8 L601.1,97.3 L601.2,93.9 L601.2,90.5 L601.3,87.1 L601.2,83.7 L601.2,80.3 L601.2,76.9" stroke="url(#g33)" stroke-width="2.1" stroke-opacity="0.32"/><path d="M601.8,96.2 L601.9,94.0 L601.9,91.9 L601.9,89.8 L601.9,87.6 L601.8,85.5 L601.8,83.4 L601.8,81.2 L601.7,79.1 L601.7,77.0" stroke="url(#g33)" stroke-width="2.0" stroke-opacity="0.33"/><path d="M605.8,98.9 L605.8,96.5 L605.7,94.2 L605.5,91.8 L605.4,89.4 L605.2,87.1 L605.1,84.7 L604.9,82.4 L604.7,80.0 L604.6,77.7" stroke="url(#g33)" stroke-width="1.9" stroke-opacity="0.69"/><path d="M608.6,94.4 L608.4,92.6 L608.3,90.8 L608.1,89.0 L607.8,87.2 L607.6,85.4 L607.4,83.6 L607.2,81.8 L607.0,80.0 L606.8,78.2" stroke="url(#g33)" stroke-width="3.8" stroke-opacity="0.42"/><path d="M615.0,101.9 L614.7,99.4 L614.3,96.8 L613.9,94.3 L613.4,91.8 L612.9,89.3 L612.4,86.8 L611.9,84.3 L611.4,81.8 L610.9,79.3" stroke="url(#g33)" stroke-width="1.5" stroke-opacity="0.26"/><path d="M618.4,98.3 L618.0,96.3 L617.5,94.2 L617.0,92.2 L616.5,90.1 L615.9,88.1 L615.4,86.1 L614.9,84.0 L614.3,82.0 L613.8,80.0" stroke="url(#g34)" stroke-width="2.6" stroke-opacity="0.36"/></g></g></g><g clip-path="url(#c10)"><use href="#p10" fill="#ab938d"/><g filter="url(#bl3)"><path d="M533.1,145.8 L541.6,142.2 L550.5,140.0 L559.8,142.0 L568.6,145.9 L577.3,150.2 L585.6,155.1 L593.7,160.5 L601.8,165.8 L609.0,172.1 L614.8,179.6 L619.7,187.7 L623.6,196.1 L626.0,205.1" stroke="#95817a" stroke-width="9.6" fill="none"/><path d="M533.5,147.2 L541.2,145.0 L549.5,143.9 L558.3,146.6 L566.8,150.8 L575.2,155.3 L583.4,160.4 L591.5,165.6 L599.6,170.6 L607.0,176.3 L613.1,183.0 L618.5,190.0 L622.9,197.4 L626.0,205.3" stroke="#a7928b" stroke-width="9.6" fill="none"/><path d="M533.8,148.8 L540.9,147.8 L548.5,147.9 L556.8,151.1 L565.0,155.6 L573.2,160.4 L581.2,165.6 L589.2,170.7 L597.4,175.4 L605.0,180.5 L611.5,186.3 L617.3,192.3 L622.2,198.7 L626.0,205.5" stroke="#b5a19a" stroke-width="9.6" fill="none"/><path d="M534.0,150.2 L540.5,150.6 L547.4,151.8 L555.3,155.7 L563.2,160.5 L571.1,165.5 L578.9,170.8 L587.0,175.8 L595.2,180.2 L603.0,184.7 L609.8,189.6 L616.0,194.7 L621.5,200.0 L626.0,205.7" stroke="#c0aca5" stroke-width="9.6" fill="none"/><path d="M534.4,151.8 L540.2,153.4 L546.4,155.8 L553.7,160.2 L561.3,165.4 L569.0,170.6 L576.7,176.0 L584.7,180.9 L593.1,185.0 L601.0,188.9 L608.2,192.9 L614.8,197.0 L620.8,201.3 L626.0,205.9" stroke="#c7b3ac" stroke-width="9.6" fill="none"/><path d="M534.6,153.2 L539.8,156.2 L545.4,159.7 L552.2,164.8 L559.5,170.2 L566.9,175.7 L574.4,181.2 L582.5,186.0 L590.9,189.8 L599.0,193.1 L606.5,196.3 L613.6,199.4 L620.1,202.6 L626.0,206.1" stroke="#c7b3ac" stroke-width="9.6" fill="none"/><path d="M535.0,154.8 L539.4,159.0 L544.4,163.7 L550.7,169.3 L557.7,175.1 L564.9,180.8 L572.2,186.4 L580.2,191.1 L588.7,194.6 L597.1,197.3 L604.9,199.6 L612.4,201.7 L619.5,203.9 L626.0,206.3" stroke="#c0aca5" stroke-width="9.6" fill="none"/><path d="M535.2,156.2 L539.1,161.8 L543.4,167.6 L549.2,173.9 L555.9,180.0 L562.8,185.9 L570.0,191.7 L578.0,196.2 L586.5,199.4 L595.1,201.5 L603.2,202.9 L611.1,204.0 L618.8,205.2 L626.0,206.5" stroke="#b5a19a" stroke-width="9.6" fill="none"/><path d="M535.5,157.8 L538.7,164.6 L542.3,171.6 L547.7,178.4 L554.0,184.9 L560.7,191.0 L567.7,196.9 L575.7,201.3 L584.3,204.3 L593.1,205.7 L601.6,206.2 L609.9,206.4 L618.1,206.5 L626.0,206.7" stroke="#a7928b" stroke-width="9.6" fill="none"/><path d="M535.9,159.2 L538.4,167.4 L541.3,175.5 L546.2,183.0 L552.2,189.7 L558.7,196.1 L565.5,202.1 L573.5,206.4 L582.1,209.1 L591.1,209.9 L599.9,209.6 L608.7,208.7 L617.4,207.7 L626.0,206.9" stroke="#95817a" stroke-width="9.6" fill="none"/></g><g filter="url(#bl15)"><path d="M554.1,142.2 L561.3,144.8 L568.3,148.1 L575.2,151.6 L581.9,155.5 L588.5,159.7 L595.0,163.9 L601.5,168.2 L607.4,173.0 L612.4,178.7 L616.7,184.7 L620.6,190.9" stroke="#75605a" stroke-width="2.16" stroke-opacity="0.30" fill="none"/><path d="M539.5,145.4 L547.9,143.7 L557.1,145.8 L566.1,150.1 L574.9,154.8 L583.5,160.1 L592.0,165.5 L600.4,170.8 L608.0,177.0 L614.2,184.1 L619.7,191.5 L623.8,199.5" stroke="#75605a" stroke-width="4.74" stroke-opacity="0.29" fill="none"/><path d="M545.1,145.3 L553.3,146.4 L561.5,150.1 L569.6,154.4 L577.6,159.0 L585.3,164.0 L593.2,168.9 L601.0,173.7 L607.9,179.2 L613.7,185.5 L618.9,191.9 L623.1,198.8" stroke="#eadfda" stroke-width="2.17" stroke-opacity="0.25" fill="none"/><path d="M539.8,149.2 L546.9,149.5 L554.8,152.6 L562.7,157.1 L570.7,161.8 L578.5,166.9 L586.4,172.0 L594.4,176.6 L602.2,181.2 L609.0,186.4 L615.0,191.8 L620.5,197.5" stroke="#75605a" stroke-width="2.83" stroke-opacity="0.25" fill="none"/><path d="M546.4,154.6 L552.3,157.8 L558.5,161.8 L564.7,165.9 L570.9,170.1 L577.1,174.4 L583.5,178.5 L590.2,182.0 L596.8,185.2 L603.0,188.5 L608.6,192.0 L613.8,195.5" stroke="#eadfda" stroke-width="4.59" stroke-opacity="0.14" fill="none"/><path d="M545.4,157.3 L550.9,160.8 L556.8,165.0 L562.7,169.2 L568.8,173.5 L574.8,177.8 L581.1,181.8 L587.7,185.3 L594.3,188.2 L600.7,191.1 L606.5,194.0 L612.0,196.9" stroke="#eadfda" stroke-width="4.04" stroke-opacity="0.28" fill="none"/><path d="M545.1,159.5 L550.5,163.5 L556.3,167.8 L562.3,172.3 L568.3,176.7 L574.3,181.1 L580.8,185.1 L587.5,188.4 L594.3,191.2 L600.7,193.8 L606.7,196.3 L612.4,198.8" stroke="#eadfda" stroke-width="2.96" stroke-opacity="0.22" fill="none"/><path d="M546.4,169.5 L552.3,175.0 L558.6,180.4 L565.0,185.8 L571.7,190.9 L579.0,195.0 L586.8,198.0 L594.6,200.1 L602.0,201.6 L609.2,203.0 L616.1,204.2 L622.6,205.6" stroke="#eadfda" stroke-width="2.37" stroke-opacity="0.13" fill="none"/><path d="M545.8,170.2 L550.4,174.8 L555.4,179.4 L560.6,183.8 L565.8,188.2 L571.3,192.4 L577.3,195.7 L583.6,198.3 L590.1,200.2 L596.4,201.6 L602.5,202.7 L608.4,203.6" stroke="#eadfda" stroke-width="3.87" stroke-opacity="0.27" fill="none"/><path d="M543.2,173.3 L548.5,179.9 L554.7,186.1 L561.1,192.0 L567.9,197.6 L575.5,201.8 L583.8,204.6 L592.2,206.0 L600.5,206.5 L608.5,206.6 L616.4,206.6 L624.1,206.7" stroke="#eadfda" stroke-width="2.35" stroke-opacity="0.33" fill="none"/><path d="M538.6,169.8 L541.9,178.6 L547.3,186.4 L553.7,193.4 L560.6,200.2 L568.2,205.9 L577.0,209.6 L586.4,211.1 L595.9,211.0 L605.3,209.9 L614.6,208.5 L624.0,207.2" stroke="#75605a" stroke-width="4.34" stroke-opacity="0.32" fill="none"/></g><g filter="url(#bl06)"><path d="M542.0,141.4 L551.3,139.1 L560.8,141.2 L569.8,145.1 L578.7,149.5 L587.2,154.6 L595.4,160.1 L603.6,165.6 L610.6,172.5 L616.2,180.5 L620.9,188.9 L624.3,198.0" stroke="#6a5450" stroke-width="0.52" stroke-opacity="0.49" fill="none"/><path d="M539.0,143.1 L547.6,139.8 L557.0,140.5 L566.0,143.9 L574.7,148.1 L583.1,152.8 L591.3,158.0 L599.3,163.3 L606.9,169.2 L613.1,176.4 L618.2,184.4 L622.5,192.8" stroke="#e8dbd6" stroke-width="0.70" stroke-opacity="0.48" fill="none"/><path d="M545.0,141.5 L553.7,141.1 L562.3,144.0 L570.6,147.9 L578.7,152.2 L586.6,157.0 L594.3,162.1 L602.0,167.1 L608.8,173.1 L614.3,180.1 L619.1,187.5 L623.1,195.4" stroke="#e8dbd6" stroke-width="0.84" stroke-opacity="0.32" fill="none"/><path d="M542.3,143.4 L551.1,142.2 L560.1,145.0 L568.8,149.2 L577.4,153.7 L585.7,158.8 L593.9,164.1 L602.0,169.4 L609.1,175.7 L614.9,182.9 L620.0,190.5 L623.9,198.6" stroke="#e8dbd6" stroke-width="1.17" stroke-opacity="0.26" fill="none"/><path d="M543.6,143.8 L552.2,143.7 L561.0,146.9 L569.6,151.2 L578.0,155.8 L586.1,160.9 L594.2,166.1 L602.2,171.3 L609.2,177.4 L615.0,184.4 L620.1,191.7 L623.9,199.5" stroke="#e8dbd6" stroke-width="0.89" stroke-opacity="0.23" fill="none"/><path d="M536.0,146.6 L544.8,144.1 L554.6,145.1 L564.4,149.4 L573.9,154.4 L583.1,160.0 L592.3,165.9 L601.4,171.7 L609.3,178.5 L615.8,186.2 L621.4,194.4 L625.1,203.2" stroke="#6a5450" stroke-width="1.08" stroke-opacity="0.35" fill="none"/><path d="M534.5,147.8 L542.8,146.0 L552.1,146.6 L561.6,150.8 L571.0,155.9 L580.2,161.5 L589.3,167.3 L598.4,172.9 L606.8,179.0 L613.7,186.1 L619.7,193.6 L624.2,201.6" stroke="#e8dbd6" stroke-width="0.88" stroke-opacity="0.43" fill="none"/><path d="M538.6,147.2 L546.7,146.0 L555.7,148.4 L564.6,153.0 L573.5,157.9 L582.1,163.4 L590.7,168.9 L599.4,174.1 L607.2,179.9 L613.7,186.6 L619.5,193.6 L623.9,201.1" stroke="#e8dbd6" stroke-width="0.45" stroke-opacity="0.46" fill="none"/><path d="M538.5,147.7 L546.6,146.8 L555.7,149.6 L564.8,154.3 L573.7,159.4 L582.5,165.1 L591.3,170.6 L600.2,175.8 L608.0,181.8 L614.5,188.5 L620.4,195.5 L624.7,203.0" stroke="#e8dbd6" stroke-width="1.03" stroke-opacity="0.48" fill="none"/><path d="M540.6,148.7 L548.4,149.2 L556.9,152.9 L565.5,157.8 L574.0,163.0 L582.4,168.5 L590.9,173.7 L599.5,178.6 L607.1,184.0 L613.7,189.9 L619.6,196.1 L624.2,202.7" stroke="#e8dbd6" stroke-width="0.53" stroke-opacity="0.51" fill="none"/><path d="M538.0,149.3 L545.4,149.2 L554.0,152.2 L562.7,157.1 L571.4,162.3 L580.0,167.9 L588.7,173.3 L597.5,178.3 L605.6,183.6 L612.5,189.5 L618.8,195.6 L623.7,202.1" stroke="#e8dbd6" stroke-width="0.57" stroke-opacity="0.29" fill="none"/><path d="M538.7,150.0 L546.3,150.6 L555.0,154.4 L563.9,159.6 L572.7,165.1 L581.4,171.0 L590.5,176.3 L599.5,181.3 L607.5,186.7 L614.5,192.5 L620.7,198.5 L625.6,205.1" stroke="#e8dbd6" stroke-width="0.42" stroke-opacity="0.36" fill="none"/><path d="M542.9,151.2 L550.2,153.5 L558.0,158.0 L565.9,162.9 L573.8,168.0 L581.6,173.3 L589.8,178.1 L598.0,182.4 L605.5,187.0 L612.0,191.8 L618.1,196.8 L623.2,202.2" stroke="#6a5450" stroke-width="1.11" stroke-opacity="0.38" fill="none"/><path d="M535.7,151.1 L542.2,151.9 L549.8,154.6 L558.0,159.4 L566.3,164.8 L574.6,170.3 L583.0,175.8 L591.8,180.7 L600.4,185.1 L607.9,189.9 L614.8,194.9 L621.0,200.2" stroke="#6a5450" stroke-width="0.67" stroke-opacity="0.43" fill="none"/><path d="M535.3,151.3 L542.1,152.5 L549.9,155.6 L558.5,160.8 L567.2,166.5 L575.8,172.5 L584.8,178.1 L594.1,182.9 L602.8,187.6 L610.5,192.6 L617.6,197.7 L623.5,203.2" stroke="#6a5450" stroke-width="0.75" stroke-opacity="0.28" fill="none"/><path d="M540.7,153.7 L547.3,156.5 L555.0,161.4 L562.9,166.8 L570.9,172.3 L579.0,177.9 L587.5,182.7 L596.1,186.8 L604.1,190.9 L611.3,195.0 L618.0,199.3 L623.7,203.9" stroke="#e8dbd6" stroke-width="1.04" stroke-opacity="0.52" fill="none"/><path d="M540.4,154.3 L546.3,156.9 L553.1,161.3 L560.2,166.3 L567.4,171.2 L574.6,176.4 L582.1,181.2 L589.9,185.2 L597.8,188.7 L604.9,192.3 L611.4,195.9 L617.6,199.6" stroke="#6a5450" stroke-width="0.51" stroke-opacity="0.36" fill="none"/><path d="M539.5,154.5 L545.8,157.5 L553.4,162.7 L561.5,168.4 L569.6,174.2 L577.9,180.0 L586.7,184.9 L595.7,188.9 L604.0,192.8 L611.5,196.7 L618.6,200.6 L624.6,205.0" stroke="#6a5450" stroke-width="1.03" stroke-opacity="0.29" fill="none"/><path d="M537.5,154.5 L543.0,157.4 L549.7,161.9 L557.2,167.5 L565.0,173.1 L572.7,178.8 L580.9,184.0 L589.6,188.3 L598.1,191.8 L605.9,195.3 L613.2,198.6 L620.0,202.2" stroke="#e8dbd6" stroke-width="1.26" stroke-opacity="0.36" fill="none"/><path d="M535.2,153.5 L540.7,156.6 L547.1,160.7 L554.7,166.3 L562.6,172.1 L570.6,178.1 L578.9,183.7 L587.8,188.2 L596.8,191.9 L605.0,195.4 L612.6,198.7 L619.7,202.2" stroke="#e8dbd6" stroke-width="1.09" stroke-opacity="0.37" fill="none"/><path d="M537.9,155.9 L543.0,159.4 L549.3,164.3 L556.4,169.8 L563.8,175.4 L571.2,181.0 L579.0,186.1 L587.4,190.2 L595.8,193.4 L603.6,196.4 L610.9,199.2 L617.9,202.0" stroke="#6a5450" stroke-width="0.78" stroke-opacity="0.36" fill="none"/><path d="M538.2,157.0 L543.2,161.0 L549.5,166.4 L556.6,172.1 L563.9,177.8 L571.4,183.6 L579.4,188.6 L587.9,192.5 L596.5,195.5 L604.4,198.1 L611.9,200.6 L619.0,203.2" stroke="#e8dbd6" stroke-width="0.66" stroke-opacity="0.24" fill="none"/><path d="M536.3,155.8 L541.4,160.5 L547.8,166.3 L555.5,172.8 L563.6,179.2 L571.8,185.6 L580.9,190.9 L590.4,194.8 L599.7,197.7 L608.3,200.3 L616.6,202.7 L624.0,205.5" stroke="#e8dbd6" stroke-width="0.72" stroke-opacity="0.52" fill="none"/><path d="M537.0,157.1 L541.6,162.0 L547.7,167.9 L554.9,174.2 L562.5,180.4 L570.3,186.5 L578.8,191.7 L587.9,195.6 L596.9,198.3 L605.4,200.5 L613.5,202.6 L621.1,204.7" stroke="#e8dbd6" stroke-width="0.45" stroke-opacity="0.48" fill="none"/><path d="M541.6,163.2 L546.7,168.6 L553.0,174.3 L559.6,179.9 L566.3,185.4 L573.4,190.6 L581.2,194.7 L589.4,197.6 L597.3,199.7 L604.9,201.4 L612.2,203.0 L619.2,204.5" stroke="#e8dbd6" stroke-width="1.28" stroke-opacity="0.23" fill="none"/><path d="M536.1,157.0 L540.7,162.8 L546.5,169.4 L554.0,176.4 L561.9,183.0 L570.1,189.6 L579.2,194.9 L588.9,198.5 L598.5,200.8 L607.5,202.6 L616.2,204.2 L624.3,206.0" stroke="#e8dbd6" stroke-width="1.21" stroke-opacity="0.24" fill="none"/><path d="M536.2,157.6 L540.4,163.9 L545.8,170.8 L552.9,177.7 L560.5,184.4 L568.4,191.0 L577.2,196.3 L586.7,199.9 L596.3,202.0 L605.4,203.4 L614.2,204.6 L622.5,205.9" stroke="#e8dbd6" stroke-width="0.73" stroke-opacity="0.29" fill="none"/><path d="M540.9,166.4 L545.9,172.9 L552.2,179.4 L559.1,185.6 L566.1,191.6 L573.9,196.8 L582.4,200.5 L591.2,202.7 L599.7,204.0 L608.0,204.8 L616.1,205.5 L623.8,206.3" stroke="#e8dbd6" stroke-width="0.96" stroke-opacity="0.55" fill="none"/><path d="M539.0,163.4 L543.1,170.0 L549.0,176.8 L555.7,183.2 L562.8,189.4 L570.2,195.3 L578.6,199.6 L587.5,202.5 L596.4,204.0 L604.9,204.8 L613.2,205.4 L621.2,206.1" stroke="#6a5450" stroke-width="1.03" stroke-opacity="0.44" fill="none"/><path d="M539.6,166.1 L543.7,172.9 L549.3,179.5 L555.7,185.7 L562.4,191.7 L569.4,197.3 L577.4,201.4 L585.9,204.1 L594.5,205.4 L602.8,205.9 L611.0,206.2 L618.9,206.3" stroke="#e8dbd6" stroke-width="0.57" stroke-opacity="0.26" fill="none"/><path d="M539.6,168.0 L543.8,175.5 L549.8,182.6 L556.5,189.2 L563.4,195.5 L571.1,201.0 L579.8,204.7 L589.0,206.6 L598.0,207.2 L606.8,207.2 L615.5,206.9 L623.9,206.8" stroke="#6a5450" stroke-width="0.47" stroke-opacity="0.21" fill="none"/><path d="M538.2,165.1 L541.4,173.1 L546.6,180.6 L553.0,187.5 L559.8,194.0 L567.1,200.2 L575.5,204.6 L584.5,207.2 L593.8,208.1 L602.8,208.0 L611.7,207.5 L620.4,207.0" stroke="#e8dbd6" stroke-width="0.81" stroke-opacity="0.33" fill="none"/><path d="M539.7,170.2 L543.9,178.1 L549.8,185.4 L556.5,192.0 L563.4,198.5 L571.2,203.7 L580.0,207.1 L589.3,208.6 L598.4,208.7 L607.4,208.2 L616.3,207.5 L625.1,206.9" stroke="#6a5450" stroke-width="0.56" stroke-opacity="0.32" fill="none"/><path d="M536.5,161.0 L539.1,169.7 L543.0,178.2 L548.9,185.8 L555.7,192.8 L562.8,199.5 L570.9,204.9 L580.0,208.3 L589.6,209.6 L599.1,209.4 L608.5,208.6 L617.8,207.6" stroke="#e8dbd6" stroke-width="0.77" stroke-opacity="0.41" fill="none"/><path d="M536.4,161.2 L538.8,170.8 L542.5,180.0 L548.4,188.1 L555.3,195.4 L562.5,202.3 L571.0,207.7 L580.5,210.7 L590.5,211.5 L600.5,210.7 L610.3,209.3 L620.2,207.8" stroke="#e8dbd6" stroke-width="1.12" stroke-opacity="0.50" fill="none"/></g><g filter="url(#bl15)"><g fill="none" stroke-linecap="round"><path d="M533.0,145.0 L535.2,144.1 L537.3,143.1 L539.3,142.0 L541.4,141.0 L543.5,140.0 L545.7,139.1 L548.0,138.4 L550.3,138.1 L552.6,138.0 L554.9,138.3 L557.2,138.8 L559.5,139.4 L561.7,140.1 L563.9,141.0 L566.0,141.9 L568.2,142.8 L570.3,143.8 L572.4,144.8 L574.5,145.8 L576.6,146.8 L578.7,147.8 L580.8,149.0 L582.8,150.1 L582.8,150.1 L580.7,151.7 L578.6,153.2 L576.5,154.8 L574.4,156.3 L572.3,157.9 L570.3,159.4 L568.3,160.9 L566.3,162.4 L564.4,163.8 L562.5,165.2 L560.6,166.6 L558.8,167.9 L556.9,169.3 L555.2,170.5 L553.5,171.8 L551.8,173.0 L550.2,174.1 L548.6,175.2 L547.1,176.3 L545.7,177.3 L544.3,178.2 L543.0,179.0 L541.9,179.7 L541.9,179.7 L541.5,178.9 L541.1,178.1 L540.7,177.3 L540.4,176.5 L540.1,175.6 L539.8,174.8 L539.5,173.9 L539.3,173.1 L539.0,172.2 L538.8,171.3 L538.6,170.5 L538.4,169.6 L538.1,168.7 L537.9,167.8 L537.7,167.0 L537.5,166.1 L537.3,165.2 L537.1,164.3 L536.9,163.5 L536.7,162.6 L536.5,161.7 L536.2,160.9 L536.0,160.0 L536.0,160.0 L535.9,159.3 L535.7,158.7 L535.6,158.0 L535.5,157.4 L535.3,156.7 L535.2,156.1 L535.1,155.4 L535.0,154.8 L534.8,154.1 L534.7,153.5 L534.6,152.8 L534.4,152.2 L534.3,151.5 L534.2,150.9 L534.0,150.2 L533.9,149.6 L533.8,148.9 L533.7,148.3 L533.5,147.6 L533.4,147.0 L533.3,146.3 L533.1,145.7 L533.0,145.0 Z" fill="url(#g35)" filter="url(#bl3)"/><path d="M589.5,155.2 L583.6,151.6 L577.7,148.2 L571.5,145.2 L565.2,142.3 L558.8,139.9 L552.1,138.6 L545.4,139.7 L539.2,142.4 L533.0,145.2" stroke="url(#g34)" stroke-width="3.8" stroke-opacity="0.30"/><path d="M592.5,162.5 L586.2,158.4 L579.9,154.5 L573.4,150.8 L566.7,147.5 L560.0,144.4 L553.0,142.1 L546.0,142.1 L539.6,144.1 L533.3,146.4" stroke="url(#g34)" stroke-width="2.9" stroke-opacity="0.66"/><path d="M586.7,160.6 L581.0,156.9 L575.2,153.5 L569.2,150.3 L563.2,147.3 L557.1,144.6 L550.8,142.9 L544.6,143.2 L539.0,145.0 L533.4,146.8" stroke="url(#g34)" stroke-width="1.8" stroke-opacity="0.34"/><path d="M564.1,150.6 L560.6,148.8 L557.1,147.2 L553.5,145.8 L549.9,144.9 L546.3,144.7 L543.0,145.2 L539.9,146.0 L536.7,146.9 L533.5,147.6" stroke="url(#g36)" stroke-width="3.4" stroke-opacity="0.40"/><path d="M579.5,164.0 L574.4,160.7 L569.2,157.6 L563.9,154.6 L558.6,151.7 L553.3,149.1 L547.9,147.5 L543.0,147.3 L538.4,148.0 L533.7,148.6" stroke="url(#g34)" stroke-width="2.1" stroke-opacity="0.65"/><path d="M583.4,169.6 L577.7,165.8 L572.1,162.2 L566.4,158.7 L560.6,155.3 L554.9,152.2 L549.1,149.7 L543.7,148.8 L538.8,149.0 L533.9,149.3" stroke="url(#g34)" stroke-width="3.7" stroke-opacity="0.48"/><path d="M575.5,170.8 L570.6,167.5 L565.7,164.3 L560.7,161.1 L555.8,158.0 L551.0,155.1 L546.3,152.9 L542.0,151.8 L538.1,151.3 L534.2,150.8" stroke="url(#g34)" stroke-width="3.9" stroke-opacity="0.38"/><path d="M561.1,162.9 L557.8,160.7 L554.5,158.6 L551.2,156.6 L547.9,154.8 L544.9,153.5 L542.1,152.7 L539.5,152.2 L536.9,151.7 L534.2,151.2" stroke="url(#g34)" stroke-width="2.6" stroke-opacity="0.50"/><path d="M558.3,165.8 L555.3,163.7 L552.2,161.5 L549.2,159.5 L546.4,157.7 L543.7,156.2 L541.3,155.1 L539.0,154.2 L536.8,153.3 L534.5,152.4" stroke="url(#g34)" stroke-width="2.9" stroke-opacity="0.37"/><path d="M550.7,162.2 L548.5,160.7 L546.5,159.3 L544.5,158.0 L542.7,157.0 L541.0,156.1 L539.4,155.3 L537.8,154.5 L536.2,153.7 L534.6,152.9" stroke="url(#g34)" stroke-width="2.9" stroke-opacity="0.53"/><path d="M566.7,178.1 L562.5,174.9 L558.4,171.8 L554.4,168.7 L550.4,165.5 L546.6,162.5 L543.2,159.9 L540.3,157.7 L537.6,155.8 L534.8,153.8" stroke="url(#g34)" stroke-width="2.8" stroke-opacity="0.37"/><path d="M553.1,172.2 L550.5,170.0 L548.0,167.8 L545.7,165.6 L543.6,163.6 L541.6,161.7 L539.9,159.9 L538.3,158.3 L536.7,156.7 L535.0,155.0" stroke="url(#g34)" stroke-width="2.0" stroke-opacity="0.48"/><path d="M548.7,170.7 L546.7,168.9 L544.9,167.0 L543.2,165.2 L541.6,163.4 L540.3,161.8 L539.0,160.3 L537.7,158.7 L536.5,157.2 L535.1,155.6" stroke="url(#g34)" stroke-width="2.1" stroke-opacity="0.28"/><path d="M549.2,174.0 L547.1,171.9 L545.1,169.8 L543.3,167.7 L541.7,165.7 L540.3,163.8 L539.1,161.9 L537.8,160.0 L536.6,158.2 L535.3,156.3" stroke="url(#g34)" stroke-width="3.5" stroke-opacity="0.31"/><path d="M543.2,170.8 L542.1,169.2 L541.2,167.6 L540.3,166.1 L539.4,164.6 L538.6,163.1 L537.9,161.6 L537.1,160.2 L536.3,158.7 L535.4,157.2" stroke="url(#g34)" stroke-width="2.0" stroke-opacity="0.29"/><path d="M552.0,184.1 L549.3,181.4 L546.8,178.7 L544.5,175.8 L542.5,172.9 L540.8,169.9 L539.4,166.9 L538.1,163.9 L536.9,161.0 L535.6,158.0" stroke="url(#g34)" stroke-width="2.6" stroke-opacity="0.63"/><path d="M552.2,188.6 L549.4,185.7 L546.8,182.7 L544.4,179.6 L542.3,176.3 L540.6,172.9 L539.2,169.4 L538.1,166.0 L537.0,162.5 L535.8,159.0" stroke="url(#g34)" stroke-width="3.1" stroke-opacity="0.45"/><path d="M549.5,188.0 L547.1,185.3 L544.9,182.4 L542.9,179.4 L541.2,176.3 L539.8,173.0 L538.8,169.6 L537.8,166.2 L536.9,162.9 L535.9,159.5" stroke="url(#g34)" stroke-width="2.2" stroke-opacity="0.35"/></g></g></g><path d="M586.0,44.0 C590.7,46.0 596.8,47.0 600.0,50.0 C603.2,53.0 603.3,56.7 605.0,62.0 C606.7,67.3 608.0,75.0 610.0,82.0 C612.0,89.0 614.3,95.7 617.0,104.0 C619.7,112.3 623.5,122.7 626.0,132.0 C628.5,141.3 630.3,150.3 632.0,160.0 C633.7,169.7 635.0,180.8 636.0,190.0 C637.0,199.2 637.3,206.7 638.0,215.0" fill="none" stroke="#8a847e" stroke-width="1"/><path d="M501.0,92.0 C500.3,89.3 499.5,87.7 499.0,84.0 C498.5,80.3 497.8,74.1 498.0,70.0 C498.2,65.9 498.1,62.0 500.0,59.4 C501.9,56.8 504.5,55.9 509.5,54.5 C514.5,53.1 522.4,52.1 530.0,51.0 C537.6,49.9 545.4,49.2 555.0,48.0 C564.6,46.8 579.9,44.5 587.5,44.0 C595.1,43.5 597.6,43.6 600.5,44.8 C603.4,45.9 603.9,47.2 605.0,51.0 C606.1,54.8 606.2,62.6 607.0,67.5 C607.8,72.4 608.7,76.2 610.0,80.5 C611.3,84.8 613.3,89.2 615.0,93.5" fill="none" stroke="#6e6863" stroke-width="1"/><path d="M506.0,70.8 C510.0,72.8 513.9,75.1 518.0,77.0 C522.1,78.9 526.4,80.3 530.6,82.0" fill="none" stroke="#5f5954" stroke-width="1.2"/><path d="M521.0,73.0 C522.7,74.2 524.7,75.4 526.0,76.5 C527.3,77.6 528.0,78.6 529.0,79.7" fill="none" stroke="#5f5954" stroke-width="1.1"/><path d="M558.0,66.7 C556.7,69.1 555.3,71.5 554.0,74.0 C552.7,76.5 551.3,79.3 550.0,82.0" fill="none" stroke="#5f5954" stroke-width="1.2"/><path d="M552.0,83.8 C553.0,85.2 554.2,86.6 555.0,88.0 C555.8,89.4 556.1,90.7 556.6,92.0" fill="none" stroke="#5f5954" stroke-width="1.1"/><path d="M534.0,88.6 C534.3,90.1 534.8,91.4 535.0,93.0 C535.2,94.6 535.3,96.6 535.5,98.4" fill="none" stroke="#5f5954" stroke-width="1.0"/><path d="M527.0,85.4 C531.3,84.9 535.8,84.3 540.0,84.0 C544.2,83.7 548.0,83.8 552.0,83.8" fill="none" stroke="#5f5954" stroke-width="1.0"/><path d="M505.0,72.0 C507.5,70.7 515.5,78.0 520.0,80.0 C524.5,82.0 527.3,83.5 532.0,84.0 C536.7,84.5 544.0,83.7 548.0,83.0 C552.0,82.3 554.0,82.2 556.0,80.0 C558.0,77.8 560.0,68.3 560.0,70.0 C560.0,71.7 559.3,86.7 556.0,90.0 C552.7,93.3 546.0,89.7 540.0,90.0 C534.0,90.3 525.8,92.3 520.0,92.0 C514.2,91.7 507.5,91.3 505.0,88.0 C502.5,84.7 502.5,73.3 505.0,72.0 Z" fill="#cfcbc6" opacity="0.5" filter="url(#bl3)"/><path d="M516.0,51.5 C522.3,51.2 528.5,50.8 535.0,50.5 C541.5,50.2 548.3,49.8 555.0,49.5" fill="none" stroke="#b89387" stroke-width="2.6"/><path d="M519.0,61.0 C521.7,60.0 524.2,58.8 527.0,58.0 C529.8,57.2 533.8,54.7 535.5,56.0 C537.2,57.3 536.9,62.8 537.5,66.0 C538.1,69.2 538.6,72.3 539.0,75.0 C539.4,77.7 539.7,79.7 540.0,82.0" fill="none" stroke="#d8b3a1" stroke-width="2.2"/><path d="M519.0,100.0 C520.3,97.3 521.7,94.4 523.0,92.0 C524.3,89.6 524.2,86.7 527.0,85.4 C529.8,84.1 535.8,84.3 540.0,84.0 C544.2,83.7 548.0,83.8 552.0,83.8" fill="none" stroke="#dcbfad" stroke-width="2"/><path d="M472.5,101.0 C473.3,97.9 474.6,96.2 477.5,95.0 C480.4,93.8 485.8,93.6 490.0,93.8 C494.2,93.9 498.3,95.0 502.5,96.0 C506.7,97.0 511.7,98.9 515.0,100.0 C518.3,101.1 518.3,100.8 522.5,102.5 C526.7,104.2 534.4,107.4 540.0,110.0 C545.6,112.6 552.3,115.0 556.0,118.0 C559.7,121.0 563.3,123.3 562.0,128.0 C560.7,132.7 552.5,141.5 548.0,146.0 C543.5,150.5 538.4,153.9 535.0,155.0 C531.6,156.1 530.0,153.3 527.5,152.5 C525.0,151.7 522.1,151.2 520.0,150.0 C517.9,148.8 516.2,146.8 515.0,145.0 C513.8,143.2 513.5,140.5 512.5,139.0 C511.5,137.5 511.1,136.7 509.0,136.0 C506.9,135.3 503.2,135.8 500.0,135.0 C496.8,134.2 492.9,132.2 490.0,131.0 C487.1,129.8 484.8,129.2 482.5,127.5 C480.2,125.8 477.7,123.3 476.0,121.0 C474.3,118.7 473.1,117.1 472.5,113.8 C471.9,110.4 471.7,104.1 472.5,101.0 Z" fill="url(#g37)"/><path d="M535.0,155.0 C532.5,154.2 530.0,153.3 527.5,152.5 C525.0,151.7 522.1,151.2 520.0,150.0 C517.9,148.8 516.2,146.8 515.0,145.0 C513.8,143.2 513.5,140.5 512.5,139.0 C511.5,137.5 511.1,136.7 509.0,136.0 C506.9,135.3 503.2,135.8 500.0,135.0 C496.8,134.2 492.9,132.2 490.0,131.0 C487.1,129.8 484.8,129.2 482.5,127.5 C480.2,125.8 477.7,123.3 476.0,121.0 C474.3,118.7 473.1,117.1 472.5,113.8 C471.9,110.4 471.7,104.1 472.5,101.0 C473.3,97.9 474.6,96.2 477.5,95.0 C480.4,93.8 485.8,93.6 490.0,93.8 C494.2,93.9 498.3,95.0 502.5,96.0 C506.7,97.0 511.7,98.9 515.0,100.0 C518.3,101.1 520.0,101.7 522.5,102.5" fill="none" stroke="#4f4a46" stroke-width="1.6"/><path d="M484.0,97.5 C486.3,99.7 489.7,100.9 491.0,104.0 C492.3,107.1 492.6,113.2 492.0,116.0 C491.4,118.8 489.0,119.3 487.5,121.0" fill="none" stroke="#4f4a46" stroke-width="1.2"/><path d="M478.0,100.0 C479.3,97.9 481.8,96.8 484.0,97.5 C486.2,98.2 489.7,100.9 491.0,104.0 C492.3,107.1 492.6,113.2 492.0,116.0 C491.4,118.8 489.5,120.5 487.5,121.0 C485.5,121.5 481.9,120.8 480.0,119.0 C478.1,117.2 476.3,113.2 476.0,110.0 C475.7,106.8 476.7,102.1 478.0,100.0 Z" fill="#dedbd6" opacity="0.6"/><path d="M506.0,104.0 C503.7,106.0 500.2,106.9 499.0,110.0 C497.8,113.1 498.0,119.2 499.0,122.5 C500.0,125.8 502.3,127.9 505.0,130.0 C507.7,132.1 511.7,133.3 515.0,135.0" fill="none" stroke="#5a5550" stroke-width="1.2"/><path d="M478.0,120.0 C479.3,120.2 485.5,125.8 490.0,128.0 C494.5,130.2 500.8,131.0 505.0,133.0 C509.2,135.0 512.2,137.2 515.0,140.0 C517.8,142.8 522.8,150.0 522.0,150.0 C521.2,150.0 514.5,142.8 510.0,140.0 C505.5,137.2 499.7,135.2 495.0,133.0 C490.3,130.8 484.8,129.2 482.0,127.0 C479.2,124.8 476.7,119.8 478.0,120.0 Z" fill="#bdb8b2" opacity="0.5" filter="url(#bl15)"/><path d="M493.0,64.0 C493.7,61.3 493.8,57.9 495.0,56.0 C496.2,54.1 496.7,53.5 500.0,52.5 C503.3,51.5 509.7,50.8 515.0,50.0 C520.3,49.2 526.0,48.7 532.0,48.0 C538.0,47.3 544.7,46.7 551.0,46.0 C557.3,45.3 564.3,44.8 570.0,44.0 C575.7,43.2 580.5,41.8 585.0,41.0 C589.5,40.2 593.3,38.2 597.0,39.5 C600.7,40.8 604.8,43.6 607.0,48.5 C609.2,53.4 608.7,62.6 610.0,69.0 C611.3,75.4 612.7,80.3 615.0,87.0 C617.3,93.7 621.3,101.5 624.0,109.0 C626.7,116.5 629.0,124.5 631.0,132.0 C633.0,139.5 634.5,145.8 636.0,154.0 C637.5,162.2 638.8,170.8 640.0,181.0 C641.2,191.2 642.0,203.7 643.0,215.0" fill="none" stroke="#5f5a56" stroke-width="1.5"/><path d="M569.0,215.0 C567.7,211.0 566.5,205.8 565.0,203.0 C563.5,200.2 562.5,200.3 560.0,198.0 C557.5,195.7 553.0,192.5 550.0,189.0 C547.0,185.5 544.3,181.2 542.0,177.0 C539.7,172.8 537.5,168.0 536.0,164.0 C534.5,160.0 534.0,156.7 533.0,153.0" fill="none" stroke="#5f5a56" stroke-width="1.5"/><path d="M501.0,94.0 C499.7,91.3 498.2,88.8 497.0,86.0 C495.8,83.2 494.7,80.7 494.0,77.0 C493.3,73.3 493.3,68.3 493.0,64.0" fill="none" stroke="#5f5a56" stroke-width="1.5"/><path d="M535.0,55.0 C533.3,54.7 531.8,53.9 530.0,54.0 C528.2,54.1 526.0,55.0 524.0,55.5" fill="none" stroke="#8a94a8" stroke-width="2.6" stroke-linecap="round" stroke-linejoin="round" stroke-opacity="1"/><path d="M535.0,55.0 C533.3,54.7 531.8,53.9 530.0,54.0 C528.2,54.1 526.0,55.0 524.0,55.5" fill="none" stroke="#b8c2d8" stroke-width="1.8" stroke-linecap="round" stroke-linejoin="round" stroke-opacity="1"/><path d="M572.0,82.0 C570.0,85.3 568.4,89.0 566.0,92.0 C563.6,95.0 561.0,96.8 557.5,100.0 C554.0,103.2 549.2,108.3 545.0,111.0 C540.8,113.7 536.3,114.3 532.0,116.0" fill="none" stroke="#6a6e77" stroke-width="5.5" stroke-linecap="round" stroke-linejoin="round" stroke-opacity="1"/><path d="M572.0,82.0 C570.0,85.3 568.4,89.0 566.0,92.0 C563.6,95.0 561.0,96.8 557.5,100.0 C554.0,103.2 549.2,108.3 545.0,111.0 C540.8,113.7 536.3,114.3 532.0,116.0" fill="none" stroke="#a3a7b0" stroke-width="3.5" stroke-linecap="round" stroke-linejoin="round" stroke-opacity="1"/><path d="M552.0,121.0 C559.7,124.7 568.2,126.8 575.0,132.0 C581.8,137.2 586.8,148.0 593.0,152.0 C599.2,156.0 606.3,155.3 612.0,156.0 C617.7,156.7 622.0,156.0 627.0,156.0" fill="none" stroke="#6a6e77" stroke-width="5.5" stroke-linecap="round" stroke-linejoin="round" stroke-opacity="1"/><path d="M552.0,121.0 C559.7,124.7 568.2,126.8 575.0,132.0 C581.8,137.2 586.8,148.0 593.0,152.0 C599.2,156.0 606.3,155.3 612.0,156.0 C617.7,156.7 622.0,156.0 627.0,156.0" fill="none" stroke="#a3a7b0" stroke-width="3.5" stroke-linecap="round" stroke-linejoin="round" stroke-opacity="1"/><path d="M606.0,159.0 C609.0,170.0 612.3,182.8 615.0,192.0 C617.7,201.2 619.7,206.7 622.0,214.0" fill="none" stroke="#6a6e77" stroke-width="5.5" stroke-linecap="round" stroke-linejoin="round" stroke-opacity="1"/><path d="M606.0,159.0 C609.0,170.0 612.3,182.8 615.0,192.0 C617.7,201.2 619.7,206.7 622.0,214.0" fill="none" stroke="#a3a7b0" stroke-width="3.5" stroke-linecap="round" stroke-linejoin="round" stroke-opacity="1"/><path d="M597.0,73.0 C602.3,79.7 608.5,84.3 613.0,93.0 C617.5,101.7 621.3,114.5 624.0,125.0 C626.7,135.5 627.8,144.8 629.0,156.0 C630.2,167.2 630.8,182.2 631.0,192.0 C631.2,201.8 630.3,207.3 630.0,215.0" fill="none" stroke="#a3945f" stroke-width="3.8000000000000003" stroke-linecap="round" stroke-linejoin="round" stroke-opacity="1"/><path d="M597.0,73.0 C602.3,79.7 608.5,84.3 613.0,93.0 C617.5,101.7 621.3,114.5 624.0,125.0 C626.7,135.5 627.8,144.8 629.0,156.0 C630.2,167.2 630.8,182.2 631.0,192.0 C631.2,201.8 630.3,207.3 630.0,215.0" fill="none" stroke="#ebdfaf" stroke-width="2.2" stroke-linecap="round" stroke-linejoin="round" stroke-opacity="1"/><path d="M515.0,105.0 C518.3,108.0 521.7,111.9 525.0,114.0 C528.3,116.1 530.4,116.5 535.0,117.5 C539.6,118.5 547.5,119.2 552.5,120.0 C557.5,120.8 561.2,119.0 565.0,122.5 C568.8,126.0 569.7,134.6 575.0,141.0 C580.3,147.4 590.3,154.7 597.0,161.0 C603.7,167.3 609.7,171.5 615.0,179.0 C620.3,186.5 624.3,197.0 629.0,206.0" fill="none" stroke="#a3945f" stroke-width="3.8000000000000003" stroke-linecap="round" stroke-linejoin="round" stroke-opacity="1"/><path d="M515.0,105.0 C518.3,108.0 521.7,111.9 525.0,114.0 C528.3,116.1 530.4,116.5 535.0,117.5 C539.6,118.5 547.5,119.2 552.5,120.0 C557.5,120.8 561.2,119.0 565.0,122.5 C568.8,126.0 569.7,134.6 575.0,141.0 C580.3,147.4 590.3,154.7 597.0,161.0 C603.7,167.3 609.7,171.5 615.0,179.0 C620.3,186.5 624.3,197.0 629.0,206.0" fill="none" stroke="#ebdfaf" stroke-width="2.2" stroke-linecap="round" stroke-linejoin="round" stroke-opacity="1"/><path d="M525.0,115.0 C523.3,117.5 521.0,119.6 520.0,122.5 C519.0,125.4 518.6,129.8 519.0,132.5 C519.4,135.2 521.3,136.8 522.5,139.0" fill="none" stroke="#a3945f" stroke-width="3.6" stroke-linecap="round" stroke-linejoin="round" stroke-opacity="1"/><path d="M525.0,115.0 C523.3,117.5 521.0,119.6 520.0,122.5 C519.0,125.4 518.6,129.8 519.0,132.5 C519.4,135.2 521.3,136.8 522.5,139.0" fill="none" stroke="#ebdfaf" stroke-width="2.0" stroke-linecap="round" stroke-linejoin="round" stroke-opacity="1"/><path d="M506.0,126.0 C508.0,127.3 509.8,128.5 512.0,130.0 C514.2,131.5 516.7,133.3 519.0,135.0" fill="none" stroke="#a3945f" stroke-width="3.2" stroke-linecap="round" stroke-linejoin="round" stroke-opacity="1"/><path d="M506.0,126.0 C508.0,127.3 509.8,128.5 512.0,130.0 C514.2,131.5 516.7,133.3 519.0,135.0" fill="none" stroke="#ebdfaf" stroke-width="1.8" stroke-linecap="round" stroke-linejoin="round" stroke-opacity="1"/><path d="M552.5,120.0 C554.3,117.7 555.9,115.3 558.0,113.0 C560.1,110.7 562.7,108.3 565.0,106.0" fill="none" stroke="#a3945f" stroke-width="3.6" stroke-linecap="round" stroke-linejoin="round" stroke-opacity="1"/><path d="M552.5,120.0 C554.3,117.7 555.9,115.3 558.0,113.0 C560.1,110.7 562.7,108.3 565.0,106.0" fill="none" stroke="#ebdfaf" stroke-width="2.0" stroke-linecap="round" stroke-linejoin="round" stroke-opacity="1"/><path d="M545.0,182.0 C548.3,186.3 551.7,191.5 555.0,195.0 C558.3,198.5 561.7,200.3 565.0,203.0" fill="none" stroke="#a3945f" stroke-width="3.2" stroke-linecap="round" stroke-linejoin="round" stroke-opacity="1"/><path d="M545.0,182.0 C548.3,186.3 551.7,191.5 555.0,195.0 C558.3,198.5 561.7,200.3 565.0,203.0" fill="none" stroke="#ebdfaf" stroke-width="1.8" stroke-linecap="round" stroke-linejoin="round" stroke-opacity="1"/><text x="244.0" y="125" font-size="34.5" textLength="96.1" lengthAdjust="spacingAndGlyphs">Biceps</text><text x="248.0" y="163" font-size="34.0" textLength="108.0" lengthAdjust="spacingAndGlyphs">Tendon</text><text x="215.6" y="275" font-size="21" textLength="57.4" lengthAdjust="spacingAndGlyphs">Biceps</text><text x="416.2" y="266.8" font-size="19.5" textLength="91.8" lengthAdjust="spacingAndGlyphs">Musculato-</text><text x="423.6" y="287.1" font-size="19.5" textLength="73.1" lengthAdjust="spacingAndGlyphs">custoual</text><text x="429.2" y="306.6" font-size="19.5" textLength="47.2" lengthAdjust="spacingAndGlyphs">nerve</text><text x="668.4" y="208" font-size="19.5" textLength="122.0" lengthAdjust="spacingAndGlyphs">Brachial aıstoul</text><text x="668.8" y="227.6" font-size="19.5" textLength="44.7" lengthAdjust="spacingAndGlyphs">nerve</text><text x="670.9" y="299.4" font-size="19" textLength="59.5" lengthAdjust="spacingAndGlyphs">Median</text><text x="671.8" y="319" font-size="19" textLength="44.7" lengthAdjust="spacingAndGlyphs">nerve</text><text x="671.6" y="489.6" font-size="22.5" textLength="42.7" lengthAdjust="spacingAndGlyphs">Ulna</text><text x="613.9" y="587.6" font-size="19" textLength="66.6" lengthAdjust="spacingAndGlyphs">Brachial</text><text x="613.5" y="608" font-size="19" textLength="51.5" lengthAdjust="spacingAndGlyphs">Artery</text><text x="159.4" y="630.25" font-size="21" textLength="59.6" lengthAdjust="spacingAndGlyphs">Radius</text><text x="346.9" y="679.75" font-size="20.5" textLength="58.7" lengthAdjust="spacingAndGlyphs">Radius</text><text x="514.0" y="703.75" font-size="21.5" textLength="41.2" lengthAdjust="spacingAndGlyphs">Ulna</text><line x1="221.5" y1="283" x2="173" y2="333" stroke="#1a1a1a" stroke-width="1.3"/><line x1="505" y1="281.5" x2="583" y2="308" stroke="#1a1a1a" stroke-width="1.3"/><line x1="470" y1="316" x2="526" y2="384" stroke="#1a1a1a" stroke-width="1.3"/><line x1="663.5" y1="302" x2="610" y2="318" stroke="#1a1a1a" stroke-width="1.3"/><line x1="665" y1="486" x2="583" y2="490" stroke="#1a1a1a" stroke-width="1.3"/><line x1="607" y1="588" x2="584" y2="600" stroke="#1a1a1a" stroke-width="1.3"/><line x1="283" y1="526" x2="205" y2="608" stroke="#1a1a1a" stroke-width="1.3"/><line x1="427.7" y1="557.6" x2="379.75" y2="652.7" stroke="#1a1a1a" stroke-width="1.3"/><line x1="524" y1="571" x2="538.5" y2="681" stroke="#1a1a1a" stroke-width="1.3"/><line x1="561" y1="694.5" x2="640" y2="678.5" stroke="#1a1a1a" stroke-width="1.3"/><line x1="661" y1="206" x2="590" y2="237" stroke="#1a1a1a" stroke-width="1.3"/>
</svg>
</body></html>
